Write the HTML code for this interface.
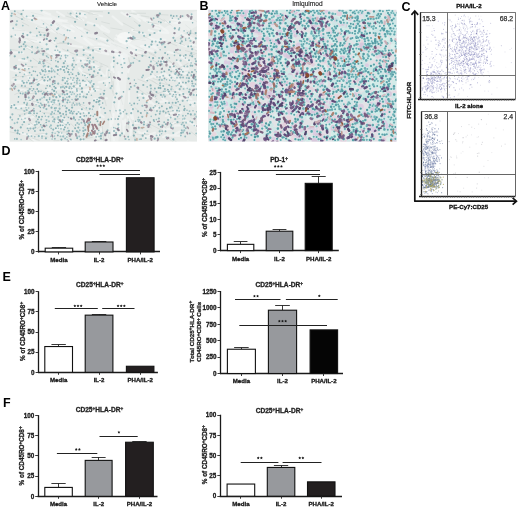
<!DOCTYPE html><html><head><meta charset="utf-8"><style>html,body{margin:0;padding:0;background:#fff;width:520px;height:510px;overflow:hidden}svg{display:block;filter:blur(0.35px)}text{font-family:"Liberation Sans",sans-serif}</style></head><body>
<svg width="520" height="510" viewBox="0 0 520 510">
<rect width="520" height="510" fill="#fff"/>
<defs><filter id="bl" x="-5%" y="-5%" width="110%" height="110%"><feGaussianBlur stdDeviation="0.55"/></filter><filter id="bl2" x="-5%" y="-5%" width="110%" height="110%"><feGaussianBlur stdDeviation="0.3"/></filter></defs>
<clipPath id="cA"><rect x="9.6" y="9.8" width="187.4" height="131.79999999999998"/></clipPath>
<rect x="9.6" y="9.8" width="187.4" height="131.79999999999998" fill="#eef0ef"/>
<g clip-path="url(#cA)"><g filter="url(#bl)">
<rect x="9.6" y="9.8" width="187.4" height="131.79999999999998" fill="#e6eae8"/>
<path d="M147.6 99.0l4.3 3.9M14.6 36.0l8.9 4.4M160.6 101.8l6.4 -0.6M168.4 89.4l9.5 6.6M165.0 91.3l7.8 6.5M24.6 40.5l7.5 0.5M59.6 133.3l9.8 3.8M195.0 94.2l10.9 2.6M68.7 45.1l13.3 2.0M181.0 70.3l7.1 -1.5M84.4 38.7l7.3 6.2M158.0 65.4l7.4 -4.1M11.8 104.8l9.0 4.0M94.6 135.5l5.6 4.8M65.5 94.0l6.1 2.0M9.7 52.5l13.4 0.2M174.1 134.6l8.4 -4.3M98.7 82.3l12.6 -2.6M47.3 50.9l8.3 7.0M73.0 87.3l6.8 -1.8M170.7 19.1l10.9 1.8M98.2 113.2l5.5 3.9M146.2 98.5l3.8 4.5M45.2 68.9l7.5 0.2M112.7 16.5l9.6 8.1M100.6 38.0l5.3 1.5M94.9 65.6l9.4 10.4M191.1 86.1l11.5 2.5M39.1 136.4l5.9 -3.1M176.4 42.3l9.7 4.3M47.9 104.2l8.3 -2.1M23.2 70.2l8.7 10.9M174.7 125.7l6.4 -0.3M132.2 10.8l6.5 4.2M29.7 82.7l10.3 -2.0M101.2 129.1l-0.5 5.8M129.0 44.3l8.7 4.9M179.0 81.7l8.1 6.2M158.8 123.2l5.0 4.7M85.8 91.6l12.5 -4.8M14.2 106.9l13.3 -1.4M157.2 24.0l10.4 7.3M158.6 39.8l6.7 0.1M129.8 62.5l-1.6 9.7M190.0 44.8l8.9 0.7M81.8 85.8l11.1 -2.5M148.6 98.2l5.6 -0.3M144.5 49.4l8.5 1.9M185.8 99.1l7.7 7.2M90.2 86.2l8.5 3.4M158.8 32.2l9.6 0.6M135.7 39.4l5.2 0.7M87.3 92.8l10.7 -3.4M150.3 111.3l8.0 -3.8M56.3 121.6l12.2 1.0M176.7 90.5l8.5 4.4M98.6 44.0l10.6 1.8M24.1 47.5l7.7 1.5M142.0 18.3l9.5 2.8M119.1 101.5l-1.1 11.8M169.5 135.5l11.7 0.3M91.3 13.6l10.8 2.6M126.2 13.4l9.7 2.7M19.0 59.8l7.9 1.2M56.9 20.6l9.9 0.1M131.7 109.2l-1.0 6.7M115.3 38.5l10.5 5.6M163.1 137.0l4.7 -2.2M143.6 19.8l9.4 4.9M32.3 139.5l6.8 4.4M168.8 118.2l12.3 -5.8M147.1 137.0l12.0 -2.4M59.9 122.1l4.6 3.5M80.6 13.6l5.5 3.7M141.0 46.2l13.5 0.1M139.0 94.9l12.0 1.6M118.6 72.2l0.9 8.8M56.7 25.7l6.0 0.8M100.3 105.3l-1.6 9.6M43.2 11.7l7.0 2.7M172.3 74.5l7.7 6.6M186.0 72.8l6.9 5.1M115.1 49.8l4.7 3.9M107.5 69.2l2.0 12.6M148.3 134.7l6.6 -2.0M10.1 69.2l7.3 2.2M138.4 131.6l8.9 5.8M131.0 129.5l-0.4 5.6M63.7 26.2l10.0 5.2M17.1 66.7l7.2 -0.8M187.8 141.5l6.8 2.9M181.3 33.7l9.8 4.3M135.2 122.8l11.2 -1.2M94.8 51.3l13.4 3.1M111.3 64.3l2.5 7.9M112.5 132.1l1.8 11.1M39.3 82.4l5.7 1.3M165.5 75.5l8.5 4.4M112.9 60.4l-1.3 9.5M87.4 132.9l12.2 2.0M101.4 29.4l7.5 3.0M45.0 101.7l6.9 1.8M161.7 60.7l11.4 4.8M120.2 124.4l-0.9 8.9M132.3 30.1l13.0 4.4M169.3 123.1l7.8 -0.2M22.4 93.0l9.9 9.8M173.1 68.3l11.9 5.6M36.9 79.8l11.8 3.0M54.7 130.1l8.5 -3.4M178.5 99.1l8.4 -3.2M56.5 121.2l8.1 -2.5M195.6 48.7l8.5 6.9M18.8 89.7l13.0 1.9M128.9 91.6l0.2 11.5M130.7 50.5l9.7 3.1M42.5 27.2l12.8 5.1M164.1 73.3l9.6 6.7M190.7 123.2l12.2 6.5M12.2 80.5l11.0 0.9M29.9 40.6l13.0 0.2M164.0 129.7l8.6 -1.3M27.8 126.7l8.4 -3.5M148.7 30.2l5.6 1.7M79.0 68.2l8.6 9.3M76.8 62.3l5.8 -1.9M121.5 12.6l6.1 3.8M48.4 38.3l6.5 4.6M36.7 26.9l6.5 1.1M54.2 52.5l5.4 0.7M155.4 77.4l8.6 -4.0M107.3 70.2l-0.9 5.5M180.1 19.5l10.5 0.6M70.5 140.9l8.9 1.8M131.6 111.1l-0.1 6.9M87.6 22.3l10.5 3.2M165.5 22.1l11.6 0.8M71.4 25.9l10.7 2.7M122.1 56.1l0.5 6.9M78.5 110.3l11.8 3.2M130.0 13.3l9.9 7.5M73.3 10.6l8.3 5.8M149.4 38.2l7.7 2.3M25.5 16.7l10.5 1.2M92.4 45.8l5.2 3.0M134.6 15.8l10.0 2.8M57.5 53.0l11.7 0.1M165.8 116.1l11.2 -6.0M117.5 85.4l-0.0 8.8M125.4 119.5l-0.8 5.7M83.8 50.7l7.8 1.9M179.4 55.8l10.8 6.0M122.5 110.0l0.2 6.6M93.7 131.6l10.4 2.6M22.4 68.1l7.4 -1.1M20.3 119.4l11.3 -6.0M113.5 114.2l-1.1 9.0M37.9 18.0l13.1 0.9M56.0 67.5l9.7 0.6M73.0 88.6l9.0 6.0M145.2 96.3l9.3 8.9M190.9 101.9l10.4 -0.1M162.0 98.1l9.3 7.0M77.4 57.6l6.9 0.9M24.1 121.1l10.8 -5.2M153.2 27.1l6.2 1.7M91.6 64.0l6.5 2.9M109.7 50.6l7.8 4.9M96.1 46.9l9.4 2.6M56.5 94.3l7.6 6.5M152.6 45.8l5.1 3.7M75.1 13.3l9.5 0.4M184.0 120.4l11.3 4.4M35.6 102.8l5.0 0.4M145.9 79.4l6.9 -3.2M95.3 24.4l8.4 6.1M90.0 90.8l8.5 -2.1M108.2 76.7l-1.7 9.8M57.1 11.9l6.9 4.2M71.9 15.6l11.4 4.6M128.0 116.8l4.5 11.1M17.5 132.8l13.7 2.4M76.5 112.7l6.1 5.1M177.3 60.8l6.2 7.2M145.9 20.2l11.3 5.1M67.0 89.2l11.2 0.4M196.7 46.0l10.5 8.6M136.9 135.4l9.7 -3.9M78.2 60.3l10.1 2.6M117.2 79.6l2.0 10.7M82.1 83.8l7.2 -1.5M101.7 26.0l7.5 5.1M168.1 51.9l5.4 1.3M183.4 93.8l8.0 5.3M14.5 82.8l12.2 -0.6M196.9 104.5l11.7 2.2M93.9 99.4l12.9 -1.1M90.7 129.8l5.3 -3.0M74.4 133.8l9.3 8.5M66.3 80.1l6.4 1.0M123.0 120.8l1.0 12.4M131.6 110.9l1.8 10.6M100.1 115.9l0.1 7.7M47.8 89.8l11.4 -1.5M79.0 83.8l9.1 -1.1M81.6 90.9l12.5 -2.9M152.6 75.5l9.3 1.6M190.8 38.2l5.3 1.3M110.2 121.5l2.1 12.8M116.5 35.5l5.2 2.1" stroke="#eff2f1" stroke-width="2.2" stroke-linecap="round" fill="none"/>
<path d="M129.4 13.1l6.9 1.3M88.7 13.7l9.4 1.5M50.9 87.5l4.1 2.9M189.0 54.2l5.9 0.4M110.1 138.1l1.9 9.8M141.6 15.8l7.5 1.2M128.7 57.9l1.4 6.8M41.7 105.9l7.9 -2.9M167.6 112.1l5.1 -1.3M173.8 51.3l7.7 3.8M114.8 44.4l12.0 5.2M26.6 16.0l10.6 0.8M196.3 79.5l8.3 9.6M59.6 94.3l8.1 -3.7M103.4 33.3l10.3 7.7M152.5 80.9l8.2 5.3M174.3 119.4l5.5 -0.8M22.6 110.0l5.3 3.2M88.9 37.7l10.8 4.3M91.7 78.0l6.4 -2.9M22.9 93.0l12.7 -3.3M49.7 27.2l8.0 6.2M27.8 66.6l9.2 0.3M85.1 54.5l6.0 4.1M56.4 131.5l12.7 0.8M191.2 131.9l5.1 4.0M80.6 139.7l11.8 -2.4M113.8 104.5l2.5 7.3M20.3 86.8l12.5 1.9M121.1 98.8l1.7 5.8M88.2 86.7l13.2 2.5M135.5 49.3l11.5 2.6M23.3 37.9l13.2 2.5M165.8 102.5l13.2 4.3M133.9 133.6l2.0 5.7M144.1 36.6l6.7 3.2M89.0 46.3l11.9 0.0M89.7 11.1l12.9 0.7M37.4 26.6l12.8 2.8M56.4 23.3l11.1 6.7M171.6 138.5l10.6 7.5M159.9 123.7l6.0 4.3M51.3 117.4l7.7 0.7M71.1 123.7l5.0 5.6M185.6 25.0l5.1 4.2M146.1 51.1l8.8 4.0M9.9 131.8l11.2 2.4M134.1 53.3l12.3 2.8M85.0 48.8l8.7 0.8M66.0 82.0l6.3 -4.3M92.5 38.0l12.4 4.3M128.2 54.0l9.9 6.4M55.5 72.4l4.4 3.5M102.2 42.0l4.5 2.2M42.6 136.1l5.4 1.0M134.7 140.0l0.9 13.5M165.2 82.0l8.6 7.9M153.1 78.5l7.0 2.5M110.8 28.0l11.1 1.8M87.5 37.1l12.6 3.8M80.9 10.6l11.4 2.9M111.9 89.3l2.0 6.7M85.4 31.6l5.8 2.0M14.7 94.5l8.4 -3.5M152.3 59.8l10.8 6.3M197.0 55.9l10.8 5.3M13.4 29.9l11.0 1.0M41.0 89.8l5.2 3.0M68.1 99.1l5.7 6.4M28.7 111.6l8.1 6.5M89.9 58.6l7.6 2.8M128.7 119.0l-0.0 8.9M110.5 73.5l1.8 11.4M174.8 41.9l9.9 3.4M49.4 115.0l12.9 -1.2M25.6 104.7l11.7 1.6M27.0 39.0l6.9 3.6M149.4 53.4l6.6 3.5M110.0 110.3l2.1 6.6M62.6 23.0l7.0 1.0M192.2 82.7l5.5 2.6M97.6 67.9l5.2 -1.7M23.5 92.8l5.5 -3.1M152.9 89.7l5.9 3.9M195.1 50.0l9.5 4.4M133.4 30.5l5.6 0.7M53.0 103.0l8.2 4.0M133.5 132.9l1.6 9.8M40.7 50.3l8.8 5.1M186.3 75.8l5.7 0.8M26.7 136.6l8.1 6.2M17.1 109.5l10.8 1.1M101.7 21.8l7.8 1.9M63.6 134.4l8.1 5.8M85.3 77.6l6.9 8.4M151.4 92.2l5.9 3.5M32.4 138.1l6.8 2.2M195.5 130.1l6.0 0.6M60.8 119.8l4.6 5.5M174.4 123.7l11.9 -2.2M62.6 49.1l12.8 5.6M113.0 81.4l1.2 7.8M154.9 15.6l9.8 5.7M193.4 75.1l8.1 -4.9M108.2 70.0l-0.1 8.7M73.0 101.1l11.8 4.6M144.3 109.9l4.0 3.5M149.5 67.0l9.6 -4.7M18.2 114.7l8.3 -1.3M41.5 20.2l8.7 6.1M57.2 43.5l12.2 0.1M74.4 87.2l8.3 3.1M100.2 41.1l9.4 4.0M61.0 84.4l10.6 4.9M63.2 115.1l7.8 2.5M133.1 120.3l0.6 13.1M146.8 21.7l11.5 2.4M109.1 130.2l-0.6 7.3M73.1 25.0l4.9 3.9M190.9 115.8l12.1 -0.6M135.6 86.8l10.8 8.0M114.8 130.4l1.6 5.3M35.8 134.5l9.3 -1.3M135.2 107.7l6.0 6.4M101.3 63.6l-0.8 5.2M28.2 100.2l13.5 3.0M168.5 69.7l9.9 4.1M33.2 84.2l10.4 -5.7M37.3 128.5l10.5 -7.1M133.5 13.2l12.1 0.1M148.6 79.1l8.1 4.6M186.8 15.5l10.9 6.7M99.4 62.7l8.6 3.9M21.9 46.0l9.0 4.3M123.1 22.9l11.2 6.0M94.2 39.9l8.8 2.1M79.7 29.9l4.5 3.4M161.7 83.1l9.7 2.8M150.2 124.2l12.2 6.4M132.7 39.4l12.6 1.0M168.0 138.2l8.5 6.2M59.7 33.6l6.9 3.7M84.7 28.5l4.8 2.3M78.9 104.9l8.5 5.4M135.9 45.7l8.4 4.2M90.2 47.1l8.3 4.3M11.0 49.5l6.2 0.9M42.5 59.9l8.4 4.5M17.5 12.3l10.2 7.7M31.2 12.5l11.9 2.8M167.9 41.9l8.9 3.9M41.1 77.1l8.7 -4.0M162.3 40.9l6.7 0.7M154.4 74.9l10.2 6.0M126.6 123.7l0.3 6.4M20.1 76.7l9.0 -1.2M169.9 90.9l9.0 1.5M161.4 95.7l9.2 -1.1M74.0 103.9l6.5 1.0M39.3 58.9l8.5 1.7M22.0 22.3l6.7 3.5M72.1 86.6l7.5 -3.1M185.4 50.6l11.7 3.2M138.0 79.2l8.2 3.2M187.2 73.9l6.0 -1.6M166.1 126.3l6.9 -4.2M165.4 111.4l5.3 3.7M92.8 47.4l7.8 4.5M166.1 58.3l10.9 8.5M190.7 117.5l5.1 3.5M28.8 121.3l5.9 4.7M91.6 134.5l8.7 -2.4M53.8 140.9l5.2 -0.2M35.4 47.6l9.4 6.2M24.4 43.5l8.3 5.5M66.0 16.1l11.6 3.5M12.7 77.7l6.1 -1.5M134.1 21.1l4.4 3.5M82.8 71.8l13.0 4.8M147.0 92.6l9.9 6.1M42.4 112.5l11.2 1.1M95.4 48.5l6.8 0.2M111.4 43.2l5.8 3.4M32.9 58.3l9.5 6.8M102.8 131.6l1.3 12.1M111.8 52.1l10.9 0.6M75.5 15.4l6.7 4.7M23.7 93.8l12.2 -0.7M156.0 14.4l12.0 0.6M136.9 134.9l11.9 -0.5M56.4 24.8l8.3 4.7M93.2 141.1l13.1 -2.3M178.0 68.5l9.9 -5.0M111.2 127.3l-1.0 11.4M32.3 36.3l12.1 1.2M113.0 90.5l2.8 7.3M163.9 19.5l8.4 6.8M155.8 94.1l13.0 -4.4M38.3 31.5l11.1 2.5M56.6 93.5l6.0 1.4M186.1 30.1l10.3 5.1M14.9 15.8l9.2 4.4M102.9 92.5l3.3 13.2M23.3 17.7l8.9 2.8M147.2 123.3l4.0 4.7M59.7 42.5l7.6 0.5M39.5 53.0l7.2 3.1M67.4 12.9l7.5 5.9M102.3 126.1l0.3 9.2M145.9 110.5l8.6 -0.4" stroke="#d4dad8" stroke-width="0.8" stroke-linecap="round" fill="none"/>
<path d="M30,14 L60,26 L90,40 L120,52 L150,44 L197,18" stroke="#f6f8f7" stroke-width="14" stroke-opacity="0.4" fill="none" stroke-linecap="round" stroke-linejoin="round"/>
<path d="M122,58 L120,90 L116,120 L112,142" stroke="#f6f8f7" stroke-width="12" stroke-opacity="0.4" fill="none" stroke-linecap="round" stroke-linejoin="round"/>
<path d="M10,30 L40,40 L70,60" stroke="#f6f8f7" stroke-width="8" stroke-opacity="0.4" fill="none" stroke-linecap="round" stroke-linejoin="round"/>
<ellipse cx="125" cy="38" rx="8" ry="6" fill="#f8f9f8" fill-opacity="0.8"/>
<g opacity="0.8">
<path d="M14.8 11.2l0.0 0.0M108.7 13.0l0.0 0.0M22.0 19.1l0.0 0.0M94.4 25.4l0.0 0.0M57.0 29.4l0.0 0.0M23.1 33.7l0.0 0.0M11.4 36.5l0.0 0.0M63.5 41.7l0.0 0.0M180.4 43.3l0.0 0.0M165.1 53.0l0.0 0.0M51.6 56.0l0.0 0.0M77.1 54.7l0.0 0.0M27.6 57.5l0.0 0.0M60.5 58.5l0.0 0.0M113.7 57.5l0.0 0.0M72.5 64.3l0.0 0.0M85.1 64.2l0.0 0.0M117.5 63.3l0.0 0.0M64.4 66.8l0.0 0.0M72.2 65.6l0.0 0.0M82.0 65.9l0.0 0.0M192.3 65.8l0.0 0.0M66.6 68.3l0.0 0.0M29.6 72.6l0.0 0.0M33.5 71.1l0.0 0.0M176.1 72.8l0.0 0.0M182.9 71.7l0.0 0.0M89.8 74.6l0.0 0.0M101.3 75.6l0.0 0.0M171.4 77.8l0.0 0.0M147.3 80.6l0.0 0.0M52.7 84.2l0.0 0.0M54.9 83.2l0.0 0.0M192.4 83.6l0.0 0.0M15.4 86.5l0.0 0.0M21.8 85.8l0.0 0.0M49.9 86.0l0.0 0.0M169.2 85.1l0.0 0.0M181.0 86.5l0.0 0.0M37.2 89.0l0.0 0.0M76.8 89.1l0.0 0.0M138.3 88.9l0.0 0.0M154.9 88.5l0.0 0.0M95.2 90.9l0.0 0.0M156.5 92.0l0.0 0.0M42.6 93.7l0.0 0.0M87.1 94.3l0.0 0.0M190.7 94.7l0.0 0.0M58.4 100.7l0.0 0.0M24.2 102.7l0.0 0.0M67.3 102.5l0.0 0.0M146.7 102.4l0.0 0.0M180.0 104.6l0.0 0.0M54.8 108.2l0.0 0.0M150.6 108.2l0.0 0.0M63.2 114.0l0.0 0.0M66.2 114.5l0.0 0.0M80.4 113.8l0.0 0.0M155.7 114.6l0.0 0.0M159.7 113.7l0.0 0.0M42.1 116.6l0.0 0.0M84.3 115.9l0.0 0.0M100.1 117.4l0.0 0.0M18.3 118.9l0.0 0.0M96.2 119.1l0.0 0.0M108.4 119.5l0.0 0.0M153.7 120.0l0.0 0.0M84.7 123.0l0.0 0.0M100.9 122.0l0.0 0.0M144.1 122.0l0.0 0.0M35.0 124.9l0.0 0.0M147.3 125.4l0.0 0.0M171.4 124.9l0.0 0.0M75.1 128.2l0.0 0.0M72.6 131.2l0.0 0.0M114.0 131.0l0.0 0.0M71.8 134.0l0.0 0.0M97.5 134.0l0.0 0.0M116.1 132.9l0.0 0.0M28.4 136.2l0.0 0.0M128.2 136.7l0.0 0.0M70.8 139.4l0.0 0.0M145.8 138.1l0.0 0.0" stroke="#78a8ae" stroke-width="1.9" stroke-linecap="round" fill="none"/>
<path d="M23.2 9.9l0.0 0.0M157.6 16.9l0.0 0.0M173.6 16.1l0.0 0.0M182.5 16.1l0.0 0.0M160.8 22.4l0.0 0.0M128.3 38.3l0.0 0.0M159.6 42.2l0.0 0.0M23.6 44.2l0.0 0.0M145.3 45.2l0.0 0.0M32.1 46.7l0.0 0.0M56.4 46.5l0.0 0.0M188.2 46.4l0.0 0.0M76.4 51.7l0.0 0.0M58.0 61.7l0.0 0.0M189.0 60.2l0.0 0.0M89.4 62.9l0.0 0.0M16.0 65.8l0.0 0.0M48.4 66.8l0.0 0.0M62.6 66.9l0.0 0.0M170.0 67.0l0.0 0.0M173.8 66.3l0.0 0.0M18.9 69.1l0.0 0.0M164.3 71.4l0.0 0.0M192.0 72.0l0.0 0.0M16.0 75.2l0.0 0.0M72.5 74.1l0.0 0.0M169.6 75.2l0.0 0.0M187.5 75.0l0.0 0.0M191.4 75.3l0.0 0.0M42.4 77.4l0.0 0.0M164.5 78.5l0.0 0.0M192.0 81.3l0.0 0.0M65.3 83.3l0.0 0.0M179.2 83.1l0.0 0.0M185.9 82.7l0.0 0.0M54.2 86.6l0.0 0.0M130.9 86.9l0.0 0.0M167.9 89.6l0.0 0.0M137.3 91.9l0.0 0.0M54.8 94.2l0.0 0.0M179.6 94.9l0.0 0.0M99.3 97.8l0.0 0.0M137.6 97.8l0.0 0.0M53.1 100.1l0.0 0.0M54.7 100.1l0.0 0.0M77.9 99.0l0.0 0.0M98.5 101.8l0.0 0.0M134.2 103.5l0.0 0.0M194.7 103.1l0.0 0.0M26.8 104.9l0.0 0.0M161.9 106.3l0.0 0.0M81.9 109.2l0.0 0.0M153.5 107.6l0.0 0.0M166.8 108.8l0.0 0.0M184.7 108.7l0.0 0.0M71.3 111.2l0.0 0.0M29.1 113.3l0.0 0.0M140.9 113.0l0.0 0.0M188.0 113.6l0.0 0.0M64.3 117.4l0.0 0.0M73.8 117.2l0.0 0.0M118.0 119.0l0.0 0.0M61.9 121.9l0.0 0.0M90.2 122.3l0.0 0.0M97.5 121.2l0.0 0.0M128.6 122.3l0.0 0.0M60.4 125.3l0.0 0.0M165.8 124.1l0.0 0.0M184.1 125.5l0.0 0.0M55.9 128.3l0.0 0.0M64.9 127.2l0.0 0.0M160.7 126.8l0.0 0.0M40.4 130.2l0.0 0.0M118.2 129.9l0.0 0.0M165.5 131.3l0.0 0.0M189.8 133.4l0.0 0.0M57.8 135.4l0.0 0.0M141.0 139.1l0.0 0.0" stroke="#70a2a8" stroke-width="1.9" stroke-linecap="round" fill="none"/>
<path d="M41.6 10.5l0.0 0.0M16.3 24.7l0.0 0.0M51.3 25.1l0.0 0.0M178.9 29.7l0.0 0.0M144.1 35.8l0.0 0.0M180.9 38.5l0.0 0.0M190.5 40.9l0.0 0.0M46.6 44.3l0.0 0.0M161.9 44.4l0.0 0.0M25.6 46.2l0.0 0.0M149.2 46.8l0.0 0.0M46.7 49.3l0.0 0.0M59.7 52.1l0.0 0.0M56.2 55.2l0.0 0.0M83.6 54.8l0.0 0.0M90.1 55.2l0.0 0.0M24.2 58.8l0.0 0.0M93.1 57.7l0.0 0.0M159.1 58.0l0.0 0.0M73.8 60.5l0.0 0.0M89.6 61.2l0.0 0.0M139.4 61.0l0.0 0.0M151.0 61.5l0.0 0.0M180.7 60.7l0.0 0.0M124.5 63.0l0.0 0.0M130.9 63.4l0.0 0.0M94.0 67.2l0.0 0.0M91.2 69.0l0.0 0.0M99.6 69.9l0.0 0.0M194.0 74.7l0.0 0.0M48.0 76.9l0.0 0.0M64.5 77.9l0.0 0.0M22.4 81.1l0.0 0.0M67.0 81.3l0.0 0.0M161.9 80.0l0.0 0.0M90.4 82.5l0.0 0.0M160.1 83.3l0.0 0.0M62.9 86.9l0.0 0.0M69.8 86.8l0.0 0.0M80.0 85.9l0.0 0.0M9.9 88.8l0.0 0.0M93.9 89.1l0.0 0.0M110.6 88.2l0.0 0.0M171.2 89.3l0.0 0.0M28.3 90.9l0.0 0.0M77.0 90.9l0.0 0.0M22.7 93.7l0.0 0.0M142.4 93.9l0.0 0.0M193.7 94.9l0.0 0.0M28.7 97.7l0.0 0.0M63.1 97.9l0.0 0.0M76.3 96.4l0.0 0.0M101.8 97.5l0.0 0.0M48.2 102.0l0.0 0.0M51.6 101.9l0.0 0.0M54.2 102.3l0.0 0.0M169.1 102.9l0.0 0.0M39.3 106.1l0.0 0.0M99.4 104.5l0.0 0.0M142.4 105.8l0.0 0.0M15.9 108.2l0.0 0.0M56.0 108.0l0.0 0.0M119.8 110.3l0.0 0.0M160.2 111.6l0.0 0.0M51.2 114.2l0.0 0.0M70.1 112.9l0.0 0.0M194.8 114.3l0.0 0.0M58.3 117.1l0.0 0.0M61.0 116.1l0.0 0.0M46.5 120.1l0.0 0.0M168.1 119.9l0.0 0.0M175.2 119.1l0.0 0.0M184.5 118.6l0.0 0.0M67.9 122.8l0.0 0.0M77.4 123.1l0.0 0.0M50.9 125.4l0.0 0.0M99.2 124.7l0.0 0.0M149.9 124.4l0.0 0.0M42.1 127.3l0.0 0.0M83.4 127.8l0.0 0.0M184.2 130.4l0.0 0.0M46.4 133.8l0.0 0.0M78.4 132.3l0.0 0.0M94.7 132.5l0.0 0.0M173.3 133.1l0.0 0.0M183.0 132.4l0.0 0.0M69.5 135.6l0.0 0.0M79.3 136.5l0.0 0.0M88.9 135.6l0.0 0.0M135.3 139.8l0.0 0.0" stroke="#8ebabe" stroke-width="2.2" stroke-linecap="round" fill="none"/>
<path d="M11.9 13.4l0.0 0.0M191.6 14.3l0.0 0.0M176.7 15.9l0.0 0.0M153.6 18.3l0.0 0.0M17.0 21.1l0.0 0.0M169.9 22.0l0.0 0.0M85.8 24.7l0.0 0.0M13.2 28.2l0.0 0.0M87.2 32.8l0.0 0.0M22.1 36.2l0.0 0.0M64.2 34.9l0.0 0.0M134.8 38.0l0.0 0.0M189.2 38.1l0.0 0.0M157.5 45.1l0.0 0.0M19.4 47.0l0.0 0.0M191.2 46.3l0.0 0.0M48.0 49.0l0.0 0.0M136.2 49.9l0.0 0.0M32.1 52.2l0.0 0.0M43.0 54.7l0.0 0.0M46.8 56.3l0.0 0.0M119.2 55.6l0.0 0.0M73.0 58.1l0.0 0.0M65.2 61.1l0.0 0.0M80.8 60.8l0.0 0.0M176.7 60.1l0.0 0.0M133.2 62.8l0.0 0.0M156.7 63.2l0.0 0.0M43.6 66.5l0.0 0.0M67.7 66.0l0.0 0.0M83.5 67.2l0.0 0.0M187.4 66.4l0.0 0.0M72.7 69.5l0.0 0.0M97.9 73.0l0.0 0.0M69.3 74.4l0.0 0.0M143.1 75.5l0.0 0.0M150.8 74.3l0.0 0.0M54.6 76.7l0.0 0.0M67.9 78.6l0.0 0.0M183.1 77.5l0.0 0.0M159.4 79.7l0.0 0.0M71.2 83.7l0.0 0.0M77.0 83.0l0.0 0.0M182.9 82.4l0.0 0.0M25.1 86.1l0.0 0.0M86.2 85.0l0.0 0.0M52.2 89.6l0.0 0.0M69.2 88.2l0.0 0.0M129.6 89.1l0.0 0.0M151.0 88.5l0.0 0.0M196.2 89.1l0.0 0.0M70.2 92.0l0.0 0.0M104.4 90.6l0.0 0.0M64.8 94.5l0.0 0.0M79.9 96.7l0.0 0.0M115.2 97.5l0.0 0.0M185.0 97.5l0.0 0.0M32.2 99.1l0.0 0.0M67.9 100.2l0.0 0.0M18.2 101.9l0.0 0.0M40.7 103.4l0.0 0.0M172.6 102.7l0.0 0.0M42.0 105.0l0.0 0.0M21.3 108.4l0.0 0.0M159.4 107.8l0.0 0.0M52.1 112.0l0.0 0.0M157.0 111.0l0.0 0.0M30.5 113.2l0.0 0.0M34.1 113.2l0.0 0.0M126.6 113.8l0.0 0.0M48.5 116.6l0.0 0.0M170.7 117.5l0.0 0.0M37.9 119.4l0.0 0.0M41.3 119.5l0.0 0.0M17.3 122.5l0.0 0.0M138.6 121.4l0.0 0.0M164.2 122.3l0.0 0.0M182.9 122.8l0.0 0.0M181.6 124.4l0.0 0.0M27.6 128.4l0.0 0.0M35.4 127.5l0.0 0.0M170.9 126.9l0.0 0.0M185.8 128.3l0.0 0.0M34.9 131.0l0.0 0.0M107.6 130.3l0.0 0.0M147.3 131.1l0.0 0.0M52.4 132.7l0.0 0.0M58.9 132.6l0.0 0.0M67.3 134.2l0.0 0.0M31.5 136.1l0.0 0.0M42.0 136.2l0.0 0.0M166.3 137.1l0.0 0.0M180.9 135.5l0.0 0.0M185.2 136.5l0.0 0.0M54.9 138.7l0.0 0.0M65.1 138.5l0.0 0.0M83.6 139.2l0.0 0.0" stroke="#84b0b6" stroke-width="1.9" stroke-linecap="round" fill="none"/>
<path d="M21.4 14.0l0.0 0.0M79.9 13.7l0.0 0.0M159.8 13.7l0.0 0.0M33.1 15.8l0.0 0.0M76.8 16.5l0.0 0.0M32.1 20.1l0.0 0.0M75.1 21.8l0.0 0.0M139.5 25.6l0.0 0.0M174.8 28.4l0.0 0.0M139.3 32.4l0.0 0.0M190.3 33.3l0.0 0.0M149.9 34.9l0.0 0.0M46.7 38.9l0.0 0.0M55.8 38.3l0.0 0.0M132.8 38.7l0.0 0.0M160.8 39.2l0.0 0.0M152.1 41.7l0.0 0.0M38.7 51.6l0.0 0.0M180.1 55.5l0.0 0.0M192.2 56.3l0.0 0.0M153.1 58.2l0.0 0.0M148.8 67.1l0.0 0.0M57.9 70.1l0.0 0.0M42.9 71.1l0.0 0.0M68.1 72.1l0.0 0.0M78.7 74.1l0.0 0.0M77.4 78.6l0.0 0.0M128.6 78.6l0.0 0.0M193.8 78.3l0.0 0.0M44.4 80.4l0.0 0.0M83.0 80.5l0.0 0.0M23.8 82.8l0.0 0.0M30.0 83.4l0.0 0.0M37.7 85.0l0.0 0.0M92.6 86.4l0.0 0.0M55.6 88.2l0.0 0.0M81.9 88.4l0.0 0.0M160.4 88.1l0.0 0.0M18.7 90.6l0.0 0.0M38.6 91.3l0.0 0.0M54.1 90.9l0.0 0.0M168.8 91.5l0.0 0.0M189.1 91.9l0.0 0.0M67.2 94.1l0.0 0.0M103.9 93.8l0.0 0.0M183.3 94.0l0.0 0.0M69.3 96.7l0.0 0.0M94.0 100.5l0.0 0.0M99.5 100.8l0.0 0.0M58.2 111.3l0.0 0.0M163.4 111.4l0.0 0.0M60.0 113.1l0.0 0.0M76.7 113.8l0.0 0.0M88.9 113.1l0.0 0.0M190.8 114.4l0.0 0.0M10.2 117.4l0.0 0.0M39.0 117.1l0.0 0.0M80.3 117.0l0.0 0.0M54.4 119.4l0.0 0.0M24.1 122.0l0.0 0.0M38.9 122.6l0.0 0.0M192.2 122.3l0.0 0.0M158.8 124.5l0.0 0.0M162.6 125.5l0.0 0.0M93.3 128.3l0.0 0.0M134.7 127.8l0.0 0.0M138.8 127.7l0.0 0.0M15.2 130.5l0.0 0.0M84.0 133.8l0.0 0.0M90.5 133.0l0.0 0.0M133.8 135.6l0.0 0.0M142.7 135.7l0.0 0.0M61.4 139.6l0.0 0.0M77.2 138.1l0.0 0.0M80.6 139.4l0.0 0.0M100.9 138.5l0.0 0.0M154.7 138.7l0.0 0.0" stroke="#70a2a8" stroke-width="2.2" stroke-linecap="round" fill="none"/>
<path d="M70.6 13.5l0.0 0.0M171.0 15.5l0.0 0.0M152.5 24.7l0.0 0.0M58.2 28.3l0.0 0.0M30.4 32.5l0.0 0.0M154.5 33.0l0.0 0.0M27.4 35.1l0.0 0.0M133.3 36.8l0.0 0.0M24.8 42.1l0.0 0.0M126.6 41.2l0.0 0.0M181.8 41.4l0.0 0.0M24.1 49.2l0.0 0.0M192.2 49.2l0.0 0.0M19.0 52.4l0.0 0.0M155.4 52.5l0.0 0.0M191.3 53.4l0.0 0.0M65.5 55.6l0.0 0.0M161.0 61.6l0.0 0.0M196.0 61.3l0.0 0.0M161.7 64.1l0.0 0.0M86.8 66.1l0.0 0.0M14.4 68.6l0.0 0.0M51.6 68.6l0.0 0.0M60.6 69.2l0.0 0.0M178.7 69.0l0.0 0.0M45.5 71.4l0.0 0.0M152.1 71.9l0.0 0.0M175.3 73.9l0.0 0.0M178.5 75.1l0.0 0.0M181.4 75.0l0.0 0.0M189.0 78.2l0.0 0.0M54.7 81.1l0.0 0.0M62.7 80.2l0.0 0.0M26.8 82.5l0.0 0.0M58.2 83.7l0.0 0.0M67.8 83.8l0.0 0.0M111.8 86.1l0.0 0.0M193.8 86.2l0.0 0.0M29.8 89.1l0.0 0.0M164.8 89.1l0.0 0.0M179.7 89.2l0.0 0.0M189.7 89.5l0.0 0.0M35.9 93.7l0.0 0.0M52.2 94.2l0.0 0.0M44.2 97.2l0.0 0.0M83.6 96.7l0.0 0.0M143.4 97.9l0.0 0.0M164.9 96.6l0.0 0.0M40.2 99.5l0.0 0.0M65.3 99.4l0.0 0.0M177.0 99.3l0.0 0.0M182.7 100.8l0.0 0.0M48.9 105.7l0.0 0.0M190.4 104.8l0.0 0.0M43.7 107.6l0.0 0.0M46.4 109.1l0.0 0.0M59.6 108.7l0.0 0.0M89.8 108.8l0.0 0.0M132.9 109.2l0.0 0.0M26.6 110.0l0.0 0.0M29.7 112.0l0.0 0.0M34.0 110.9l0.0 0.0M138.0 111.3l0.0 0.0M12.4 114.3l0.0 0.0M105.2 113.0l0.0 0.0M120.5 113.4l0.0 0.0M131.2 113.2l0.0 0.0M147.2 113.2l0.0 0.0M142.3 116.8l0.0 0.0M62.6 120.2l0.0 0.0M82.1 119.3l0.0 0.0M139.6 120.2l0.0 0.0M158.9 118.5l0.0 0.0M36.4 121.7l0.0 0.0M88.0 123.1l0.0 0.0M85.3 125.2l0.0 0.0M118.3 124.4l0.0 0.0M132.9 125.2l0.0 0.0M30.4 128.5l0.0 0.0M17.8 130.7l0.0 0.0M64.0 129.6l0.0 0.0M76.9 131.2l0.0 0.0M83.3 130.9l0.0 0.0M85.3 129.9l0.0 0.0M181.8 130.3l0.0 0.0M122.0 133.4l0.0 0.0M38.8 136.2l0.0 0.0M63.2 136.4l0.0 0.0M16.9 138.9l0.0 0.0M125.5 139.0l0.0 0.0" stroke="#84b0b6" stroke-width="2.2" stroke-linecap="round" fill="none"/>
<path d="M76.5 13.2l0.0 0.0M129.8 16.5l0.0 0.0M96.3 19.0l0.0 0.0M192.6 22.8l0.0 0.0M36.6 28.4l0.0 0.0M179.5 28.0l0.0 0.0M75.0 37.9l0.0 0.0M96.6 38.7l0.0 0.0M54.5 40.7l0.0 0.0M21.2 46.4l0.0 0.0M127.2 47.8l0.0 0.0M43.2 53.5l0.0 0.0M174.4 52.3l0.0 0.0M9.6 55.7l0.0 0.0M88.0 58.3l0.0 0.0M169.4 58.0l0.0 0.0M25.8 64.4l0.0 0.0M76.0 64.7l0.0 0.0M122.1 67.5l0.0 0.0M24.9 68.9l0.0 0.0M28.8 68.7l0.0 0.0M45.2 69.4l0.0 0.0M68.8 69.5l0.0 0.0M162.3 68.4l0.0 0.0M176.1 69.6l0.0 0.0M64.8 72.1l0.0 0.0M37.4 75.4l0.0 0.0M84.9 75.6l0.0 0.0M51.6 77.4l0.0 0.0M73.8 78.0l0.0 0.0M109.1 77.3l0.0 0.0M47.7 80.8l0.0 0.0M76.9 80.9l0.0 0.0M103.6 83.0l0.0 0.0M135.9 83.5l0.0 0.0M47.2 85.7l0.0 0.0M160.1 85.5l0.0 0.0M33.6 88.9l0.0 0.0M45.9 88.4l0.0 0.0M64.6 88.1l0.0 0.0M88.8 92.1l0.0 0.0M123.5 91.9l0.0 0.0M165.0 91.2l0.0 0.0M20.4 93.4l0.0 0.0M169.9 93.9l0.0 0.0M18.6 96.9l0.0 0.0M30.0 100.2l0.0 0.0M49.6 99.4l0.0 0.0M73.2 103.1l0.0 0.0M178.1 101.8l0.0 0.0M11.6 105.7l0.0 0.0M59.5 104.7l0.0 0.0M184.1 106.2l0.0 0.0M40.4 107.5l0.0 0.0M101.0 107.4l0.0 0.0M178.5 108.1l0.0 0.0M40.3 111.2l0.0 0.0M123.4 111.7l0.0 0.0M179.2 111.0l0.0 0.0M37.0 113.4l0.0 0.0M94.9 114.4l0.0 0.0M169.3 114.3l0.0 0.0M118.9 116.4l0.0 0.0M58.4 122.5l0.0 0.0M154.2 121.2l0.0 0.0M40.7 124.7l0.0 0.0M75.6 125.0l0.0 0.0M128.2 124.0l0.0 0.0M28.6 130.6l0.0 0.0M92.9 129.5l0.0 0.0M159.7 135.1l0.0 0.0" stroke="#70a2a8" stroke-width="1.6" stroke-linecap="round" fill="none"/>
<path d="M84.9 14.5l0.0 0.0M148.5 22.3l0.0 0.0M46.5 27.2l0.0 0.0M69.8 30.6l0.0 0.0M184.1 30.9l0.0 0.0M181.3 35.2l0.0 0.0M57.7 50.3l0.0 0.0M176.1 50.6l0.0 0.0M67.7 55.7l0.0 0.0M174.5 55.4l0.0 0.0M22.3 58.8l0.0 0.0M134.2 58.3l0.0 0.0M161.7 57.9l0.0 0.0M42.7 61.6l0.0 0.0M55.7 60.8l0.0 0.0M191.1 62.9l0.0 0.0M32.2 67.1l0.0 0.0M91.5 67.2l0.0 0.0M113.6 66.9l0.0 0.0M53.4 70.1l0.0 0.0M108.9 70.2l0.0 0.0M71.0 72.5l0.0 0.0M196.3 71.7l0.0 0.0M24.4 74.4l0.0 0.0M44.5 74.9l0.0 0.0M57.5 74.0l0.0 0.0M82.7 75.1l0.0 0.0M45.3 77.5l0.0 0.0M70.7 77.6l0.0 0.0M87.4 77.5l0.0 0.0M157.0 77.1l0.0 0.0M79.4 80.4l0.0 0.0M84.9 81.2l0.0 0.0M89.0 81.3l0.0 0.0M91.5 80.9l0.0 0.0M74.5 82.5l0.0 0.0M105.3 85.2l0.0 0.0M147.2 86.9l0.0 0.0M176.2 85.9l0.0 0.0M187.2 88.4l0.0 0.0M25.7 92.5l0.0 0.0M58.8 95.3l0.0 0.0M74.2 93.9l0.0 0.0M42.0 98.1l0.0 0.0M155.5 96.2l0.0 0.0M162.3 97.0l0.0 0.0M72.0 99.5l0.0 0.0M38.1 102.6l0.0 0.0M69.8 102.2l0.0 0.0M76.9 103.7l0.0 0.0M36.1 104.8l0.0 0.0M46.2 104.8l0.0 0.0M52.7 104.5l0.0 0.0M77.0 105.0l0.0 0.0M80.0 104.9l0.0 0.0M25.9 107.8l0.0 0.0M28.7 108.0l0.0 0.0M86.4 107.9l0.0 0.0M92.4 109.2l0.0 0.0M110.0 110.8l0.0 0.0M196.6 111.8l0.0 0.0M45.4 116.3l0.0 0.0M52.9 116.9l0.0 0.0M138.5 117.4l0.0 0.0M151.2 116.4l0.0 0.0M21.6 119.2l0.0 0.0M25.1 118.4l0.0 0.0M57.9 119.1l0.0 0.0M156.4 119.6l0.0 0.0M182.8 119.1l0.0 0.0M194.1 118.5l0.0 0.0M29.0 124.3l0.0 0.0M194.3 125.6l0.0 0.0M49.7 126.9l0.0 0.0M58.5 128.2l0.0 0.0M67.8 128.1l0.0 0.0M96.7 127.0l0.0 0.0M115.5 128.2l0.0 0.0M118.5 127.6l0.0 0.0M142.2 128.4l0.0 0.0M57.9 131.5l0.0 0.0M67.1 131.3l0.0 0.0M134.1 131.2l0.0 0.0M27.0 134.0l0.0 0.0M55.1 133.3l0.0 0.0M61.7 133.0l0.0 0.0M144.7 133.6l0.0 0.0M161.6 133.7l0.0 0.0M50.9 136.4l0.0 0.0M54.5 136.1l0.0 0.0M66.8 137.1l0.0 0.0M21.1 139.6l0.0 0.0M52.1 139.1l0.0 0.0M67.2 139.7l0.0 0.0M139.5 139.3l0.0 0.0" stroke="#8ebabe" stroke-width="1.6" stroke-linecap="round" fill="none"/>
<path d="M11.4 15.8l0.0 0.0M179.6 22.7l0.0 0.0M195.7 33.1l0.0 0.0M40.5 34.9l0.0 0.0M44.5 35.2l0.0 0.0M173.4 37.8l0.0 0.0M195.8 38.4l0.0 0.0M107.4 40.6l0.0 0.0M175.0 40.7l0.0 0.0M68.3 43.7l0.0 0.0M151.4 44.7l0.0 0.0M163.4 43.4l0.0 0.0M88.5 47.7l0.0 0.0M165.1 47.0l0.0 0.0M83.7 50.1l0.0 0.0M93.0 50.4l0.0 0.0M99.9 49.0l0.0 0.0M14.8 56.3l0.0 0.0M142.4 55.8l0.0 0.0M185.7 55.0l0.0 0.0M113.9 61.1l0.0 0.0M163.8 61.6l0.0 0.0M43.6 63.3l0.0 0.0M63.8 63.2l0.0 0.0M56.2 66.4l0.0 0.0M157.7 65.6l0.0 0.0M190.7 65.6l0.0 0.0M63.9 70.1l0.0 0.0M169.0 69.8l0.0 0.0M49.1 71.2l0.0 0.0M51.6 71.4l0.0 0.0M94.2 71.3l0.0 0.0M93.1 75.3l0.0 0.0M180.4 77.5l0.0 0.0M195.3 76.8l0.0 0.0M15.5 79.9l0.0 0.0M49.9 79.4l0.0 0.0M188.6 81.3l0.0 0.0M195.6 79.7l0.0 0.0M32.8 82.6l0.0 0.0M38.7 84.2l0.0 0.0M93.7 84.1l0.0 0.0M66.3 86.8l0.0 0.0M73.8 86.4l0.0 0.0M143.3 85.0l0.0 0.0M150.6 85.4l0.0 0.0M163.2 86.0l0.0 0.0M158.7 87.9l0.0 0.0M82.1 91.8l0.0 0.0M175.2 92.1l0.0 0.0M27.4 93.6l0.0 0.0M116.5 93.6l0.0 0.0M160.9 94.9l0.0 0.0M196.9 95.2l0.0 0.0M53.2 96.6l0.0 0.0M56.3 97.2l0.0 0.0M59.9 96.6l0.0 0.0M86.1 97.3l0.0 0.0M37.2 100.2l0.0 0.0M46.8 100.1l0.0 0.0M75.5 99.4l0.0 0.0M63.1 101.7l0.0 0.0M96.4 102.1l0.0 0.0M114.3 102.3l0.0 0.0M156.6 101.9l0.0 0.0M175.8 102.8l0.0 0.0M14.3 105.0l0.0 0.0M93.2 106.4l0.0 0.0M11.2 107.5l0.0 0.0M51.5 107.7l0.0 0.0M66.6 108.2l0.0 0.0M72.1 107.6l0.0 0.0M170.0 107.7l0.0 0.0M66.0 111.6l0.0 0.0M69.1 110.2l0.0 0.0M177.0 110.5l0.0 0.0M184.2 110.1l0.0 0.0M72.6 113.4l0.0 0.0M59.3 120.1l0.0 0.0M73.8 118.5l0.0 0.0M177.5 122.2l0.0 0.0M43.9 125.6l0.0 0.0M57.8 125.8l0.0 0.0M143.9 124.5l0.0 0.0M10.7 127.1l0.0 0.0M20.8 127.4l0.0 0.0M33.5 128.6l0.0 0.0M78.3 127.6l0.0 0.0M43.4 130.2l0.0 0.0M53.3 129.6l0.0 0.0M68.9 130.8l0.0 0.0M159.7 131.3l0.0 0.0M17.6 133.2l0.0 0.0M109.3 133.0l0.0 0.0M181.2 132.9l0.0 0.0M100.9 135.9l0.0 0.0M120.2 135.4l0.0 0.0M45.9 138.3l0.0 0.0M157.9 138.4l0.0 0.0M173.3 139.4l0.0 0.0" stroke="#78a8ae" stroke-width="2.2" stroke-linecap="round" fill="none"/>
<path d="M26.6 16.4l0.0 0.0M178.6 19.0l0.0 0.0M22.8 25.6l0.0 0.0M67.6 30.2l0.0 0.0M160.2 30.7l0.0 0.0M142.8 32.7l0.0 0.0M36.9 35.8l0.0 0.0M155.7 41.5l0.0 0.0M37.6 47.5l0.0 0.0M10.6 50.3l0.0 0.0M180.1 50.1l0.0 0.0M21.6 52.2l0.0 0.0M35.1 53.4l0.0 0.0M30.7 60.7l0.0 0.0M39.8 61.6l0.0 0.0M93.7 61.9l0.0 0.0M166.7 61.1l0.0 0.0M40.0 62.9l0.0 0.0M121.1 64.6l0.0 0.0M22.7 65.8l0.0 0.0M44.9 65.7l0.0 0.0M73.9 67.3l0.0 0.0M88.8 69.7l0.0 0.0M54.6 71.5l0.0 0.0M78.2 72.7l0.0 0.0M157.1 71.9l0.0 0.0M161.5 72.2l0.0 0.0M188.9 72.4l0.0 0.0M31.6 75.0l0.0 0.0M163.2 75.7l0.0 0.0M33.9 78.2l0.0 0.0M142.1 77.3l0.0 0.0M160.0 77.0l0.0 0.0M177.0 77.7l0.0 0.0M186.7 77.9l0.0 0.0M36.8 79.6l0.0 0.0M72.8 80.1l0.0 0.0M80.2 83.5l0.0 0.0M61.0 86.9l0.0 0.0M134.5 85.8l0.0 0.0M177.8 85.1l0.0 0.0M183.6 88.9l0.0 0.0M63.6 91.0l0.0 0.0M66.5 90.6l0.0 0.0M72.5 92.3l0.0 0.0M62.7 94.0l0.0 0.0M71.5 94.4l0.0 0.0M80.0 94.3l0.0 0.0M100.5 94.1l0.0 0.0M163.6 94.8l0.0 0.0M25.5 97.5l0.0 0.0M49.7 98.0l0.0 0.0M121.8 96.4l0.0 0.0M172.5 96.3l0.0 0.0M187.3 100.6l0.0 0.0M27.2 103.2l0.0 0.0M131.5 105.1l0.0 0.0M33.8 108.6l0.0 0.0M24.3 111.0l0.0 0.0M55.3 110.4l0.0 0.0M78.5 111.9l0.0 0.0M189.5 111.1l0.0 0.0M182.9 115.8l0.0 0.0M12.2 119.8l0.0 0.0M29.0 119.1l0.0 0.0M138.0 119.7l0.0 0.0M14.6 123.2l0.0 0.0M49.0 121.2l0.0 0.0M52.9 121.3l0.0 0.0M81.4 122.7l0.0 0.0M186.1 122.7l0.0 0.0M190.3 121.4l0.0 0.0M22.4 124.6l0.0 0.0M36.8 124.3l0.0 0.0M46.5 125.4l0.0 0.0M66.2 124.6l0.0 0.0M79.1 124.3l0.0 0.0M61.0 128.7l0.0 0.0M173.2 127.9l0.0 0.0M79.8 130.2l0.0 0.0M162.3 131.3l0.0 0.0M101.1 133.7l0.0 0.0M102.5 132.9l0.0 0.0M196.2 133.4l0.0 0.0M60.5 136.4l0.0 0.0M99.1 136.4l0.0 0.0M156.6 135.4l0.0 0.0" stroke="#8ebabe" stroke-width="1.9" stroke-linecap="round" fill="none"/>
<path d="M58.7 16.7l0.0 0.0M172.4 18.3l0.0 0.0M158.8 21.8l0.0 0.0M190.7 31.0l0.0 0.0M39.3 32.3l0.0 0.0M68.2 37.7l0.0 0.0M185.6 39.1l0.0 0.0M40.0 42.2l0.0 0.0M42.0 48.8l0.0 0.0M55.1 50.2l0.0 0.0M67.7 50.3l0.0 0.0M145.9 53.0l0.0 0.0M190.0 55.6l0.0 0.0M65.8 57.8l0.0 0.0M149.3 57.4l0.0 0.0M195.2 58.9l0.0 0.0M51.3 60.3l0.0 0.0M158.4 61.2l0.0 0.0M38.8 63.3l0.0 0.0M195.0 63.8l0.0 0.0M58.0 67.1l0.0 0.0M184.2 66.4l0.0 0.0M41.8 69.9l0.0 0.0M195.0 69.9l0.0 0.0M19.9 72.5l0.0 0.0M35.4 71.6l0.0 0.0M122.1 72.9l0.0 0.0M171.1 71.6l0.0 0.0M76.2 75.8l0.0 0.0M22.9 76.8l0.0 0.0M62.7 77.8l0.0 0.0M169.7 80.3l0.0 0.0M195.5 84.0l0.0 0.0M14.0 88.1l0.0 0.0M60.8 87.8l0.0 0.0M41.0 91.4l0.0 0.0M43.9 92.4l0.0 0.0M150.8 91.2l0.0 0.0M173.5 94.5l0.0 0.0M176.1 94.8l0.0 0.0M34.2 96.5l0.0 0.0M175.7 97.0l0.0 0.0M25.6 99.8l0.0 0.0M97.1 99.5l0.0 0.0M89.9 102.5l0.0 0.0M102.7 103.1l0.0 0.0M158.8 103.3l0.0 0.0M165.6 102.9l0.0 0.0M62.7 105.7l0.0 0.0M65.1 106.1l0.0 0.0M74.7 105.0l0.0 0.0M155.1 105.9l0.0 0.0M104.1 108.4l0.0 0.0M74.0 111.6l0.0 0.0M144.8 110.5l0.0 0.0M168.2 111.6l0.0 0.0M173.0 110.7l0.0 0.0M83.5 113.0l0.0 0.0M165.8 112.9l0.0 0.0M178.9 114.7l0.0 0.0M19.9 115.9l0.0 0.0M36.3 115.9l0.0 0.0M86.4 115.7l0.0 0.0M90.6 115.6l0.0 0.0M177.6 116.8l0.0 0.0M75.3 119.9l0.0 0.0M111.3 119.1l0.0 0.0M46.2 122.5l0.0 0.0M135.5 121.2l0.0 0.0M170.4 123.2l0.0 0.0M62.8 125.4l0.0 0.0M98.7 130.4l0.0 0.0M19.5 134.1l0.0 0.0M135.5 132.4l0.0 0.0M83.4 135.7l0.0 0.0M96.1 136.9l0.0 0.0M14.7 138.9l0.0 0.0" stroke="#78a8ae" stroke-width="1.6" stroke-linecap="round" fill="none"/>
<path d="M43.5 23.9l0.0 0.0M128.8 32.7l0.0 0.0M187.4 32.9l0.0 0.0M15.3 35.1l0.0 0.0M81.8 36.2l0.0 0.0M185.7 40.5l0.0 0.0M160.2 49.8l0.0 0.0M61.3 55.9l0.0 0.0M167.7 54.6l0.0 0.0M183.7 56.0l0.0 0.0M48.2 57.6l0.0 0.0M56.8 57.2l0.0 0.0M123.9 58.7l0.0 0.0M185.4 58.1l0.0 0.0M87.1 60.7l0.0 0.0M181.4 69.8l0.0 0.0M40.0 72.9l0.0 0.0M179.9 71.8l0.0 0.0M40.8 74.3l0.0 0.0M29.7 78.0l0.0 0.0M93.7 77.0l0.0 0.0M28.5 80.6l0.0 0.0M134.4 80.1l0.0 0.0M166.5 79.7l0.0 0.0M172.9 80.3l0.0 0.0M174.9 80.8l0.0 0.0M109.5 82.8l0.0 0.0M31.4 86.5l0.0 0.0M171.8 86.7l0.0 0.0M192.0 85.9l0.0 0.0M71.8 88.4l0.0 0.0M89.8 89.5l0.0 0.0M32.2 90.7l0.0 0.0M35.3 91.7l0.0 0.0M47.5 91.5l0.0 0.0M56.4 92.0l0.0 0.0M163.5 91.3l0.0 0.0M44.9 93.7l0.0 0.0M48.3 93.7l0.0 0.0M77.5 94.7l0.0 0.0M91.4 95.3l0.0 0.0M66.9 97.2l0.0 0.0M188.2 97.4l0.0 0.0M62.2 100.8l0.0 0.0M139.3 100.2l0.0 0.0M59.5 103.6l0.0 0.0M79.3 103.2l0.0 0.0M83.6 102.9l0.0 0.0M129.9 103.2l0.0 0.0M137.5 103.7l0.0 0.0M72.0 105.1l0.0 0.0M171.5 106.3l0.0 0.0M172.0 107.7l0.0 0.0M116.0 110.7l0.0 0.0M125.0 110.1l0.0 0.0M187.0 110.3l0.0 0.0M193.0 110.8l0.0 0.0M24.7 114.1l0.0 0.0M44.3 113.6l0.0 0.0M54.3 113.4l0.0 0.0M68.4 117.5l0.0 0.0M93.3 116.3l0.0 0.0M185.7 115.8l0.0 0.0M196.1 116.9l0.0 0.0M79.0 119.8l0.0 0.0M115.2 119.0l0.0 0.0M54.4 121.9l0.0 0.0M69.4 124.6l0.0 0.0M88.6 124.1l0.0 0.0M51.2 128.4l0.0 0.0M113.8 127.6l0.0 0.0M184.2 127.1l0.0 0.0M22.9 132.7l0.0 0.0M34.8 136.8l0.0 0.0M77.0 136.4l0.0 0.0M42.0 138.1l0.0 0.0M129.0 139.6l0.0 0.0" stroke="#84b0b6" stroke-width="1.6" stroke-linecap="round" fill="none"/>
<path d="M159.3 121.3l-1.5 0.4M183.6 96.5l2.2 1.3M180.8 15.9l-0.4 1.3M149.9 122.1l0.3 0.2M158.4 138.9l-0.9 2.0M124.5 136.2l0.1 0.4M52.0 134.9l0.6 1.8M21.5 64.3l2.1 1.5M91.8 124.6l1.0 1.0M144.6 105.2l2.3 0.3M196.8 126.0l2.1 0.1M179.1 68.7l0.7 0.4M135.5 55.1l0.9 0.3M171.0 127.9l1.8 0.8M44.4 104.5l0.4 1.7M32.8 110.2l-1.7 0.9M178.6 72.6l1.0 1.8M34.3 18.2l1.2 0.6M162.2 68.9l-0.7 0.2M187.0 132.4l0.5 1.4M178.0 49.6l-2.3 0.5" stroke="#8a7e90" stroke-width="1.6" stroke-linecap="round" fill="none"/>
<path d="M153.4 66.6l0.3 2.3M48.2 33.7l-0.7 2.1M77.1 50.7l-1.7 0.3M130.9 52.4l1.0 1.0M164.4 42.2l-0.1 0.0M53.6 81.0l-0.5 0.7M137.6 87.6l0.5 0.2M182.4 37.0l-0.0 0.0M194.6 118.7l-0.1 0.1M51.4 93.8l-1.2 0.4M150.1 109.9l1.4 0.4M92.5 76.7l-0.7 0.1M168.2 137.9l-1.1 0.4M148.8 125.0l-0.4 1.9" stroke="#8a7e90" stroke-width="2.3" stroke-linecap="round" fill="none"/>
<path d="M187.3 127.0l1.0 1.3M128.6 123.0l-1.8 0.4M56.7 56.8l-0.8 1.0M173.9 63.1l-0.9 1.1M14.8 88.6l-0.3 0.2M31.4 82.9l0.3 0.6M42.1 51.1l2.5 0.2M180.0 22.6l-1.1 0.5M11.6 85.4l1.0 0.7M151.0 18.3l0.9 1.7M70.9 44.1l0.0 0.1" stroke="#968a98" stroke-width="1.6" stroke-linecap="round" fill="none"/>
<path d="M11.2 52.3l-1.4 0.7M118.0 77.9l1.9 1.5M25.4 94.6l0.2 2.5M106.5 140.0l-0.8 0.3M177.1 71.5l-0.0 0.0M95.5 140.4l-0.4 0.3M151.0 136.2l1.4 0.5M151.4 94.6l1.8 0.8M130.3 37.9l1.6 0.6M47.6 29.6l-0.8 0.5M46.5 93.4l-1.6 1.2M54.0 21.3l-1.2 1.5M135.9 128.2l-1.7 0.1M160.2 64.7l0.2 0.3M22.3 36.2l1.0 0.8M96.9 32.9l-1.6 0.5" stroke="#74687c" stroke-width="2.3" stroke-linecap="round" fill="none"/>
<path d="M196.1 64.5l1.3 0.4M12.4 128.0l-0.3 0.0M33.6 96.3l-0.7 1.7M27.4 137.2l-0.5 1.8M44.5 60.2l-0.6 0.7M87.5 64.3l-2.0 0.6M71.0 134.2l-1.3 2.0M75.7 133.9l0.5 1.8M37.8 51.5l-1.4 1.5M147.0 106.7l-0.6 0.4M119.5 52.3l0.8 0.1M151.0 138.0l0.5 1.9" stroke="#968a98" stroke-width="2.0" stroke-linecap="round" fill="none"/>
<path d="M104.9 134.3l0.4 1.0M76.8 99.8l-0.7 0.1M193.9 42.1l-0.3 0.5M176.1 114.4l-2.4 0.5M63.4 100.0l-0.4 0.2M127.3 14.5l0.1 0.0M19.3 41.3l0.2 1.1M162.0 42.6l-0.8 0.3M194.2 89.5l-1.4 0.9M19.6 38.2l0.5 2.2" stroke="#807688" stroke-width="2.0" stroke-linecap="round" fill="none"/>
<path d="M43.6 125.7l1.1 0.6M62.5 90.9l1.3 1.3M148.8 69.7l-2.4 0.2M117.4 128.7l1.4 1.5M116.2 134.8l-2.4 0.4M34.5 79.6l-0.9 1.2M193.9 75.0l-0.7 2.5M56.6 55.2l2.3 0.1M145.9 51.9l-0.8 0.5M68.3 141.5l-0.0 0.1M70.9 118.5l0.6 0.3M50.6 40.5l-1.2 0.5M165.0 62.1l1.6 0.0M12.3 21.1l-1.4 0.6" stroke="#74687c" stroke-width="2.0" stroke-linecap="round" fill="none"/>
<path d="M126.8 129.6l1.1 1.7M12.0 52.9l-1.2 0.9M188.7 34.6l0.5 0.3M150.2 92.0l0.0 1.6M68.5 133.3l1.3 0.9M113.8 77.1l1.3 0.9M162.9 57.4l-0.6 1.4" stroke="#74687c" stroke-width="1.6" stroke-linecap="round" fill="none"/>
<path d="M149.2 96.2l1.3 2.3M167.9 122.7l-0.7 1.8M162.3 126.8l-0.0 0.2M29.2 118.7l0.8 1.6M94.9 131.0l-0.1 0.9M90.5 134.1l1.2 0.9M89.2 103.0l0.3 0.6M83.6 120.0l0.5 1.6M150.3 65.1l0.7 0.3" stroke="#8a7e90" stroke-width="2.0" stroke-linecap="round" fill="none"/>
<path d="M32.1 103.7l0.5 1.0M28.8 92.6l-0.4 0.7M106.9 131.7l-0.5 1.5M191.5 16.8l-0.5 1.9M174.5 33.2l-0.1 0.0M158.4 15.3l-1.2 0.1M112.1 51.7l1.3 0.3M191.2 93.0l-0.8 1.4M140.9 122.2l0.6 0.5M14.4 67.0l1.4 0.8" stroke="#807688" stroke-width="2.3" stroke-linecap="round" fill="none"/>
<path d="M187.5 15.2l1.1 1.2M120.4 97.5l-1.4 1.2M166.6 64.4l-0.2 1.0M89.5 67.2l0.3 0.0M100.9 97.6l2.3 0.8M130.3 65.3l-2.0 1.7M151.3 98.1l-0.9 0.9M105.4 50.6l0.7 0.5M13.8 84.0l-0.3 0.5" stroke="#968a98" stroke-width="2.3" stroke-linecap="round" fill="none"/>
<path d="M60.0 120.1l0.3 1.5M43.9 50.8l0.1 0.6M44.4 39.0l-0.8 1.0M47.2 94.7l0.7 0.4M153.7 25.6l-0.6 1.3M130.4 83.3l-0.5 0.3M170.3 42.6l-2.1 0.8" stroke="#807688" stroke-width="1.6" stroke-linecap="round" fill="none"/>
<path d="M92.9 133.8l0.9 -1.8M88.5 131.1l-0.8 -4.9M88.1 128.7l1.3 -4.5M102.8 124.2l1.6 -2.8M100.3 125.5l0.2 -3.7" stroke="#946a5e" stroke-width="1.6" stroke-linecap="round" fill="none"/>
<path d="M94.5 133.6l-2.6 -3.0M97.3 128.8l-2.4 -4.1" stroke="#8a6470" stroke-width="2.0" stroke-linecap="round" fill="none"/>
<path d="M86.7 122.1l1.8 -3.7M93.5 128.9l-0.8 -4.4M88.9 120.9l1.2 -2.2" stroke="#8a6470" stroke-width="1.6" stroke-linecap="round" fill="none"/>
<path d="M86.5 136.8l1.3 -3.4M97.3 115.3l0.0 -3.6" stroke="#946a5e" stroke-width="2.0" stroke-linecap="round" fill="none"/>
<path d="M148.2 100.0l-1.6 1.2M146.7 114.8l-0.3 1.8M143.8 127.5l-2.6 0.3M36.7 19.3l-1.5 0.2M22.2 69.5l2.7 1.1M11.6 88.6l0.8 1.5M136.9 138.6l0.0 1.7" stroke="#bca090" stroke-width="1.5" stroke-linecap="round" fill="none"/>
<path d="M50.7 56.1l0.7 2.4M51.9 94.7l2.1 1.1M66.4 37.4l-1.2 2.6M14.0 13.9l1.3 0.5M89.9 87.5l0.2 2.2" stroke="#c8a898" stroke-width="1.5" stroke-linecap="round" fill="none"/>
</g>
</g></g>
<clipPath id="cB"><rect x="208.3" y="9.8" width="188.2" height="131.79999999999998"/></clipPath>
<rect x="208.3" y="9.8" width="188.2" height="131.79999999999998" fill="#e2e2e6"/>
<g clip-path="url(#cB)"><g filter="url(#bl)">
<path d="M369.3 110.8l0.0 0.0M356.8 56.4l0.0 0.0M215.1 34.6l0.0 0.0M240.0 95.3l0.0 0.0M262.4 42.6l0.0 0.0M342.1 40.2l0.0 0.0M332.4 99.5l0.0 0.0M295.5 17.9l0.0 0.0M369.4 85.5l0.0 0.0M296.2 80.3l0.0 0.0M394.6 82.1l0.0 0.0M284.7 59.3l0.0 0.0M230.0 101.3l0.0 0.0M362.9 113.3l0.0 0.0M311.3 72.2l0.0 0.0M335.5 110.1l0.0 0.0M389.1 17.0l0.0 0.0M226.8 119.3l0.0 0.0M322.4 40.6l0.0 0.0M305.4 35.7l0.0 0.0M335.0 31.9l0.0 0.0M250.5 35.4l0.0 0.0M211.3 91.6l0.0 0.0M381.3 47.7l0.0 0.0M249.4 117.0l0.0 0.0M239.4 72.0l0.0 0.0M288.7 52.9l0.0 0.0M357.6 62.1l0.0 0.0M294.9 55.5l0.0 0.0M361.2 98.1l0.0 0.0M223.2 86.9l0.0 0.0M355.7 79.5l0.0 0.0M319.5 47.9l0.0 0.0M279.9 21.0l0.0 0.0M323.8 105.0l0.0 0.0M358.3 94.1l0.0 0.0M364.8 95.3l0.0 0.0M332.4 75.7l0.0 0.0M247.8 32.5l0.0 0.0M323.2 121.0l0.0 0.0M256.6 102.1l0.0 0.0M337.1 18.9l0.0 0.0M238.3 84.2l0.0 0.0M385.3 99.8l0.0 0.0M348.2 98.6l0.0 0.0M285.0 74.0l0.0 0.0M339.0 26.3l0.0 0.0M242.9 23.7l0.0 0.0M222.9 70.7l0.0 0.0M232.3 131.9l0.0 0.0M343.2 75.4l0.0 0.0M331.8 67.9l0.0 0.0M324.6 107.3l0.0 0.0M253.5 50.8l0.0 0.0M217.4 75.3l0.0 0.0M376.4 83.4l0.0 0.0M288.9 12.0l0.0 0.0M345.5 21.6l0.0 0.0M310.8 56.2l0.0 0.0M229.0 93.5l0.0 0.0M231.1 84.8l0.0 0.0M232.4 105.1l0.0 0.0M396.1 110.0l0.0 0.0M388.8 30.0l0.0 0.0M285.1 67.9l0.0 0.0M338.3 52.1l0.0 0.0M344.7 29.2l0.0 0.0M336.9 110.8l0.0 0.0M290.3 70.9l0.0 0.0M377.2 70.6l0.0 0.0M209.5 128.3l0.0 0.0M310.1 49.2l0.0 0.0M335.4 140.4l0.0 0.0M210.0 68.4l0.0 0.0M352.2 85.5l0.0 0.0M218.0 110.1l0.0 0.0M290.6 32.3l0.0 0.0M342.4 52.1l0.0 0.0M334.1 32.2l0.0 0.0M384.5 77.4l0.0 0.0M357.9 37.0l0.0 0.0M231.9 85.4l0.0 0.0M330.8 123.3l0.0 0.0M314.6 30.8l0.0 0.0M228.8 81.0l0.0 0.0M302.4 45.3l0.0 0.0M349.3 67.6l0.0 0.0M231.1 25.5l0.0 0.0M357.9 54.2l0.0 0.0M302.0 66.4l0.0 0.0M394.2 42.9l0.0 0.0M307.7 139.1l0.0 0.0" stroke="#d2ebe8" stroke-width="6.0" stroke-linecap="round" fill="none"/>
<path d="M303.2 17.3l0.0 0.0M388.9 42.1l0.0 0.0M295.3 122.1l0.0 0.0M272.8 90.8l0.0 0.0M357.8 94.2l0.0 0.0M231.3 97.8l0.0 0.0M302.1 107.2l0.0 0.0M287.4 95.3l0.0 0.0M300.3 45.9l0.0 0.0M301.8 79.4l0.0 0.0M297.9 46.3l0.0 0.0M244.8 104.5l0.0 0.0M362.7 141.2l0.0 0.0M281.8 126.4l0.0 0.0M254.2 135.0l0.0 0.0M376.5 118.4l0.0 0.0M282.6 21.4l0.0 0.0M281.2 110.3l0.0 0.0M339.4 85.5l0.0 0.0M376.6 49.9l0.0 0.0M309.8 17.9l0.0 0.0M217.7 15.5l0.0 0.0M305.2 44.1l0.0 0.0M317.0 126.1l0.0 0.0M322.5 60.8l0.0 0.0M292.1 68.4l0.0 0.0M218.5 102.4l0.0 0.0M226.0 83.1l0.0 0.0M317.8 135.8l0.0 0.0M385.0 65.1l0.0 0.0M319.1 25.4l0.0 0.0M354.5 126.6l0.0 0.0M389.2 99.5l0.0 0.0M292.6 69.1l0.0 0.0M360.2 107.7l0.0 0.0M322.5 135.9l0.0 0.0M306.0 92.8l0.0 0.0M307.9 93.7l0.0 0.0M380.2 109.2l0.0 0.0M305.6 87.1l0.0 0.0M373.2 136.9l0.0 0.0M311.8 22.1l0.0 0.0M353.8 71.6l0.0 0.0" stroke="#e4d2de" stroke-width="5.0" stroke-linecap="round" fill="none"/>
<path d="M237.6 27.2l0.0 0.0M335.8 61.9l0.0 0.0M392.6 121.9l0.0 0.0M313.4 127.0l0.0 0.0M266.3 73.9l0.0 0.0M233.3 52.9l0.0 0.0M336.3 122.9l0.0 0.0M290.2 135.0l0.0 0.0M289.2 136.1l0.0 0.0M392.0 107.9l0.0 0.0M261.6 33.1l0.0 0.0M284.2 40.0l0.0 0.0M369.6 48.5l0.0 0.0M218.1 66.4l0.0 0.0M344.5 16.8l0.0 0.0M322.5 52.7l0.0 0.0M213.9 115.8l0.0 0.0M355.8 60.2l0.0 0.0M318.9 111.7l0.0 0.0M212.0 115.1l0.0 0.0M394.4 133.3l0.0 0.0M393.1 28.1l0.0 0.0M320.9 100.9l0.0 0.0M220.2 92.5l0.0 0.0M386.3 39.0l0.0 0.0M374.4 15.5l0.0 0.0M312.9 50.4l0.0 0.0M257.4 43.3l0.0 0.0M218.7 42.3l0.0 0.0M242.0 95.6l0.0 0.0M394.6 132.4l0.0 0.0M211.5 57.7l0.0 0.0M380.4 94.1l0.0 0.0M334.0 132.9l0.0 0.0M378.4 29.6l0.0 0.0M263.4 15.8l0.0 0.0M359.8 42.6l0.0 0.0M324.7 67.8l0.0 0.0M216.7 24.7l0.0 0.0M340.2 16.9l0.0 0.0M251.2 55.4l0.0 0.0M353.2 90.8l0.0 0.0M304.8 43.5l0.0 0.0M304.3 16.0l0.0 0.0M208.6 68.7l0.0 0.0M287.3 36.5l0.0 0.0M344.9 84.2l0.0 0.0M312.8 128.1l0.0 0.0M289.5 102.3l0.0 0.0M367.2 70.9l0.0 0.0M349.0 18.5l0.0 0.0M335.4 75.6l0.0 0.0M382.4 133.3l0.0 0.0M312.0 70.3l0.0 0.0M350.3 48.3l0.0 0.0M333.3 40.0l0.0 0.0M339.2 136.8l0.0 0.0M325.1 83.6l0.0 0.0M250.0 103.3l0.0 0.0M253.9 102.8l0.0 0.0M346.4 70.6l0.0 0.0M341.4 61.4l0.0 0.0M382.0 90.1l0.0 0.0M341.5 28.4l0.0 0.0M380.7 43.9l0.0 0.0M227.5 32.9l0.0 0.0M265.1 125.4l0.0 0.0M216.3 59.5l0.0 0.0M315.6 76.0l0.0 0.0M255.9 38.4l0.0 0.0M225.2 123.5l0.0 0.0M281.8 58.4l0.0 0.0M390.8 75.0l0.0 0.0M210.1 118.8l0.0 0.0M348.0 132.8l0.0 0.0M260.4 133.4l0.0 0.0M247.0 71.7l0.0 0.0M217.8 11.4l0.0 0.0M243.2 13.1l0.0 0.0M279.0 12.8l0.0 0.0M285.3 95.7l0.0 0.0M293.6 10.3l0.0 0.0M368.7 68.1l0.0 0.0M218.4 105.5l0.0 0.0M266.0 54.3l0.0 0.0M370.8 25.4l0.0 0.0M374.7 30.3l0.0 0.0M324.9 25.4l0.0 0.0M277.6 19.2l0.0 0.0M276.4 116.0l0.0 0.0M217.7 84.0l0.0 0.0M255.5 11.2l0.0 0.0" stroke="#dcefec" stroke-width="6.0" stroke-linecap="round" fill="none"/>
<path d="M355.7 70.7l0.0 0.0M333.7 37.6l0.0 0.0M267.5 130.5l0.0 0.0M281.8 79.5l0.0 0.0M378.5 43.3l0.0 0.0M386.1 105.4l0.0 0.0M325.2 73.5l0.0 0.0M395.8 105.5l0.0 0.0M215.6 23.8l0.0 0.0M268.2 26.1l0.0 0.0M319.5 108.2l0.0 0.0M316.4 95.7l0.0 0.0M301.1 66.6l0.0 0.0M222.1 64.5l0.0 0.0M352.4 112.6l0.0 0.0M278.2 113.6l0.0 0.0M347.3 44.3l0.0 0.0M336.9 48.5l0.0 0.0M364.2 43.8l0.0 0.0M226.1 88.9l0.0 0.0M349.4 15.1l0.0 0.0M212.3 75.8l0.0 0.0M364.1 128.1l0.0 0.0M293.6 111.8l0.0 0.0M372.4 134.9l0.0 0.0M378.6 107.5l0.0 0.0M380.5 19.7l0.0 0.0M252.6 92.0l0.0 0.0M281.8 35.6l0.0 0.0M354.4 33.2l0.0 0.0M343.7 48.4l0.0 0.0M232.7 121.3l0.0 0.0M293.7 128.4l0.0 0.0M322.9 25.0l0.0 0.0M238.8 77.8l0.0 0.0M214.0 104.7l0.0 0.0M349.3 44.4l0.0 0.0M355.9 15.4l0.0 0.0M248.6 16.5l0.0 0.0M386.5 126.2l0.0 0.0M280.9 30.9l0.0 0.0M308.9 80.0l0.0 0.0M394.7 109.0l0.0 0.0M248.7 119.2l0.0 0.0M367.4 71.8l0.0 0.0M350.0 92.9l0.0 0.0M371.1 74.4l0.0 0.0M217.4 82.8l0.0 0.0M315.2 65.9l0.0 0.0M395.6 96.8l0.0 0.0M209.3 21.5l0.0 0.0M210.3 123.1l0.0 0.0M388.2 74.7l0.0 0.0M388.5 91.8l0.0 0.0M211.9 85.1l0.0 0.0M219.8 34.4l0.0 0.0M374.8 28.4l0.0 0.0M379.5 105.1l0.0 0.0M369.8 18.7l0.0 0.0M270.7 126.1l0.0 0.0M250.5 111.0l0.0 0.0M224.8 54.8l0.0 0.0M339.9 34.9l0.0 0.0M208.6 57.7l0.0 0.0M227.1 94.8l0.0 0.0M387.5 131.0l0.0 0.0M361.9 60.6l0.0 0.0M341.9 64.2l0.0 0.0M281.9 33.7l0.0 0.0M245.7 27.4l0.0 0.0M369.2 123.5l0.0 0.0M268.3 32.3l0.0 0.0M211.6 20.4l0.0 0.0M285.2 118.8l0.0 0.0M259.6 80.2l0.0 0.0M333.0 126.2l0.0 0.0M266.8 108.0l0.0 0.0M299.7 77.2l0.0 0.0M208.7 10.5l0.0 0.0M312.4 31.1l0.0 0.0M298.0 103.1l0.0 0.0M216.5 109.4l0.0 0.0M390.8 65.0l0.0 0.0M280.7 32.3l0.0 0.0M313.0 80.9l0.0 0.0M270.4 50.0l0.0 0.0M319.7 124.4l0.0 0.0M230.6 72.0l0.0 0.0M269.8 96.9l0.0 0.0M279.8 42.2l0.0 0.0M301.4 27.8l0.0 0.0M348.3 140.8l0.0 0.0M323.5 10.2l0.0 0.0M391.4 34.7l0.0 0.0M209.9 21.3l0.0 0.0M320.2 82.4l0.0 0.0M348.4 72.0l0.0 0.0M339.1 91.5l0.0 0.0M210.2 130.1l0.0 0.0M395.5 109.0l0.0 0.0" stroke="#cfe6e6" stroke-width="4.0" stroke-linecap="round" fill="none"/>
<path d="M342.6 31.2l0.0 0.0M311.3 43.4l0.0 0.0M239.1 14.7l0.0 0.0M306.2 46.6l0.0 0.0M348.0 65.1l0.0 0.0M365.8 19.2l0.0 0.0M215.2 17.5l0.0 0.0M393.3 124.9l0.0 0.0M360.2 112.1l0.0 0.0M353.4 60.8l0.0 0.0M361.2 71.8l0.0 0.0M361.6 86.3l0.0 0.0M238.5 38.9l0.0 0.0M348.8 12.5l0.0 0.0M357.2 80.6l0.0 0.0M219.8 69.0l0.0 0.0M267.7 89.7l0.0 0.0M379.4 86.3l0.0 0.0M379.2 76.8l0.0 0.0M239.3 46.2l0.0 0.0M333.8 50.3l0.0 0.0M275.1 108.7l0.0 0.0M304.8 136.3l0.0 0.0M367.0 112.2l0.0 0.0M365.2 110.4l0.0 0.0M326.0 72.3l0.0 0.0M373.6 127.7l0.0 0.0M236.6 19.4l0.0 0.0M345.3 53.5l0.0 0.0M347.4 121.4l0.0 0.0M241.8 26.8l0.0 0.0M361.2 66.2l0.0 0.0M329.8 32.9l0.0 0.0M329.6 107.0l0.0 0.0M317.4 83.4l0.0 0.0M236.4 116.9l0.0 0.0M252.9 80.3l0.0 0.0M332.8 131.8l0.0 0.0M385.5 126.9l0.0 0.0M238.8 40.2l0.0 0.0M299.7 71.4l0.0 0.0M374.6 121.6l0.0 0.0M368.2 128.7l0.0 0.0M303.2 140.7l0.0 0.0M288.7 75.0l0.0 0.0M363.7 63.4l0.0 0.0M275.6 109.4l0.0 0.0M223.3 45.5l0.0 0.0M257.5 51.1l0.0 0.0M227.8 33.1l0.0 0.0M329.0 107.6l0.0 0.0M371.6 83.0l0.0 0.0M361.9 11.8l0.0 0.0M355.0 26.5l0.0 0.0M223.9 128.6l0.0 0.0M394.6 23.2l0.0 0.0M270.0 38.5l0.0 0.0M366.7 39.5l0.0 0.0M373.1 41.9l0.0 0.0M222.2 49.1l0.0 0.0M367.2 33.8l0.0 0.0M314.9 38.8l0.0 0.0M385.2 118.1l0.0 0.0M243.4 70.8l0.0 0.0M302.0 136.3l0.0 0.0M298.3 52.5l0.0 0.0M211.1 91.9l0.0 0.0M376.4 40.3l0.0 0.0M369.8 45.3l0.0 0.0M349.6 51.3l0.0 0.0M252.5 38.4l0.0 0.0M243.6 85.4l0.0 0.0M344.8 30.6l0.0 0.0M305.1 95.0l0.0 0.0M246.8 23.9l0.0 0.0M309.8 35.3l0.0 0.0M323.0 60.6l0.0 0.0M308.9 43.1l0.0 0.0M347.8 61.8l0.0 0.0M313.7 10.0l0.0 0.0M382.2 18.7l0.0 0.0M331.2 17.2l0.0 0.0M213.2 70.6l0.0 0.0M349.9 14.4l0.0 0.0M388.0 80.6l0.0 0.0M348.2 74.6l0.0 0.0M275.9 53.1l0.0 0.0M374.6 17.8l0.0 0.0M368.7 49.3l0.0 0.0M264.3 133.3l0.0 0.0M361.5 51.5l0.0 0.0M216.9 98.3l0.0 0.0" stroke="#d2ebe8" stroke-width="4.0" stroke-linecap="round" fill="none"/>
<path d="M393.3 27.7l0.0 0.0M278.7 56.0l0.0 0.0M223.0 48.5l0.0 0.0M270.4 103.9l0.0 0.0M361.7 67.0l0.0 0.0M359.7 54.1l0.0 0.0M369.3 131.8l0.0 0.0M309.0 72.9l0.0 0.0M256.3 22.8l0.0 0.0M298.8 34.5l0.0 0.0M255.6 115.8l0.0 0.0M369.7 56.8l0.0 0.0M387.1 132.6l0.0 0.0M285.5 122.6l0.0 0.0M345.5 118.3l0.0 0.0M350.6 102.9l0.0 0.0M352.6 85.3l0.0 0.0M349.9 9.9l0.0 0.0M219.2 134.1l0.0 0.0M249.5 65.4l0.0 0.0M258.1 16.3l0.0 0.0M395.7 63.6l0.0 0.0M388.0 83.3l0.0 0.0M224.1 55.5l0.0 0.0M320.0 35.6l0.0 0.0M219.3 52.6l0.0 0.0M358.2 51.6l0.0 0.0M394.7 39.1l0.0 0.0M360.4 48.0l0.0 0.0M231.1 104.9l0.0 0.0M244.2 133.1l0.0 0.0M231.4 37.1l0.0 0.0M303.9 117.3l0.0 0.0M366.3 91.9l0.0 0.0M345.3 39.7l0.0 0.0M265.0 27.7l0.0 0.0M231.5 83.3l0.0 0.0M221.3 124.8l0.0 0.0M371.6 131.0l0.0 0.0M329.0 35.5l0.0 0.0M265.3 20.2l0.0 0.0M303.0 131.0l0.0 0.0M395.3 19.4l0.0 0.0M316.3 51.0l0.0 0.0M251.0 94.9l0.0 0.0M358.9 60.2l0.0 0.0M270.1 48.7l0.0 0.0M271.7 90.9l0.0 0.0M354.8 127.8l0.0 0.0M211.2 113.6l0.0 0.0M271.2 125.3l0.0 0.0M304.0 86.5l0.0 0.0M265.9 111.3l0.0 0.0M277.9 80.4l0.0 0.0M223.2 106.0l0.0 0.0M268.2 37.4l0.0 0.0M347.4 33.0l0.0 0.0M257.2 121.1l0.0 0.0M225.2 123.0l0.0 0.0M354.1 32.8l0.0 0.0M332.5 58.3l0.0 0.0M254.2 104.2l0.0 0.0M360.3 45.7l0.0 0.0M240.5 39.4l0.0 0.0M286.5 107.5l0.0 0.0M369.4 28.5l0.0 0.0M218.1 59.0l0.0 0.0M216.2 101.6l0.0 0.0M332.1 30.9l0.0 0.0M376.5 23.5l0.0 0.0M361.6 63.5l0.0 0.0M302.0 83.5l0.0 0.0M210.2 89.5l0.0 0.0M329.2 106.2l0.0 0.0M318.9 85.7l0.0 0.0M349.7 128.5l0.0 0.0M295.3 131.9l0.0 0.0M295.8 108.5l0.0 0.0M319.5 110.0l0.0 0.0M329.4 17.6l0.0 0.0M387.5 13.5l0.0 0.0M359.9 81.0l0.0 0.0M312.1 53.6l0.0 0.0M356.2 12.1l0.0 0.0M235.1 103.8l0.0 0.0M312.7 15.8l0.0 0.0M217.0 133.8l0.0 0.0M360.2 27.5l0.0 0.0" stroke="#cfe6e6" stroke-width="5.0" stroke-linecap="round" fill="none"/>
<path d="M296.1 95.1l0.0 0.0M377.8 128.9l0.0 0.0M249.5 78.5l0.0 0.0M217.9 77.9l0.0 0.0M235.4 110.2l0.0 0.0M356.3 93.9l0.0 0.0M315.1 135.5l0.0 0.0M340.1 135.0l0.0 0.0M276.3 77.8l0.0 0.0M222.0 119.1l0.0 0.0M272.8 59.2l0.0 0.0M238.9 27.8l0.0 0.0M242.6 23.0l0.0 0.0M273.8 13.0l0.0 0.0M346.0 25.0l0.0 0.0M280.2 83.2l0.0 0.0M290.1 75.4l0.0 0.0M253.9 112.9l0.0 0.0M355.7 122.4l0.0 0.0M218.4 79.5l0.0 0.0M229.3 134.3l0.0 0.0M304.4 137.8l0.0 0.0M286.1 83.0l0.0 0.0M349.6 18.5l0.0 0.0M340.1 132.4l0.0 0.0M373.0 117.9l0.0 0.0M388.0 72.3l0.0 0.0M267.5 38.9l0.0 0.0M286.2 45.1l0.0 0.0M283.2 101.7l0.0 0.0M283.3 136.5l0.0 0.0M233.1 88.3l0.0 0.0M263.4 124.4l0.0 0.0M303.5 110.4l0.0 0.0M250.2 40.6l0.0 0.0M369.4 46.2l0.0 0.0M237.0 24.4l0.0 0.0M245.6 54.5l0.0 0.0M305.4 49.4l0.0 0.0" stroke="#d8c8dc" stroke-width="5.0" stroke-linecap="round" fill="none"/>
<path d="M306.8 63.5l0.0 0.0M296.4 139.1l0.0 0.0M382.6 17.3l0.0 0.0M209.7 113.0l0.0 0.0M319.5 48.0l0.0 0.0M215.9 135.3l0.0 0.0M394.4 37.9l0.0 0.0M220.7 111.3l0.0 0.0M213.9 122.3l0.0 0.0M368.2 139.1l0.0 0.0M349.9 15.2l0.0 0.0M296.6 57.4l0.0 0.0M221.9 61.8l0.0 0.0M352.9 111.2l0.0 0.0M334.4 136.4l0.0 0.0M279.8 92.1l0.0 0.0M285.3 140.5l0.0 0.0M362.1 38.3l0.0 0.0M225.0 86.6l0.0 0.0M363.0 48.2l0.0 0.0M323.1 101.7l0.0 0.0M262.8 94.0l0.0 0.0M246.8 38.3l0.0 0.0M298.1 120.3l0.0 0.0M263.4 89.7l0.0 0.0M217.8 58.3l0.0 0.0M376.9 67.9l0.0 0.0M326.5 44.2l0.0 0.0M298.3 17.9l0.0 0.0M387.7 26.5l0.0 0.0M284.5 44.2l0.0 0.0M308.6 54.3l0.0 0.0M257.8 60.7l0.0 0.0M226.6 115.1l0.0 0.0M357.4 69.1l0.0 0.0M344.2 125.6l0.0 0.0M223.7 85.3l0.0 0.0M381.8 120.3l0.0 0.0M292.2 11.7l0.0 0.0M332.4 92.9l0.0 0.0M315.8 67.8l0.0 0.0M358.5 115.9l0.0 0.0M374.0 27.9l0.0 0.0M276.1 135.8l0.0 0.0M244.5 76.5l0.0 0.0M283.8 110.5l0.0 0.0M277.7 44.7l0.0 0.0M373.7 57.5l0.0 0.0M220.2 78.6l0.0 0.0M353.8 12.0l0.0 0.0M293.7 20.0l0.0 0.0M306.5 83.5l0.0 0.0M276.6 134.6l0.0 0.0M392.6 67.2l0.0 0.0M214.7 133.3l0.0 0.0M222.2 60.8l0.0 0.0M375.1 25.2l0.0 0.0M395.6 28.0l0.0 0.0M255.0 137.0l0.0 0.0M295.0 109.1l0.0 0.0M364.0 131.7l0.0 0.0M355.4 39.5l0.0 0.0M219.1 33.9l0.0 0.0M299.7 51.4l0.0 0.0M277.1 18.1l0.0 0.0M337.2 128.4l0.0 0.0M314.6 91.0l0.0 0.0M237.5 80.5l0.0 0.0M356.3 89.0l0.0 0.0M358.5 132.7l0.0 0.0M366.5 75.6l0.0 0.0M269.0 123.8l0.0 0.0M268.9 15.9l0.0 0.0M327.8 126.2l0.0 0.0M283.1 23.6l0.0 0.0M370.5 12.8l0.0 0.0M352.2 64.1l0.0 0.0M336.2 104.7l0.0 0.0M269.2 55.2l0.0 0.0M221.2 114.5l0.0 0.0M314.5 24.0l0.0 0.0M307.8 34.5l0.0 0.0M371.3 55.9l0.0 0.0M279.5 10.4l0.0 0.0M210.6 130.2l0.0 0.0M338.2 100.7l0.0 0.0M242.8 59.0l0.0 0.0M304.2 126.4l0.0 0.0M353.9 107.8l0.0 0.0M365.3 69.7l0.0 0.0M250.2 68.7l0.0 0.0M314.5 47.6l0.0 0.0M331.6 127.6l0.0 0.0M367.4 44.0l0.0 0.0M360.6 133.0l0.0 0.0M360.0 49.8l0.0 0.0" stroke="#dcefec" stroke-width="4.0" stroke-linecap="round" fill="none"/>
<path d="M359.8 37.1l0.0 0.0M358.6 70.5l0.0 0.0M396.2 26.4l0.0 0.0M337.7 86.1l0.0 0.0M295.5 137.2l0.0 0.0M251.8 51.3l0.0 0.0M339.3 117.3l0.0 0.0M330.2 26.0l0.0 0.0M246.1 123.7l0.0 0.0M344.0 81.9l0.0 0.0M361.3 88.9l0.0 0.0M251.2 52.2l0.0 0.0M381.1 90.4l0.0 0.0M337.9 53.8l0.0 0.0M380.8 126.1l0.0 0.0M303.5 19.5l0.0 0.0M378.1 91.7l0.0 0.0M357.7 139.6l0.0 0.0M393.0 128.7l0.0 0.0M233.2 75.1l0.0 0.0M275.5 33.4l0.0 0.0M333.2 124.2l0.0 0.0M323.1 109.4l0.0 0.0M252.5 77.6l0.0 0.0M260.9 93.1l0.0 0.0M294.1 113.5l0.0 0.0M220.5 68.2l0.0 0.0M261.9 121.0l0.0 0.0M366.7 27.8l0.0 0.0M361.3 47.7l0.0 0.0M360.3 49.0l0.0 0.0M339.5 45.9l0.0 0.0M238.8 117.9l0.0 0.0M288.9 126.0l0.0 0.0M211.1 72.4l0.0 0.0M385.2 106.5l0.0 0.0M256.1 130.6l0.0 0.0M374.8 110.5l0.0 0.0M217.0 66.8l0.0 0.0M258.9 19.5l0.0 0.0M384.2 133.8l0.0 0.0M263.0 21.7l0.0 0.0M258.4 31.2l0.0 0.0M263.6 73.9l0.0 0.0M372.3 29.8l0.0 0.0M319.0 38.7l0.0 0.0M390.2 96.1l0.0 0.0M303.0 64.9l0.0 0.0M342.9 88.2l0.0 0.0M284.7 126.4l0.0 0.0M271.4 36.1l0.0 0.0M269.1 133.7l0.0 0.0M384.0 99.0l0.0 0.0M382.0 110.2l0.0 0.0M220.8 95.2l0.0 0.0M221.9 84.4l0.0 0.0M290.7 61.1l0.0 0.0M230.0 21.9l0.0 0.0M307.9 70.8l0.0 0.0M293.2 39.6l0.0 0.0M240.9 123.2l0.0 0.0M239.0 117.2l0.0 0.0M352.5 51.1l0.0 0.0M372.0 81.4l0.0 0.0M367.7 24.6l0.0 0.0M231.4 40.2l0.0 0.0M333.5 135.6l0.0 0.0M357.6 43.9l0.0 0.0M220.1 33.7l0.0 0.0M215.3 16.2l0.0 0.0M318.0 67.5l0.0 0.0M249.3 13.7l0.0 0.0M393.9 74.6l0.0 0.0M332.5 120.3l0.0 0.0M309.1 117.6l0.0 0.0M372.5 44.5l0.0 0.0M388.9 139.6l0.0 0.0M393.3 28.9l0.0 0.0M313.2 137.7l0.0 0.0M346.2 115.5l0.0 0.0M392.7 46.5l0.0 0.0M221.2 36.6l0.0 0.0M317.8 102.6l0.0 0.0M384.9 92.6l0.0 0.0M311.3 98.6l0.0 0.0M311.1 19.9l0.0 0.0M346.5 12.3l0.0 0.0" stroke="#dcefec" stroke-width="5.0" stroke-linecap="round" fill="none"/>
<path d="M230.0 129.0l0.0 0.0M302.2 105.3l0.0 0.0M295.7 30.0l0.0 0.0M238.9 72.1l0.0 0.0M321.1 23.0l0.0 0.0M242.1 118.8l0.0 0.0M334.1 71.7l0.0 0.0M387.6 111.0l0.0 0.0M231.1 38.6l0.0 0.0M371.7 18.9l0.0 0.0M209.8 21.6l0.0 0.0M268.7 108.2l0.0 0.0M275.2 65.9l0.0 0.0M369.0 12.3l0.0 0.0M272.6 139.1l0.0 0.0M214.2 134.3l0.0 0.0M276.1 91.5l0.0 0.0M246.6 128.1l0.0 0.0M357.8 91.0l0.0 0.0M386.2 17.6l0.0 0.0M276.4 49.8l0.0 0.0M234.2 119.0l0.0 0.0M272.1 41.4l0.0 0.0M307.9 63.3l0.0 0.0M247.6 46.8l0.0 0.0M293.5 85.9l0.0 0.0M361.4 132.7l0.0 0.0M394.8 93.0l0.0 0.0M344.0 87.9l0.0 0.0M318.6 56.2l0.0 0.0M234.7 137.4l0.0 0.0M276.1 49.1l0.0 0.0M208.6 80.9l0.0 0.0M263.4 86.8l0.0 0.0M322.9 53.5l0.0 0.0M370.0 23.2l0.0 0.0M306.6 129.0l0.0 0.0M219.7 10.7l0.0 0.0M285.7 68.6l0.0 0.0M348.2 92.3l0.0 0.0M395.2 33.8l0.0 0.0M351.0 120.9l0.0 0.0" stroke="#e8d8e0" stroke-width="5.0" stroke-linecap="round" fill="none"/>
<path d="M212.8 74.0l0.0 0.0M215.9 139.1l0.0 0.0M349.3 76.5l0.0 0.0M287.0 35.3l0.0 0.0M238.9 73.2l0.0 0.0M261.8 12.2l0.0 0.0M384.1 95.3l0.0 0.0M311.1 129.3l0.0 0.0M319.5 83.8l0.0 0.0M347.2 118.2l0.0 0.0M220.6 69.7l0.0 0.0M225.9 131.5l0.0 0.0M289.6 100.5l0.0 0.0M309.7 20.8l0.0 0.0M257.4 82.1l0.0 0.0M328.0 78.1l0.0 0.0M323.1 55.4l0.0 0.0M387.5 42.5l0.0 0.0M267.3 54.2l0.0 0.0M377.5 122.4l0.0 0.0M343.7 66.3l0.0 0.0M377.7 78.1l0.0 0.0M250.4 55.8l0.0 0.0M301.9 121.2l0.0 0.0M311.1 128.6l0.0 0.0M364.1 36.5l0.0 0.0M329.2 118.6l0.0 0.0M233.8 30.2l0.0 0.0M354.4 40.0l0.0 0.0M321.0 17.9l0.0 0.0M370.2 79.8l0.0 0.0M312.5 23.0l0.0 0.0M359.5 112.2l0.0 0.0M220.6 70.9l0.0 0.0M388.1 29.4l0.0 0.0M378.6 21.5l0.0 0.0M302.9 85.4l0.0 0.0M371.3 70.7l0.0 0.0M305.1 18.6l0.0 0.0M298.9 102.5l0.0 0.0M231.2 82.0l0.0 0.0M306.7 11.8l0.0 0.0M276.8 58.7l0.0 0.0M382.4 128.2l0.0 0.0M360.7 88.0l0.0 0.0M233.0 43.7l0.0 0.0M276.0 43.5l0.0 0.0M383.5 76.1l0.0 0.0M212.2 61.5l0.0 0.0M320.4 9.9l0.0 0.0M282.8 10.2l0.0 0.0M273.0 49.6l0.0 0.0M391.6 34.4l0.0 0.0M320.2 76.1l0.0 0.0M357.5 30.5l0.0 0.0M299.4 99.7l0.0 0.0M351.9 79.5l0.0 0.0M280.0 22.8l0.0 0.0M370.0 26.4l0.0 0.0M333.0 74.0l0.0 0.0M377.9 113.0l0.0 0.0M320.9 106.7l0.0 0.0M375.1 128.3l0.0 0.0M332.5 84.2l0.0 0.0M250.7 10.6l0.0 0.0M377.2 121.3l0.0 0.0M380.7 44.4l0.0 0.0M370.4 131.7l0.0 0.0M343.3 15.4l0.0 0.0M295.2 134.9l0.0 0.0M382.7 85.6l0.0 0.0M315.5 81.9l0.0 0.0M364.0 57.1l0.0 0.0M215.3 23.7l0.0 0.0M352.1 132.8l0.0 0.0M219.8 12.2l0.0 0.0M237.0 40.8l0.0 0.0M375.3 75.3l0.0 0.0M251.1 130.1l0.0 0.0M349.3 26.4l0.0 0.0M342.9 71.5l0.0 0.0M313.6 23.8l0.0 0.0M281.5 68.1l0.0 0.0M346.8 120.3l0.0 0.0M334.0 133.1l0.0 0.0M380.0 65.2l0.0 0.0M303.4 116.3l0.0 0.0M211.3 34.3l0.0 0.0M303.0 52.5l0.0 0.0" stroke="#d2ebe8" stroke-width="5.0" stroke-linecap="round" fill="none"/>
<path d="M354.2 108.7l0.0 0.0M289.9 77.5l0.0 0.0M223.4 70.4l0.0 0.0M333.4 79.2l0.0 0.0M231.4 94.7l0.0 0.0M364.4 64.8l0.0 0.0M361.6 81.8l0.0 0.0M395.0 31.2l0.0 0.0M370.5 21.0l0.0 0.0M270.0 103.6l0.0 0.0M251.9 46.2l0.0 0.0M380.1 20.3l0.0 0.0M329.7 60.5l0.0 0.0M377.4 43.0l0.0 0.0M258.4 78.4l0.0 0.0M375.1 30.5l0.0 0.0M387.7 22.8l0.0 0.0M356.3 12.0l0.0 0.0M371.1 43.1l0.0 0.0M335.9 105.5l0.0 0.0M345.8 58.4l0.0 0.0M226.2 136.4l0.0 0.0M321.9 116.4l0.0 0.0M240.4 105.1l0.0 0.0M287.0 22.0l0.0 0.0M228.8 92.4l0.0 0.0M253.0 123.5l0.0 0.0M364.6 94.4l0.0 0.0M355.2 112.1l0.0 0.0M316.0 54.6l0.0 0.0M254.0 25.0l0.0 0.0M388.9 12.8l0.0 0.0M243.2 42.3l0.0 0.0M324.9 38.1l0.0 0.0M339.3 78.8l0.0 0.0M234.3 102.9l0.0 0.0M214.7 36.7l0.0 0.0M235.1 21.7l0.0 0.0M269.6 32.5l0.0 0.0M343.0 25.2l0.0 0.0M360.9 100.2l0.0 0.0M370.8 67.6l0.0 0.0M316.9 112.5l0.0 0.0M261.8 113.9l0.0 0.0M211.6 67.1l0.0 0.0M286.4 23.0l0.0 0.0M362.7 84.0l0.0 0.0M290.5 37.6l0.0 0.0M228.2 63.9l0.0 0.0M277.8 102.3l0.0 0.0M385.8 98.1l0.0 0.0M300.0 98.7l0.0 0.0M353.7 26.5l0.0 0.0M386.6 81.8l0.0 0.0M299.7 16.3l0.0 0.0M371.1 113.3l0.0 0.0M329.1 95.6l0.0 0.0M360.8 123.4l0.0 0.0M216.8 13.7l0.0 0.0M367.2 58.2l0.0 0.0M209.5 18.5l0.0 0.0M365.7 21.4l0.0 0.0M273.4 108.7l0.0 0.0M366.2 15.9l0.0 0.0M274.7 129.8l0.0 0.0M349.4 100.8l0.0 0.0M380.9 72.9l0.0 0.0M394.1 96.1l0.0 0.0M294.8 62.2l0.0 0.0M394.7 21.6l0.0 0.0M335.1 23.2l0.0 0.0M375.1 15.0l0.0 0.0M370.8 112.4l0.0 0.0M342.3 104.8l0.0 0.0M378.9 13.3l0.0 0.0M278.6 90.9l0.0 0.0M394.7 122.9l0.0 0.0M243.8 135.5l0.0 0.0M211.5 109.8l0.0 0.0M334.2 80.1l0.0 0.0M228.6 49.5l0.0 0.0M354.4 23.2l0.0 0.0M237.6 88.7l0.0 0.0M279.2 52.0l0.0 0.0M280.3 136.1l0.0 0.0M269.7 89.2l0.0 0.0M209.0 112.8l0.0 0.0M284.6 19.7l0.0 0.0M251.2 12.0l0.0 0.0M291.3 86.7l0.0 0.0M380.5 20.2l0.0 0.0M336.8 19.9l0.0 0.0M301.5 44.1l0.0 0.0M243.2 11.6l0.0 0.0M312.9 114.1l0.0 0.0M290.6 15.5l0.0 0.0M388.0 121.9l0.0 0.0M348.0 86.5l0.0 0.0M212.6 88.4l0.0 0.0M374.4 51.8l0.0 0.0M374.1 104.8l0.0 0.0M334.5 90.5l0.0 0.0M342.9 138.7l0.0 0.0M232.7 36.5l0.0 0.0M376.3 30.4l0.0 0.0" stroke="#cfe6e6" stroke-width="6.0" stroke-linecap="round" fill="none"/>
<path d="M234.6 114.4l0.0 0.0M282.5 15.3l0.0 0.0M228.3 29.3l0.0 0.0M310.0 74.7l0.0 0.0M299.9 140.1l0.0 0.0M366.9 65.2l0.0 0.0M305.8 80.8l0.0 0.0M342.7 92.2l0.0 0.0M370.9 127.3l0.0 0.0M237.3 69.9l0.0 0.0M317.6 18.3l0.0 0.0M296.2 132.0l0.0 0.0M352.2 59.4l0.0 0.0M251.5 95.1l0.0 0.0M291.7 104.3l0.0 0.0M331.3 106.7l0.0 0.0M229.5 62.9l0.0 0.0M288.5 87.7l0.0 0.0M264.8 115.4l0.0 0.0M297.6 72.2l0.0 0.0M247.3 51.2l0.0 0.0M331.0 54.4l0.0 0.0M366.3 99.6l0.0 0.0M389.6 103.4l0.0 0.0M251.8 120.9l0.0 0.0M243.9 102.1l0.0 0.0M326.4 11.5l0.0 0.0M260.4 104.0l0.0 0.0M308.4 39.4l0.0 0.0M218.2 97.8l0.0 0.0M247.8 137.6l0.0 0.0M337.0 74.6l0.0 0.0M271.3 40.5l0.0 0.0M383.9 107.4l0.0 0.0M260.6 58.6l0.0 0.0M256.2 38.8l0.0 0.0M220.4 94.5l0.0 0.0M383.4 116.4l0.0 0.0M208.5 19.6l0.0 0.0M356.7 130.4l0.0 0.0M239.3 133.7l0.0 0.0M267.7 65.9l0.0 0.0M347.9 120.9l0.0 0.0M316.8 126.8l0.0 0.0M225.3 93.2l0.0 0.0M326.2 101.0l0.0 0.0M310.9 62.0l0.0 0.0M225.8 62.2l0.0 0.0M228.9 14.1l0.0 0.0M236.2 122.6l0.0 0.0M245.2 108.6l0.0 0.0M218.3 17.5l0.0 0.0M256.6 124.2l0.0 0.0M262.6 122.5l0.0 0.0M311.8 61.0l0.0 0.0" stroke="#dccde2" stroke-width="4.0" stroke-linecap="round" fill="none"/>
<path d="M342.5 58.8l0.0 0.0M323.9 118.1l0.0 0.0M331.3 117.2l0.0 0.0M214.2 122.2l0.0 0.0M353.5 137.6l0.0 0.0M256.7 31.1l0.0 0.0M209.3 78.7l0.0 0.0M235.8 61.1l0.0 0.0M360.4 87.0l0.0 0.0M300.7 129.8l0.0 0.0M241.9 139.3l0.0 0.0M385.9 125.1l0.0 0.0M342.8 69.5l0.0 0.0M387.7 127.2l0.0 0.0M351.9 64.1l0.0 0.0M245.6 69.6l0.0 0.0M380.3 55.1l0.0 0.0M265.4 82.7l0.0 0.0M331.3 102.4l0.0 0.0M298.6 44.9l0.0 0.0M369.3 25.4l0.0 0.0M270.2 93.5l0.0 0.0M343.7 76.1l0.0 0.0M264.6 21.2l0.0 0.0M280.8 34.2l0.0 0.0M225.6 103.7l0.0 0.0M223.2 24.4l0.0 0.0M301.1 139.7l0.0 0.0M395.3 129.5l0.0 0.0M256.7 53.4l0.0 0.0M246.8 11.1l0.0 0.0M293.8 31.3l0.0 0.0M377.7 104.3l0.0 0.0M361.3 42.4l0.0 0.0M234.3 68.9l0.0 0.0M312.4 128.6l0.0 0.0M273.7 139.5l0.0 0.0M246.1 118.6l0.0 0.0M372.3 109.2l0.0 0.0M326.0 51.4l0.0 0.0M322.7 106.1l0.0 0.0M236.2 16.9l0.0 0.0M231.9 51.1l0.0 0.0M348.3 79.4l0.0 0.0M222.0 73.1l0.0 0.0M247.2 72.8l0.0 0.0" stroke="#dccde2" stroke-width="5.0" stroke-linecap="round" fill="none"/>
<path d="M270.7 50.7l0.0 0.0M368.9 23.1l0.0 0.0M337.3 118.8l0.0 0.0M239.4 50.6l0.0 0.0M214.7 30.4l0.0 0.0M270.2 42.2l0.0 0.0M226.7 132.6l0.0 0.0M332.1 45.3l0.0 0.0M227.7 127.9l0.0 0.0M303.7 71.4l0.0 0.0M243.1 18.3l0.0 0.0M282.6 39.0l0.0 0.0M215.7 63.4l0.0 0.0M354.8 24.6l0.0 0.0M338.9 25.2l0.0 0.0M321.3 129.4l0.0 0.0M334.1 117.1l0.0 0.0M283.1 78.9l0.0 0.0M217.3 123.7l0.0 0.0M336.7 119.5l0.0 0.0M371.0 115.6l0.0 0.0M290.9 34.4l0.0 0.0M296.1 96.8l0.0 0.0M227.8 110.5l0.0 0.0M268.4 135.4l0.0 0.0M340.3 124.0l0.0 0.0M254.7 70.7l0.0 0.0M313.0 22.2l0.0 0.0M257.6 91.0l0.0 0.0M342.1 140.5l0.0 0.0M328.5 65.8l0.0 0.0M377.3 56.4l0.0 0.0M220.7 89.2l0.0 0.0M317.1 131.6l0.0 0.0M338.8 41.0l0.0 0.0M238.6 44.3l0.0 0.0M295.4 76.7l0.0 0.0M272.4 15.8l0.0 0.0M249.5 39.0l0.0 0.0M312.9 64.4l0.0 0.0M325.0 61.5l0.0 0.0M330.5 96.6l0.0 0.0M288.4 89.4l0.0 0.0M303.8 137.9l0.0 0.0M331.2 52.5l0.0 0.0M358.8 47.2l0.0 0.0M296.0 10.8l0.0 0.0M260.6 66.8l0.0 0.0M344.5 39.3l0.0 0.0M377.2 125.1l0.0 0.0M210.1 11.9l0.0 0.0M232.2 48.8l0.0 0.0M356.7 71.6l0.0 0.0M238.6 101.8l0.0 0.0M373.1 52.9l0.0 0.0M271.0 55.6l0.0 0.0M246.5 53.7l0.0 0.0M245.0 98.5l0.0 0.0M300.0 34.3l0.0 0.0M304.8 93.7l0.0 0.0M335.0 32.5l0.0 0.0M233.8 85.1l0.0 0.0M272.1 72.5l0.0 0.0M287.6 38.0l0.0 0.0M292.8 135.1l0.0 0.0M288.3 141.6l0.0 0.0M359.1 94.5l0.0 0.0M284.5 124.0l0.0 0.0M223.4 116.2l0.0 0.0M270.2 57.9l0.0 0.0M297.2 82.5l0.0 0.0" stroke="#e4d2de" stroke-width="4.0" stroke-linecap="round" fill="none"/>
<path d="M235.8 103.5l0.0 0.0M248.7 58.7l0.0 0.0M339.3 13.3l0.0 0.0M260.1 32.5l0.0 0.0M343.7 140.1l0.0 0.0M329.8 109.0l0.0 0.0M310.8 89.7l0.0 0.0M301.0 61.9l0.0 0.0M232.8 126.1l0.0 0.0M213.2 90.9l0.0 0.0M322.7 100.3l0.0 0.0M238.4 104.4l0.0 0.0M248.6 64.1l0.0 0.0M244.5 59.9l0.0 0.0M208.8 15.6l0.0 0.0M367.9 125.9l0.0 0.0M252.6 84.7l0.0 0.0M262.8 51.9l0.0 0.0M319.0 67.5l0.0 0.0M224.5 34.3l0.0 0.0M216.3 92.7l0.0 0.0M232.0 13.9l0.0 0.0M323.4 137.9l0.0 0.0M243.7 71.5l0.0 0.0M295.4 84.5l0.0 0.0M323.0 138.5l0.0 0.0M284.7 127.8l0.0 0.0M324.8 106.9l0.0 0.0M245.0 79.6l0.0 0.0M299.1 116.0l0.0 0.0M257.6 129.2l0.0 0.0M225.1 119.1l0.0 0.0M316.3 100.8l0.0 0.0M306.4 59.6l0.0 0.0M210.9 42.9l0.0 0.0M209.7 109.7l0.0 0.0M379.8 45.4l0.0 0.0M294.8 104.2l0.0 0.0M260.5 38.7l0.0 0.0M365.5 135.4l0.0 0.0M253.9 28.7l0.0 0.0M372.9 76.1l0.0 0.0" stroke="#e4d2de" stroke-width="6.0" stroke-linecap="round" fill="none"/>
<path d="M286.3 138.7l0.0 0.0M294.6 47.9l0.0 0.0M332.9 126.5l0.0 0.0M336.0 74.7l0.0 0.0M216.4 58.1l0.0 0.0M351.9 81.6l0.0 0.0M386.2 59.3l0.0 0.0M314.7 132.7l0.0 0.0M326.0 41.1l0.0 0.0M252.7 114.4l0.0 0.0M365.4 109.7l0.0 0.0M379.7 104.5l0.0 0.0M234.8 54.2l0.0 0.0M267.1 18.3l0.0 0.0M288.3 91.9l0.0 0.0M315.8 112.9l0.0 0.0M292.3 140.8l0.0 0.0M339.7 134.9l0.0 0.0M284.7 28.0l0.0 0.0M233.8 67.5l0.0 0.0M327.6 91.2l0.0 0.0M244.8 121.6l0.0 0.0M281.3 21.0l0.0 0.0M257.9 140.7l0.0 0.0M318.9 91.4l0.0 0.0M257.6 80.6l0.0 0.0M211.6 137.4l0.0 0.0M277.6 20.9l0.0 0.0M248.7 111.6l0.0 0.0M230.1 109.3l0.0 0.0M354.3 110.7l0.0 0.0M369.6 132.5l0.0 0.0M277.8 44.0l0.0 0.0M346.6 131.7l0.0 0.0M231.8 96.1l0.0 0.0M300.7 63.8l0.0 0.0M349.2 125.5l0.0 0.0" stroke="#e8d8e0" stroke-width="4.0" stroke-linecap="round" fill="none"/>
<path d="M248.6 66.5l0.0 0.0M304.8 75.1l0.0 0.0M264.8 95.7l0.0 0.0M286.1 54.8l0.0 0.0M279.5 32.4l0.0 0.0M300.6 120.2l0.0 0.0M370.7 105.1l0.0 0.0M329.1 32.7l0.0 0.0M308.4 99.6l0.0 0.0M233.5 120.0l0.0 0.0M315.7 132.2l0.0 0.0M236.6 47.6l0.0 0.0M360.8 106.8l0.0 0.0M213.9 25.7l0.0 0.0M328.7 119.9l0.0 0.0M280.5 22.0l0.0 0.0M364.9 113.9l0.0 0.0M264.7 90.7l0.0 0.0M269.1 84.3l0.0 0.0M289.9 111.7l0.0 0.0M321.7 35.7l0.0 0.0M321.4 99.8l0.0 0.0M327.1 73.7l0.0 0.0M276.3 42.9l0.0 0.0M361.0 12.2l0.0 0.0M266.6 48.4l0.0 0.0M249.3 96.6l0.0 0.0M211.5 100.8l0.0 0.0M249.6 66.7l0.0 0.0M384.0 122.9l0.0 0.0M310.2 100.0l0.0 0.0M383.2 112.5l0.0 0.0M270.1 103.4l0.0 0.0M395.5 139.2l0.0 0.0M368.1 24.8l0.0 0.0M292.1 85.9l0.0 0.0M316.6 113.6l0.0 0.0M321.1 84.7l0.0 0.0M216.4 59.0l0.0 0.0M258.0 73.9l0.0 0.0M379.6 100.6l0.0 0.0M258.1 63.6l0.0 0.0M373.7 129.4l0.0 0.0M263.5 71.4l0.0 0.0M247.1 67.5l0.0 0.0M295.9 137.7l0.0 0.0M249.0 73.9l0.0 0.0" stroke="#dccde2" stroke-width="6.0" stroke-linecap="round" fill="none"/>
<path d="M208.7 33.2l0.0 0.0M363.4 74.4l0.0 0.0M322.4 100.6l0.0 0.0M242.3 14.9l0.0 0.0M383.5 106.1l0.0 0.0M329.1 28.9l0.0 0.0M344.9 105.2l0.0 0.0M314.3 40.9l0.0 0.0M234.0 15.9l0.0 0.0M338.9 89.6l0.0 0.0M336.0 96.7l0.0 0.0M321.0 31.5l0.0 0.0M382.5 108.2l0.0 0.0M224.0 68.4l0.0 0.0M267.1 127.4l0.0 0.0M278.4 138.0l0.0 0.0M377.9 62.3l0.0 0.0M288.8 118.6l0.0 0.0M209.0 117.5l0.0 0.0M304.7 19.6l0.0 0.0M346.0 44.9l0.0 0.0M382.5 138.6l0.0 0.0M343.3 58.7l0.0 0.0M278.2 82.3l0.0 0.0M208.5 33.2l0.0 0.0M360.5 41.5l0.0 0.0M293.6 139.1l0.0 0.0M310.8 110.3l0.0 0.0M339.3 39.2l0.0 0.0M252.5 20.1l0.0 0.0M264.5 53.3l0.0 0.0M265.0 122.0l0.0 0.0M355.4 81.0l0.0 0.0M272.9 61.8l0.0 0.0M259.3 12.5l0.0 0.0M235.0 89.5l0.0 0.0M387.0 32.6l0.0 0.0M307.0 42.0l0.0 0.0M214.2 93.0l0.0 0.0M292.7 50.3l0.0 0.0M365.1 121.1l0.0 0.0M359.9 85.1l0.0 0.0M248.2 70.6l0.0 0.0M226.9 93.4l0.0 0.0M236.4 127.2l0.0 0.0M322.1 108.8l0.0 0.0" stroke="#e8d8e0" stroke-width="6.0" stroke-linecap="round" fill="none"/>
<path d="M318.9 133.4l0.0 0.0M229.6 69.3l0.0 0.0M314.0 25.2l0.0 0.0M363.6 48.4l0.0 0.0M288.7 55.8l0.0 0.0M258.7 30.2l0.0 0.0M262.3 80.9l0.0 0.0M263.9 80.3l0.0 0.0M387.4 101.0l0.0 0.0M308.5 60.5l0.0 0.0M342.0 58.5l0.0 0.0M318.7 141.0l0.0 0.0M209.6 50.0l0.0 0.0M243.8 14.8l0.0 0.0M211.6 138.7l0.0 0.0M213.0 18.7l0.0 0.0M362.1 45.4l0.0 0.0M250.5 105.1l0.0 0.0M258.1 90.4l0.0 0.0M355.3 140.9l0.0 0.0M242.0 48.5l0.0 0.0M268.6 94.6l0.0 0.0M294.7 11.8l0.0 0.0M224.9 137.5l0.0 0.0M314.5 140.4l0.0 0.0M232.8 21.1l0.0 0.0M256.7 102.3l0.0 0.0M388.9 93.9l0.0 0.0M313.3 110.9l0.0 0.0M333.4 128.1l0.0 0.0M272.4 22.3l0.0 0.0M242.5 13.5l0.0 0.0M293.7 126.9l0.0 0.0M320.2 112.5l0.0 0.0M325.4 53.7l0.0 0.0M349.5 75.2l0.0 0.0M256.9 86.5l0.0 0.0M230.8 72.1l0.0 0.0M318.4 113.8l0.0 0.0M303.7 54.8l0.0 0.0" stroke="#d8c8dc" stroke-width="6.0" stroke-linecap="round" fill="none"/>
<path d="M241.7 96.3l0.0 0.0M386.9 87.3l0.0 0.0M311.4 17.6l0.0 0.0M302.7 113.7l0.0 0.0M373.8 109.5l0.0 0.0M227.9 136.4l0.0 0.0M297.3 62.3l0.0 0.0M275.7 132.5l0.0 0.0M335.9 20.2l0.0 0.0M289.4 47.3l0.0 0.0M389.4 108.8l0.0 0.0M282.2 82.2l0.0 0.0M316.8 140.6l0.0 0.0M367.7 140.9l0.0 0.0M333.8 88.4l0.0 0.0M295.5 35.6l0.0 0.0M342.8 24.0l0.0 0.0M322.8 40.0l0.0 0.0M362.2 130.6l0.0 0.0M211.7 106.6l0.0 0.0M240.6 118.8l0.0 0.0M362.8 27.7l0.0 0.0M256.8 15.8l0.0 0.0M347.0 111.4l0.0 0.0M244.0 121.4l0.0 0.0M325.4 56.1l0.0 0.0M248.4 40.7l0.0 0.0M278.2 16.3l0.0 0.0M311.3 57.0l0.0 0.0M282.4 131.4l0.0 0.0M335.8 71.9l0.0 0.0M374.9 48.9l0.0 0.0M346.6 83.1l0.0 0.0M281.0 94.1l0.0 0.0M276.2 47.9l0.0 0.0M216.2 87.7l0.0 0.0M365.9 98.6l0.0 0.0M383.7 139.9l0.0 0.0M357.9 79.8l0.0 0.0M309.5 127.5l0.0 0.0M323.3 105.2l0.0 0.0M236.7 61.2l0.0 0.0M244.5 60.2l0.0 0.0M259.4 107.6l0.0 0.0M316.3 79.4l0.0 0.0M266.9 135.1l0.0 0.0M219.6 37.2l0.0 0.0M223.4 29.1l0.0 0.0M213.5 100.8l0.0 0.0M274.6 69.9l0.0 0.0M227.4 70.5l0.0 0.0" stroke="#d8c8dc" stroke-width="4.0" stroke-linecap="round" fill="none"/>
<path d="M212.2 11.1l0.0 0.0M224.7 11.0l0.0 0.0M231.9 10.3l0.0 0.0M255.6 10.3l0.0 0.0M259.4 10.2l0.0 0.0M264.6 11.6l0.0 0.0M272.9 10.9l0.0 0.0M287.0 10.6l0.0 0.0M294.2 11.4l0.0 0.0M297.0 10.0l0.0 0.0M319.9 10.3l0.0 0.0M354.4 11.4l0.0 0.0M360.3 10.4l0.0 0.0M362.5 11.5l0.0 0.0M382.9 11.3l0.0 0.0M386.9 10.4l0.0 0.0M392.4 10.9l0.0 0.0M216.8 14.1l0.0 0.0M222.0 12.5l0.0 0.0M225.7 12.9l0.0 0.0M227.9 14.2l0.0 0.0M240.0 13.1l0.0 0.0M243.4 13.2l0.0 0.0M249.1 14.0l0.0 0.0M265.8 12.7l0.0 0.0M269.1 12.9l0.0 0.0M274.9 13.4l0.0 0.0M280.6 13.9l0.0 0.0M320.4 14.0l0.0 0.0M323.7 13.5l0.0 0.0M335.3 13.9l0.0 0.0M355.0 13.5l0.0 0.0M361.8 13.0l0.0 0.0M369.4 13.5l0.0 0.0M393.5 13.3l0.0 0.0M342.9 16.0l0.0 0.0M350.6 15.6l0.0 0.0M245.2 17.8l0.0 0.0M251.2 18.0l0.0 0.0M271.9 17.6l0.0 0.0M280.2 17.5l0.0 0.0M282.8 17.7l0.0 0.0M301.2 19.1l0.0 0.0M333.2 19.1l0.0 0.0M341.1 17.7l0.0 0.0M378.6 17.9l0.0 0.0M388.5 18.5l0.0 0.0M231.7 20.3l0.0 0.0M252.1 21.2l0.0 0.0M264.0 21.3l0.0 0.0M284.2 20.1l0.0 0.0M301.2 21.5l0.0 0.0M319.5 20.6l0.0 0.0M336.6 20.6l0.0 0.0M340.0 21.4l0.0 0.0M377.6 21.8l0.0 0.0M386.9 20.5l0.0 0.0M216.9 22.8l0.0 0.0M243.5 22.8l0.0 0.0M259.2 22.9l0.0 0.0M269.0 23.6l0.0 0.0M312.7 23.2l0.0 0.0M317.2 23.8l0.0 0.0M327.2 24.1l0.0 0.0M343.9 22.8l0.0 0.0M347.2 23.1l0.0 0.0M350.8 23.8l0.0 0.0M353.2 24.3l0.0 0.0M374.0 23.2l0.0 0.0M379.5 22.7l0.0 0.0M392.9 23.5l0.0 0.0M211.6 25.3l0.0 0.0M218.7 26.2l0.0 0.0M222.9 25.8l0.0 0.0M250.4 26.8l0.0 0.0M279.2 26.5l0.0 0.0M291.3 26.6l0.0 0.0M305.0 26.1l0.0 0.0M329.1 25.5l0.0 0.0M334.7 26.5l0.0 0.0M356.4 26.0l0.0 0.0M365.1 26.0l0.0 0.0M379.8 26.3l0.0 0.0M383.9 25.8l0.0 0.0M389.0 25.7l0.0 0.0M213.4 28.4l0.0 0.0M222.9 29.1l0.0 0.0M224.5 28.2l0.0 0.0M227.6 28.0l0.0 0.0M231.2 28.4l0.0 0.0M240.4 28.9l0.0 0.0M246.3 28.5l0.0 0.0M268.9 28.5l0.0 0.0M285.3 28.9l0.0 0.0M341.0 29.3l0.0 0.0M350.1 28.3l0.0 0.0M353.6 28.0l0.0 0.0M376.0 28.1l0.0 0.0M393.5 28.4l0.0 0.0M397.2 28.8l0.0 0.0M221.4 31.0l0.0 0.0M228.8 31.1l0.0 0.0M261.8 31.5l0.0 0.0M273.2 30.3l0.0 0.0M311.6 31.5l0.0 0.0M380.5 30.6l0.0 0.0M388.9 31.6l0.0 0.0M219.0 33.7l0.0 0.0M230.6 33.3l0.0 0.0M252.1 33.7l0.0 0.0M263.7 33.6l0.0 0.0M282.9 34.1l0.0 0.0M296.9 33.6l0.0 0.0M299.9 33.9l0.0 0.0M303.2 33.7l0.0 0.0M318.7 33.3l0.0 0.0M327.1 33.0l0.0 0.0M333.3 32.6l0.0 0.0M335.1 32.8l0.0 0.0M338.2 33.5l0.0 0.0M340.9 33.7l0.0 0.0M352.3 32.9l0.0 0.0M355.0 33.8l0.0 0.0M358.0 33.0l0.0 0.0M364.5 34.3l0.0 0.0M373.6 33.1l0.0 0.0M252.3 36.2l0.0 0.0M269.7 36.0l0.0 0.0M282.6 36.8l0.0 0.0M285.1 36.2l0.0 0.0M319.0 35.5l0.0 0.0M328.3 35.6l0.0 0.0M343.5 36.7l0.0 0.0M344.8 35.6l0.0 0.0M363.4 35.3l0.0 0.0M380.4 36.8l0.0 0.0M213.7 39.1l0.0 0.0M254.7 38.5l0.0 0.0M288.9 37.7l0.0 0.0M303.6 39.1l0.0 0.0M320.3 37.9l0.0 0.0M329.8 37.7l0.0 0.0M335.8 39.3l0.0 0.0M352.4 37.9l0.0 0.0M358.2 37.8l0.0 0.0M382.1 39.3l0.0 0.0M391.1 38.7l0.0 0.0M209.4 40.3l0.0 0.0M212.4 41.2l0.0 0.0M240.7 40.4l0.0 0.0M255.8 40.9l0.0 0.0M264.7 40.7l0.0 0.0M270.2 40.6l0.0 0.0M287.8 41.8l0.0 0.0M291.1 41.7l0.0 0.0M293.9 41.9l0.0 0.0M300.0 40.8l0.0 0.0M301.4 41.2l0.0 0.0M310.2 41.2l0.0 0.0M323.3 41.6l0.0 0.0M345.5 40.9l0.0 0.0M356.9 41.2l0.0 0.0M359.3 40.4l0.0 0.0M371.8 41.2l0.0 0.0M218.6 42.9l0.0 0.0M271.2 42.9l0.0 0.0M274.4 44.1l0.0 0.0M289.2 44.2l0.0 0.0M301.5 44.5l0.0 0.0M303.5 44.0l0.0 0.0M309.2 44.0l0.0 0.0M315.7 44.2l0.0 0.0M349.6 44.0l0.0 0.0M357.9 44.3l0.0 0.0M365.2 43.9l0.0 0.0M369.9 43.8l0.0 0.0M216.0 46.2l0.0 0.0M252.9 46.3l0.0 0.0M265.0 46.5l0.0 0.0M267.1 45.8l0.0 0.0M270.7 46.1l0.0 0.0M289.6 46.9l0.0 0.0M334.0 45.7l0.0 0.0M350.9 45.7l0.0 0.0M375.5 46.1l0.0 0.0M380.7 45.3l0.0 0.0M395.6 46.5l0.0 0.0M245.0 49.4l0.0 0.0M260.7 49.4l0.0 0.0M327.4 48.4l0.0 0.0M329.4 49.1l0.0 0.0M347.7 48.3l0.0 0.0M356.4 48.6l0.0 0.0M358.9 49.1l0.0 0.0M360.8 49.3l0.0 0.0M370.0 49.5l0.0 0.0M373.3 49.2l0.0 0.0M263.8 51.7l0.0 0.0M278.4 51.9l0.0 0.0M287.9 52.0l0.0 0.0M299.4 51.8l0.0 0.0M301.4 50.7l0.0 0.0M336.4 50.7l0.0 0.0M348.3 50.3l0.0 0.0M368.7 51.5l0.0 0.0M378.1 50.4l0.0 0.0M388.9 50.6l0.0 0.0M213.4 54.4l0.0 0.0M221.7 54.0l0.0 0.0M228.9 53.2l0.0 0.0M256.4 53.3l0.0 0.0M318.3 53.6l0.0 0.0M323.1 52.9l0.0 0.0M326.1 53.2l0.0 0.0M341.0 53.5l0.0 0.0M347.4 54.0l0.0 0.0M209.6 55.5l0.0 0.0M214.4 56.5l0.0 0.0M220.7 57.0l0.0 0.0M226.0 55.7l0.0 0.0M252.9 56.3l0.0 0.0M259.2 56.9l0.0 0.0M265.3 56.0l0.0 0.0M279.3 55.5l0.0 0.0M305.0 55.9l0.0 0.0M336.6 55.5l0.0 0.0M353.5 57.1l0.0 0.0M362.9 56.2l0.0 0.0M374.0 55.6l0.0 0.0M383.1 57.0l0.0 0.0M213.0 59.2l0.0 0.0M219.6 58.0l0.0 0.0M234.5 58.5l0.0 0.0M302.8 59.4l0.0 0.0M330.3 59.4l0.0 0.0M346.3 59.1l0.0 0.0M367.9 58.2l0.0 0.0M370.8 59.2l0.0 0.0M316.4 61.0l0.0 0.0M376.7 60.5l0.0 0.0M388.2 60.9l0.0 0.0M216.5 63.1l0.0 0.0M231.5 63.5l0.0 0.0M271.8 64.2l0.0 0.0M277.4 63.2l0.0 0.0M350.7 64.0l0.0 0.0M353.1 63.0l0.0 0.0M358.4 63.8l0.0 0.0M361.5 63.1l0.0 0.0M386.8 63.9l0.0 0.0M216.0 66.5l0.0 0.0M234.5 66.3l0.0 0.0M256.5 66.1l0.0 0.0M276.8 66.4l0.0 0.0M282.3 65.6l0.0 0.0M320.4 65.7l0.0 0.0M333.9 67.1l0.0 0.0M337.7 66.0l0.0 0.0M340.4 66.1l0.0 0.0M351.6 66.3l0.0 0.0M392.5 66.1l0.0 0.0M211.0 69.1l0.0 0.0M213.6 69.5l0.0 0.0M230.3 68.8l0.0 0.0M248.3 68.6l0.0 0.0M272.0 68.5l0.0 0.0M291.9 68.8l0.0 0.0M318.3 68.1l0.0 0.0M338.5 69.7l0.0 0.0M367.3 69.1l0.0 0.0M373.7 69.2l0.0 0.0M375.3 68.2l0.0 0.0M382.3 69.0l0.0 0.0M218.6 71.5l0.0 0.0M232.3 72.1l0.0 0.0M238.0 70.7l0.0 0.0M293.5 72.1l0.0 0.0M311.1 70.6l0.0 0.0M380.9 71.7l0.0 0.0M210.2 73.6l0.0 0.0M239.7 73.4l0.0 0.0M258.0 74.3l0.0 0.0M269.3 73.7l0.0 0.0M355.7 74.7l0.0 0.0M358.9 74.4l0.0 0.0M361.0 73.6l0.0 0.0M373.2 74.7l0.0 0.0M212.0 76.0l0.0 0.0M220.6 76.7l0.0 0.0M270.4 76.3l0.0 0.0M276.9 76.7l0.0 0.0M281.9 76.8l0.0 0.0M307.2 76.9l0.0 0.0M351.6 76.8l0.0 0.0M359.4 76.0l0.0 0.0M362.8 76.6l0.0 0.0M366.7 76.6l0.0 0.0M260.7 78.4l0.0 0.0M269.1 78.8l0.0 0.0M273.9 79.5l0.0 0.0M283.5 79.3l0.0 0.0M321.2 79.8l0.0 0.0M331.7 79.4l0.0 0.0M341.4 78.9l0.0 0.0M355.7 78.9l0.0 0.0M362.3 79.2l0.0 0.0M218.0 81.8l0.0 0.0M232.0 82.2l0.0 0.0M270.2 81.1l0.0 0.0M276.5 80.7l0.0 0.0M278.4 80.8l0.0 0.0M296.5 80.6l0.0 0.0M317.1 82.1l0.0 0.0M330.7 81.1l0.0 0.0M339.7 81.1l0.0 0.0M350.5 80.7l0.0 0.0M366.2 80.9l0.0 0.0M368.4 81.0l0.0 0.0M377.9 81.0l0.0 0.0M389.0 80.9l0.0 0.0M223.1 84.0l0.0 0.0M260.1 83.6l0.0 0.0M277.1 83.4l0.0 0.0M286.7 84.9l0.0 0.0M292.6 83.8l0.0 0.0M302.8 84.5l0.0 0.0M316.0 83.5l0.0 0.0M342.1 84.8l0.0 0.0M389.8 83.7l0.0 0.0M211.3 86.8l0.0 0.0M225.9 86.1l0.0 0.0M241.3 87.2l0.0 0.0M261.3 86.4l0.0 0.0M313.9 85.9l0.0 0.0M320.3 86.4l0.0 0.0M349.3 86.4l0.0 0.0M377.2 85.9l0.0 0.0M380.6 87.1l0.0 0.0M216.0 88.2l0.0 0.0M245.1 88.6l0.0 0.0M260.1 89.2l0.0 0.0M282.9 88.7l0.0 0.0M300.7 88.4l0.0 0.0M353.1 89.8l0.0 0.0M370.2 88.8l0.0 0.0M381.5 88.8l0.0 0.0M391.2 89.0l0.0 0.0M210.0 90.7l0.0 0.0M221.6 91.2l0.0 0.0M254.9 91.5l0.0 0.0M275.5 91.7l0.0 0.0M285.0 90.7l0.0 0.0M295.9 91.9l0.0 0.0M308.8 92.3l0.0 0.0M317.1 92.1l0.0 0.0M327.9 91.4l0.0 0.0M350.9 90.9l0.0 0.0M378.3 91.9l0.0 0.0M380.6 91.0l0.0 0.0M383.2 91.5l0.0 0.0M217.2 94.8l0.0 0.0M234.5 94.5l0.0 0.0M332.8 93.7l0.0 0.0M343.9 94.5l0.0 0.0M350.3 94.3l0.0 0.0M358.9 94.7l0.0 0.0M211.8 97.0l0.0 0.0M214.7 96.8l0.0 0.0M221.2 96.5l0.0 0.0M289.9 96.2l0.0 0.0M293.1 95.8l0.0 0.0M333.9 97.1l0.0 0.0M383.7 96.2l0.0 0.0M220.3 99.0l0.0 0.0M231.7 98.6l0.0 0.0M243.0 99.6l0.0 0.0M245.5 98.9l0.0 0.0M274.3 99.3l0.0 0.0M283.2 99.8l0.0 0.0M323.0 99.4l0.0 0.0M332.8 99.3l0.0 0.0M352.1 99.2l0.0 0.0M356.3 98.6l0.0 0.0M215.1 102.0l0.0 0.0M221.4 102.3l0.0 0.0M224.2 101.7l0.0 0.0M239.2 101.5l0.0 0.0M257.9 102.3l0.0 0.0M299.5 102.3l0.0 0.0M354.8 101.8l0.0 0.0M379.9 101.1l0.0 0.0M217.4 104.9l0.0 0.0M248.0 104.7l0.0 0.0M277.4 103.4l0.0 0.0M286.5 104.7l0.0 0.0M298.3 104.1l0.0 0.0M338.1 104.5l0.0 0.0M343.9 104.3l0.0 0.0M349.9 103.6l0.0 0.0M373.5 104.5l0.0 0.0M220.2 105.9l0.0 0.0M264.5 106.0l0.0 0.0M270.8 106.8l0.0 0.0M278.6 107.1l0.0 0.0M285.2 107.0l0.0 0.0M294.0 105.8l0.0 0.0M320.3 106.1l0.0 0.0M334.0 106.8l0.0 0.0M372.5 106.1l0.0 0.0M248.3 108.4l0.0 0.0M299.8 109.2l0.0 0.0M335.1 109.2l0.0 0.0M339.2 109.1l0.0 0.0M375.6 109.2l0.0 0.0M384.6 110.0l0.0 0.0M393.5 108.7l0.0 0.0M224.0 111.1l0.0 0.0M243.5 111.0l0.0 0.0M261.9 112.0l0.0 0.0M270.2 112.2l0.0 0.0M276.8 111.0l0.0 0.0M283.9 111.5l0.0 0.0M296.6 111.9l0.0 0.0M320.1 110.9l0.0 0.0M325.3 111.8l0.0 0.0M327.8 110.8l0.0 0.0M375.4 111.5l0.0 0.0M380.4 111.5l0.0 0.0M389.5 112.1l0.0 0.0M291.3 113.6l0.0 0.0M294.2 114.8l0.0 0.0M309.0 114.7l0.0 0.0M314.7 114.5l0.0 0.0M321.7 114.9l0.0 0.0M324.6 114.5l0.0 0.0M343.4 113.5l0.0 0.0M369.6 113.9l0.0 0.0M381.9 114.3l0.0 0.0M220.1 117.3l0.0 0.0M244.3 115.9l0.0 0.0M273.8 117.6l0.0 0.0M342.0 117.6l0.0 0.0M363.1 116.3l0.0 0.0M391.3 117.4l0.0 0.0M394.4 116.1l0.0 0.0M233.7 119.6l0.0 0.0M237.0 119.1l0.0 0.0M239.7 119.2l0.0 0.0M330.1 119.3l0.0 0.0M346.8 119.7l0.0 0.0M372.8 119.9l0.0 0.0M384.2 118.7l0.0 0.0M239.2 121.8l0.0 0.0M289.7 122.0l0.0 0.0M325.0 121.0l0.0 0.0M331.7 122.6l0.0 0.0M213.4 124.0l0.0 0.0M254.0 123.7l0.0 0.0M256.5 124.3l0.0 0.0M320.2 124.1l0.0 0.0M326.2 124.7l0.0 0.0M329.5 124.3l0.0 0.0M265.1 126.2l0.0 0.0M290.9 127.4l0.0 0.0M299.6 126.8l0.0 0.0M307.6 126.2l0.0 0.0M316.6 126.3l0.0 0.0M333.5 127.5l0.0 0.0M337.1 126.8l0.0 0.0M339.6 126.7l0.0 0.0M346.4 126.6l0.0 0.0M353.7 127.3l0.0 0.0M384.0 126.7l0.0 0.0M389.5 126.4l0.0 0.0M395.3 127.0l0.0 0.0M240.2 129.3l0.0 0.0M252.0 129.5l0.0 0.0M370.1 129.3l0.0 0.0M387.8 129.8l0.0 0.0M209.4 131.4l0.0 0.0M232.0 132.3l0.0 0.0M236.3 132.4l0.0 0.0M253.4 131.1l0.0 0.0M267.2 131.1l0.0 0.0M280.9 131.9l0.0 0.0M287.7 132.7l0.0 0.0M317.2 131.5l0.0 0.0M327.3 131.3l0.0 0.0M348.9 131.1l0.0 0.0M360.1 131.7l0.0 0.0M366.0 132.7l0.0 0.0M395.0 132.6l0.0 0.0M234.0 134.8l0.0 0.0M244.9 135.2l0.0 0.0M248.6 133.6l0.0 0.0M254.8 134.5l0.0 0.0M266.6 134.4l0.0 0.0M275.1 134.4l0.0 0.0M306.2 133.9l0.0 0.0M340.5 134.6l0.0 0.0M349.6 134.1l0.0 0.0M379.1 134.1l0.0 0.0M382.3 134.6l0.0 0.0M386.8 134.3l0.0 0.0M212.8 137.5l0.0 0.0M224.2 137.6l0.0 0.0M244.6 137.1l0.0 0.0M246.5 137.7l0.0 0.0M283.9 137.2l0.0 0.0M301.4 136.2l0.0 0.0M313.7 136.8l0.0 0.0M316.6 136.9l0.0 0.0M363.6 137.7l0.0 0.0M392.5 136.1l0.0 0.0M210.4 139.9l0.0 0.0M223.2 139.6l0.0 0.0M238.9 139.0l0.0 0.0M254.4 140.0l0.0 0.0M280.7 140.0l0.0 0.0M298.4 139.8l0.0 0.0M300.2 139.7l0.0 0.0M326.9 139.7l0.0 0.0M335.1 140.3l0.0 0.0M355.5 140.2l0.0 0.0M362.2 139.7l0.0 0.0M364.0 140.0l0.0 0.0" stroke="#cfeeea" stroke-width="3.0" stroke-linecap="round" fill="none"/>
<path d="M215.8 10.7l0.0 0.0M227.2 11.3l0.0 0.0M241.6 10.6l0.0 0.0M252.2 10.2l0.0 0.0M290.4 9.9l0.0 0.0M298.8 10.3l0.0 0.0M310.9 11.6l0.0 0.0M356.6 10.0l0.0 0.0M365.4 9.9l0.0 0.0M373.9 11.5l0.0 0.0M389.0 9.9l0.0 0.0M210.0 14.0l0.0 0.0M230.9 12.6l0.0 0.0M250.6 12.7l0.0 0.0M254.9 13.1l0.0 0.0M277.1 13.4l0.0 0.0M300.7 14.2l0.0 0.0M314.6 12.7l0.0 0.0M343.9 12.8l0.0 0.0M352.9 12.7l0.0 0.0M358.5 12.5l0.0 0.0M378.4 14.0l0.0 0.0M381.0 14.1l0.0 0.0M388.0 13.1l0.0 0.0M391.3 12.8l0.0 0.0M397.0 12.8l0.0 0.0M209.5 15.0l0.0 0.0M223.7 15.4l0.0 0.0M230.1 15.8l0.0 0.0M232.6 16.7l0.0 0.0M249.6 16.5l0.0 0.0M258.1 15.9l0.0 0.0M266.9 15.8l0.0 0.0M273.7 16.5l0.0 0.0M287.7 16.6l0.0 0.0M295.4 16.7l0.0 0.0M304.5 15.0l0.0 0.0M313.1 15.3l0.0 0.0M325.6 16.4l0.0 0.0M366.7 15.8l0.0 0.0M377.2 15.4l0.0 0.0M260.2 18.2l0.0 0.0M278.1 18.2l0.0 0.0M285.6 19.1l0.0 0.0M307.2 17.8l0.0 0.0M308.5 18.5l0.0 0.0M315.4 18.3l0.0 0.0M329.3 17.5l0.0 0.0M347.2 18.6l0.0 0.0M349.2 18.1l0.0 0.0M357.8 18.2l0.0 0.0M370.8 18.8l0.0 0.0M376.4 18.3l0.0 0.0M389.7 17.5l0.0 0.0M393.7 18.7l0.0 0.0M262.1 20.0l0.0 0.0M282.0 20.1l0.0 0.0M313.4 20.5l0.0 0.0M343.2 20.0l0.0 0.0M354.5 21.2l0.0 0.0M359.4 21.6l0.0 0.0M365.2 20.1l0.0 0.0M220.2 23.7l0.0 0.0M248.2 24.3l0.0 0.0M251.8 23.1l0.0 0.0M291.7 24.0l0.0 0.0M306.8 23.6l0.0 0.0M329.4 24.3l0.0 0.0M365.1 23.2l0.0 0.0M368.0 23.5l0.0 0.0M370.2 23.6l0.0 0.0M382.0 22.8l0.0 0.0M390.0 24.3l0.0 0.0M238.0 25.5l0.0 0.0M269.3 26.0l0.0 0.0M287.6 25.8l0.0 0.0M302.5 25.5l0.0 0.0M322.6 26.5l0.0 0.0M337.1 26.1l0.0 0.0M349.3 26.3l0.0 0.0M350.8 26.6l0.0 0.0M359.6 26.0l0.0 0.0M369.2 25.5l0.0 0.0M371.6 26.8l0.0 0.0M395.2 25.8l0.0 0.0M216.5 28.1l0.0 0.0M236.7 28.5l0.0 0.0M242.1 29.1l0.0 0.0M263.7 29.1l0.0 0.0M266.7 28.6l0.0 0.0M279.9 28.0l0.0 0.0M295.0 29.1l0.0 0.0M305.8 28.1l0.0 0.0M318.1 28.3l0.0 0.0M332.2 28.5l0.0 0.0M373.3 28.8l0.0 0.0M384.4 28.6l0.0 0.0M250.8 30.4l0.0 0.0M267.5 31.7l0.0 0.0M284.2 31.0l0.0 0.0M290.9 31.1l0.0 0.0M341.8 30.9l0.0 0.0M348.2 31.2l0.0 0.0M355.1 31.2l0.0 0.0M365.2 31.5l0.0 0.0M391.8 30.9l0.0 0.0M394.7 31.8l0.0 0.0M225.2 33.7l0.0 0.0M236.1 33.2l0.0 0.0M243.2 32.8l0.0 0.0M269.3 34.0l0.0 0.0M277.0 33.0l0.0 0.0M291.6 33.7l0.0 0.0M315.4 33.2l0.0 0.0M323.4 34.1l0.0 0.0M329.1 32.9l0.0 0.0M361.7 33.0l0.0 0.0M366.9 33.7l0.0 0.0M369.9 33.0l0.0 0.0M375.6 33.5l0.0 0.0M379.4 33.9l0.0 0.0M387.7 33.7l0.0 0.0M394.3 34.4l0.0 0.0M214.9 35.7l0.0 0.0M232.6 35.7l0.0 0.0M238.3 36.2l0.0 0.0M273.7 36.0l0.0 0.0M330.6 35.6l0.0 0.0M375.5 35.5l0.0 0.0M385.5 36.4l0.0 0.0M225.2 38.6l0.0 0.0M239.2 38.8l0.0 0.0M248.3 38.8l0.0 0.0M250.9 38.3l0.0 0.0M278.2 39.3l0.0 0.0M323.2 37.7l0.0 0.0M332.1 38.7l0.0 0.0M344.3 39.3l0.0 0.0M350.8 38.7l0.0 0.0M362.0 37.8l0.0 0.0M371.0 38.1l0.0 0.0M214.9 40.9l0.0 0.0M217.8 41.8l0.0 0.0M226.1 40.6l0.0 0.0M232.8 41.7l0.0 0.0M238.0 41.8l0.0 0.0M244.1 41.6l0.0 0.0M246.7 41.5l0.0 0.0M249.2 41.1l0.0 0.0M276.2 40.3l0.0 0.0M304.5 41.3l0.0 0.0M319.2 41.3l0.0 0.0M327.7 41.5l0.0 0.0M333.6 40.9l0.0 0.0M336.8 41.6l0.0 0.0M365.0 41.3l0.0 0.0M368.5 40.4l0.0 0.0M377.3 41.8l0.0 0.0M395.5 40.9l0.0 0.0M222.9 43.0l0.0 0.0M231.0 44.5l0.0 0.0M237.5 43.9l0.0 0.0M242.7 43.8l0.0 0.0M245.2 43.4l0.0 0.0M306.8 43.2l0.0 0.0M340.5 43.1l0.0 0.0M378.5 43.9l0.0 0.0M387.4 43.5l0.0 0.0M212.1 45.4l0.0 0.0M218.1 46.7l0.0 0.0M241.7 45.5l0.0 0.0M255.1 46.1l0.0 0.0M310.7 46.6l0.0 0.0M316.4 46.8l0.0 0.0M318.6 46.5l0.0 0.0M327.5 45.4l0.0 0.0M332.0 46.5l0.0 0.0M336.9 46.4l0.0 0.0M342.6 45.3l0.0 0.0M354.3 45.4l0.0 0.0M363.8 47.0l0.0 0.0M366.5 45.3l0.0 0.0M385.9 46.3l0.0 0.0M238.9 48.2l0.0 0.0M301.3 49.2l0.0 0.0M303.7 48.1l0.0 0.0M309.7 48.6l0.0 0.0M321.5 48.8l0.0 0.0M324.1 48.6l0.0 0.0M333.3 49.4l0.0 0.0M341.4 49.5l0.0 0.0M350.4 47.8l0.0 0.0M353.0 48.9l0.0 0.0M364.7 48.4l0.0 0.0M212.2 50.4l0.0 0.0M217.5 50.9l0.0 0.0M236.0 51.8l0.0 0.0M276.6 51.3l0.0 0.0M285.0 51.4l0.0 0.0M305.9 50.6l0.0 0.0M316.7 51.5l0.0 0.0M330.6 51.1l0.0 0.0M334.0 51.2l0.0 0.0M340.1 51.8l0.0 0.0M343.2 50.7l0.0 0.0M360.9 50.8l0.0 0.0M379.8 51.4l0.0 0.0M385.5 50.7l0.0 0.0M391.6 50.3l0.0 0.0M269.0 54.4l0.0 0.0M289.3 53.6l0.0 0.0M330.3 53.4l0.0 0.0M335.7 54.2l0.0 0.0M355.8 54.5l0.0 0.0M367.7 54.5l0.0 0.0M372.3 54.5l0.0 0.0M382.7 54.1l0.0 0.0M384.7 54.3l0.0 0.0M388.5 53.5l0.0 0.0M393.0 52.8l0.0 0.0M217.7 55.7l0.0 0.0M223.9 55.6l0.0 0.0M313.2 56.5l0.0 0.0M368.7 56.2l0.0 0.0M389.4 55.9l0.0 0.0M395.2 55.6l0.0 0.0M237.1 58.4l0.0 0.0M248.0 58.8l0.0 0.0M268.9 59.6l0.0 0.0M277.5 59.2l0.0 0.0M285.6 59.3l0.0 0.0M298.4 59.4l0.0 0.0M301.3 58.6l0.0 0.0M318.5 58.9l0.0 0.0M341.2 58.4l0.0 0.0M233.0 60.4l0.0 0.0M247.3 60.6l0.0 0.0M258.5 62.0l0.0 0.0M273.6 61.0l0.0 0.0M287.5 61.4l0.0 0.0M295.8 60.5l0.0 0.0M305.1 60.9l0.0 0.0M328.4 61.7l0.0 0.0M337.8 60.5l0.0 0.0M342.3 61.1l0.0 0.0M348.5 61.6l0.0 0.0M357.6 61.6l0.0 0.0M380.2 60.4l0.0 0.0M382.8 61.4l0.0 0.0M385.9 60.8l0.0 0.0M218.7 64.1l0.0 0.0M249.1 64.6l0.0 0.0M275.0 63.1l0.0 0.0M280.8 63.0l0.0 0.0M285.8 63.0l0.0 0.0M294.7 64.0l0.0 0.0M300.2 64.3l0.0 0.0M309.5 63.5l0.0 0.0M335.2 64.0l0.0 0.0M354.9 64.0l0.0 0.0M373.9 64.6l0.0 0.0M379.5 63.4l0.0 0.0M391.4 63.9l0.0 0.0M396.2 63.1l0.0 0.0M227.4 66.4l0.0 0.0M287.3 66.4l0.0 0.0M296.3 65.9l0.0 0.0M322.9 66.5l0.0 0.0M345.0 65.9l0.0 0.0M362.5 65.9l0.0 0.0M371.0 66.0l0.0 0.0M376.7 67.0l0.0 0.0M389.5 66.9l0.0 0.0M234.3 68.4l0.0 0.0M253.8 69.4l0.0 0.0M324.1 68.7l0.0 0.0M329.6 69.2l0.0 0.0M343.3 68.8l0.0 0.0M361.4 69.2l0.0 0.0M379.5 69.7l0.0 0.0M384.9 69.6l0.0 0.0M236.2 71.9l0.0 0.0M255.1 71.7l0.0 0.0M281.4 71.3l0.0 0.0M304.9 72.2l0.0 0.0M307.3 71.5l0.0 0.0M325.1 71.0l0.0 0.0M334.5 71.5l0.0 0.0M339.8 70.5l0.0 0.0M351.5 71.3l0.0 0.0M357.4 71.2l0.0 0.0M359.9 70.5l0.0 0.0M373.7 71.1l0.0 0.0M388.9 72.2l0.0 0.0M394.2 72.1l0.0 0.0M216.9 73.0l0.0 0.0M222.4 73.6l0.0 0.0M224.8 74.3l0.0 0.0M251.1 74.4l0.0 0.0M259.3 73.6l0.0 0.0M300.5 73.4l0.0 0.0M307.1 74.6l0.0 0.0M313.0 73.7l0.0 0.0M320.1 73.8l0.0 0.0M336.2 73.4l0.0 0.0M339.0 74.7l0.0 0.0M344.4 73.3l0.0 0.0M349.5 74.3l0.0 0.0M352.4 74.6l0.0 0.0M370.0 74.4l0.0 0.0M378.4 73.4l0.0 0.0M395.9 73.3l0.0 0.0M215.6 76.5l0.0 0.0M225.8 76.8l0.0 0.0M230.4 75.6l0.0 0.0M231.8 77.1l0.0 0.0M285.5 76.3l0.0 0.0M296.1 76.1l0.0 0.0M310.9 76.3l0.0 0.0M325.2 76.9l0.0 0.0M336.7 76.4l0.0 0.0M348.8 75.7l0.0 0.0M353.5 76.8l0.0 0.0M374.4 77.1l0.0 0.0M395.4 76.9l0.0 0.0M211.4 78.1l0.0 0.0M227.8 79.2l0.0 0.0M237.3 78.8l0.0 0.0M243.0 78.7l0.0 0.0M249.0 79.3l0.0 0.0M262.6 79.5l0.0 0.0M314.8 78.9l0.0 0.0M329.4 79.7l0.0 0.0M349.2 78.2l0.0 0.0M370.0 78.8l0.0 0.0M376.5 79.0l0.0 0.0M387.6 79.2l0.0 0.0M209.5 81.6l0.0 0.0M213.1 81.6l0.0 0.0M214.7 81.4l0.0 0.0M220.6 81.4l0.0 0.0M227.2 82.0l0.0 0.0M235.1 82.0l0.0 0.0M241.7 80.6l0.0 0.0M250.2 80.6l0.0 0.0M255.4 80.6l0.0 0.0M281.8 82.3l0.0 0.0M284.8 81.7l0.0 0.0M293.9 80.8l0.0 0.0M298.5 82.2l0.0 0.0M305.8 80.9l0.0 0.0M337.5 80.9l0.0 0.0M374.7 80.7l0.0 0.0M381.1 81.7l0.0 0.0M383.3 81.3l0.0 0.0M386.8 82.2l0.0 0.0M213.8 84.5l0.0 0.0M227.4 84.5l0.0 0.0M230.2 83.8l0.0 0.0M247.8 83.5l0.0 0.0M289.8 83.5l0.0 0.0M318.0 84.6l0.0 0.0M336.1 83.3l0.0 0.0M346.9 83.1l0.0 0.0M350.2 83.9l0.0 0.0M358.9 84.7l0.0 0.0M364.8 83.9l0.0 0.0M322.2 85.6l0.0 0.0M334.8 87.0l0.0 0.0M341.9 86.5l0.0 0.0M344.7 86.9l0.0 0.0M369.4 85.9l0.0 0.0M374.1 86.4l0.0 0.0M221.9 89.4l0.0 0.0M225.9 89.3l0.0 0.0M237.2 88.5l0.0 0.0M256.4 88.8l0.0 0.0M271.1 88.7l0.0 0.0M291.1 88.3l0.0 0.0M338.3 89.9l0.0 0.0M341.7 89.3l0.0 0.0M357.9 89.8l0.0 0.0M223.6 92.3l0.0 0.0M247.5 92.4l0.0 0.0M310.1 91.1l0.0 0.0M333.5 91.9l0.0 0.0M340.6 91.3l0.0 0.0M368.2 91.7l0.0 0.0M211.3 94.3l0.0 0.0M212.8 93.3l0.0 0.0M236.7 94.2l0.0 0.0M242.3 94.5l0.0 0.0M255.0 95.0l0.0 0.0M257.1 94.0l0.0 0.0M263.5 94.4l0.0 0.0M265.8 94.6l0.0 0.0M276.8 94.6l0.0 0.0M280.7 94.5l0.0 0.0M286.4 94.9l0.0 0.0M295.0 93.8l0.0 0.0M372.4 93.3l0.0 0.0M209.2 96.8l0.0 0.0M224.0 96.7l0.0 0.0M261.5 97.4l0.0 0.0M307.5 96.3l0.0 0.0M328.2 95.7l0.0 0.0M345.5 96.9l0.0 0.0M347.7 96.3l0.0 0.0M353.9 96.1l0.0 0.0M374.6 97.0l0.0 0.0M380.1 96.4l0.0 0.0M386.4 96.7l0.0 0.0M240.4 99.1l0.0 0.0M263.2 98.9l0.0 0.0M272.1 98.3l0.0 0.0M285.3 99.5l0.0 0.0M298.0 98.7l0.0 0.0M310.0 98.9l0.0 0.0M320.6 99.3l0.0 0.0M330.5 99.0l0.0 0.0M370.4 99.8l0.0 0.0M373.3 99.3l0.0 0.0M382.1 99.0l0.0 0.0M270.5 101.5l0.0 0.0M285.6 100.8l0.0 0.0M304.3 102.5l0.0 0.0M311.2 102.0l0.0 0.0M324.4 102.3l0.0 0.0M342.0 100.8l0.0 0.0M357.1 102.3l0.0 0.0M368.3 102.0l0.0 0.0M383.0 101.7l0.0 0.0M392.6 101.6l0.0 0.0M395.5 101.0l0.0 0.0M224.6 103.7l0.0 0.0M230.9 104.9l0.0 0.0M234.7 103.7l0.0 0.0M236.2 104.0l0.0 0.0M250.7 103.8l0.0 0.0M253.5 104.2l0.0 0.0M332.5 104.1l0.0 0.0M347.7 104.5l0.0 0.0M356.4 104.5l0.0 0.0M370.1 104.9l0.0 0.0M388.2 104.9l0.0 0.0M215.4 105.9l0.0 0.0M231.6 107.1l0.0 0.0M234.6 107.5l0.0 0.0M262.3 106.7l0.0 0.0M273.1 107.5l0.0 0.0M282.1 106.4l0.0 0.0M311.5 106.7l0.0 0.0M322.9 107.0l0.0 0.0M345.9 107.4l0.0 0.0M351.9 107.6l0.0 0.0M369.4 107.4l0.0 0.0M375.5 106.0l0.0 0.0M376.9 107.5l0.0 0.0M385.5 106.2l0.0 0.0M391.6 107.4l0.0 0.0M222.6 108.3l0.0 0.0M269.4 109.5l0.0 0.0M314.8 109.6l0.0 0.0M327.6 110.0l0.0 0.0M330.0 110.0l0.0 0.0M344.0 110.0l0.0 0.0M347.9 109.6l0.0 0.0M356.0 109.4l0.0 0.0M360.7 108.7l0.0 0.0M367.1 110.0l0.0 0.0M381.2 110.0l0.0 0.0M396.1 109.4l0.0 0.0M208.8 110.9l0.0 0.0M215.4 112.3l0.0 0.0M228.8 111.8l0.0 0.0M232.4 111.3l0.0 0.0M235.9 111.2l0.0 0.0M247.6 111.5l0.0 0.0M254.9 112.2l0.0 0.0M272.5 111.3l0.0 0.0M279.3 112.0l0.0 0.0M281.9 111.9l0.0 0.0M359.3 112.2l0.0 0.0M376.9 110.9l0.0 0.0M219.8 114.2l0.0 0.0M248.2 113.4l0.0 0.0M280.2 114.5l0.0 0.0M286.5 113.4l0.0 0.0M305.7 114.7l0.0 0.0M332.5 114.7l0.0 0.0M346.8 114.9l0.0 0.0M384.6 114.2l0.0 0.0M222.9 116.6l0.0 0.0M230.4 116.5l0.0 0.0M238.1 116.3l0.0 0.0M271.1 116.3l0.0 0.0M317.1 117.2l0.0 0.0M319.7 116.2l0.0 0.0M328.0 117.6l0.0 0.0M330.8 116.3l0.0 0.0M339.1 116.8l0.0 0.0M366.0 116.2l0.0 0.0M371.1 116.6l0.0 0.0M376.7 117.4l0.0 0.0M388.5 117.0l0.0 0.0M210.4 119.7l0.0 0.0M222.8 120.0l0.0 0.0M228.4 119.4l0.0 0.0M245.4 118.7l0.0 0.0M279.8 119.0l0.0 0.0M285.6 119.9l0.0 0.0M295.3 119.0l0.0 0.0M312.6 118.6l0.0 0.0M332.0 119.7l0.0 0.0M334.9 119.7l0.0 0.0M344.1 119.2l0.0 0.0M355.7 119.4l0.0 0.0M358.6 119.6l0.0 0.0M379.3 119.5l0.0 0.0M390.5 119.6l0.0 0.0M393.6 119.9l0.0 0.0M209.9 121.8l0.0 0.0M261.8 122.2l0.0 0.0M279.3 121.8l0.0 0.0M337.0 122.6l0.0 0.0M360.0 121.4l0.0 0.0M394.1 122.6l0.0 0.0M217.0 123.7l0.0 0.0M219.1 124.8l0.0 0.0M221.9 124.5l0.0 0.0M224.6 124.4l0.0 0.0M231.3 123.5l0.0 0.0M234.7 124.5l0.0 0.0M240.5 125.0l0.0 0.0M245.8 124.3l0.0 0.0M266.1 123.5l0.0 0.0M292.4 123.5l0.0 0.0M315.4 123.5l0.0 0.0M344.6 124.2l0.0 0.0M352.7 124.3l0.0 0.0M378.5 124.9l0.0 0.0M390.1 125.2l0.0 0.0M212.4 127.5l0.0 0.0M215.1 126.3l0.0 0.0M233.0 126.5l0.0 0.0M241.2 127.0l0.0 0.0M250.2 127.7l0.0 0.0M255.3 126.7l0.0 0.0M348.4 126.6l0.0 0.0M352.1 127.2l0.0 0.0M366.7 126.1l0.0 0.0M392.3 126.7l0.0 0.0M213.3 129.0l0.0 0.0M215.7 128.9l0.0 0.0M262.2 128.6l0.0 0.0M284.1 129.1l0.0 0.0M344.9 129.0l0.0 0.0M353.7 130.0l0.0 0.0M364.2 128.6l0.0 0.0M391.2 129.6l0.0 0.0M393.3 129.5l0.0 0.0M221.4 131.7l0.0 0.0M247.6 132.2l0.0 0.0M291.0 131.1l0.0 0.0M334.4 131.3l0.0 0.0M339.3 131.5l0.0 0.0M353.6 131.3l0.0 0.0M357.6 131.0l0.0 0.0M392.7 132.2l0.0 0.0M222.9 135.0l0.0 0.0M251.4 135.1l0.0 0.0M267.9 133.8l0.0 0.0M337.9 134.7l0.0 0.0M358.7 134.9l0.0 0.0M361.7 135.0l0.0 0.0M372.4 134.9l0.0 0.0M391.4 135.0l0.0 0.0M396.8 134.0l0.0 0.0M221.2 137.1l0.0 0.0M232.5 137.5l0.0 0.0M241.0 137.8l0.0 0.0M278.6 136.3l0.0 0.0M282.5 137.5l0.0 0.0M324.5 137.0l0.0 0.0M342.4 136.9l0.0 0.0M366.7 136.2l0.0 0.0M371.4 137.3l0.0 0.0M380.4 137.1l0.0 0.0M225.1 140.3l0.0 0.0M277.1 138.8l0.0 0.0M286.1 138.6l0.0 0.0M288.5 140.1l0.0 0.0M295.4 139.2l0.0 0.0M318.5 139.2l0.0 0.0M320.6 139.3l0.0 0.0M330.2 138.7l0.0 0.0M366.8 139.8l0.0 0.0M369.8 140.0l0.0 0.0M373.7 139.0l0.0 0.0M381.2 139.9l0.0 0.0M395.5 138.9l0.0 0.0" stroke="#cfeeea" stroke-width="3.3" stroke-linecap="round" fill="none"/>
<path d="M250.1 11.5l0.0 0.0M276.6 11.6l0.0 0.0M305.6 11.5l0.0 0.0M308.4 10.7l0.0 0.0M313.3 10.2l0.0 0.0M317.2 10.9l0.0 0.0M321.8 11.5l0.0 0.0M339.5 10.3l0.0 0.0M342.5 10.7l0.0 0.0M350.5 10.0l0.0 0.0M379.9 10.6l0.0 0.0M219.3 12.6l0.0 0.0M237.5 12.9l0.0 0.0M271.7 13.7l0.0 0.0M289.8 12.7l0.0 0.0M302.9 13.8l0.0 0.0M308.8 13.0l0.0 0.0M318.5 13.4l0.0 0.0M329.2 12.9l0.0 0.0M332.7 13.8l0.0 0.0M346.2 12.8l0.0 0.0M368.0 13.1l0.0 0.0M212.2 16.5l0.0 0.0M218.2 16.0l0.0 0.0M237.6 16.0l0.0 0.0M252.1 16.3l0.0 0.0M264.8 15.5l0.0 0.0M282.3 15.6l0.0 0.0M293.1 15.0l0.0 0.0M344.8 16.1l0.0 0.0M357.5 16.5l0.0 0.0M379.6 16.2l0.0 0.0M389.3 15.0l0.0 0.0M395.1 15.1l0.0 0.0M213.7 19.2l0.0 0.0M222.7 18.9l0.0 0.0M230.6 17.9l0.0 0.0M253.4 18.6l0.0 0.0M266.1 17.5l0.0 0.0M269.6 19.2l0.0 0.0M312.8 19.1l0.0 0.0M321.3 17.5l0.0 0.0M352.2 17.6l0.0 0.0M355.5 17.8l0.0 0.0M368.2 18.7l0.0 0.0M373.6 19.0l0.0 0.0M385.3 17.6l0.0 0.0M211.7 20.1l0.0 0.0M214.6 20.2l0.0 0.0M230.0 20.5l0.0 0.0M235.5 20.9l0.0 0.0M258.5 20.6l0.0 0.0M276.8 20.1l0.0 0.0M279.7 20.3l0.0 0.0M304.2 20.8l0.0 0.0M308.5 21.7l0.0 0.0M322.1 21.5l0.0 0.0M331.7 20.0l0.0 0.0M357.3 20.3l0.0 0.0M362.5 20.4l0.0 0.0M381.3 21.3l0.0 0.0M391.8 20.2l0.0 0.0M210.3 23.7l0.0 0.0M263.5 23.2l0.0 0.0M270.8 22.7l0.0 0.0M274.8 22.8l0.0 0.0M280.3 23.2l0.0 0.0M285.6 23.2l0.0 0.0M298.6 22.6l0.0 0.0M300.3 23.0l0.0 0.0M315.7 23.2l0.0 0.0M320.2 23.3l0.0 0.0M323.0 22.5l0.0 0.0M340.9 22.6l0.0 0.0M357.9 23.7l0.0 0.0M388.0 23.6l0.0 0.0M241.9 25.8l0.0 0.0M276.5 25.3l0.0 0.0M294.0 25.5l0.0 0.0M308.3 26.1l0.0 0.0M373.7 26.3l0.0 0.0M249.0 28.2l0.0 0.0M253.9 27.7l0.0 0.0M257.3 28.3l0.0 0.0M271.1 28.9l0.0 0.0M283.8 28.9l0.0 0.0M289.6 29.3l0.0 0.0M323.3 29.3l0.0 0.0M335.8 28.3l0.0 0.0M356.0 27.8l0.0 0.0M359.5 29.2l0.0 0.0M365.3 28.1l0.0 0.0M382.3 28.4l0.0 0.0M390.4 28.3l0.0 0.0M209.5 31.3l0.0 0.0M215.2 31.5l0.0 0.0M241.4 30.9l0.0 0.0M243.3 31.0l0.0 0.0M259.3 30.3l0.0 0.0M316.6 30.5l0.0 0.0M319.3 31.4l0.0 0.0M322.7 30.5l0.0 0.0M333.5 30.6l0.0 0.0M346.2 31.4l0.0 0.0M359.3 31.3l0.0 0.0M383.8 30.1l0.0 0.0M387.0 31.4l0.0 0.0M272.3 33.3l0.0 0.0M280.1 33.9l0.0 0.0M285.7 34.0l0.0 0.0M289.2 33.2l0.0 0.0M306.0 33.5l0.0 0.0M311.5 33.4l0.0 0.0M349.6 32.7l0.0 0.0M385.0 34.2l0.0 0.0M390.3 34.1l0.0 0.0M224.6 36.8l0.0 0.0M230.0 36.4l0.0 0.0M244.5 35.9l0.0 0.0M247.8 35.7l0.0 0.0M264.2 35.8l0.0 0.0M291.0 35.9l0.0 0.0M301.5 35.3l0.0 0.0M305.2 35.7l0.0 0.0M313.5 35.7l0.0 0.0M316.5 36.3l0.0 0.0M334.6 36.3l0.0 0.0M337.0 35.3l0.0 0.0M356.6 36.8l0.0 0.0M360.7 36.8l0.0 0.0M219.1 37.9l0.0 0.0M263.0 38.9l0.0 0.0M291.1 37.7l0.0 0.0M307.3 39.4l0.0 0.0M314.3 38.4l0.0 0.0M356.5 37.8l0.0 0.0M364.6 39.1l0.0 0.0M367.4 38.0l0.0 0.0M375.2 39.4l0.0 0.0M220.8 40.3l0.0 0.0M285.5 40.5l0.0 0.0M313.1 41.7l0.0 0.0M375.2 41.1l0.0 0.0M380.6 40.5l0.0 0.0M391.5 40.6l0.0 0.0M213.1 43.9l0.0 0.0M217.2 43.3l0.0 0.0M324.6 44.0l0.0 0.0M335.2 44.4l0.0 0.0M344.3 43.2l0.0 0.0M356.5 44.4l0.0 0.0M368.2 44.0l0.0 0.0M372.7 43.3l0.0 0.0M375.3 43.1l0.0 0.0M381.6 42.8l0.0 0.0M396.6 43.4l0.0 0.0M227.1 46.8l0.0 0.0M231.7 45.8l0.0 0.0M262.1 45.6l0.0 0.0M273.8 46.9l0.0 0.0M276.3 46.6l0.0 0.0M282.6 46.9l0.0 0.0M287.9 46.9l0.0 0.0M293.8 45.7l0.0 0.0M302.4 46.0l0.0 0.0M324.8 46.0l0.0 0.0M340.2 45.4l0.0 0.0M349.1 46.9l0.0 0.0M369.4 46.0l0.0 0.0M371.4 46.2l0.0 0.0M218.7 47.8l0.0 0.0M221.9 48.7l0.0 0.0M237.3 48.9l0.0 0.0M266.2 49.1l0.0 0.0M271.7 49.5l0.0 0.0M336.2 49.2l0.0 0.0M344.7 48.7l0.0 0.0M366.8 49.1l0.0 0.0M385.0 48.5l0.0 0.0M396.9 49.1l0.0 0.0M223.7 51.9l0.0 0.0M238.3 50.7l0.0 0.0M241.2 51.2l0.0 0.0M250.2 51.4l0.0 0.0M258.3 51.7l0.0 0.0M281.9 50.9l0.0 0.0M311.5 51.7l0.0 0.0M325.5 50.9l0.0 0.0M345.6 51.2l0.0 0.0M353.8 51.7l0.0 0.0M375.4 51.2l0.0 0.0M382.5 51.5l0.0 0.0M216.8 53.8l0.0 0.0M245.5 54.2l0.0 0.0M271.5 54.2l0.0 0.0M280.7 53.3l0.0 0.0M291.5 53.3l0.0 0.0M294.2 52.8l0.0 0.0M297.2 54.2l0.0 0.0M306.3 53.5l0.0 0.0M315.3 53.6l0.0 0.0M332.6 52.9l0.0 0.0M344.0 52.9l0.0 0.0M349.5 53.4l0.0 0.0M363.6 54.1l0.0 0.0M376.6 54.0l0.0 0.0M378.7 53.3l0.0 0.0M238.9 56.3l0.0 0.0M246.3 56.2l0.0 0.0M250.4 57.1l0.0 0.0M262.4 55.7l0.0 0.0M272.4 56.8l0.0 0.0M276.3 56.9l0.0 0.0M281.0 57.1l0.0 0.0M315.9 56.8l0.0 0.0M319.2 56.9l0.0 0.0M330.4 56.3l0.0 0.0M333.7 55.5l0.0 0.0M348.4 56.5l0.0 0.0M385.9 56.9l0.0 0.0M211.1 58.4l0.0 0.0M240.2 58.9l0.0 0.0M242.2 58.5l0.0 0.0M254.7 58.9l0.0 0.0M257.7 58.4l0.0 0.0M280.0 59.1l0.0 0.0M324.1 58.3l0.0 0.0M334.7 59.6l0.0 0.0M349.7 59.0l0.0 0.0M363.6 58.4l0.0 0.0M396.4 58.4l0.0 0.0M211.7 61.3l0.0 0.0M237.8 60.9l0.0 0.0M244.5 61.7l0.0 0.0M278.2 61.0l0.0 0.0M307.7 61.7l0.0 0.0M320.3 61.1l0.0 0.0M323.1 60.4l0.0 0.0M345.5 62.0l0.0 0.0M354.9 61.3l0.0 0.0M366.2 60.4l0.0 0.0M395.6 60.8l0.0 0.0M211.4 64.7l0.0 0.0M255.0 63.1l0.0 0.0M268.2 64.5l0.0 0.0M288.2 63.7l0.0 0.0M304.1 64.2l0.0 0.0M318.5 64.7l0.0 0.0M329.0 63.8l0.0 0.0M338.5 63.6l0.0 0.0M344.5 64.2l0.0 0.0M392.9 63.1l0.0 0.0M244.9 66.4l0.0 0.0M293.6 66.1l0.0 0.0M299.2 65.7l0.0 0.0M330.8 65.6l0.0 0.0M343.2 66.0l0.0 0.0M354.5 66.8l0.0 0.0M380.6 65.7l0.0 0.0M386.7 66.5l0.0 0.0M216.3 68.7l0.0 0.0M219.3 69.1l0.0 0.0M224.4 68.8l0.0 0.0M242.7 69.1l0.0 0.0M283.7 69.0l0.0 0.0M301.3 68.6l0.0 0.0M307.3 68.6l0.0 0.0M312.4 69.4l0.0 0.0M315.4 68.7l0.0 0.0M335.0 68.5l0.0 0.0M352.7 68.0l0.0 0.0M355.9 68.8l0.0 0.0M365.0 68.4l0.0 0.0M388.5 68.3l0.0 0.0M215.4 70.9l0.0 0.0M220.3 72.0l0.0 0.0M284.1 72.2l0.0 0.0M328.4 71.3l0.0 0.0M348.6 70.6l0.0 0.0M353.6 71.0l0.0 0.0M363.4 71.8l0.0 0.0M365.7 70.9l0.0 0.0M368.3 72.2l0.0 0.0M377.5 71.1l0.0 0.0M385.6 71.4l0.0 0.0M392.1 72.1l0.0 0.0M230.2 73.5l0.0 0.0M266.5 74.6l0.0 0.0M274.2 73.8l0.0 0.0M283.4 73.5l0.0 0.0M323.2 74.0l0.0 0.0M329.1 73.3l0.0 0.0M347.6 74.1l0.0 0.0M390.8 73.9l0.0 0.0M392.8 74.6l0.0 0.0M208.7 77.0l0.0 0.0M217.1 75.6l0.0 0.0M235.2 77.1l0.0 0.0M238.8 76.1l0.0 0.0M243.6 76.8l0.0 0.0M266.9 76.7l0.0 0.0M278.1 75.7l0.0 0.0M299.7 76.7l0.0 0.0M313.5 76.1l0.0 0.0M344.8 76.9l0.0 0.0M356.5 77.1l0.0 0.0M380.6 76.4l0.0 0.0M382.8 76.1l0.0 0.0M386.1 76.0l0.0 0.0M391.7 76.2l0.0 0.0M218.8 79.0l0.0 0.0M222.2 79.5l0.0 0.0M224.9 78.8l0.0 0.0M251.7 78.6l0.0 0.0M277.8 78.7l0.0 0.0M287.0 78.7l0.0 0.0M334.6 78.3l0.0 0.0M364.5 78.8l0.0 0.0M382.2 78.3l0.0 0.0M390.2 78.9l0.0 0.0M396.5 79.7l0.0 0.0M230.4 80.7l0.0 0.0M246.4 81.3l0.0 0.0M272.6 82.0l0.0 0.0M308.0 80.6l0.0 0.0M313.4 81.3l0.0 0.0M319.5 81.1l0.0 0.0M325.1 81.1l0.0 0.0M343.4 80.6l0.0 0.0M349.0 81.6l0.0 0.0M360.5 82.1l0.0 0.0M362.4 81.1l0.0 0.0M225.4 84.3l0.0 0.0M333.2 83.7l0.0 0.0M355.5 83.7l0.0 0.0M373.1 84.6l0.0 0.0M384.2 84.8l0.0 0.0M388.2 84.5l0.0 0.0M223.9 86.3l0.0 0.0M229.9 87.3l0.0 0.0M235.2 86.2l0.0 0.0M256.0 86.4l0.0 0.0M263.9 86.6l0.0 0.0M267.6 87.3l0.0 0.0M276.2 86.4l0.0 0.0M298.7 86.4l0.0 0.0M305.6 86.2l0.0 0.0M324.9 86.6l0.0 0.0M337.5 86.2l0.0 0.0M363.1 85.9l0.0 0.0M383.2 87.1l0.0 0.0M388.6 86.3l0.0 0.0M394.0 86.2l0.0 0.0M218.8 88.5l0.0 0.0M250.5 89.3l0.0 0.0M273.9 88.6l0.0 0.0M305.6 89.7l0.0 0.0M317.5 89.9l0.0 0.0M323.6 89.7l0.0 0.0M326.9 88.9l0.0 0.0M384.8 89.0l0.0 0.0M388.3 88.4l0.0 0.0M393.9 88.6l0.0 0.0M217.6 91.1l0.0 0.0M226.5 92.0l0.0 0.0M229.2 91.4l0.0 0.0M281.6 91.7l0.0 0.0M290.0 91.5l0.0 0.0M298.8 91.5l0.0 0.0M336.5 91.6l0.0 0.0M342.4 90.9l0.0 0.0M345.5 91.5l0.0 0.0M357.0 90.7l0.0 0.0M366.6 91.6l0.0 0.0M374.5 92.3l0.0 0.0M221.8 94.6l0.0 0.0M230.4 93.9l0.0 0.0M289.1 93.2l0.0 0.0M301.1 95.0l0.0 0.0M305.7 93.9l0.0 0.0M312.4 94.1l0.0 0.0M326.4 93.7l0.0 0.0M329.4 94.0l0.0 0.0M346.8 93.7l0.0 0.0M353.1 94.8l0.0 0.0M370.6 94.5l0.0 0.0M388.2 94.6l0.0 0.0M394.2 94.5l0.0 0.0M249.2 96.9l0.0 0.0M253.2 96.0l0.0 0.0M256.4 95.8l0.0 0.0M311.6 96.1l0.0 0.0M319.8 97.4l0.0 0.0M360.8 95.8l0.0 0.0M368.1 96.8l0.0 0.0M376.7 96.9l0.0 0.0M257.4 98.6l0.0 0.0M300.7 99.9l0.0 0.0M303.8 99.8l0.0 0.0M315.0 99.5l0.0 0.0M327.1 98.7l0.0 0.0M363.7 98.8l0.0 0.0M388.4 99.4l0.0 0.0M396.4 99.6l0.0 0.0M217.2 102.2l0.0 0.0M244.7 102.4l0.0 0.0M252.8 102.4l0.0 0.0M296.9 101.0l0.0 0.0M302.4 101.1l0.0 0.0M317.3 100.9l0.0 0.0M336.6 102.0l0.0 0.0M339.2 100.9l0.0 0.0M348.8 102.5l0.0 0.0M389.4 101.2l0.0 0.0M210.5 105.0l0.0 0.0M222.4 104.1l0.0 0.0M259.3 104.2l0.0 0.0M280.0 104.7l0.0 0.0M304.0 104.7l0.0 0.0M320.1 103.5l0.0 0.0M336.0 104.9l0.0 0.0M378.3 104.5l0.0 0.0M390.9 104.8l0.0 0.0M393.1 103.9l0.0 0.0M267.0 105.9l0.0 0.0M331.1 106.7l0.0 0.0M339.0 106.6l0.0 0.0M354.7 106.2l0.0 0.0M356.6 106.0l0.0 0.0M383.3 106.1l0.0 0.0M388.2 107.0l0.0 0.0M277.2 109.0l0.0 0.0M295.0 109.3l0.0 0.0M303.3 108.6l0.0 0.0M306.0 109.5l0.0 0.0M313.0 108.8l0.0 0.0M332.0 109.6l0.0 0.0M340.6 109.4l0.0 0.0M378.8 109.3l0.0 0.0M220.5 112.4l0.0 0.0M258.8 111.2l0.0 0.0M308.3 111.9l0.0 0.0M349.2 112.0l0.0 0.0M353.8 110.9l0.0 0.0M371.9 111.8l0.0 0.0M394.5 111.8l0.0 0.0M311.8 115.0l0.0 0.0M317.2 113.5l0.0 0.0M327.5 114.2l0.0 0.0M335.9 113.5l0.0 0.0M361.4 114.7l0.0 0.0M367.9 113.6l0.0 0.0M393.4 114.6l0.0 0.0M215.5 116.6l0.0 0.0M247.5 116.4l0.0 0.0M300.1 116.5l0.0 0.0M301.9 117.2l0.0 0.0M348.5 117.1l0.0 0.0M374.6 116.9l0.0 0.0M381.3 116.0l0.0 0.0M213.9 119.8l0.0 0.0M231.1 120.0l0.0 0.0M276.6 119.8l0.0 0.0M297.8 119.6l0.0 0.0M326.3 119.8l0.0 0.0M350.6 119.0l0.0 0.0M365.3 120.0l0.0 0.0M375.5 119.3l0.0 0.0M381.4 120.0l0.0 0.0M396.2 118.7l0.0 0.0M223.1 121.8l0.0 0.0M270.3 122.4l0.0 0.0M295.6 121.6l0.0 0.0M302.3 121.6l0.0 0.0M320.3 121.0l0.0 0.0M339.9 122.2l0.0 0.0M357.2 122.5l0.0 0.0M363.0 121.2l0.0 0.0M378.1 121.5l0.0 0.0M382.4 122.2l0.0 0.0M211.5 124.1l0.0 0.0M251.8 124.2l0.0 0.0M268.9 124.9l0.0 0.0M278.3 124.6l0.0 0.0M300.8 124.5l0.0 0.0M336.2 125.2l0.0 0.0M347.5 124.4l0.0 0.0M355.3 123.5l0.0 0.0M361.7 124.2l0.0 0.0M367.2 125.0l0.0 0.0M372.8 125.1l0.0 0.0M383.9 123.7l0.0 0.0M258.0 126.1l0.0 0.0M266.6 127.7l0.0 0.0M302.3 126.9l0.0 0.0M305.1 127.3l0.0 0.0M321.7 126.0l0.0 0.0M326.0 127.7l0.0 0.0M360.9 126.9l0.0 0.0M377.0 127.1l0.0 0.0M233.5 130.2l0.0 0.0M243.0 130.1l0.0 0.0M254.0 129.3l0.0 0.0M268.2 129.8l0.0 0.0M277.9 128.6l0.0 0.0M295.5 129.1l0.0 0.0M323.0 128.8l0.0 0.0M327.1 129.4l0.0 0.0M356.6 129.1l0.0 0.0M378.9 129.6l0.0 0.0M384.4 129.4l0.0 0.0M223.7 131.3l0.0 0.0M227.2 132.7l0.0 0.0M228.9 132.0l0.0 0.0M241.9 131.0l0.0 0.0M270.0 132.3l0.0 0.0M293.4 132.1l0.0 0.0M295.6 132.7l0.0 0.0M311.6 131.4l0.0 0.0M320.2 132.5l0.0 0.0M351.4 132.8l0.0 0.0M368.3 131.4l0.0 0.0M210.0 133.5l0.0 0.0M228.2 134.1l0.0 0.0M231.1 134.5l0.0 0.0M243.4 134.1l0.0 0.0M286.5 135.2l0.0 0.0M289.0 133.8l0.0 0.0M298.4 134.2l0.0 0.0M356.0 134.4l0.0 0.0M384.6 134.7l0.0 0.0M208.7 136.5l0.0 0.0M215.8 137.5l0.0 0.0M217.3 137.0l0.0 0.0M255.0 137.0l0.0 0.0M257.7 136.2l0.0 0.0M266.7 137.4l0.0 0.0M270.2 137.7l0.0 0.0M327.5 136.5l0.0 0.0M331.9 137.5l0.0 0.0M334.6 136.5l0.0 0.0M340.3 137.4l0.0 0.0M359.8 136.1l0.0 0.0M213.3 138.8l0.0 0.0M302.7 138.6l0.0 0.0M309.1 138.8l0.0 0.0M338.1 139.5l0.0 0.0M343.6 138.9l0.0 0.0M353.1 140.1l0.0 0.0M379.6 140.2l0.0 0.0M391.2 139.7l0.0 0.0" stroke="#cfeeea" stroke-width="3.6" stroke-linecap="round" fill="none"/>
<path d="M212.2 11.1l0.0 0.0M255.6 10.3l0.0 0.0M354.4 11.4l0.0 0.0M362.5 11.5l0.0 0.0M382.9 11.3l0.0 0.0M392.4 10.9l0.0 0.0M227.9 14.2l0.0 0.0M280.6 13.9l0.0 0.0M369.4 13.5l0.0 0.0M251.2 18.0l0.0 0.0M341.1 17.7l0.0 0.0M264.0 21.3l0.0 0.0M336.6 20.6l0.0 0.0M386.9 20.5l0.0 0.0M327.2 24.1l0.0 0.0M343.9 22.8l0.0 0.0M374.0 23.2l0.0 0.0M392.9 23.5l0.0 0.0M218.7 26.2l0.0 0.0M250.4 26.8l0.0 0.0M279.2 26.5l0.0 0.0M356.4 26.0l0.0 0.0M365.1 26.0l0.0 0.0M224.5 28.2l0.0 0.0M231.2 28.4l0.0 0.0M353.6 28.0l0.0 0.0M393.5 28.4l0.0 0.0M397.2 28.8l0.0 0.0M311.6 31.5l0.0 0.0M380.5 30.6l0.0 0.0M252.1 33.7l0.0 0.0M318.7 33.3l0.0 0.0M327.1 33.0l0.0 0.0M333.3 32.6l0.0 0.0M358.0 33.0l0.0 0.0M364.5 34.3l0.0 0.0M373.6 33.1l0.0 0.0M328.3 35.6l0.0 0.0M363.4 35.3l0.0 0.0M301.4 41.2l0.0 0.0M274.4 44.1l0.0 0.0M301.5 44.5l0.0 0.0M349.6 44.0l0.0 0.0M365.2 43.9l0.0 0.0M289.6 46.9l0.0 0.0M245.0 49.4l0.0 0.0M356.4 48.6l0.0 0.0M368.7 51.5l0.0 0.0M213.4 54.4l0.0 0.0M209.6 55.5l0.0 0.0M362.9 56.2l0.0 0.0M367.9 58.2l0.0 0.0M316.4 61.0l0.0 0.0M213.6 69.5l0.0 0.0M291.9 68.8l0.0 0.0M318.3 68.1l0.0 0.0M232.3 72.1l0.0 0.0M373.2 74.7l0.0 0.0M212.0 76.0l0.0 0.0M220.6 76.7l0.0 0.0M281.9 76.8l0.0 0.0M359.4 76.0l0.0 0.0M341.4 78.9l0.0 0.0M232.0 82.2l0.0 0.0M366.2 80.9l0.0 0.0M223.1 84.0l0.0 0.0M286.7 84.9l0.0 0.0M292.6 83.8l0.0 0.0M302.8 84.5l0.0 0.0M211.3 86.8l0.0 0.0M261.3 86.4l0.0 0.0M313.9 85.9l0.0 0.0M349.3 86.4l0.0 0.0M353.1 89.8l0.0 0.0M370.2 88.8l0.0 0.0M381.5 88.8l0.0 0.0M285.0 90.7l0.0 0.0M295.9 91.9l0.0 0.0M327.9 91.4l0.0 0.0M378.3 91.9l0.0 0.0M234.5 94.5l0.0 0.0M343.9 94.5l0.0 0.0M350.3 94.3l0.0 0.0M383.7 96.2l0.0 0.0M231.7 98.6l0.0 0.0M245.5 98.9l0.0 0.0M323.0 99.4l0.0 0.0M332.8 99.3l0.0 0.0M215.1 102.0l0.0 0.0M224.2 101.7l0.0 0.0M257.9 102.3l0.0 0.0M217.4 104.9l0.0 0.0M277.4 103.4l0.0 0.0M264.5 106.0l0.0 0.0M334.0 106.8l0.0 0.0M372.5 106.1l0.0 0.0M296.6 111.9l0.0 0.0M327.8 110.8l0.0 0.0M244.3 115.9l0.0 0.0M273.8 117.6l0.0 0.0M237.0 119.1l0.0 0.0M320.2 124.1l0.0 0.0M329.5 124.3l0.0 0.0M299.6 126.8l0.0 0.0M337.1 126.8l0.0 0.0M339.6 126.7l0.0 0.0M209.4 131.4l0.0 0.0M253.4 131.1l0.0 0.0M267.2 131.1l0.0 0.0M366.0 132.7l0.0 0.0M266.6 134.4l0.0 0.0M386.8 134.3l0.0 0.0M212.8 137.5l0.0 0.0M246.5 137.7l0.0 0.0M283.9 137.2l0.0 0.0M313.7 136.8l0.0 0.0M210.4 139.9l0.0 0.0M280.7 140.0l0.0 0.0M300.2 139.7l0.0 0.0" stroke="#66a8b0" stroke-width="2.0" stroke-linecap="round" fill="none"/>
<path d="M215.8 10.7l0.0 0.0M241.6 10.6l0.0 0.0M389.0 9.9l0.0 0.0M210.0 14.0l0.0 0.0M232.6 16.7l0.0 0.0M313.1 15.3l0.0 0.0M347.2 18.6l0.0 0.0M357.8 18.2l0.0 0.0M370.8 18.8l0.0 0.0M354.5 21.2l0.0 0.0M359.4 21.6l0.0 0.0M251.8 23.1l0.0 0.0M306.8 23.6l0.0 0.0M368.0 23.5l0.0 0.0M370.2 23.6l0.0 0.0M287.6 25.8l0.0 0.0M302.5 25.5l0.0 0.0M395.2 25.8l0.0 0.0M216.5 28.1l0.0 0.0M279.9 28.0l0.0 0.0M290.9 31.1l0.0 0.0M394.3 34.4l0.0 0.0M248.3 38.8l0.0 0.0M278.2 39.3l0.0 0.0M350.8 38.7l0.0 0.0M246.7 41.5l0.0 0.0M249.2 41.1l0.0 0.0M319.2 41.3l0.0 0.0M395.5 40.9l0.0 0.0M237.5 43.9l0.0 0.0M242.7 43.8l0.0 0.0M387.4 43.5l0.0 0.0M218.1 46.7l0.0 0.0M354.3 45.4l0.0 0.0M303.7 48.1l0.0 0.0M324.1 48.6l0.0 0.0M353.0 48.9l0.0 0.0M360.9 50.8l0.0 0.0M269.0 54.4l0.0 0.0M384.7 54.3l0.0 0.0M393.0 52.8l0.0 0.0M389.4 55.9l0.0 0.0M298.4 59.4l0.0 0.0M301.3 58.6l0.0 0.0M318.5 58.9l0.0 0.0M337.8 60.5l0.0 0.0M348.5 61.6l0.0 0.0M357.6 61.6l0.0 0.0M382.8 61.4l0.0 0.0M218.7 64.1l0.0 0.0M335.2 64.0l0.0 0.0M354.9 64.0l0.0 0.0M396.2 63.1l0.0 0.0M296.3 65.9l0.0 0.0M345.0 65.9l0.0 0.0M234.3 68.4l0.0 0.0M329.6 69.2l0.0 0.0M361.4 69.2l0.0 0.0M334.5 71.5l0.0 0.0M359.9 70.5l0.0 0.0M388.9 72.2l0.0 0.0M222.4 73.6l0.0 0.0M251.1 74.4l0.0 0.0M300.5 73.4l0.0 0.0M352.4 74.6l0.0 0.0M370.0 74.4l0.0 0.0M230.4 75.6l0.0 0.0M285.5 76.3l0.0 0.0M237.3 78.8l0.0 0.0M249.0 79.3l0.0 0.0M281.8 82.3l0.0 0.0M305.8 80.9l0.0 0.0M386.8 82.2l0.0 0.0M336.1 83.3l0.0 0.0M346.9 83.1l0.0 0.0M322.2 85.6l0.0 0.0M369.4 85.9l0.0 0.0M374.1 86.4l0.0 0.0M237.2 88.5l0.0 0.0M340.6 91.3l0.0 0.0M257.1 94.0l0.0 0.0M295.0 93.8l0.0 0.0M209.2 96.8l0.0 0.0M328.2 95.7l0.0 0.0M345.5 96.9l0.0 0.0M240.4 99.1l0.0 0.0M272.1 98.3l0.0 0.0M298.0 98.7l0.0 0.0M310.0 98.9l0.0 0.0M285.6 100.8l0.0 0.0M324.4 102.3l0.0 0.0M342.0 100.8l0.0 0.0M357.1 102.3l0.0 0.0M383.0 101.7l0.0 0.0M392.6 101.6l0.0 0.0M262.3 106.7l0.0 0.0M311.5 106.7l0.0 0.0M369.4 107.4l0.0 0.0M396.1 109.4l0.0 0.0M215.4 112.3l0.0 0.0M232.4 111.3l0.0 0.0M247.6 111.5l0.0 0.0M254.9 112.2l0.0 0.0M279.3 112.0l0.0 0.0M219.8 114.2l0.0 0.0M238.1 116.3l0.0 0.0M271.1 116.3l0.0 0.0M328.0 117.6l0.0 0.0M222.8 120.0l0.0 0.0M245.4 118.7l0.0 0.0M279.8 119.0l0.0 0.0M332.0 119.7l0.0 0.0M334.9 119.7l0.0 0.0M379.3 119.5l0.0 0.0M390.5 119.6l0.0 0.0M394.1 122.6l0.0 0.0M224.6 124.4l0.0 0.0M234.7 124.5l0.0 0.0M245.8 124.3l0.0 0.0M390.1 125.2l0.0 0.0M212.4 127.5l0.0 0.0M262.2 128.6l0.0 0.0M291.0 131.1l0.0 0.0M358.7 134.9l0.0 0.0M232.5 137.5l0.0 0.0M342.4 136.9l0.0 0.0M366.7 136.2l0.0 0.0M380.4 137.1l0.0 0.0" stroke="#5ca2aa" stroke-width="2.3" stroke-linecap="round" fill="none"/>
<path d="M224.7 11.0l0.0 0.0M231.9 10.3l0.0 0.0M249.1 14.0l0.0 0.0M265.8 12.7l0.0 0.0M301.2 19.1l0.0 0.0M333.2 19.1l0.0 0.0M284.2 20.1l0.0 0.0M243.5 22.8l0.0 0.0M350.8 23.8l0.0 0.0M353.2 24.3l0.0 0.0M334.7 26.5l0.0 0.0M213.4 28.4l0.0 0.0M222.9 29.1l0.0 0.0M261.8 31.5l0.0 0.0M273.2 30.3l0.0 0.0M263.7 33.6l0.0 0.0M303.2 33.7l0.0 0.0M338.2 33.5l0.0 0.0M285.1 36.2l0.0 0.0M335.8 39.3l0.0 0.0M240.7 40.4l0.0 0.0M255.8 40.9l0.0 0.0M291.1 41.7l0.0 0.0M323.3 41.6l0.0 0.0M345.5 40.9l0.0 0.0M271.2 42.9l0.0 0.0M369.9 43.8l0.0 0.0M334.0 45.7l0.0 0.0M350.9 45.7l0.0 0.0M395.6 46.5l0.0 0.0M347.7 48.3l0.0 0.0M263.8 51.7l0.0 0.0M278.4 51.9l0.0 0.0M287.9 52.0l0.0 0.0M301.4 50.7l0.0 0.0M388.9 50.6l0.0 0.0M374.0 55.6l0.0 0.0M213.0 59.2l0.0 0.0M302.8 59.4l0.0 0.0M216.5 63.1l0.0 0.0M277.4 63.2l0.0 0.0M361.5 63.1l0.0 0.0M234.5 66.3l0.0 0.0M282.3 65.6l0.0 0.0M392.5 66.1l0.0 0.0M272.0 68.5l0.0 0.0M375.3 68.2l0.0 0.0M239.7 73.4l0.0 0.0M358.9 74.4l0.0 0.0M276.9 76.7l0.0 0.0M307.2 76.9l0.0 0.0M362.8 76.6l0.0 0.0M366.7 76.6l0.0 0.0M269.1 78.8l0.0 0.0M283.5 79.3l0.0 0.0M331.7 79.4l0.0 0.0M276.5 80.7l0.0 0.0M330.7 81.1l0.0 0.0M389.0 80.9l0.0 0.0M260.1 89.2l0.0 0.0M282.9 88.7l0.0 0.0M254.9 91.5l0.0 0.0M332.8 93.7l0.0 0.0M211.8 97.0l0.0 0.0M214.7 96.8l0.0 0.0M283.2 99.8l0.0 0.0M352.1 99.2l0.0 0.0M356.3 98.6l0.0 0.0M393.5 108.7l0.0 0.0M224.0 111.1l0.0 0.0M389.5 112.1l0.0 0.0M291.3 113.6l0.0 0.0M321.7 114.9l0.0 0.0M381.9 114.3l0.0 0.0M394.4 116.1l0.0 0.0M346.8 119.7l0.0 0.0M289.7 122.0l0.0 0.0M331.7 122.6l0.0 0.0M256.5 124.3l0.0 0.0M307.6 126.2l0.0 0.0M346.4 126.6l0.0 0.0M353.7 127.3l0.0 0.0M395.3 127.0l0.0 0.0M240.2 129.3l0.0 0.0M327.3 131.3l0.0 0.0M395.0 132.6l0.0 0.0M254.8 134.5l0.0 0.0M349.6 134.1l0.0 0.0M238.9 139.0l0.0 0.0M298.4 139.8l0.0 0.0M362.2 139.7l0.0 0.0M364.0 140.0l0.0 0.0" stroke="#5298a0" stroke-width="2.0" stroke-linecap="round" fill="none"/>
<path d="M227.2 11.3l0.0 0.0M290.4 9.9l0.0 0.0M365.4 9.9l0.0 0.0M314.6 12.7l0.0 0.0M343.9 12.8l0.0 0.0M352.9 12.7l0.0 0.0M378.4 14.0l0.0 0.0M381.0 14.1l0.0 0.0M388.0 13.1l0.0 0.0M209.5 15.0l0.0 0.0M258.1 15.9l0.0 0.0M266.9 15.8l0.0 0.0M295.4 16.7l0.0 0.0M376.4 18.3l0.0 0.0M389.7 17.5l0.0 0.0M313.4 20.5l0.0 0.0M248.2 24.3l0.0 0.0M329.4 24.3l0.0 0.0M390.0 24.3l0.0 0.0M238.0 25.5l0.0 0.0M269.3 26.0l0.0 0.0M337.1 26.1l0.0 0.0M359.6 26.0l0.0 0.0M318.1 28.3l0.0 0.0M250.8 30.4l0.0 0.0M348.2 31.2l0.0 0.0M355.1 31.2l0.0 0.0M375.5 35.5l0.0 0.0M385.5 36.4l0.0 0.0M239.2 38.8l0.0 0.0M332.1 38.7l0.0 0.0M304.5 41.3l0.0 0.0M368.5 40.4l0.0 0.0M316.4 46.8l0.0 0.0M336.9 46.4l0.0 0.0M333.3 49.4l0.0 0.0M276.6 51.3l0.0 0.0M285.0 51.4l0.0 0.0M316.7 51.5l0.0 0.0M343.2 50.7l0.0 0.0M289.3 53.6l0.0 0.0M330.3 53.4l0.0 0.0M388.5 53.5l0.0 0.0M217.7 55.7l0.0 0.0M395.2 55.6l0.0 0.0M248.0 58.8l0.0 0.0M328.4 61.7l0.0 0.0M300.2 64.3l0.0 0.0M309.5 63.5l0.0 0.0M373.9 64.6l0.0 0.0M371.0 66.0l0.0 0.0M324.1 68.7l0.0 0.0M343.3 68.8l0.0 0.0M379.5 69.7l0.0 0.0M255.1 71.7l0.0 0.0M339.8 70.5l0.0 0.0M373.7 71.1l0.0 0.0M394.2 72.1l0.0 0.0M320.1 73.8l0.0 0.0M336.2 73.4l0.0 0.0M378.4 73.4l0.0 0.0M215.6 76.5l0.0 0.0M348.8 75.7l0.0 0.0M349.2 78.2l0.0 0.0M370.0 78.8l0.0 0.0M213.1 81.6l0.0 0.0M250.2 80.6l0.0 0.0M374.7 80.7l0.0 0.0M381.1 81.7l0.0 0.0M383.3 81.3l0.0 0.0M213.8 84.5l0.0 0.0M227.4 84.5l0.0 0.0M247.8 83.5l0.0 0.0M341.7 89.3l0.0 0.0M368.2 91.7l0.0 0.0M212.8 93.3l0.0 0.0M242.3 94.5l0.0 0.0M265.8 94.6l0.0 0.0M276.8 94.6l0.0 0.0M280.7 94.5l0.0 0.0M347.7 96.3l0.0 0.0M330.5 99.0l0.0 0.0M373.3 99.3l0.0 0.0M311.2 102.0l0.0 0.0M368.3 102.0l0.0 0.0M234.7 103.7l0.0 0.0M250.7 103.8l0.0 0.0M370.1 104.9l0.0 0.0M388.2 104.9l0.0 0.0M231.6 107.1l0.0 0.0M234.6 107.5l0.0 0.0M351.9 107.6l0.0 0.0M385.5 106.2l0.0 0.0M391.6 107.4l0.0 0.0M222.6 108.3l0.0 0.0M269.4 109.5l0.0 0.0M208.8 110.9l0.0 0.0M272.5 111.3l0.0 0.0M376.9 110.9l0.0 0.0M332.5 114.7l0.0 0.0M384.6 114.2l0.0 0.0M285.6 119.9l0.0 0.0M344.1 119.2l0.0 0.0M209.9 121.8l0.0 0.0M360.0 121.4l0.0 0.0M221.9 124.5l0.0 0.0M292.4 123.5l0.0 0.0M352.1 127.2l0.0 0.0M213.3 129.0l0.0 0.0M353.7 130.0l0.0 0.0M393.3 129.5l0.0 0.0M334.4 131.3l0.0 0.0M339.3 131.5l0.0 0.0M353.6 131.3l0.0 0.0M357.6 131.0l0.0 0.0M278.6 136.3l0.0 0.0M282.5 137.5l0.0 0.0M295.4 139.2l0.0 0.0M320.6 139.3l0.0 0.0M373.7 139.0l0.0 0.0" stroke="#5aa0a8" stroke-width="2.3" stroke-linecap="round" fill="none"/>
<path d="M250.1 11.5l0.0 0.0M305.6 11.5l0.0 0.0M219.3 12.6l0.0 0.0M271.7 13.7l0.0 0.0M289.8 12.7l0.0 0.0M302.9 13.8l0.0 0.0M308.8 13.0l0.0 0.0M368.0 13.1l0.0 0.0M264.8 15.5l0.0 0.0M258.5 20.6l0.0 0.0M357.3 20.3l0.0 0.0M391.8 20.2l0.0 0.0M274.8 22.8l0.0 0.0M280.3 23.2l0.0 0.0M294.0 25.5l0.0 0.0M323.3 29.3l0.0 0.0M390.4 28.3l0.0 0.0M241.4 30.9l0.0 0.0M333.5 30.6l0.0 0.0M383.8 30.1l0.0 0.0M224.6 36.8l0.0 0.0M247.8 35.7l0.0 0.0M291.0 35.9l0.0 0.0M305.2 35.7l0.0 0.0M334.6 36.3l0.0 0.0M263.0 38.9l0.0 0.0M291.1 37.7l0.0 0.0M356.5 37.8l0.0 0.0M313.1 41.7l0.0 0.0M375.2 41.1l0.0 0.0M324.6 44.0l0.0 0.0M372.7 43.3l0.0 0.0M262.1 45.6l0.0 0.0M282.6 46.9l0.0 0.0M293.8 45.7l0.0 0.0M223.7 51.9l0.0 0.0M325.5 50.9l0.0 0.0M375.4 51.2l0.0 0.0M291.5 53.3l0.0 0.0M315.3 53.6l0.0 0.0M363.6 54.1l0.0 0.0M319.2 56.9l0.0 0.0M330.4 56.3l0.0 0.0M333.7 55.5l0.0 0.0M334.7 59.6l0.0 0.0M307.7 61.7l0.0 0.0M268.2 64.5l0.0 0.0M392.9 63.1l0.0 0.0M380.6 65.7l0.0 0.0M216.3 68.7l0.0 0.0M242.7 69.1l0.0 0.0M301.3 68.6l0.0 0.0M315.4 68.7l0.0 0.0M335.0 68.5l0.0 0.0M352.7 68.0l0.0 0.0M368.3 72.2l0.0 0.0M385.6 71.4l0.0 0.0M266.5 74.6l0.0 0.0M274.2 73.8l0.0 0.0M347.6 74.1l0.0 0.0M243.6 76.8l0.0 0.0M382.8 76.1l0.0 0.0M222.2 79.5l0.0 0.0M224.9 78.8l0.0 0.0M325.1 81.1l0.0 0.0M225.4 84.3l0.0 0.0M324.9 86.6l0.0 0.0M388.6 86.3l0.0 0.0M250.5 89.3l0.0 0.0M317.5 89.9l0.0 0.0M323.6 89.7l0.0 0.0M384.8 89.0l0.0 0.0M217.6 91.1l0.0 0.0M281.6 91.7l0.0 0.0M290.0 91.5l0.0 0.0M298.8 91.5l0.0 0.0M342.4 90.9l0.0 0.0M301.1 95.0l0.0 0.0M394.2 94.5l0.0 0.0M257.4 98.6l0.0 0.0M327.1 98.7l0.0 0.0M388.4 99.4l0.0 0.0M396.4 99.6l0.0 0.0M280.0 104.7l0.0 0.0M320.1 103.5l0.0 0.0M378.3 104.5l0.0 0.0M331.1 106.7l0.0 0.0M354.7 106.2l0.0 0.0M313.0 108.8l0.0 0.0M378.8 109.3l0.0 0.0M394.5 111.8l0.0 0.0M317.2 113.5l0.0 0.0M297.8 119.6l0.0 0.0M339.9 122.2l0.0 0.0M382.4 122.2l0.0 0.0M268.9 124.9l0.0 0.0M361.7 124.2l0.0 0.0M302.3 126.9l0.0 0.0M377.0 127.1l0.0 0.0M277.9 128.6l0.0 0.0M223.7 131.3l0.0 0.0M241.9 131.0l0.0 0.0M270.0 132.3l0.0 0.0M351.4 132.8l0.0 0.0M210.0 133.5l0.0 0.0M231.1 134.5l0.0 0.0M289.0 133.8l0.0 0.0M255.0 137.0l0.0 0.0M257.7 136.2l0.0 0.0M359.8 136.1l0.0 0.0M309.1 138.8l0.0 0.0M343.6 138.9l0.0 0.0" stroke="#5298a0" stroke-width="2.6" stroke-linecap="round" fill="none"/>
<path d="M252.2 10.2l0.0 0.0M298.8 10.3l0.0 0.0M356.6 10.0l0.0 0.0M250.6 12.7l0.0 0.0M254.9 13.1l0.0 0.0M397.0 12.8l0.0 0.0M223.7 15.4l0.0 0.0M249.6 16.5l0.0 0.0M287.7 16.6l0.0 0.0M304.5 15.0l0.0 0.0M325.6 16.4l0.0 0.0M377.2 15.4l0.0 0.0M285.6 19.1l0.0 0.0M307.2 17.8l0.0 0.0M315.4 18.3l0.0 0.0M349.2 18.1l0.0 0.0M393.7 18.7l0.0 0.0M282.0 20.1l0.0 0.0M242.1 29.1l0.0 0.0M295.0 29.1l0.0 0.0M332.2 28.5l0.0 0.0M243.2 32.8l0.0 0.0M323.4 34.1l0.0 0.0M361.7 33.0l0.0 0.0M375.6 33.5l0.0 0.0M379.4 33.9l0.0 0.0M387.7 33.7l0.0 0.0M214.9 35.7l0.0 0.0M232.6 35.7l0.0 0.0M273.7 36.0l0.0 0.0M250.9 38.3l0.0 0.0M323.2 37.7l0.0 0.0M217.8 41.8l0.0 0.0M226.1 40.6l0.0 0.0M238.0 41.8l0.0 0.0M244.1 41.6l0.0 0.0M333.6 40.9l0.0 0.0M365.0 41.3l0.0 0.0M377.3 41.8l0.0 0.0M222.9 43.0l0.0 0.0M231.0 44.5l0.0 0.0M241.7 45.5l0.0 0.0M255.1 46.1l0.0 0.0M318.6 46.5l0.0 0.0M327.5 45.4l0.0 0.0M363.8 47.0l0.0 0.0M366.5 45.3l0.0 0.0M301.3 49.2l0.0 0.0M212.2 50.4l0.0 0.0M330.6 51.1l0.0 0.0M334.0 51.2l0.0 0.0M340.1 51.8l0.0 0.0M391.6 50.3l0.0 0.0M355.8 54.5l0.0 0.0M368.7 56.2l0.0 0.0M237.1 58.4l0.0 0.0M277.5 59.2l0.0 0.0M285.6 59.3l0.0 0.0M258.5 62.0l0.0 0.0M273.6 61.0l0.0 0.0M287.5 61.4l0.0 0.0M295.8 60.5l0.0 0.0M380.2 60.4l0.0 0.0M385.9 60.8l0.0 0.0M275.0 63.1l0.0 0.0M322.9 66.5l0.0 0.0M362.5 65.9l0.0 0.0M389.5 66.9l0.0 0.0M253.8 69.4l0.0 0.0M236.2 71.9l0.0 0.0M281.4 71.3l0.0 0.0M351.5 71.3l0.0 0.0M357.4 71.2l0.0 0.0M339.0 74.7l0.0 0.0M296.1 76.1l0.0 0.0M310.9 76.3l0.0 0.0M395.4 76.9l0.0 0.0M211.4 78.1l0.0 0.0M227.8 79.2l0.0 0.0M243.0 78.7l0.0 0.0M329.4 79.7l0.0 0.0M376.5 79.0l0.0 0.0M227.2 82.0l0.0 0.0M235.1 82.0l0.0 0.0M337.5 80.9l0.0 0.0M318.0 84.6l0.0 0.0M221.9 89.4l0.0 0.0M256.4 88.8l0.0 0.0M291.1 88.3l0.0 0.0M223.6 92.3l0.0 0.0M211.3 94.3l0.0 0.0M255.0 95.0l0.0 0.0M372.4 93.3l0.0 0.0M353.9 96.1l0.0 0.0M386.4 96.7l0.0 0.0M263.2 98.9l0.0 0.0M224.6 103.7l0.0 0.0M332.5 104.1l0.0 0.0M347.7 104.5l0.0 0.0M356.4 104.5l0.0 0.0M376.9 107.5l0.0 0.0M327.6 110.0l0.0 0.0M344.0 110.0l0.0 0.0M305.7 114.7l0.0 0.0M230.4 116.5l0.0 0.0M317.1 117.2l0.0 0.0M366.0 116.2l0.0 0.0M228.4 119.4l0.0 0.0M312.6 118.6l0.0 0.0M393.6 119.9l0.0 0.0M240.5 125.0l0.0 0.0M344.6 124.2l0.0 0.0M215.1 126.3l0.0 0.0M250.2 127.7l0.0 0.0M348.4 126.6l0.0 0.0M215.7 128.9l0.0 0.0M221.4 131.7l0.0 0.0M392.7 132.2l0.0 0.0M267.9 133.8l0.0 0.0M337.9 134.7l0.0 0.0M396.8 134.0l0.0 0.0M371.4 137.3l0.0 0.0M225.1 140.3l0.0 0.0M318.5 139.2l0.0 0.0M381.2 139.9l0.0 0.0M395.5 138.9l0.0 0.0" stroke="#66a8b0" stroke-width="2.3" stroke-linecap="round" fill="none"/>
<path d="M259.4 10.2l0.0 0.0M294.2 11.4l0.0 0.0M319.9 10.3l0.0 0.0M216.8 14.1l0.0 0.0M225.7 12.9l0.0 0.0M335.3 13.9l0.0 0.0M361.8 13.0l0.0 0.0M393.5 13.3l0.0 0.0M342.9 16.0l0.0 0.0M271.9 17.6l0.0 0.0M282.8 17.7l0.0 0.0M388.5 18.5l0.0 0.0M252.1 21.2l0.0 0.0M259.2 22.9l0.0 0.0M317.2 23.8l0.0 0.0M347.2 23.1l0.0 0.0M389.0 25.7l0.0 0.0M240.4 28.9l0.0 0.0M268.9 28.5l0.0 0.0M341.0 29.3l0.0 0.0M350.1 28.3l0.0 0.0M221.4 31.0l0.0 0.0M388.9 31.6l0.0 0.0M219.0 33.7l0.0 0.0M340.9 33.7l0.0 0.0M252.3 36.2l0.0 0.0M269.7 36.0l0.0 0.0M282.6 36.8l0.0 0.0M319.0 35.5l0.0 0.0M344.8 35.6l0.0 0.0M288.9 37.7l0.0 0.0M382.1 39.3l0.0 0.0M287.8 41.8l0.0 0.0M300.0 40.8l0.0 0.0M310.2 41.2l0.0 0.0M359.3 40.4l0.0 0.0M371.8 41.2l0.0 0.0M218.6 42.9l0.0 0.0M309.2 44.0l0.0 0.0M357.9 44.3l0.0 0.0M370.0 49.5l0.0 0.0M373.3 49.2l0.0 0.0M348.3 50.3l0.0 0.0M221.7 54.0l0.0 0.0M228.9 53.2l0.0 0.0M323.1 52.9l0.0 0.0M341.0 53.5l0.0 0.0M347.4 54.0l0.0 0.0M214.4 56.5l0.0 0.0M226.0 55.7l0.0 0.0M252.9 56.3l0.0 0.0M265.3 56.0l0.0 0.0M279.3 55.5l0.0 0.0M383.1 57.0l0.0 0.0M231.5 63.5l0.0 0.0M216.0 66.5l0.0 0.0M211.0 69.1l0.0 0.0M248.3 68.6l0.0 0.0M338.5 69.7l0.0 0.0M367.3 69.1l0.0 0.0M373.7 69.2l0.0 0.0M311.1 70.6l0.0 0.0M260.7 78.4l0.0 0.0M273.9 79.5l0.0 0.0M321.2 79.8l0.0 0.0M317.1 82.1l0.0 0.0M377.9 81.0l0.0 0.0M260.1 83.6l0.0 0.0M277.1 83.4l0.0 0.0M225.9 86.1l0.0 0.0M320.3 86.4l0.0 0.0M216.0 88.2l0.0 0.0M245.1 88.6l0.0 0.0M300.7 88.4l0.0 0.0M210.0 90.7l0.0 0.0M221.6 91.2l0.0 0.0M308.8 92.3l0.0 0.0M380.6 91.0l0.0 0.0M383.2 91.5l0.0 0.0M289.9 96.2l0.0 0.0M274.3 99.3l0.0 0.0M379.9 101.1l0.0 0.0M343.9 104.3l0.0 0.0M373.5 104.5l0.0 0.0M270.8 106.8l0.0 0.0M294.0 105.8l0.0 0.0M320.3 106.1l0.0 0.0M248.3 108.4l0.0 0.0M299.8 109.2l0.0 0.0M384.6 110.0l0.0 0.0M276.8 111.0l0.0 0.0M320.1 110.9l0.0 0.0M325.3 111.8l0.0 0.0M369.6 113.9l0.0 0.0M342.0 117.6l0.0 0.0M363.1 116.3l0.0 0.0M384.2 118.7l0.0 0.0M239.2 121.8l0.0 0.0M254.0 123.7l0.0 0.0M316.6 126.3l0.0 0.0M384.0 126.7l0.0 0.0M389.5 126.4l0.0 0.0M252.0 129.5l0.0 0.0M280.9 131.9l0.0 0.0M306.2 133.9l0.0 0.0M363.6 137.7l0.0 0.0M326.9 139.7l0.0 0.0M355.5 140.2l0.0 0.0" stroke="#70b0b6" stroke-width="2.0" stroke-linecap="round" fill="none"/>
<path d="M264.6 11.6l0.0 0.0M272.9 10.9l0.0 0.0M287.0 10.6l0.0 0.0M297.0 10.0l0.0 0.0M240.0 13.1l0.0 0.0M243.4 13.2l0.0 0.0M274.9 13.4l0.0 0.0M323.7 13.5l0.0 0.0M355.0 13.5l0.0 0.0M350.6 15.6l0.0 0.0M245.2 17.8l0.0 0.0M280.2 17.5l0.0 0.0M231.7 20.3l0.0 0.0M319.5 20.6l0.0 0.0M340.0 21.4l0.0 0.0M377.6 21.8l0.0 0.0M379.5 22.7l0.0 0.0M291.3 26.6l0.0 0.0M329.1 25.5l0.0 0.0M383.9 25.8l0.0 0.0M246.3 28.5l0.0 0.0M285.3 28.9l0.0 0.0M282.9 34.1l0.0 0.0M296.9 33.6l0.0 0.0M299.9 33.9l0.0 0.0M335.1 32.8l0.0 0.0M352.3 32.9l0.0 0.0M355.0 33.8l0.0 0.0M343.5 36.7l0.0 0.0M213.7 39.1l0.0 0.0M254.7 38.5l0.0 0.0M303.6 39.1l0.0 0.0M352.4 37.9l0.0 0.0M212.4 41.2l0.0 0.0M264.7 40.7l0.0 0.0M315.7 44.2l0.0 0.0M252.9 46.3l0.0 0.0M267.1 45.8l0.0 0.0M375.5 46.1l0.0 0.0M380.7 45.3l0.0 0.0M260.7 49.4l0.0 0.0M329.4 49.1l0.0 0.0M358.9 49.1l0.0 0.0M360.8 49.3l0.0 0.0M299.4 51.8l0.0 0.0M336.4 50.7l0.0 0.0M378.1 50.4l0.0 0.0M256.4 53.3l0.0 0.0M318.3 53.6l0.0 0.0M220.7 57.0l0.0 0.0M259.2 56.9l0.0 0.0M353.5 57.1l0.0 0.0M234.5 58.5l0.0 0.0M330.3 59.4l0.0 0.0M346.3 59.1l0.0 0.0M388.2 60.9l0.0 0.0M353.1 63.0l0.0 0.0M320.4 65.7l0.0 0.0M337.7 66.0l0.0 0.0M340.4 66.1l0.0 0.0M382.3 69.0l0.0 0.0M380.9 71.7l0.0 0.0M269.3 73.7l0.0 0.0M270.4 76.3l0.0 0.0M270.2 81.1l0.0 0.0M278.4 80.8l0.0 0.0M296.5 80.6l0.0 0.0M339.7 81.1l0.0 0.0M342.1 84.8l0.0 0.0M241.3 87.2l0.0 0.0M377.2 85.9l0.0 0.0M317.1 92.1l0.0 0.0M333.9 97.1l0.0 0.0M220.3 99.0l0.0 0.0M299.5 102.3l0.0 0.0M354.8 101.8l0.0 0.0M286.5 104.7l0.0 0.0M298.3 104.1l0.0 0.0M349.9 103.6l0.0 0.0M220.2 105.9l0.0 0.0M285.2 107.0l0.0 0.0M270.2 112.2l0.0 0.0M375.4 111.5l0.0 0.0M294.2 114.8l0.0 0.0M314.7 114.5l0.0 0.0M220.1 117.3l0.0 0.0M391.3 117.4l0.0 0.0M233.7 119.6l0.0 0.0M239.7 119.2l0.0 0.0M372.8 119.9l0.0 0.0M333.5 127.5l0.0 0.0M387.8 129.8l0.0 0.0M236.3 132.4l0.0 0.0M287.7 132.7l0.0 0.0M317.2 131.5l0.0 0.0M244.9 135.2l0.0 0.0M248.6 133.6l0.0 0.0M340.5 134.6l0.0 0.0M379.1 134.1l0.0 0.0M224.2 137.6l0.0 0.0M244.6 137.1l0.0 0.0M392.5 136.1l0.0 0.0M254.4 140.0l0.0 0.0" stroke="#5aa0a8" stroke-width="2.0" stroke-linecap="round" fill="none"/>
<path d="M276.6 11.6l0.0 0.0M317.2 10.9l0.0 0.0M329.2 12.9l0.0 0.0M218.2 16.0l0.0 0.0M379.6 16.2l0.0 0.0M355.5 17.8l0.0 0.0M385.3 17.6l0.0 0.0M230.0 20.5l0.0 0.0M276.8 20.1l0.0 0.0M308.5 21.7l0.0 0.0M331.7 20.0l0.0 0.0M270.8 22.7l0.0 0.0M323.0 22.5l0.0 0.0M388.0 23.6l0.0 0.0M335.8 28.3l0.0 0.0M319.3 31.4l0.0 0.0M322.7 30.5l0.0 0.0M349.6 32.7l0.0 0.0M390.3 34.1l0.0 0.0M316.5 36.3l0.0 0.0M364.6 39.1l0.0 0.0M285.5 40.5l0.0 0.0M380.6 40.5l0.0 0.0M217.2 43.3l0.0 0.0M344.3 43.2l0.0 0.0M227.1 46.8l0.0 0.0M231.7 45.8l0.0 0.0M276.3 46.6l0.0 0.0M324.8 46.0l0.0 0.0M340.2 45.4l0.0 0.0M349.1 46.9l0.0 0.0M369.4 46.0l0.0 0.0M371.4 46.2l0.0 0.0M237.3 48.9l0.0 0.0M281.9 50.9l0.0 0.0M382.5 51.5l0.0 0.0M280.7 53.3l0.0 0.0M297.2 54.2l0.0 0.0M276.3 56.9l0.0 0.0M281.0 57.1l0.0 0.0M315.9 56.8l0.0 0.0M240.2 58.9l0.0 0.0M254.7 58.9l0.0 0.0M257.7 58.4l0.0 0.0M280.0 59.1l0.0 0.0M349.7 59.0l0.0 0.0M366.2 60.4l0.0 0.0M395.6 60.8l0.0 0.0M329.0 63.8l0.0 0.0M338.5 63.6l0.0 0.0M344.5 64.2l0.0 0.0M293.6 66.1l0.0 0.0M299.2 65.7l0.0 0.0M343.2 66.0l0.0 0.0M386.7 66.5l0.0 0.0M355.9 68.8l0.0 0.0M388.5 68.3l0.0 0.0M284.1 72.2l0.0 0.0M348.6 70.6l0.0 0.0M353.6 71.0l0.0 0.0M365.7 70.9l0.0 0.0M377.5 71.1l0.0 0.0M329.1 73.3l0.0 0.0M278.1 75.7l0.0 0.0M299.7 76.7l0.0 0.0M313.5 76.1l0.0 0.0M356.5 77.1l0.0 0.0M380.6 76.4l0.0 0.0M386.1 76.0l0.0 0.0M272.6 82.0l0.0 0.0M308.0 80.6l0.0 0.0M333.2 83.7l0.0 0.0M223.9 86.3l0.0 0.0M229.9 87.3l0.0 0.0M235.2 86.2l0.0 0.0M256.0 86.4l0.0 0.0M263.9 86.6l0.0 0.0M267.6 87.3l0.0 0.0M337.5 86.2l0.0 0.0M383.2 87.1l0.0 0.0M226.5 92.0l0.0 0.0M357.0 90.7l0.0 0.0M366.6 91.6l0.0 0.0M329.4 94.0l0.0 0.0M346.8 93.7l0.0 0.0M370.6 94.5l0.0 0.0M311.6 96.1l0.0 0.0M360.8 95.8l0.0 0.0M315.0 99.5l0.0 0.0M244.7 102.4l0.0 0.0M252.8 102.4l0.0 0.0M302.4 101.1l0.0 0.0M339.2 100.9l0.0 0.0M222.4 104.1l0.0 0.0M304.0 104.7l0.0 0.0M390.9 104.8l0.0 0.0M393.1 103.9l0.0 0.0M339.0 106.6l0.0 0.0M383.3 106.1l0.0 0.0M388.2 107.0l0.0 0.0M332.0 109.6l0.0 0.0M308.3 111.9l0.0 0.0M349.2 112.0l0.0 0.0M327.5 114.2l0.0 0.0M335.9 113.5l0.0 0.0M367.9 113.6l0.0 0.0M301.9 117.2l0.0 0.0M348.5 117.1l0.0 0.0M350.6 119.0l0.0 0.0M302.3 121.6l0.0 0.0M357.2 122.5l0.0 0.0M211.5 124.1l0.0 0.0M355.3 123.5l0.0 0.0M367.2 125.0l0.0 0.0M372.8 125.1l0.0 0.0M321.7 126.0l0.0 0.0M233.5 130.2l0.0 0.0M243.0 130.1l0.0 0.0M268.2 129.8l0.0 0.0M295.5 129.1l0.0 0.0M293.4 132.1l0.0 0.0M320.2 132.5l0.0 0.0M270.2 137.7l0.0 0.0" stroke="#66a8b0" stroke-width="2.6" stroke-linecap="round" fill="none"/>
<path d="M308.4 10.7l0.0 0.0M321.8 11.5l0.0 0.0M350.5 10.0l0.0 0.0M346.2 12.8l0.0 0.0M282.3 15.6l0.0 0.0M344.8 16.1l0.0 0.0M253.4 18.6l0.0 0.0M211.7 20.1l0.0 0.0M235.5 20.9l0.0 0.0M381.3 21.3l0.0 0.0M263.5 23.2l0.0 0.0M300.3 23.0l0.0 0.0M340.9 22.6l0.0 0.0M276.5 25.3l0.0 0.0M253.9 27.7l0.0 0.0M356.0 27.8l0.0 0.0M382.3 28.4l0.0 0.0M259.3 30.3l0.0 0.0M346.2 31.4l0.0 0.0M359.3 31.3l0.0 0.0M289.2 33.2l0.0 0.0M306.0 33.5l0.0 0.0M264.2 35.8l0.0 0.0M360.7 36.8l0.0 0.0M219.1 37.9l0.0 0.0M314.3 38.4l0.0 0.0M375.2 39.4l0.0 0.0M213.1 43.9l0.0 0.0M356.5 44.4l0.0 0.0M368.2 44.0l0.0 0.0M375.3 43.1l0.0 0.0M381.6 42.8l0.0 0.0M273.8 46.9l0.0 0.0M287.9 46.9l0.0 0.0M221.9 48.7l0.0 0.0M271.7 49.5l0.0 0.0M344.7 48.7l0.0 0.0M258.3 51.7l0.0 0.0M311.5 51.7l0.0 0.0M216.8 53.8l0.0 0.0M271.5 54.2l0.0 0.0M332.6 52.9l0.0 0.0M344.0 52.9l0.0 0.0M376.6 54.0l0.0 0.0M250.4 57.1l0.0 0.0M385.9 56.9l0.0 0.0M211.1 58.4l0.0 0.0M324.1 58.3l0.0 0.0M211.7 61.3l0.0 0.0M244.5 61.7l0.0 0.0M320.3 61.1l0.0 0.0M323.1 60.4l0.0 0.0M354.9 61.3l0.0 0.0M288.2 63.7l0.0 0.0M304.1 64.2l0.0 0.0M318.5 64.7l0.0 0.0M244.9 66.4l0.0 0.0M354.5 66.8l0.0 0.0M283.7 69.0l0.0 0.0M312.4 69.4l0.0 0.0M328.4 71.3l0.0 0.0M283.4 73.5l0.0 0.0M323.2 74.0l0.0 0.0M392.8 74.6l0.0 0.0M235.2 77.1l0.0 0.0M266.9 76.7l0.0 0.0M344.8 76.9l0.0 0.0M218.8 79.0l0.0 0.0M251.7 78.6l0.0 0.0M390.2 78.9l0.0 0.0M384.2 84.8l0.0 0.0M388.2 84.5l0.0 0.0M305.6 86.2l0.0 0.0M394.0 86.2l0.0 0.0M229.2 91.4l0.0 0.0M336.5 91.6l0.0 0.0M374.5 92.3l0.0 0.0M312.4 94.1l0.0 0.0M253.2 96.0l0.0 0.0M368.1 96.8l0.0 0.0M296.9 101.0l0.0 0.0M389.4 101.2l0.0 0.0M210.5 105.0l0.0 0.0M259.3 104.2l0.0 0.0M277.2 109.0l0.0 0.0M371.9 111.8l0.0 0.0M215.5 116.6l0.0 0.0M381.3 116.0l0.0 0.0M326.3 119.8l0.0 0.0M375.5 119.3l0.0 0.0M295.6 121.6l0.0 0.0M251.8 124.2l0.0 0.0M347.5 124.4l0.0 0.0M383.9 123.7l0.0 0.0M266.6 127.7l0.0 0.0M305.1 127.3l0.0 0.0M360.9 126.9l0.0 0.0M254.0 129.3l0.0 0.0M227.2 132.7l0.0 0.0M295.6 132.7l0.0 0.0M311.6 131.4l0.0 0.0M368.3 131.4l0.0 0.0M384.6 134.7l0.0 0.0M334.6 136.5l0.0 0.0M340.3 137.4l0.0 0.0M353.1 140.1l0.0 0.0M391.2 139.7l0.0 0.0" stroke="#5aa0a8" stroke-width="2.6" stroke-linecap="round" fill="none"/>
<path d="M310.9 11.6l0.0 0.0M373.9 11.5l0.0 0.0M230.9 12.6l0.0 0.0M366.7 15.8l0.0 0.0M260.2 18.2l0.0 0.0M329.3 17.5l0.0 0.0M365.2 20.1l0.0 0.0M220.2 23.7l0.0 0.0M291.7 24.0l0.0 0.0M349.3 26.3l0.0 0.0M369.2 25.5l0.0 0.0M263.7 29.1l0.0 0.0M305.8 28.1l0.0 0.0M384.4 28.6l0.0 0.0M267.5 31.7l0.0 0.0M269.3 34.0l0.0 0.0M277.0 33.0l0.0 0.0M329.1 32.9l0.0 0.0M366.9 33.7l0.0 0.0M369.9 33.0l0.0 0.0M344.3 39.3l0.0 0.0M214.9 40.9l0.0 0.0M276.2 40.3l0.0 0.0M336.8 41.6l0.0 0.0M340.5 43.1l0.0 0.0M378.5 43.9l0.0 0.0M332.0 46.5l0.0 0.0M342.6 45.3l0.0 0.0M385.9 46.3l0.0 0.0M309.7 48.6l0.0 0.0M321.5 48.8l0.0 0.0M341.4 49.5l0.0 0.0M350.4 47.8l0.0 0.0M364.7 48.4l0.0 0.0M236.0 51.8l0.0 0.0M305.9 50.6l0.0 0.0M379.8 51.4l0.0 0.0M335.7 54.2l0.0 0.0M382.7 54.1l0.0 0.0M313.2 56.5l0.0 0.0M268.9 59.6l0.0 0.0M305.1 60.9l0.0 0.0M249.1 64.6l0.0 0.0M280.8 63.0l0.0 0.0M285.8 63.0l0.0 0.0M294.7 64.0l0.0 0.0M379.5 63.4l0.0 0.0M391.4 63.9l0.0 0.0M384.9 69.6l0.0 0.0M325.1 71.0l0.0 0.0M216.9 73.0l0.0 0.0M259.3 73.6l0.0 0.0M344.4 73.3l0.0 0.0M349.5 74.3l0.0 0.0M225.8 76.8l0.0 0.0M325.2 76.9l0.0 0.0M336.7 76.4l0.0 0.0M262.6 79.5l0.0 0.0M209.5 81.6l0.0 0.0M220.6 81.4l0.0 0.0M255.4 80.6l0.0 0.0M293.9 80.8l0.0 0.0M289.8 83.5l0.0 0.0M364.8 83.9l0.0 0.0M225.9 89.3l0.0 0.0M271.1 88.7l0.0 0.0M338.3 89.9l0.0 0.0M310.1 91.1l0.0 0.0M333.5 91.9l0.0 0.0M236.7 94.2l0.0 0.0M224.0 96.7l0.0 0.0M261.5 97.4l0.0 0.0M307.5 96.3l0.0 0.0M380.1 96.4l0.0 0.0M285.3 99.5l0.0 0.0M370.4 99.8l0.0 0.0M382.1 99.0l0.0 0.0M395.5 101.0l0.0 0.0M236.2 104.0l0.0 0.0M314.8 109.6l0.0 0.0M360.7 108.7l0.0 0.0M367.1 110.0l0.0 0.0M228.8 111.8l0.0 0.0M235.9 111.2l0.0 0.0M281.9 111.9l0.0 0.0M359.3 112.2l0.0 0.0M346.8 114.9l0.0 0.0M222.9 116.6l0.0 0.0M319.7 116.2l0.0 0.0M330.8 116.3l0.0 0.0M339.1 116.8l0.0 0.0M376.7 117.4l0.0 0.0M295.3 119.0l0.0 0.0M261.8 122.2l0.0 0.0M279.3 121.8l0.0 0.0M337.0 122.6l0.0 0.0M217.0 123.7l0.0 0.0M231.3 123.5l0.0 0.0M266.1 123.5l0.0 0.0M315.4 123.5l0.0 0.0M352.7 124.3l0.0 0.0M241.2 127.0l0.0 0.0M255.3 126.7l0.0 0.0M392.3 126.7l0.0 0.0M391.2 129.6l0.0 0.0M222.9 135.0l0.0 0.0M372.4 134.9l0.0 0.0M391.4 135.0l0.0 0.0M241.0 137.8l0.0 0.0M324.5 137.0l0.0 0.0M277.1 138.8l0.0 0.0M286.1 138.6l0.0 0.0M330.2 138.7l0.0 0.0M369.8 140.0l0.0 0.0" stroke="#5298a0" stroke-width="2.3" stroke-linecap="round" fill="none"/>
<path d="M313.3 10.2l0.0 0.0M339.5 10.3l0.0 0.0M379.9 10.6l0.0 0.0M237.5 12.9l0.0 0.0M252.1 16.3l0.0 0.0M357.5 16.5l0.0 0.0M389.3 15.0l0.0 0.0M213.7 19.2l0.0 0.0M222.7 18.9l0.0 0.0M230.6 17.9l0.0 0.0M266.1 17.5l0.0 0.0M352.2 17.6l0.0 0.0M368.2 18.7l0.0 0.0M279.7 20.3l0.0 0.0M304.2 20.8l0.0 0.0M322.1 21.5l0.0 0.0M285.6 23.2l0.0 0.0M298.6 22.6l0.0 0.0M357.9 23.7l0.0 0.0M241.9 25.8l0.0 0.0M308.3 26.1l0.0 0.0M249.0 28.2l0.0 0.0M289.6 29.3l0.0 0.0M359.5 29.2l0.0 0.0M365.3 28.1l0.0 0.0M209.5 31.3l0.0 0.0M215.2 31.5l0.0 0.0M387.0 31.4l0.0 0.0M272.3 33.3l0.0 0.0M385.0 34.2l0.0 0.0M230.0 36.4l0.0 0.0M244.5 35.9l0.0 0.0M301.5 35.3l0.0 0.0M337.0 35.3l0.0 0.0M307.3 39.4l0.0 0.0M367.4 38.0l0.0 0.0M220.8 40.3l0.0 0.0M391.5 40.6l0.0 0.0M335.2 44.4l0.0 0.0M396.6 43.4l0.0 0.0M218.7 47.8l0.0 0.0M336.2 49.2l0.0 0.0M366.8 49.1l0.0 0.0M396.9 49.1l0.0 0.0M241.2 51.2l0.0 0.0M353.8 51.7l0.0 0.0M245.5 54.2l0.0 0.0M294.2 52.8l0.0 0.0M306.3 53.5l0.0 0.0M272.4 56.8l0.0 0.0M348.4 56.5l0.0 0.0M363.6 58.4l0.0 0.0M237.8 60.9l0.0 0.0M255.0 63.1l0.0 0.0M330.8 65.6l0.0 0.0M224.4 68.8l0.0 0.0M307.3 68.6l0.0 0.0M230.2 73.5l0.0 0.0M208.7 77.0l0.0 0.0M238.8 76.1l0.0 0.0M287.0 78.7l0.0 0.0M364.5 78.8l0.0 0.0M382.2 78.3l0.0 0.0M396.5 79.7l0.0 0.0M313.4 81.3l0.0 0.0M319.5 81.1l0.0 0.0M360.5 82.1l0.0 0.0M362.4 81.1l0.0 0.0M355.5 83.7l0.0 0.0M276.2 86.4l0.0 0.0M298.7 86.4l0.0 0.0M363.1 85.9l0.0 0.0M218.8 88.5l0.0 0.0M273.9 88.6l0.0 0.0M305.6 89.7l0.0 0.0M326.9 88.9l0.0 0.0M388.3 88.4l0.0 0.0M345.5 91.5l0.0 0.0M221.8 94.6l0.0 0.0M230.4 93.9l0.0 0.0M305.7 93.9l0.0 0.0M326.4 93.7l0.0 0.0M353.1 94.8l0.0 0.0M388.2 94.6l0.0 0.0M376.7 96.9l0.0 0.0M336.0 104.9l0.0 0.0M267.0 105.9l0.0 0.0M295.0 109.3l0.0 0.0M353.8 110.9l0.0 0.0M311.8 115.0l0.0 0.0M361.4 114.7l0.0 0.0M247.5 116.4l0.0 0.0M213.9 119.8l0.0 0.0M231.1 120.0l0.0 0.0M365.3 120.0l0.0 0.0M223.1 121.8l0.0 0.0M320.3 121.0l0.0 0.0M378.1 121.5l0.0 0.0M336.2 125.2l0.0 0.0M258.0 126.1l0.0 0.0M326.0 127.7l0.0 0.0M327.1 129.4l0.0 0.0M356.6 129.1l0.0 0.0M378.9 129.6l0.0 0.0M384.4 129.4l0.0 0.0M228.9 132.0l0.0 0.0M228.2 134.1l0.0 0.0M243.4 134.1l0.0 0.0M298.4 134.2l0.0 0.0M356.0 134.4l0.0 0.0M215.8 137.5l0.0 0.0M217.3 137.0l0.0 0.0M266.7 137.4l0.0 0.0M338.1 139.5l0.0 0.0" stroke="#5ca2aa" stroke-width="2.6" stroke-linecap="round" fill="none"/>
<path d="M342.5 10.7l0.0 0.0M318.5 13.4l0.0 0.0M332.7 13.8l0.0 0.0M212.2 16.5l0.0 0.0M237.6 16.0l0.0 0.0M293.1 15.0l0.0 0.0M395.1 15.1l0.0 0.0M269.6 19.2l0.0 0.0M312.8 19.1l0.0 0.0M321.3 17.5l0.0 0.0M373.6 19.0l0.0 0.0M214.6 20.2l0.0 0.0M362.5 20.4l0.0 0.0M210.3 23.7l0.0 0.0M315.7 23.2l0.0 0.0M320.2 23.3l0.0 0.0M373.7 26.3l0.0 0.0M257.3 28.3l0.0 0.0M271.1 28.9l0.0 0.0M283.8 28.9l0.0 0.0M243.3 31.0l0.0 0.0M316.6 30.5l0.0 0.0M280.1 33.9l0.0 0.0M285.7 34.0l0.0 0.0M311.5 33.4l0.0 0.0M313.5 35.7l0.0 0.0M356.6 36.8l0.0 0.0M302.4 46.0l0.0 0.0M266.2 49.1l0.0 0.0M385.0 48.5l0.0 0.0M238.3 50.7l0.0 0.0M250.2 51.4l0.0 0.0M345.6 51.2l0.0 0.0M349.5 53.4l0.0 0.0M378.7 53.3l0.0 0.0M238.9 56.3l0.0 0.0M246.3 56.2l0.0 0.0M262.4 55.7l0.0 0.0M242.2 58.5l0.0 0.0M396.4 58.4l0.0 0.0M278.2 61.0l0.0 0.0M345.5 62.0l0.0 0.0M211.4 64.7l0.0 0.0M219.3 69.1l0.0 0.0M365.0 68.4l0.0 0.0M215.4 70.9l0.0 0.0M220.3 72.0l0.0 0.0M363.4 71.8l0.0 0.0M392.1 72.1l0.0 0.0M390.8 73.9l0.0 0.0M217.1 75.6l0.0 0.0M391.7 76.2l0.0 0.0M277.8 78.7l0.0 0.0M334.6 78.3l0.0 0.0M230.4 80.7l0.0 0.0M246.4 81.3l0.0 0.0M343.4 80.6l0.0 0.0M349.0 81.6l0.0 0.0M373.1 84.6l0.0 0.0M393.9 88.6l0.0 0.0M289.1 93.2l0.0 0.0M249.2 96.9l0.0 0.0M256.4 95.8l0.0 0.0M319.8 97.4l0.0 0.0M300.7 99.9l0.0 0.0M303.8 99.8l0.0 0.0M363.7 98.8l0.0 0.0M217.2 102.2l0.0 0.0M317.3 100.9l0.0 0.0M336.6 102.0l0.0 0.0M348.8 102.5l0.0 0.0M356.6 106.0l0.0 0.0M303.3 108.6l0.0 0.0M306.0 109.5l0.0 0.0M340.6 109.4l0.0 0.0M220.5 112.4l0.0 0.0M258.8 111.2l0.0 0.0M393.4 114.6l0.0 0.0M300.1 116.5l0.0 0.0M374.6 116.9l0.0 0.0M276.6 119.8l0.0 0.0M381.4 120.0l0.0 0.0M396.2 118.7l0.0 0.0M270.3 122.4l0.0 0.0M363.0 121.2l0.0 0.0M278.3 124.6l0.0 0.0M300.8 124.5l0.0 0.0M323.0 128.8l0.0 0.0M286.5 135.2l0.0 0.0M208.7 136.5l0.0 0.0M327.5 136.5l0.0 0.0M331.9 137.5l0.0 0.0M213.3 138.8l0.0 0.0M302.7 138.6l0.0 0.0M379.6 140.2l0.0 0.0" stroke="#70b0b6" stroke-width="2.6" stroke-linecap="round" fill="none"/>
<path d="M360.3 10.4l0.0 0.0M386.9 10.4l0.0 0.0M222.0 12.5l0.0 0.0M269.1 12.9l0.0 0.0M320.4 14.0l0.0 0.0M378.6 17.9l0.0 0.0M301.2 21.5l0.0 0.0M216.9 22.8l0.0 0.0M269.0 23.6l0.0 0.0M312.7 23.2l0.0 0.0M211.6 25.3l0.0 0.0M222.9 25.8l0.0 0.0M305.0 26.1l0.0 0.0M379.8 26.3l0.0 0.0M227.6 28.0l0.0 0.0M376.0 28.1l0.0 0.0M228.8 31.1l0.0 0.0M230.6 33.3l0.0 0.0M380.4 36.8l0.0 0.0M320.3 37.9l0.0 0.0M329.8 37.7l0.0 0.0M358.2 37.8l0.0 0.0M391.1 38.7l0.0 0.0M209.4 40.3l0.0 0.0M270.2 40.6l0.0 0.0M293.9 41.9l0.0 0.0M356.9 41.2l0.0 0.0M289.2 44.2l0.0 0.0M303.5 44.0l0.0 0.0M216.0 46.2l0.0 0.0M265.0 46.5l0.0 0.0M270.7 46.1l0.0 0.0M327.4 48.4l0.0 0.0M326.1 53.2l0.0 0.0M305.0 55.9l0.0 0.0M336.6 55.5l0.0 0.0M219.6 58.0l0.0 0.0M370.8 59.2l0.0 0.0M376.7 60.5l0.0 0.0M271.8 64.2l0.0 0.0M350.7 64.0l0.0 0.0M358.4 63.8l0.0 0.0M386.8 63.9l0.0 0.0M256.5 66.1l0.0 0.0M276.8 66.4l0.0 0.0M333.9 67.1l0.0 0.0M351.6 66.3l0.0 0.0M230.3 68.8l0.0 0.0M218.6 71.5l0.0 0.0M238.0 70.7l0.0 0.0M293.5 72.1l0.0 0.0M210.2 73.6l0.0 0.0M258.0 74.3l0.0 0.0M355.7 74.7l0.0 0.0M361.0 73.6l0.0 0.0M351.6 76.8l0.0 0.0M355.7 78.9l0.0 0.0M362.3 79.2l0.0 0.0M218.0 81.8l0.0 0.0M350.5 80.7l0.0 0.0M368.4 81.0l0.0 0.0M316.0 83.5l0.0 0.0M389.8 83.7l0.0 0.0M380.6 87.1l0.0 0.0M391.2 89.0l0.0 0.0M275.5 91.7l0.0 0.0M350.9 90.9l0.0 0.0M217.2 94.8l0.0 0.0M358.9 94.7l0.0 0.0M221.2 96.5l0.0 0.0M293.1 95.8l0.0 0.0M243.0 99.6l0.0 0.0M221.4 102.3l0.0 0.0M239.2 101.5l0.0 0.0M248.0 104.7l0.0 0.0M338.1 104.5l0.0 0.0M278.6 107.1l0.0 0.0M335.1 109.2l0.0 0.0M339.2 109.1l0.0 0.0M375.6 109.2l0.0 0.0M243.5 111.0l0.0 0.0M261.9 112.0l0.0 0.0M283.9 111.5l0.0 0.0M380.4 111.5l0.0 0.0M309.0 114.7l0.0 0.0M324.6 114.5l0.0 0.0M343.4 113.5l0.0 0.0M330.1 119.3l0.0 0.0M325.0 121.0l0.0 0.0M213.4 124.0l0.0 0.0M326.2 124.7l0.0 0.0M265.1 126.2l0.0 0.0M290.9 127.4l0.0 0.0M370.1 129.3l0.0 0.0M232.0 132.3l0.0 0.0M348.9 131.1l0.0 0.0M360.1 131.7l0.0 0.0M234.0 134.8l0.0 0.0M275.1 134.4l0.0 0.0M382.3 134.6l0.0 0.0M301.4 136.2l0.0 0.0M316.6 136.9l0.0 0.0M223.2 139.6l0.0 0.0M335.1 140.3l0.0 0.0" stroke="#5ca2aa" stroke-width="2.0" stroke-linecap="round" fill="none"/>
<path d="M277.1 13.4l0.0 0.0M300.7 14.2l0.0 0.0M358.5 12.5l0.0 0.0M391.3 12.8l0.0 0.0M230.1 15.8l0.0 0.0M273.7 16.5l0.0 0.0M278.1 18.2l0.0 0.0M308.5 18.5l0.0 0.0M262.1 20.0l0.0 0.0M343.2 20.0l0.0 0.0M365.1 23.2l0.0 0.0M382.0 22.8l0.0 0.0M322.6 26.5l0.0 0.0M350.8 26.6l0.0 0.0M371.6 26.8l0.0 0.0M236.7 28.5l0.0 0.0M266.7 28.6l0.0 0.0M373.3 28.8l0.0 0.0M284.2 31.0l0.0 0.0M341.8 30.9l0.0 0.0M365.2 31.5l0.0 0.0M391.8 30.9l0.0 0.0M394.7 31.8l0.0 0.0M225.2 33.7l0.0 0.0M236.1 33.2l0.0 0.0M291.6 33.7l0.0 0.0M315.4 33.2l0.0 0.0M238.3 36.2l0.0 0.0M330.6 35.6l0.0 0.0M225.2 38.6l0.0 0.0M362.0 37.8l0.0 0.0M371.0 38.1l0.0 0.0M232.8 41.7l0.0 0.0M327.7 41.5l0.0 0.0M245.2 43.4l0.0 0.0M306.8 43.2l0.0 0.0M212.1 45.4l0.0 0.0M310.7 46.6l0.0 0.0M238.9 48.2l0.0 0.0M217.5 50.9l0.0 0.0M385.5 50.7l0.0 0.0M367.7 54.5l0.0 0.0M372.3 54.5l0.0 0.0M223.9 55.6l0.0 0.0M341.2 58.4l0.0 0.0M233.0 60.4l0.0 0.0M247.3 60.6l0.0 0.0M342.3 61.1l0.0 0.0M227.4 66.4l0.0 0.0M287.3 66.4l0.0 0.0M376.7 67.0l0.0 0.0M304.9 72.2l0.0 0.0M307.3 71.5l0.0 0.0M224.8 74.3l0.0 0.0M307.1 74.6l0.0 0.0M313.0 73.7l0.0 0.0M395.9 73.3l0.0 0.0M231.8 77.1l0.0 0.0M353.5 76.8l0.0 0.0M374.4 77.1l0.0 0.0M314.8 78.9l0.0 0.0M387.6 79.2l0.0 0.0M214.7 81.4l0.0 0.0M241.7 80.6l0.0 0.0M284.8 81.7l0.0 0.0M298.5 82.2l0.0 0.0M230.2 83.8l0.0 0.0M350.2 83.9l0.0 0.0M358.9 84.7l0.0 0.0M334.8 87.0l0.0 0.0M341.9 86.5l0.0 0.0M344.7 86.9l0.0 0.0M357.9 89.8l0.0 0.0M247.5 92.4l0.0 0.0M263.5 94.4l0.0 0.0M286.4 94.9l0.0 0.0M374.6 97.0l0.0 0.0M320.6 99.3l0.0 0.0M270.5 101.5l0.0 0.0M304.3 102.5l0.0 0.0M230.9 104.9l0.0 0.0M253.5 104.2l0.0 0.0M215.4 105.9l0.0 0.0M273.1 107.5l0.0 0.0M282.1 106.4l0.0 0.0M322.9 107.0l0.0 0.0M345.9 107.4l0.0 0.0M375.5 106.0l0.0 0.0M330.0 110.0l0.0 0.0M347.9 109.6l0.0 0.0M356.0 109.4l0.0 0.0M381.2 110.0l0.0 0.0M248.2 113.4l0.0 0.0M280.2 114.5l0.0 0.0M286.5 113.4l0.0 0.0M371.1 116.6l0.0 0.0M388.5 117.0l0.0 0.0M210.4 119.7l0.0 0.0M355.7 119.4l0.0 0.0M358.6 119.6l0.0 0.0M219.1 124.8l0.0 0.0M378.5 124.9l0.0 0.0M233.0 126.5l0.0 0.0M366.7 126.1l0.0 0.0M284.1 129.1l0.0 0.0M344.9 129.0l0.0 0.0M364.2 128.6l0.0 0.0M247.6 132.2l0.0 0.0M251.4 135.1l0.0 0.0M361.7 135.0l0.0 0.0M221.2 137.1l0.0 0.0M288.5 140.1l0.0 0.0M366.8 139.8l0.0 0.0" stroke="#70b0b6" stroke-width="2.3" stroke-linecap="round" fill="none"/>
<path d="M235.3 135.3l-2.3 0.4M282.0 95.9l-0.2 0.6M377.6 97.5l-1.3 0.1M270.5 62.8l0.8 0.3M247.5 128.4l-0.8 2.2M363.6 130.8l-0.4 0.7M295.1 128.5l-0.4 1.0M237.5 42.9l-1.4 0.7M375.9 50.9l-1.0 0.6M297.1 73.6l-0.4 0.4M265.6 138.7l0.1 2.0M220.3 125.7l-0.1 0.7M324.1 80.3l-1.6 0.9M247.0 134.1l-1.5 0.3M268.5 11.2l-1.7 0.5M282.1 52.7l-2.3 0.7M343.8 119.3l0.5 0.6M258.8 90.3l1.3 1.0M361.7 136.8l-0.6 0.9M292.5 48.6l-1.1 0.1M285.5 41.7l0.6 0.7M241.3 112.6l0.5 0.2M298.1 101.3l-1.7 2.2M228.2 26.0l0.3 0.6M214.3 50.5l-1.6 0.5M332.9 120.8l2.4 1.0M341.2 119.5l0.4 1.5" stroke="#8a7094" stroke-width="2.2" stroke-linecap="round" fill="none"/>
<path d="M219.0 27.2l-1.9 1.2M257.7 131.9l-1.5 2.1M318.3 109.0l1.6 1.0M250.2 42.7l1.7 0.9M218.9 92.7l-1.4 0.5M237.6 49.8l0.6 1.8M238.1 129.5l1.1 1.0M250.0 49.1l-0.2 0.8M304.4 63.5l-1.5 1.4M293.4 19.2l-1.5 2.0M310.7 118.4l1.0 0.6M292.1 133.6l-2.1 1.2M351.0 114.7l1.1 1.8M339.0 128.4l-0.8 1.4M256.0 67.2l0.4 2.3M307.8 55.9l1.3 1.8M273.5 96.1l0.7 0.3M319.4 121.3l-1.4 2.4M379.0 103.4l-1.5 2.0M257.7 23.6l1.9 2.0M304.8 127.4l-0.1 1.7M325.8 25.6l0.1 0.9M257.8 52.2l-1.7 2.2M241.1 25.2l0.0 1.2M244.0 57.9l0.9 0.9M281.5 52.9l-0.1 0.6M340.0 121.6l-0.9 0.6M350.7 46.3l-0.7 1.0" stroke="#8a7094" stroke-width="2.6" stroke-linecap="round" fill="none"/>
<path d="M237.4 83.2l-0.6 0.9M249.1 75.3l0.5 1.0M278.2 101.6l-0.2 0.7M245.6 94.3l0.2 0.6M248.8 127.2l2.2 0.2M278.8 94.8l1.0 2.2M332.3 100.9l2.6 0.9M267.6 108.2l1.4 0.1M255.6 52.2l-0.1 0.5M242.2 108.9l0.4 0.3M284.5 134.4l1.1 0.9M313.5 71.5l-0.3 0.5M280.7 112.6l1.7 1.2M290.2 91.8l-0.4 2.6M345.2 106.4l1.3 0.6M216.2 25.7l1.7 1.3M382.5 114.3l-0.7 1.2M372.1 134.4l0.3 2.1M344.8 32.3l0.1 1.6M378.0 103.5l1.4 0.5M314.3 81.5l0.1 1.1M253.9 120.8l-0.6 1.2M302.4 71.1l-0.5 2.1M255.2 72.7l-0.7 0.3M361.6 35.1l2.6 1.0M293.5 59.3l-1.4 1.0M352.0 136.5l-0.7 0.7M306.0 10.5l1.2 0.1M287.0 43.4l-1.5 0.4M265.3 46.4l-2.6 0.3M294.3 109.7l-1.7 1.8M302.7 113.1l0.5 0.9M301.0 93.1l1.8 2.1" stroke="#5e4c78" stroke-width="2.2" stroke-linecap="round" fill="none"/>
<path d="M274.9 70.0l1.4 0.5M286.2 89.8l-0.3 2.3M286.8 33.9l0.5 1.4M342.2 72.2l-0.9 1.3M312.6 104.5l-0.5 1.1M213.1 76.1l0.4 1.1M278.9 42.4l0.4 0.5M238.3 36.6l2.1 0.9M221.0 38.7l-1.3 0.2M242.0 85.2l-1.6 1.4M348.4 137.3l-0.8 0.7M256.2 85.6l1.6 1.7M299.0 61.6l-0.6 1.8M269.1 96.3l-0.6 0.7M215.1 38.7l-1.0 0.6M261.3 42.3l-0.6 0.7M292.4 103.6l-1.4 1.4M327.1 89.5l2.3 1.3M264.4 87.9l0.7 0.1M251.4 120.9l-2.4 0.8M288.5 48.7l-2.4 1.2M260.6 120.8l-1.1 1.8M387.2 87.8l0.6 1.4M308.3 105.3l-0.9 1.2M216.5 97.6l-1.1 0.0" stroke="#6a5684" stroke-width="2.6" stroke-linecap="round" fill="none"/>
<path d="M238.7 88.8l-2.4 1.1M342.0 110.8l2.2 0.3M360.7 140.0l-0.9 2.3M281.9 91.8l0.8 0.4M334.1 62.6l-0.1 1.3M259.9 65.3l1.0 0.6M310.8 81.6l-0.2 0.9M223.3 73.7l1.7 0.7M208.8 44.0l-0.2 1.4M228.9 58.2l2.6 0.9M217.2 117.6l1.0 1.1M224.7 21.5l0.7 1.9M361.7 72.7l-2.5 0.5M256.8 67.9l0.9 0.8M322.0 23.6l-0.3 2.7M277.5 71.1l-0.7 0.9M383.0 121.9l-0.0 0.7M245.7 61.8l0.7 2.6M263.0 116.7l-1.4 1.4M254.2 125.6l0.4 2.1M323.4 94.5l-1.7 0.2M300.4 126.2l-0.7 1.5M320.8 103.3l-2.0 1.2M326.5 54.3l1.3 1.6M381.6 140.6l2.0 0.0M288.0 121.4l0.9 1.2M261.7 58.3l1.8 0.6M262.4 25.3l0.5 0.1M243.4 64.1l1.0 0.3M209.1 62.4l2.3 0.6M275.6 135.1l2.3 1.4" stroke="#765e86" stroke-width="2.2" stroke-linecap="round" fill="none"/>
<path d="M341.4 115.9l-0.2 0.6M375.0 47.1l0.4 0.8M300.5 49.5l1.4 2.3M283.9 117.7l0.3 1.4M242.4 47.8l1.8 1.2M241.1 48.6l2.0 1.9M376.1 92.4l-0.5 0.2M363.7 123.4l-2.0 0.0M208.7 49.1l-0.6 0.0M261.5 118.6l0.3 1.9M261.2 20.4l-0.9 0.6M211.6 23.5l-0.5 0.8M288.7 62.6l0.1 0.8M297.0 22.1l-1.6 1.2M250.5 25.1l-2.0 1.4M262.2 69.7l-0.6 1.0M308.3 86.6l-1.2 1.1M301.3 85.1l-0.9 1.4M242.8 123.8l0.8 1.3M331.7 16.5l0.7 1.2M247.7 18.7l2.0 1.7M232.8 36.7l-1.3 1.6M221.7 66.8l-1.6 0.3M266.0 82.3l1.0 0.2M226.7 125.9l0.7 0.4M284.8 119.3l0.7 2.2M295.9 125.6l-1.2 1.3M258.8 90.5l-2.3 0.5" stroke="#7a5e7c" stroke-width="2.6" stroke-linecap="round" fill="none"/>
<path d="M240.2 134.5l-0.5 0.6M280.8 125.4l0.8 2.2M364.8 113.6l0.5 2.7M388.1 69.7l2.1 0.9M252.6 53.1l-0.8 0.2M268.5 73.4l-0.9 0.2M253.6 22.9l0.9 0.2M293.4 27.4l-2.6 0.3M248.7 44.8l1.5 1.4M304.3 63.3l-0.4 0.8M353.6 117.5l1.0 0.2M366.1 47.5l2.3 0.2M284.6 41.5l0.7 0.8M247.3 114.4l-1.5 1.8M317.3 101.6l-0.6 1.1M250.3 77.1l-2.1 0.9M265.9 48.0l-0.6 1.4M294.7 18.7l-1.2 0.7M257.0 87.4l-1.6 1.0M300.0 104.6l2.3 1.0M286.1 127.4l-0.5 2.3M319.6 133.8l0.9 1.0M298.1 92.8l1.4 0.9M260.5 131.8l1.9 0.8M278.2 132.9l0.2 1.0M229.8 114.3l1.5 0.3M376.1 91.9l-0.6 1.1M261.0 14.7l-0.3 1.6M261.5 52.7l0.9 0.3M233.6 96.9l-0.6 0.8M329.5 72.6l0.6 1.9M249.0 111.5l-0.5 0.7M323.2 103.9l0.5 0.0M372.9 79.3l-0.7 0.0" stroke="#7a5e7c" stroke-width="2.2" stroke-linecap="round" fill="none"/>
<path d="M300.6 114.5l-0.5 1.1M290.6 25.9l-1.6 1.5M287.3 131.5l1.0 2.2M274.7 78.6l-0.9 1.0M220.6 45.9l1.0 0.5M266.9 138.8l1.7 0.9M385.7 91.0l-1.9 0.2M289.7 40.6l1.6 1.0M232.8 57.4l2.1 1.1M232.6 29.9l2.1 0.0M247.1 106.9l0.7 1.8M253.1 76.1l2.1 0.0M251.6 90.6l-2.2 0.3M313.7 48.9l0.6 1.3M333.6 139.2l-0.9 0.1M302.6 98.8l-0.6 1.3M298.1 111.3l1.1 1.1M302.8 91.0l1.0 0.0M266.8 135.3l-0.3 0.8M324.2 18.1l0.6 0.5M257.6 17.0l-1.9 0.3M213.5 83.0l-0.5 0.9M246.8 19.6l2.4 0.4M288.5 62.9l-1.1 2.2" stroke="#52446c" stroke-width="1.8" stroke-linecap="round" fill="none"/>
<path d="M287.0 108.1l-1.1 0.7M339.4 120.0l0.6 0.9M281.6 73.6l2.4 0.6M281.8 48.9l-0.3 1.0M250.7 52.0l1.5 0.5M353.6 108.0l1.0 1.2M242.6 120.9l-0.1 2.0M331.1 50.2l0.5 0.7M290.7 55.9l0.8 0.3M348.4 119.1l-1.9 1.5M273.7 84.1l0.7 0.7M300.8 16.3l-0.6 1.0M288.6 122.1l0.7 0.6M296.2 106.5l1.8 0.4M241.3 92.9l-1.8 0.2M261.4 50.1l-0.6 0.5M296.8 129.5l-2.1 0.6M268.6 114.7l-0.5 0.8M343.5 112.6l-0.6 0.5M220.3 89.6l-1.3 0.5M360.7 121.4l1.5 2.1M281.9 85.2l0.4 0.4M223.7 34.8l-0.5 1.4M323.6 119.2l-1.2 1.6M330.1 79.1l0.9 0.0M252.8 116.1l0.4 1.4M284.2 129.3l0.3 0.9M250.2 104.9l-2.3 0.3M318.0 21.0l2.4 0.8M346.4 125.7l-2.1 1.2M303.6 73.1l-0.3 2.6M338.8 136.6l0.7 1.1M327.8 21.4l-1.7 1.7M285.7 15.8l1.4 1.9M319.9 52.4l1.2 1.8" stroke="#5e4c78" stroke-width="1.8" stroke-linecap="round" fill="none"/>
<path d="M242.5 83.6l1.5 0.3M259.9 74.3l0.5 0.4M319.0 43.1l-1.9 1.8M235.4 66.4l2.0 1.3M263.4 84.6l1.4 1.8M327.0 130.8l0.2 1.8M332.8 83.9l-0.9 1.8M254.2 62.8l-1.7 1.1M290.5 28.2l-1.8 1.5M237.0 127.8l-0.5 0.5M348.0 121.5l0.6 0.2M318.4 100.8l0.9 0.2M309.7 20.7l1.2 2.3M299.8 108.0l-0.4 0.7M262.8 108.1l0.3 2.0M222.6 75.7l1.7 0.8M298.7 62.9l-1.3 0.3M238.1 48.0l0.6 1.0M390.1 67.7l-0.5 0.8M279.9 135.7l0.6 0.0M322.3 127.3l0.5 1.9M256.2 129.5l-2.0 0.7M288.3 135.1l-0.4 0.6M296.4 131.7l1.1 2.5M256.5 46.5l-1.8 0.0M249.8 97.5l0.5 0.0M250.1 56.9l-0.3 1.3M388.4 54.5l0.6 0.9M364.0 22.6l-0.5 0.1M235.5 17.8l0.6 1.0" stroke="#5e4c78" stroke-width="2.6" stroke-linecap="round" fill="none"/>
<path d="M368.3 129.0l1.5 0.6M311.2 45.4l1.9 0.2M344.8 71.7l0.8 1.4M307.3 113.3l2.3 0.5M268.9 104.4l0.0 0.9M320.2 94.6l-0.6 1.9M264.8 116.1l-1.7 0.3M375.4 130.6l-0.5 0.4M301.3 56.2l-1.5 0.0M246.1 125.5l0.3 0.6M294.2 87.1l0.5 0.8M336.2 75.4l-2.2 0.7M244.8 115.6l0.5 1.5M277.9 40.3l0.7 1.3M281.9 36.9l-1.0 1.7M242.8 104.1l0.4 0.5M237.5 130.2l-1.6 1.2M217.5 51.0l-1.9 0.7M298.4 22.7l0.8 1.3M290.7 107.4l0.9 0.4M381.4 78.0l0.6 0.3M296.8 106.5l-0.8 1.9M302.3 113.4l-0.6 0.2M285.6 43.0l-0.6 0.0M223.1 95.9l-0.3 2.6M254.4 119.5l-1.1 1.0" stroke="#6a5684" stroke-width="2.2" stroke-linecap="round" fill="none"/>
<path d="M208.3 17.5l2.0 0.2M346.9 115.4l1.1 0.1M245.4 83.6l-1.6 1.8M278.4 72.3l0.3 1.0M255.4 71.0l2.4 1.1M225.3 125.5l-2.4 0.1M297.6 94.6l0.5 1.0M248.0 130.1l0.4 2.3M293.0 50.2l-2.4 0.8M328.0 94.7l1.2 1.3M255.7 60.9l-0.5 1.6M304.5 28.3l0.8 0.8M288.1 61.6l-1.2 1.5M310.6 55.2l0.5 2.1M290.0 102.4l0.1 1.7M246.5 79.6l0.5 1.6M269.6 63.9l1.7 2.2M252.0 18.6l-1.1 0.0M321.5 22.5l-0.4 2.7M314.4 31.4l0.8 1.7M381.1 52.5l1.4 1.7M301.6 31.6l1.2 1.7M280.3 134.2l-2.0 1.1M377.2 95.0l0.8 0.5M243.2 121.7l-2.4 0.1M359.3 141.3l0.6 1.5M292.2 68.3l0.4 0.5M282.7 98.3l1.5 1.1M292.8 101.1l0.2 1.1M255.0 122.7l-0.5 2.4M302.4 93.0l2.0 0.6M255.9 11.6l0.2 1.2" stroke="#765e86" stroke-width="1.8" stroke-linecap="round" fill="none"/>
<path d="M269.2 64.3l0.5 0.5M299.5 54.7l-0.5 0.1M269.7 106.3l0.1 1.8M348.2 129.1l0.9 1.6M389.7 65.9l-0.4 0.9M234.4 114.7l0.4 2.1M224.7 93.8l0.6 1.7M244.3 139.7l-1.0 2.2M350.2 89.1l2.5 0.1M339.1 127.5l-2.1 0.1M300.5 52.1l-0.0 0.5M359.7 97.3l-1.2 1.5M392.1 63.8l-0.2 2.2M302.4 93.2l-1.7 1.3M222.4 65.3l1.4 1.6M249.7 88.2l-1.6 1.8M276.7 73.8l0.6 2.3M240.4 111.3l-0.3 1.1M261.9 71.4l2.4 0.4M229.2 138.4l1.8 1.5M314.9 122.8l-0.4 1.4" stroke="#52446c" stroke-width="2.6" stroke-linecap="round" fill="none"/>
<path d="M295.7 56.0l0.3 1.9M350.0 49.8l-0.9 2.4M268.0 69.7l-1.1 0.1M310.9 105.6l-1.2 1.5M243.5 69.2l2.2 1.1M247.6 122.8l-0.7 1.1M290.4 90.2l2.0 0.0M250.8 40.7l1.4 0.0M259.1 43.7l0.2 2.4M301.7 99.2l-1.9 0.4M300.4 14.3l-0.8 0.5M268.4 67.5l-0.0 2.2M379.4 66.5l1.8 1.1M277.1 107.6l1.0 1.0M325.9 46.4l0.2 2.1M217.6 26.6l-1.8 1.6M311.7 94.0l-0.6 0.0M254.8 126.2l-1.4 0.1M254.1 15.2l-0.5 0.9M263.2 62.0l1.5 1.7M321.7 125.5l-0.7 0.5M286.6 127.3l-2.0 0.7M273.9 90.6l0.1 1.7M363.5 86.2l-1.6 0.3M257.8 130.4l0.7 0.2M293.2 64.5l0.0 1.0M364.1 82.7l-0.2 0.7M298.4 64.0l-2.2 0.2" stroke="#6a5684" stroke-width="1.8" stroke-linecap="round" fill="none"/>
<path d="M245.3 117.8l-0.3 2.3M227.9 129.9l-0.3 0.5M272.4 61.0l-0.6 2.2M267.4 113.3l-0.5 0.6M286.4 136.3l0.9 0.1M256.7 17.1l-1.6 2.3M319.4 28.6l-1.0 0.9M243.5 119.7l0.2 0.5M209.6 52.0l-0.1 2.5M258.7 62.4l0.1 1.8M265.8 76.3l0.1 0.8M296.4 130.7l0.1 2.4M300.8 81.5l0.2 2.6M251.9 89.0l1.9 1.9M285.7 42.2l-0.8 1.5M337.7 130.4l1.4 2.3M244.6 77.9l-0.6 1.2M383.7 125.5l-2.1 0.8M223.2 39.1l0.2 1.3M375.2 22.4l0.4 1.1M235.9 121.2l0.3 1.2M365.1 23.2l-1.0 0.1M289.7 86.2l-0.6 2.6M304.5 58.5l1.9 1.6M272.3 98.7l-1.5 0.3" stroke="#7a5e7c" stroke-width="1.8" stroke-linecap="round" fill="none"/>
<path d="M278.5 113.4l0.4 2.1M299.6 87.5l0.1 2.2M234.6 45.4l-0.5 0.4M276.2 76.0l0.1 0.9M381.0 128.1l-2.3 0.3M248.5 109.1l-1.2 1.1M243.8 28.8l0.5 1.2M231.7 121.8l-0.8 0.0M287.8 126.1l1.1 1.2M249.3 70.6l-0.6 0.8M238.1 29.7l0.6 1.0M264.4 60.8l-0.2 2.5M230.5 26.3l0.0 0.7M328.6 77.7l-0.2 1.7M263.9 82.5l1.1 1.1M258.4 46.3l2.1 0.2M279.8 82.4l1.0 1.5M277.6 134.3l-1.8 0.5M276.9 107.6l-0.3 0.8M307.9 79.7l-0.4 2.0M251.6 92.4l-0.7 2.0M237.1 18.7l-0.9 1.0M265.1 104.0l-1.8 1.5M299.7 93.0l0.6 2.3M274.4 57.4l-1.8 0.0M260.6 88.1l-1.4 1.4M215.7 18.8l1.4 0.7M296.0 61.8l0.3 2.1M354.1 81.2l0.8 1.1M246.5 84.6l1.0 2.3M298.1 90.2l1.9 0.5M246.4 76.2l-1.6 0.1M369.3 93.7l-0.5 0.4" stroke="#604e7a" stroke-width="1.8" stroke-linecap="round" fill="none"/>
<path d="M254.6 93.7l1.5 1.0M245.9 75.9l1.0 0.3M322.8 46.8l-0.3 0.5M242.5 38.4l1.1 0.1M305.9 131.9l-0.8 2.4M344.8 92.2l-1.1 1.5M224.8 126.5l0.5 0.8M306.4 76.8l-0.5 0.5M221.8 37.1l-0.9 0.0M282.2 105.5l-2.7 0.5M306.0 108.1l1.9 0.7M210.6 82.8l-1.7 0.1M236.3 42.1l-2.0 1.0M307.2 55.2l-1.1 0.2M282.3 103.1l-1.8 1.6M267.9 108.6l0.3 2.1M326.8 137.5l-0.2 0.5M216.4 64.6l-0.1 0.6M238.9 44.5l-1.0 1.3M225.7 127.3l0.5 1.8M219.8 42.8l2.1 1.2M211.9 19.3l-2.1 1.7M297.1 31.2l0.6 1.3M253.9 68.3l-2.0 0.4M294.6 52.5l-1.0 0.0M279.1 51.6l-0.8 0.4M215.8 75.7l0.9 0.1" stroke="#52446c" stroke-width="2.2" stroke-linecap="round" fill="none"/>
<path d="M303.1 102.4l-2.4 1.0M253.3 30.5l-1.5 0.8M263.6 75.5l-0.2 0.6M318.5 115.8l-0.8 0.6M276.8 33.4l0.4 0.5M259.1 17.6l-0.7 0.3M322.6 125.9l-0.6 0.3M324.7 110.3l-1.9 1.2M352.0 134.4l-1.8 1.1M246.3 111.5l0.6 0.2M343.5 135.5l-0.9 2.5M322.5 18.7l-1.9 0.3M293.2 107.2l-1.8 1.0M250.5 55.6l2.1 0.3M260.3 71.3l0.5 0.5M390.3 104.5l1.2 2.4M355.3 119.4l1.5 1.2M347.5 114.0l0.2 0.5M340.1 118.8l-0.7 1.3M279.6 119.3l-2.6 0.3M231.5 113.8l1.2 1.2M322.8 39.2l-1.7 0.3M264.4 138.6l0.2 1.0M366.3 115.0l1.7 1.4M339.9 136.1l1.9 1.3M306.0 73.0l2.1 1.8M288.0 90.2l-0.9 2.1M263.7 68.2l-0.8 0.4M279.3 76.2l-0.1 0.7" stroke="#765e86" stroke-width="2.6" stroke-linecap="round" fill="none"/>
<path d="M240.7 93.2l-1.1 1.4M273.5 103.0l1.4 2.2M249.7 22.8l0.5 1.0M208.6 43.3l-1.5 0.4M348.0 125.1l-1.5 1.3M260.0 58.3l-0.1 0.9M311.2 59.9l0.5 2.3M263.4 109.8l2.3 0.0M312.5 42.6l0.4 1.0M294.2 69.6l-1.7 2.1M366.6 87.1l-2.0 1.0M340.3 134.4l0.1 0.7M215.7 99.0l-0.7 0.0M300.7 123.2l0.5 0.2M297.6 83.6l1.6 0.3M349.3 137.0l-0.4 0.6M274.4 75.7l0.2 1.0M316.3 106.9l0.3 1.4M237.7 23.7l1.5 0.4M263.8 71.1l2.2 0.3M227.8 26.4l0.5 0.5M211.2 52.1l0.9 1.8M267.4 138.3l-1.7 0.4" stroke="#604e7a" stroke-width="2.6" stroke-linecap="round" fill="none"/>
<path d="M262.4 91.9l-0.2 1.9M253.8 12.4l-2.3 0.6M373.3 96.4l-1.9 1.0M252.5 94.6l-1.8 0.3M248.9 45.0l-1.9 1.2M321.1 107.8l1.4 0.2M240.1 117.1l-1.2 1.2M254.0 76.1l1.5 1.1M241.6 124.9l2.1 1.3M255.9 105.8l-0.9 1.7M337.3 121.5l-0.9 0.4M365.9 81.4l-2.1 0.0M376.1 69.6l-0.2 0.6M309.6 53.3l0.7 0.0M365.6 99.1l0.4 1.7M299.8 49.9l-1.2 1.2M303.7 95.5l-1.2 0.2M232.0 122.9l2.2 1.1M384.4 87.7l-2.2 1.5M289.3 140.8l1.9 1.1M312.3 27.6l2.0 1.7M269.2 108.7l1.2 0.8M243.2 41.5l-0.7 0.3M273.0 98.6l-1.9 1.0M243.5 97.5l2.3 0.6M271.1 101.8l-0.6 2.2M253.9 38.7l0.2 1.1M356.1 130.7l-0.3 1.8M356.4 139.5l-1.1 0.2M333.2 56.8l-1.1 0.5M292.3 102.9l-0.2 0.8M302.1 35.1l0.0 2.1M301.3 73.7l1.2 0.2M243.8 30.5l1.4 0.4M233.5 93.0l-0.8 2.2M349.0 64.5l-1.8 0.5M322.6 140.8l-1.5 0.1" stroke="#604e7a" stroke-width="2.2" stroke-linecap="round" fill="none"/>
<path d="M268.6 129.0l2.1 0.1M265.0 65.1l0.4 2.0M246.8 51.3l-1.5 0.9M371.2 140.3l-0.3 0.9M273.1 140.8l-1.6 1.5M286.9 121.9l-0.2 1.4M267.1 66.1l-1.5 1.7M313.9 76.5l2.6 0.4M315.5 89.9l1.0 1.3M245.0 113.1l2.0 1.0M242.4 72.9l0.1 1.0M309.5 138.1l1.6 1.0M218.7 94.5l0.3 0.6M329.6 58.0l1.1 0.4M237.0 113.2l1.4 0.6M389.7 53.0l1.2 1.6M243.2 61.2l1.1 2.1M292.5 85.6l0.8 1.8M272.7 63.2l-0.1 1.4M368.3 125.1l2.0 0.3M277.6 141.3l-0.6 0.1M299.9 135.1l-0.6 1.4M301.9 94.3l-0.9 0.3M338.3 115.8l-0.4 0.8" stroke="#8a7094" stroke-width="1.8" stroke-linecap="round" fill="none"/>
<path d="M335.1 130.3l1.9 0.4M385.2 41.3l1.5 2.5M383.8 60.5l1.8 1.5M222.7 126.0l1.6 0.9M270.1 89.5l1.4 1.1M319.3 120.9l-3.5 1.6" stroke="#c8acb4" stroke-width="2.2" stroke-linecap="round" fill="none"/>
<path d="M302.2 74.4l-1.1 0.6M373.6 16.9l-3.7 0.0M302.9 65.6l-0.1 3.9M226.1 96.8l1.7 0.4M323.9 10.2l-3.5 1.1M341.7 131.8l0.0 3.0M352.6 68.7l-1.7 3.1M387.3 103.3l3.6 0.8M371.6 72.9l-1.0 0.5" stroke="#bc9890" stroke-width="1.6" stroke-linecap="round" fill="none"/>
<path d="M237.8 59.1l-0.5 2.0M236.6 124.2l-1.7 1.9M291.9 91.7l-3.1 0.5M299.0 47.2l-2.4 1.2M332.5 51.4l-2.1 3.3M272.7 59.7l1.2 1.7M276.6 70.2l1.2 0.8M211.8 98.0l0.1 2.5M213.3 128.8l-0.6 1.8M266.3 20.4l-2.2 0.7M256.3 95.1l0.1 3.0M273.7 83.4l0.7 3.3" stroke="#a07068" stroke-width="2.2" stroke-linecap="round" fill="none"/>
<path d="M272.9 88.8l-2.4 0.8M351.8 16.4l-2.0 0.9M383.9 81.0l-2.9 2.4M352.7 93.6l0.3 2.4M359.5 56.2l1.7 2.7M218.9 10.5l1.3 0.5M358.1 137.5l-0.7 0.9M293.4 84.0l-0.1 2.5M272.7 78.2l-2.7 0.2" stroke="#c8a498" stroke-width="1.6" stroke-linecap="round" fill="none"/>
<path d="M219.5 105.2l-1.9 3.1M294.5 46.6l-0.8 1.7M212.4 88.4l0.3 1.8M338.5 77.6l3.6 0.2M348.0 37.4l-2.0 2.9M291.3 131.7l0.0 3.0M388.5 57.4l0.8 1.4M349.3 123.1l1.1 2.7M304.8 95.7l-3.1 1.3M242.0 129.8l-1.3 2.1M233.5 96.3l0.4 2.3M323.9 114.2l-1.2 0.8M323.5 48.9l-3.0 1.3M387.2 53.9l-3.3 1.7M368.7 115.5l1.8 1.5" stroke="#c8acb4" stroke-width="1.6" stroke-linecap="round" fill="none"/>
<path d="M212.2 96.6l-1.6 3.7M257.6 93.7l0.6 1.7M359.4 115.5l-1.2 0.9M266.2 90.3l-0.7 3.6M316.7 45.3l2.8 1.1M291.7 84.6l-1.1 2.8M294.0 91.7l-3.2 0.1M333.2 112.9l-1.0 1.9M290.0 120.8l-0.3 1.0M226.4 72.7l0.2 1.4" stroke="#b08070" stroke-width="2.2" stroke-linecap="round" fill="none"/>
<path d="M319.9 50.5l-1.4 2.2M342.6 124.9l-1.5 0.6M275.1 23.7l2.1 2.5M387.3 20.0l0.6 2.1M259.5 10.0l3.8 1.0M298.6 49.5l-1.5 1.4M211.6 30.8l-0.4 3.8" stroke="#bc9890" stroke-width="2.2" stroke-linecap="round" fill="none"/>
<path d="M227.6 114.6l0.8 2.8M222.1 23.1l2.1 0.5M347.3 15.1l-0.2 4.0M360.9 49.4l0.9 1.0M392.0 68.6l-1.7 0.3M240.4 83.1l-1.5 3.4M395.8 68.7l1.8 1.8M292.9 65.2l1.4 2.3" stroke="#a07068" stroke-width="1.6" stroke-linecap="round" fill="none"/>
<path d="M317.3 42.4l0.7 1.7M390.4 124.0l2.2 1.4M251.3 99.2l1.0 1.9M335.1 127.9l1.1 0.6M256.7 117.1l-0.6 2.0M384.9 94.5l-3.0 1.7M328.5 71.6l-0.4 3.4M313.6 126.7l-3.1 0.0M340.4 33.1l-1.1 0.0" stroke="#d4b8c0" stroke-width="1.6" stroke-linecap="round" fill="none"/>
<path d="M272.7 57.7l-0.5 2.6M291.7 66.6l2.2 1.7" stroke="#c8a498" stroke-width="2.2" stroke-linecap="round" fill="none"/>
<path d="M395.4 39.2l1.4 1.1M293.6 10.2l-2.1 1.9M307.5 62.5l2.5 1.3M329.0 117.5l1.1 1.8M266.7 95.6l2.0 2.0M333.6 64.4l1.5 2.5M384.8 21.6l-0.2 2.3M266.8 73.8l2.2 0.2M317.2 18.0l-0.7 2.9M283.1 17.0l0.7 3.5M210.6 112.5l3.1 0.4M220.7 53.0l0.5 3.1M388.4 16.4l0.9 3.7M224.0 18.3l-2.8 2.2M323.2 93.3l0.2 1.8" stroke="#d4b8c0" stroke-width="2.2" stroke-linecap="round" fill="none"/>
<path d="M325.0 91.7l-1.4 0.8M393.1 130.3l0.5 3.1M241.4 44.4l1.5 1.1M268.9 112.1l-1.4 0.6M259.3 65.2l1.4 0.3M276.9 77.4l1.7 0.4M261.3 44.3l-2.3 2.0M239.0 10.1l-2.3 0.8" stroke="#b08070" stroke-width="1.6" stroke-linecap="round" fill="none"/>
<path d="M222.5 85.3l0.8 0.2M358.4 73.4l-0.4 1.5M396.3 50.0l-0.1 2.0M209.8 13.9l-2.4 1.7" stroke="#a87456" stroke-width="1.6" stroke-linecap="round" fill="none"/>
<path d="M248.2 132.7l-2.6 1.5M306.7 10.4l2.0 0.8M297.9 99.3l1.3 0.7M212.7 66.2l-1.5 1.5M352.6 119.1l-2.6 1.1" stroke="#a87456" stroke-width="2.0" stroke-linecap="round" fill="none"/>
<path d="M339.5 72.2l-0.2 1.9M341.8 122.7l0.7 1.1M344.5 60.0l-0.1 1.4M363.8 27.7l0.9 0.4" stroke="#8a5440" stroke-width="1.6" stroke-linecap="round" fill="none"/>
<path d="M287.8 32.5l-0.8 2.2M306.5 108.5l-0.6 2.6M382.4 109.6l-1.7 0.8M248.1 74.1l1.2 1.1M340.9 96.1l-2.3 1.9" stroke="#8a5440" stroke-width="2.0" stroke-linecap="round" fill="none"/>
<path d="M258.0 101.3l1.7 1.8M284.6 46.2l2.8 0.9M325.5 110.3l0.6 1.3M253.9 70.8l-2.4 0.8M303.5 80.9l-0.6 2.3" stroke="#9a6044" stroke-width="1.6" stroke-linecap="round" fill="none"/>
<path d="M378.7 36.8l0.7 1.6M236.0 40.7l-0.4 0.6M312.1 74.5l-1.3 0.5M391.2 140.8l0.2 0.5M245.6 27.7l-2.3 0.4M359.1 53.3l-0.8 1.2M357.4 61.1l-1.1 0.8" stroke="#9a6044" stroke-width="2.0" stroke-linecap="round" fill="none"/>
<path d="M222.0 31.0l0.6 0.8" stroke="#8a4a30" stroke-width="3.6" stroke-linecap="round" fill="none"/>
<path d="M238.0 47.0l0.6 0.8" stroke="#8a4a30" stroke-width="3.6" stroke-linecap="round" fill="none"/>
<path d="M307.0 75.0l0.6 0.8" stroke="#8a4a30" stroke-width="3.6" stroke-linecap="round" fill="none"/>
<path d="M320.0 73.0l0.6 0.8" stroke="#8a4a30" stroke-width="3.6" stroke-linecap="round" fill="none"/>
<path d="M335.0 58.0l0.6 0.8" stroke="#8a4a30" stroke-width="3.6" stroke-linecap="round" fill="none"/>
<path d="M215.0 118.0l0.6 0.8" stroke="#8a4a30" stroke-width="3.6" stroke-linecap="round" fill="none"/>
</g></g>
<text x="107.00" y="6.30" font-size="6.2" font-weight="normal" text-anchor="middle" fill="#222" stroke="#222" stroke-width="0.12">Vehicle</text>
<text x="307.40" y="6.30" font-size="6.6" font-weight="normal" text-anchor="middle" fill="#222" stroke="#222" stroke-width="0.12">Imiquimod</text>
<text x="1.00" y="9.70" font-size="12.5" font-weight="bold" text-anchor="start" fill="#000" >A</text>
<text x="199.60" y="9.70" font-size="12.5" font-weight="bold" text-anchor="start" fill="#000" >B</text>
<text x="401.40" y="10.60" font-size="12.5" font-weight="bold" text-anchor="start" fill="#000" >C</text>
<text x="1.40" y="154.60" font-size="12.5" font-weight="bold" text-anchor="start" fill="#000" >D</text>
<text x="2.40" y="280.60" font-size="12.5" font-weight="bold" text-anchor="start" fill="#000" >E</text>
<text x="3.00" y="407.20" font-size="12.5" font-weight="bold" text-anchor="start" fill="#000" >F</text>
<line x1="38.50" y1="170.80" x2="38.50" y2="252.50" stroke="#1a1a1a" stroke-width="1.3"/>
<line x1="38.00" y1="251.50" x2="160.00" y2="251.50" stroke="#1a1a1a" stroke-width="1.3"/>
<line x1="35.60" y1="251.50" x2="38.60" y2="251.50" stroke="#222" stroke-width="0.9"/>
<text x="34.60" y="254.10" font-size="6.3" font-weight="bold" text-anchor="end" fill="#1a1a1a"  stroke="#1a1a1a" stroke-width="0.3">0</text>
<line x1="35.60" y1="231.50" x2="38.60" y2="231.50" stroke="#222" stroke-width="0.9"/>
<text x="34.60" y="233.95" font-size="6.3" font-weight="bold" text-anchor="end" fill="#1a1a1a"  stroke="#1a1a1a" stroke-width="0.3">25</text>
<line x1="35.60" y1="211.50" x2="38.60" y2="211.50" stroke="#222" stroke-width="0.9"/>
<text x="34.60" y="213.80" font-size="6.3" font-weight="bold" text-anchor="end" fill="#1a1a1a"  stroke="#1a1a1a" stroke-width="0.3">50</text>
<line x1="35.60" y1="191.50" x2="38.60" y2="191.50" stroke="#222" stroke-width="0.9"/>
<text x="34.60" y="193.65" font-size="6.3" font-weight="bold" text-anchor="end" fill="#1a1a1a"  stroke="#1a1a1a" stroke-width="0.3">75</text>
<line x1="35.60" y1="171.50" x2="38.60" y2="171.50" stroke="#222" stroke-width="0.9"/>
<text x="34.60" y="173.50" font-size="6.3" font-weight="bold" text-anchor="end" fill="#1a1a1a"  stroke="#1a1a1a" stroke-width="0.3">100</text>
<line x1="58.50" y1="247.63" x2="58.50" y2="248.19" stroke="#222" stroke-width="0.9"/>
<line x1="51.80" y1="247.50" x2="66.10" y2="247.50" stroke="#222" stroke-width="0.9"/>
<rect x="45.20" y="248.19" width="27.50" height="3.71" fill="#fff" stroke="#111" stroke-width="1.1"/>
<line x1="58.50" y1="251.90" x2="58.50" y2="254.40" stroke="#222" stroke-width="0.9"/>
<text x="58.95" y="261.50" font-size="6.1" font-weight="bold" text-anchor="middle" fill="#1a1a1a"  stroke="#1a1a1a" stroke-width="0.3">Media</text>
<line x1="99.50" y1="241.58" x2="99.50" y2="241.99" stroke="#222" stroke-width="0.9"/>
<line x1="91.87" y1="241.50" x2="106.33" y2="241.50" stroke="#222" stroke-width="0.9"/>
<rect x="85.20" y="241.99" width="27.80" height="9.91" fill="#a2a4a8" stroke="#111" stroke-width="1.1"/>
<line x1="99.50" y1="251.90" x2="99.50" y2="254.40" stroke="#222" stroke-width="0.9"/>
<text x="99.10" y="261.50" font-size="6.1" font-weight="bold" text-anchor="middle" fill="#1a1a1a"  stroke="#1a1a1a" stroke-width="0.3">IL-2</text>
<rect x="126.40" y="177.75" width="27.70" height="74.15" fill="#231f20" stroke="#111" stroke-width="1.1"/>
<line x1="140.50" y1="251.90" x2="140.50" y2="254.40" stroke="#222" stroke-width="0.9"/>
<text x="140.25" y="261.50" font-size="6.1" font-weight="bold" text-anchor="middle" fill="#1a1a1a"  stroke="#1a1a1a" stroke-width="0.3">PHA/IL-2</text>
<text x="99.80" y="162.30" font-size="6.6" font-weight="bold" text-anchor="middle" fill="#222" stroke="#222" stroke-width="0.3">CD25<tspan font-size="4.6" dy="-1.9">+</tspan><tspan dy="1.9">HLA-DR<tspan font-size="4.6" dy="-1.9">+</tspan><tspan dy="1.9"></tspan></tspan></text>
<line x1="61.90" y1="170.50" x2="140.00" y2="170.50" stroke="#222" stroke-width="1.15"/>
<polygon points="97.55,164.35 98.02,165.15 98.93,165.35 98.31,166.05 98.40,166.97 97.55,166.60 96.70,166.97 96.79,166.05 96.17,165.35 97.08,165.15" fill="#1a1a1a"/>
<polygon points="100.70,164.35 101.17,165.15 102.08,165.35 101.46,166.05 101.55,166.97 100.70,166.60 99.85,166.97 99.94,166.05 99.32,165.35 100.23,165.15" fill="#1a1a1a"/>
<polygon points="103.85,164.35 104.32,165.15 105.23,165.35 104.61,166.05 104.70,166.97 103.85,166.60 103.00,166.97 103.09,166.05 102.47,165.35 103.38,165.15" fill="#1a1a1a"/>
<line x1="99.50" y1="174.50" x2="140.00" y2="174.50" stroke="#222" stroke-width="1.15"/>
<text x="0" y="0" transform="translate(24.40,209.90) rotate(-90)" font-size="6.35" font-weight="bold" text-anchor="middle" fill="#222" stroke="#222" stroke-width="0.3">% of CD45RO<tspan font-size="4.6" dy="-1.9">+</tspan><tspan dy="1.9">CD8<tspan font-size="4.6" dy="-1.9">+</tspan><tspan dy="1.9"></tspan></tspan></text>
<line x1="220.50" y1="171.90" x2="220.50" y2="251.20" stroke="#1a1a1a" stroke-width="1.3"/>
<line x1="219.90" y1="250.50" x2="338.80" y2="250.50" stroke="#1a1a1a" stroke-width="1.3"/>
<line x1="217.50" y1="250.50" x2="220.50" y2="250.50" stroke="#222" stroke-width="0.9"/>
<text x="216.50" y="252.80" font-size="6.3" font-weight="bold" text-anchor="end" fill="#1a1a1a"  stroke="#1a1a1a" stroke-width="0.3">0</text>
<line x1="217.50" y1="234.50" x2="220.50" y2="234.50" stroke="#222" stroke-width="0.9"/>
<text x="216.50" y="237.16" font-size="6.3" font-weight="bold" text-anchor="end" fill="#1a1a1a"  stroke="#1a1a1a" stroke-width="0.3">5</text>
<line x1="217.50" y1="219.50" x2="220.50" y2="219.50" stroke="#222" stroke-width="0.9"/>
<text x="216.50" y="221.52" font-size="6.3" font-weight="bold" text-anchor="end" fill="#1a1a1a"  stroke="#1a1a1a" stroke-width="0.3">10</text>
<line x1="217.50" y1="203.50" x2="220.50" y2="203.50" stroke="#222" stroke-width="0.9"/>
<text x="216.50" y="205.88" font-size="6.3" font-weight="bold" text-anchor="end" fill="#1a1a1a"  stroke="#1a1a1a" stroke-width="0.3">15</text>
<line x1="217.50" y1="188.50" x2="220.50" y2="188.50" stroke="#222" stroke-width="0.9"/>
<text x="216.50" y="190.24" font-size="6.3" font-weight="bold" text-anchor="end" fill="#1a1a1a"  stroke="#1a1a1a" stroke-width="0.3">20</text>
<line x1="217.50" y1="172.50" x2="220.50" y2="172.50" stroke="#222" stroke-width="0.9"/>
<text x="216.50" y="174.60" font-size="6.3" font-weight="bold" text-anchor="end" fill="#1a1a1a"  stroke="#1a1a1a" stroke-width="0.3">25</text>
<line x1="240.50" y1="241.84" x2="240.50" y2="244.34" stroke="#222" stroke-width="0.9"/>
<line x1="233.74" y1="241.50" x2="247.46" y2="241.50" stroke="#222" stroke-width="0.9"/>
<rect x="227.40" y="244.34" width="26.40" height="6.26" fill="#fff" stroke="#111" stroke-width="1.1"/>
<line x1="240.50" y1="250.60" x2="240.50" y2="253.10" stroke="#222" stroke-width="0.9"/>
<text x="240.60" y="260.90" font-size="6.1" font-weight="bold" text-anchor="middle" fill="#1a1a1a"  stroke="#1a1a1a" stroke-width="0.3">Media</text>
<line x1="279.50" y1="229.33" x2="279.50" y2="231.21" stroke="#222" stroke-width="0.9"/>
<line x1="272.58" y1="229.50" x2="286.42" y2="229.50" stroke="#222" stroke-width="0.9"/>
<rect x="266.20" y="231.21" width="26.60" height="19.39" fill="#94979c" stroke="#111" stroke-width="1.1"/>
<line x1="279.50" y1="250.60" x2="279.50" y2="253.10" stroke="#222" stroke-width="0.9"/>
<text x="279.50" y="260.90" font-size="6.1" font-weight="bold" text-anchor="middle" fill="#1a1a1a"  stroke="#1a1a1a" stroke-width="0.3">IL-2</text>
<line x1="318.50" y1="176.47" x2="318.50" y2="183.35" stroke="#222" stroke-width="0.9"/>
<line x1="311.68" y1="176.50" x2="325.72" y2="176.50" stroke="#222" stroke-width="0.9"/>
<rect x="305.20" y="183.35" width="27.00" height="67.25" fill="#000" stroke="#111" stroke-width="1.1"/>
<line x1="318.50" y1="250.60" x2="318.50" y2="253.10" stroke="#222" stroke-width="0.9"/>
<text x="318.70" y="260.90" font-size="6.1" font-weight="bold" text-anchor="middle" fill="#1a1a1a"  stroke="#1a1a1a" stroke-width="0.3">PHA/IL-2</text>
<text x="279.00" y="162.30" font-size="6.6" font-weight="bold" text-anchor="middle" fill="#222" stroke="#222" stroke-width="0.3">PD-1<tspan font-size="4.6" dy="-1.9">+</tspan><tspan dy="1.9"></tspan></text>
<line x1="238.20" y1="170.50" x2="320.00" y2="170.50" stroke="#222" stroke-width="1.15"/>
<polygon points="275.15,164.95 275.62,165.75 276.53,165.95 275.91,166.65 276.00,167.57 275.15,167.20 274.30,167.57 274.39,166.65 273.77,165.95 274.68,165.75" fill="#1a1a1a"/>
<polygon points="278.30,164.95 278.77,165.75 279.68,165.95 279.06,166.65 279.15,167.57 278.30,167.20 277.45,167.57 277.54,166.65 276.92,165.95 277.83,165.75" fill="#1a1a1a"/>
<polygon points="281.45,164.95 281.92,165.75 282.83,165.95 282.21,166.65 282.30,167.57 281.45,167.20 280.60,167.57 280.69,166.65 280.07,165.95 280.98,165.75" fill="#1a1a1a"/>
<line x1="275.90" y1="174.50" x2="320.00" y2="174.50" stroke="#222" stroke-width="1.15"/>
<text x="0" y="0" transform="translate(206.50,207.50) rotate(-90)" font-size="6.35" font-weight="bold" text-anchor="middle" fill="#222" stroke="#222" stroke-width="0.3">% of CD45RO<tspan font-size="4.6" dy="-1.9">+</tspan><tspan dy="1.9">CD8<tspan font-size="4.6" dy="-1.9">+</tspan><tspan dy="1.9"></tspan></tspan></text>
<line x1="38.50" y1="291.30" x2="38.50" y2="372.90" stroke="#1a1a1a" stroke-width="1.3"/>
<line x1="38.00" y1="372.50" x2="157.90" y2="372.50" stroke="#1a1a1a" stroke-width="1.3"/>
<line x1="35.60" y1="372.50" x2="38.60" y2="372.50" stroke="#222" stroke-width="0.9"/>
<text x="34.60" y="374.50" font-size="6.3" font-weight="bold" text-anchor="end" fill="#1a1a1a"  stroke="#1a1a1a" stroke-width="0.3">0</text>
<line x1="35.60" y1="352.50" x2="38.60" y2="352.50" stroke="#222" stroke-width="0.9"/>
<text x="34.60" y="354.38" font-size="6.3" font-weight="bold" text-anchor="end" fill="#1a1a1a"  stroke="#1a1a1a" stroke-width="0.3">25</text>
<line x1="35.60" y1="332.50" x2="38.60" y2="332.50" stroke="#222" stroke-width="0.9"/>
<text x="34.60" y="334.25" font-size="6.3" font-weight="bold" text-anchor="end" fill="#1a1a1a"  stroke="#1a1a1a" stroke-width="0.3">50</text>
<line x1="35.60" y1="311.50" x2="38.60" y2="311.50" stroke="#222" stroke-width="0.9"/>
<text x="34.60" y="314.12" font-size="6.3" font-weight="bold" text-anchor="end" fill="#1a1a1a"  stroke="#1a1a1a" stroke-width="0.3">75</text>
<line x1="35.60" y1="291.50" x2="38.60" y2="291.50" stroke="#222" stroke-width="0.9"/>
<text x="34.60" y="294.00" font-size="6.3" font-weight="bold" text-anchor="end" fill="#1a1a1a"  stroke="#1a1a1a" stroke-width="0.3">100</text>
<line x1="58.50" y1="344.53" x2="58.50" y2="346.54" stroke="#222" stroke-width="0.9"/>
<line x1="51.45" y1="344.50" x2="65.85" y2="344.50" stroke="#222" stroke-width="0.9"/>
<rect x="44.80" y="346.54" width="27.70" height="25.76" fill="#fff" stroke="#111" stroke-width="1.1"/>
<line x1="58.50" y1="372.30" x2="58.50" y2="374.80" stroke="#222" stroke-width="0.9"/>
<text x="58.65" y="381.90" font-size="6.1" font-weight="bold" text-anchor="middle" fill="#1a1a1a"  stroke="#1a1a1a" stroke-width="0.3">Media</text>
<line x1="99.50" y1="314.50" x2="99.50" y2="315.14" stroke="#222" stroke-width="0.9"/>
<line x1="91.85" y1="314.50" x2="106.25" y2="314.50" stroke="#222" stroke-width="0.9"/>
<rect x="85.20" y="315.14" width="27.70" height="57.16" fill="#97999d" stroke="#111" stroke-width="1.1"/>
<line x1="99.50" y1="372.30" x2="99.50" y2="374.80" stroke="#222" stroke-width="0.9"/>
<text x="99.05" y="381.90" font-size="6.1" font-weight="bold" text-anchor="middle" fill="#1a1a1a"  stroke="#1a1a1a" stroke-width="0.3">IL-2</text>
<rect x="126.40" y="366.26" width="27.50" height="6.04" fill="#231f20" stroke="#111" stroke-width="1.1"/>
<line x1="140.50" y1="372.30" x2="140.50" y2="374.80" stroke="#222" stroke-width="0.9"/>
<text x="140.15" y="381.90" font-size="6.1" font-weight="bold" text-anchor="middle" fill="#1a1a1a"  stroke="#1a1a1a" stroke-width="0.3">PHA/IL-2</text>
<text x="99.80" y="287.00" font-size="6.6" font-weight="bold" text-anchor="middle" fill="#222" stroke="#222" stroke-width="0.3">CD25<tspan font-size="4.6" dy="-1.9">+</tspan><tspan dy="1.9">HLA-DR<tspan font-size="4.6" dy="-1.9">+</tspan><tspan dy="1.9"></tspan></tspan></text>
<line x1="54.80" y1="308.50" x2="97.80" y2="308.50" stroke="#222" stroke-width="1.15"/>
<polygon points="74.85,304.45 75.32,305.25 76.23,305.45 75.61,306.15 75.70,307.07 74.85,306.70 74.00,307.07 74.09,306.15 73.47,305.45 74.38,305.25" fill="#1a1a1a"/>
<polygon points="78.00,304.45 78.47,305.25 79.38,305.45 78.76,306.15 78.85,307.07 78.00,306.70 77.15,307.07 77.24,306.15 76.62,305.45 77.53,305.25" fill="#1a1a1a"/>
<polygon points="81.15,304.45 81.62,305.25 82.53,305.45 81.91,306.15 82.00,307.07 81.15,306.70 80.30,307.07 80.39,306.15 79.77,305.45 80.68,305.25" fill="#1a1a1a"/>
<line x1="102.20" y1="308.50" x2="134.50" y2="308.50" stroke="#222" stroke-width="1.15"/>
<polygon points="118.05,304.45 118.52,305.25 119.43,305.45 118.81,306.15 118.90,307.07 118.05,306.70 117.20,307.07 117.29,306.15 116.67,305.45 117.58,305.25" fill="#1a1a1a"/>
<polygon points="121.20,304.45 121.67,305.25 122.58,305.45 121.96,306.15 122.05,307.07 121.20,306.70 120.35,307.07 120.44,306.15 119.82,305.45 120.73,305.25" fill="#1a1a1a"/>
<polygon points="124.35,304.45 124.82,305.25 125.73,305.45 125.11,306.15 125.20,307.07 124.35,306.70 123.50,307.07 123.59,306.15 122.97,305.45 123.88,305.25" fill="#1a1a1a"/>
<text x="0" y="0" transform="translate(24.50,331.40) rotate(-90)" font-size="6.35" font-weight="bold" text-anchor="middle" fill="#222" stroke="#222" stroke-width="0.3">% of CD45RO<tspan font-size="4.6" dy="-1.9">+</tspan><tspan dy="1.9">CD8<tspan font-size="4.6" dy="-1.9">+</tspan><tspan dy="1.9"></tspan></tspan></text>
<line x1="220.50" y1="291.00" x2="220.50" y2="374.10" stroke="#1a1a1a" stroke-width="1.3"/>
<line x1="219.90" y1="373.50" x2="343.00" y2="373.50" stroke="#1a1a1a" stroke-width="1.3"/>
<line x1="217.50" y1="373.50" x2="220.50" y2="373.50" stroke="#222" stroke-width="0.9"/>
<text x="216.50" y="375.70" font-size="6.3" font-weight="bold" text-anchor="end" fill="#1a1a1a"  stroke="#1a1a1a" stroke-width="0.3">0</text>
<line x1="217.50" y1="357.50" x2="220.50" y2="357.50" stroke="#222" stroke-width="0.9"/>
<text x="216.50" y="359.30" font-size="6.3" font-weight="bold" text-anchor="end" fill="#1a1a1a"  stroke="#1a1a1a" stroke-width="0.3">250</text>
<line x1="217.50" y1="340.50" x2="220.50" y2="340.50" stroke="#222" stroke-width="0.9"/>
<text x="216.50" y="342.90" font-size="6.3" font-weight="bold" text-anchor="end" fill="#1a1a1a"  stroke="#1a1a1a" stroke-width="0.3">500</text>
<line x1="217.50" y1="324.50" x2="220.50" y2="324.50" stroke="#222" stroke-width="0.9"/>
<text x="216.50" y="326.50" font-size="6.3" font-weight="bold" text-anchor="end" fill="#1a1a1a"  stroke="#1a1a1a" stroke-width="0.3">750</text>
<line x1="217.50" y1="307.50" x2="220.50" y2="307.50" stroke="#222" stroke-width="0.9"/>
<text x="216.50" y="310.10" font-size="6.3" font-weight="bold" text-anchor="end" fill="#1a1a1a"  stroke="#1a1a1a" stroke-width="0.3">1000</text>
<line x1="217.50" y1="291.50" x2="220.50" y2="291.50" stroke="#222" stroke-width="0.9"/>
<text x="216.50" y="293.70" font-size="6.3" font-weight="bold" text-anchor="end" fill="#1a1a1a"  stroke="#1a1a1a" stroke-width="0.3">1250</text>
<line x1="241.50" y1="347.59" x2="241.50" y2="349.23" stroke="#222" stroke-width="0.9"/>
<line x1="234.12" y1="347.50" x2="248.68" y2="347.50" stroke="#222" stroke-width="0.9"/>
<rect x="227.40" y="349.23" width="28.00" height="24.27" fill="#fff" stroke="#111" stroke-width="1.1"/>
<line x1="241.50" y1="373.50" x2="241.50" y2="376.00" stroke="#222" stroke-width="0.9"/>
<text x="241.40" y="383.10" font-size="6.1" font-weight="bold" text-anchor="middle" fill="#1a1a1a"  stroke="#1a1a1a" stroke-width="0.3">Media</text>
<line x1="282.50" y1="305.28" x2="282.50" y2="310.20" stroke="#222" stroke-width="0.9"/>
<line x1="275.17" y1="305.50" x2="289.83" y2="305.50" stroke="#222" stroke-width="0.9"/>
<rect x="268.40" y="310.20" width="28.20" height="63.30" fill="#97999d" stroke="#111" stroke-width="1.1"/>
<line x1="282.50" y1="373.50" x2="282.50" y2="376.00" stroke="#222" stroke-width="0.9"/>
<text x="282.50" y="383.10" font-size="6.1" font-weight="bold" text-anchor="middle" fill="#1a1a1a"  stroke="#1a1a1a" stroke-width="0.3">IL-2</text>
<rect x="310.10" y="329.88" width="27.50" height="43.62" fill="#050505" stroke="#111" stroke-width="1.1"/>
<line x1="323.50" y1="373.50" x2="323.50" y2="376.00" stroke="#222" stroke-width="0.9"/>
<text x="323.85" y="383.10" font-size="6.1" font-weight="bold" text-anchor="middle" fill="#1a1a1a"  stroke="#1a1a1a" stroke-width="0.3">PHA/IL-2</text>
<text x="279.30" y="287.30" font-size="6.6" font-weight="bold" text-anchor="middle" fill="#222" stroke="#222" stroke-width="0.3">CD25<tspan font-size="4.6" dy="-1.9">+</tspan><tspan dy="1.9">HLA-DR<tspan font-size="4.6" dy="-1.9">+</tspan><tspan dy="1.9"></tspan></tspan></text>
<line x1="235.00" y1="299.50" x2="280.50" y2="299.50" stroke="#222" stroke-width="1.15"/>
<polygon points="254.43,294.65 254.89,295.45 255.80,295.65 255.18,296.35 255.28,297.27 254.43,296.90 253.57,297.27 253.67,296.35 253.05,295.65 253.96,295.45" fill="#1a1a1a"/>
<polygon points="257.57,294.65 258.04,295.45 258.95,295.65 258.33,296.35 258.43,297.27 257.57,296.90 256.72,297.27 256.82,296.35 256.20,295.65 257.11,295.45" fill="#1a1a1a"/>
<line x1="285.90" y1="299.50" x2="337.70" y2="299.50" stroke="#222" stroke-width="1.15"/>
<polygon points="319.30,294.45 319.77,295.25 320.68,295.45 320.06,296.15 320.15,297.07 319.30,296.70 318.45,297.07 318.54,296.15 317.92,295.45 318.83,295.25" fill="#1a1a1a"/>
<line x1="239.30" y1="325.50" x2="327.00" y2="325.50" stroke="#222" stroke-width="1.15"/>
<polygon points="279.35,319.75 279.82,320.55 280.73,320.75 280.11,321.45 280.20,322.37 279.35,322.00 278.50,322.37 278.59,321.45 277.97,320.75 278.88,320.55" fill="#1a1a1a"/>
<polygon points="282.50,319.75 282.97,320.55 283.88,320.75 283.26,321.45 283.35,322.37 282.50,322.00 281.65,322.37 281.74,321.45 281.12,320.75 282.03,320.55" fill="#1a1a1a"/>
<polygon points="285.65,319.75 286.12,320.55 287.03,320.75 286.41,321.45 286.50,322.37 285.65,322.00 284.80,322.37 284.89,321.45 284.27,320.75 285.18,320.55" fill="#1a1a1a"/>
<text x="0" y="0" transform="translate(194.00,331.70) rotate(-90)" font-size="6.25" font-weight="bold" text-anchor="middle" fill="#222" stroke="#222" stroke-width="0.3">Total CD25<tspan font-size="4.6" dy="-1.9">+</tspan><tspan dy="1.9">HLA-DR<tspan font-size="4.6" dy="-1.9">+</tspan><tspan dy="1.9"></tspan></tspan></text>
<text x="0" y="0" transform="translate(201.40,331.70) rotate(-90)" font-size="6.25" font-weight="bold" text-anchor="middle" fill="#222" stroke="#222" stroke-width="0.3">CD45RO<tspan font-size="4.6" dy="-1.9">+</tspan><tspan dy="1.9">CD8<tspan font-size="4.6" dy="-1.9">+</tspan><tspan dy="1.9"> Cells</tspan></tspan></text>
<line x1="38.50" y1="415.10" x2="38.50" y2="496.90" stroke="#1a1a1a" stroke-width="1.3"/>
<line x1="37.60" y1="496.50" x2="157.50" y2="496.50" stroke="#1a1a1a" stroke-width="1.3"/>
<line x1="35.20" y1="496.50" x2="38.20" y2="496.50" stroke="#222" stroke-width="0.9"/>
<text x="34.20" y="498.50" font-size="6.3" font-weight="bold" text-anchor="end" fill="#1a1a1a"  stroke="#1a1a1a" stroke-width="0.3">0</text>
<line x1="35.20" y1="476.50" x2="38.20" y2="476.50" stroke="#222" stroke-width="0.9"/>
<text x="34.20" y="478.32" font-size="6.3" font-weight="bold" text-anchor="end" fill="#1a1a1a"  stroke="#1a1a1a" stroke-width="0.3">25</text>
<line x1="35.20" y1="455.50" x2="38.20" y2="455.50" stroke="#222" stroke-width="0.9"/>
<text x="34.20" y="458.15" font-size="6.3" font-weight="bold" text-anchor="end" fill="#1a1a1a"  stroke="#1a1a1a" stroke-width="0.3">50</text>
<line x1="35.20" y1="435.50" x2="38.20" y2="435.50" stroke="#222" stroke-width="0.9"/>
<text x="34.20" y="437.98" font-size="6.3" font-weight="bold" text-anchor="end" fill="#1a1a1a"  stroke="#1a1a1a" stroke-width="0.3">75</text>
<line x1="35.20" y1="415.50" x2="38.20" y2="415.50" stroke="#222" stroke-width="0.9"/>
<text x="34.20" y="417.80" font-size="6.3" font-weight="bold" text-anchor="end" fill="#1a1a1a"  stroke="#1a1a1a" stroke-width="0.3">100</text>
<line x1="58.50" y1="483.39" x2="58.50" y2="487.42" stroke="#222" stroke-width="0.9"/>
<line x1="51.40" y1="483.50" x2="65.70" y2="483.50" stroke="#222" stroke-width="0.9"/>
<rect x="44.80" y="487.42" width="27.50" height="8.88" fill="#fff" stroke="#111" stroke-width="1.1"/>
<line x1="58.50" y1="496.30" x2="58.50" y2="498.80" stroke="#222" stroke-width="0.9"/>
<text x="58.55" y="505.90" font-size="6.1" font-weight="bold" text-anchor="middle" fill="#1a1a1a"  stroke="#1a1a1a" stroke-width="0.3">Media</text>
<line x1="98.50" y1="457.16" x2="98.50" y2="460.39" stroke="#222" stroke-width="0.9"/>
<line x1="91.66" y1="457.50" x2="105.64" y2="457.50" stroke="#222" stroke-width="0.9"/>
<rect x="85.20" y="460.39" width="26.90" height="35.91" fill="#97999d" stroke="#111" stroke-width="1.1"/>
<line x1="98.50" y1="496.30" x2="98.50" y2="498.80" stroke="#222" stroke-width="0.9"/>
<text x="98.65" y="505.90" font-size="6.1" font-weight="bold" text-anchor="middle" fill="#1a1a1a"  stroke="#1a1a1a" stroke-width="0.3">IL-2</text>
<line x1="139.50" y1="441.75" x2="139.50" y2="442.23" stroke="#222" stroke-width="0.9"/>
<line x1="132.25" y1="441.50" x2="146.65" y2="441.50" stroke="#222" stroke-width="0.9"/>
<rect x="125.60" y="442.23" width="27.70" height="54.07" fill="#231f20" stroke="#111" stroke-width="1.1"/>
<line x1="139.50" y1="496.30" x2="139.50" y2="498.80" stroke="#222" stroke-width="0.9"/>
<text x="139.45" y="505.90" font-size="6.1" font-weight="bold" text-anchor="middle" fill="#1a1a1a"  stroke="#1a1a1a" stroke-width="0.3">PHA/IL-2</text>
<text x="99.40" y="411.70" font-size="6.6" font-weight="bold" text-anchor="middle" fill="#222" stroke="#222" stroke-width="0.3">CD25<tspan font-size="4.6" dy="-1.9">+</tspan><tspan dy="1.9">HLA-DR<tspan font-size="4.6" dy="-1.9">+</tspan><tspan dy="1.9"></tspan></tspan></text>
<line x1="56.90" y1="453.50" x2="97.30" y2="453.50" stroke="#222" stroke-width="1.15"/>
<polygon points="76.22,448.05 76.69,448.85 77.60,449.05 76.98,449.75 77.08,450.67 76.22,450.30 75.37,450.67 75.47,449.75 74.85,449.05 75.76,448.85" fill="#1a1a1a"/>
<polygon points="79.38,448.05 79.84,448.85 80.75,449.05 80.13,449.75 80.23,450.67 79.38,450.30 78.52,450.67 78.62,449.75 78.00,449.05 78.91,448.85" fill="#1a1a1a"/>
<line x1="99.50" y1="436.50" x2="137.70" y2="436.50" stroke="#222" stroke-width="1.15"/>
<polygon points="118.90,430.85 119.37,431.65 120.28,431.85 119.66,432.55 119.75,433.47 118.90,433.10 118.05,433.47 118.14,432.55 117.52,431.85 118.43,431.65" fill="#1a1a1a"/>
<text x="0" y="0" transform="translate(24.00,455.90) rotate(-90)" font-size="6.35" font-weight="bold" text-anchor="middle" fill="#222" stroke="#222" stroke-width="0.3">% of CD45RO<tspan font-size="4.6" dy="-1.9">+</tspan><tspan dy="1.9">CD8<tspan font-size="4.6" dy="-1.9">+</tspan><tspan dy="1.9"></tspan></tspan></text>
<line x1="220.50" y1="414.70" x2="220.50" y2="496.80" stroke="#1a1a1a" stroke-width="1.3"/>
<line x1="219.70" y1="496.50" x2="342.00" y2="496.50" stroke="#1a1a1a" stroke-width="1.3"/>
<line x1="217.30" y1="496.50" x2="220.30" y2="496.50" stroke="#222" stroke-width="0.9"/>
<text x="216.30" y="498.40" font-size="6.3" font-weight="bold" text-anchor="end" fill="#1a1a1a"  stroke="#1a1a1a" stroke-width="0.3">0</text>
<line x1="217.30" y1="475.50" x2="220.30" y2="475.50" stroke="#222" stroke-width="0.9"/>
<text x="216.30" y="478.15" font-size="6.3" font-weight="bold" text-anchor="end" fill="#1a1a1a"  stroke="#1a1a1a" stroke-width="0.3">25</text>
<line x1="217.30" y1="455.50" x2="220.30" y2="455.50" stroke="#222" stroke-width="0.9"/>
<text x="216.30" y="457.90" font-size="6.3" font-weight="bold" text-anchor="end" fill="#1a1a1a"  stroke="#1a1a1a" stroke-width="0.3">50</text>
<line x1="217.30" y1="435.50" x2="220.30" y2="435.50" stroke="#222" stroke-width="0.9"/>
<text x="216.30" y="437.65" font-size="6.3" font-weight="bold" text-anchor="end" fill="#1a1a1a"  stroke="#1a1a1a" stroke-width="0.3">75</text>
<line x1="217.30" y1="415.50" x2="220.30" y2="415.50" stroke="#222" stroke-width="0.9"/>
<text x="216.30" y="417.40" font-size="6.3" font-weight="bold" text-anchor="end" fill="#1a1a1a"  stroke="#1a1a1a" stroke-width="0.3">100</text>
<rect x="227.10" y="484.05" width="27.60" height="12.15" fill="#fff" stroke="#111" stroke-width="1.1"/>
<line x1="240.50" y1="496.20" x2="240.50" y2="498.70" stroke="#222" stroke-width="0.9"/>
<text x="240.90" y="505.80" font-size="6.1" font-weight="bold" text-anchor="middle" fill="#1a1a1a"  stroke="#1a1a1a" stroke-width="0.3">Media</text>
<line x1="281.50" y1="465.58" x2="281.50" y2="467.44" stroke="#222" stroke-width="0.9"/>
<line x1="273.90" y1="465.50" x2="288.20" y2="465.50" stroke="#222" stroke-width="0.9"/>
<rect x="267.30" y="467.44" width="27.50" height="28.75" fill="#97999d" stroke="#111" stroke-width="1.1"/>
<line x1="281.50" y1="496.20" x2="281.50" y2="498.70" stroke="#222" stroke-width="0.9"/>
<text x="281.05" y="505.80" font-size="6.1" font-weight="bold" text-anchor="middle" fill="#1a1a1a"  stroke="#1a1a1a" stroke-width="0.3">IL-2</text>
<rect x="307.50" y="481.86" width="27.50" height="14.34" fill="#231f20" stroke="#111" stroke-width="1.1"/>
<line x1="321.50" y1="496.20" x2="321.50" y2="498.70" stroke="#222" stroke-width="0.9"/>
<text x="321.25" y="505.80" font-size="6.1" font-weight="bold" text-anchor="middle" fill="#1a1a1a"  stroke="#1a1a1a" stroke-width="0.3">PHA/IL-2</text>
<text x="279.40" y="412.50" font-size="6.6" font-weight="bold" text-anchor="middle" fill="#222" stroke="#222" stroke-width="0.3">CD25<tspan font-size="4.6" dy="-1.9">+</tspan><tspan dy="1.9">HLA-DR<tspan font-size="4.6" dy="-1.9">+</tspan><tspan dy="1.9"></tspan></tspan></text>
<line x1="240.70" y1="462.50" x2="278.40" y2="462.50" stroke="#222" stroke-width="1.15"/>
<polygon points="258.23,456.55 258.69,457.35 259.60,457.55 258.98,458.25 259.08,459.17 258.23,458.80 257.37,459.17 257.47,458.25 256.85,457.55 257.76,457.35" fill="#1a1a1a"/>
<polygon points="261.38,456.55 261.84,457.35 262.75,457.55 262.13,458.25 262.23,459.17 261.38,458.80 260.52,459.17 260.62,458.25 260.00,457.55 260.91,457.35" fill="#1a1a1a"/>
<line x1="282.60" y1="462.50" x2="321.50" y2="462.50" stroke="#222" stroke-width="1.15"/>
<polygon points="299.73,456.55 300.19,457.35 301.10,457.55 300.48,458.25 300.58,459.17 299.73,458.80 298.87,459.17 298.97,458.25 298.35,457.55 299.26,457.35" fill="#1a1a1a"/>
<polygon points="302.88,456.55 303.34,457.35 304.25,457.55 303.63,458.25 303.73,459.17 302.88,458.80 302.02,459.17 302.12,458.25 301.50,457.55 302.41,457.35" fill="#1a1a1a"/>
<text x="0" y="0" transform="translate(206.50,454.70) rotate(-90)" font-size="6.35" font-weight="bold" text-anchor="middle" fill="#222" stroke="#222" stroke-width="0.3">% of CD45RO<tspan font-size="4.6" dy="-1.9">+</tspan><tspan dy="1.9">CD8<tspan font-size="4.6" dy="-1.9">+</tspan><tspan dy="1.9"></tspan></tspan></text>
<g filter="url(#bl2)">
<path d="M475.2 50.1l0.0 0.0M462.8 73.9l0.0 0.0M475.3 44.5l0.0 0.0M455.1 67.1l0.0 0.0M471.1 58.9l0.0 0.0M436.6 66.7l0.0 0.0M470.3 55.5l0.0 0.0M481.7 32.1l0.0 0.0M484.4 46.2l0.0 0.0M472.7 43.3l0.0 0.0M459.3 60.9l0.0 0.0M459.0 77.4l0.0 0.0M482.4 39.5l0.0 0.0M476.8 53.7l0.0 0.0M463.2 46.2l0.0 0.0M462.5 34.5l0.0 0.0M465.2 38.0l0.0 0.0M462.4 50.0l0.0 0.0M461.8 64.9l0.0 0.0M469.7 88.7l0.0 0.0M473.6 43.5l0.0 0.0M477.8 44.5l0.0 0.0M463.9 58.8l0.0 0.0M463.6 54.5l0.0 0.0M476.9 69.6l0.0 0.0M455.7 67.5l0.0 0.0M457.0 72.5l0.0 0.0M470.9 38.6l0.0 0.0M479.1 48.7l0.0 0.0M463.7 71.1l0.0 0.0M486.8 75.6l0.0 0.0M469.9 46.5l0.0 0.0M477.0 45.8l0.0 0.0M471.2 34.5l0.0 0.0M464.1 21.8l0.0 0.0M442.5 84.2l0.0 0.0M433.2 87.9l0.0 0.0M431.0 87.9l0.0 0.0M447.1 76.9l0.0 0.0M433.2 72.2l0.0 0.0M427.9 37.4l0.0 0.0M435.4 48.2l0.0 0.0M469.1 48.8l0.0 0.0M426.6 19.9l0.0 0.0M425.4 85.9l0.0 0.0M427.0 25.7l0.0 0.0M434.2 61.4l0.0 0.0M440.7 61.2l0.0 0.0M435.4 65.4l0.0 0.0M449.5 59.6l0.0 0.0" stroke="#8080c0" stroke-width="0.75" stroke-linecap="round" fill="none" stroke-opacity="0.5"/>
<path d="M474.8 46.9l0.0 0.0M473.1 59.1l0.0 0.0M472.4 39.0l0.0 0.0M452.6 41.2l0.0 0.0M473.9 36.9l0.0 0.0M470.9 84.7l0.0 0.0M484.8 59.1l0.0 0.0M464.6 23.9l0.0 0.0M468.2 53.1l0.0 0.0M485.2 41.1l0.0 0.0M458.9 64.0l0.0 0.0M481.4 48.5l0.0 0.0M455.2 90.2l0.0 0.0M438.2 91.0l0.0 0.0M425.9 89.1l0.0 0.0" stroke="#6060a0" stroke-width="1.0" stroke-linecap="round" fill="none" stroke-opacity="0.75"/>
<path d="M459.4 29.9l0.0 0.0M462.3 75.8l0.0 0.0M459.5 60.6l0.0 0.0M469.4 51.7l0.0 0.0M470.4 44.5l0.0 0.0M456.7 58.5l0.0 0.0M477.4 42.2l0.0 0.0M480.3 62.4l0.0 0.0M466.7 73.3l0.0 0.0M488.4 42.0l0.0 0.0M453.4 66.9l0.0 0.0M466.8 58.8l0.0 0.0M474.2 64.6l0.0 0.0M460.1 49.9l0.0 0.0M470.3 72.2l0.0 0.0M471.3 42.1l0.0 0.0M460.0 73.3l0.0 0.0M459.1 24.1l0.0 0.0M465.6 70.3l0.0 0.0M486.8 57.3l0.0 0.0M479.0 42.0l0.0 0.0M477.9 29.5l0.0 0.0M475.5 26.1l0.0 0.0M484.8 56.1l0.0 0.0M451.8 62.1l0.0 0.0M480.7 69.7l0.0 0.0M475.1 43.7l0.0 0.0M462.4 49.7l0.0 0.0M433.0 72.3l0.0 0.0M471.0 71.4l0.0 0.0M478.5 62.8l0.0 0.0M474.3 63.6l0.0 0.0M487.0 49.0l0.0 0.0M487.0 34.2l0.0 0.0M471.2 52.6l0.0 0.0M450.0 19.9l0.0 0.0M456.1 26.5l0.0 0.0M483.2 72.4l0.0 0.0M463.2 27.2l0.0 0.0M473.4 55.3l0.0 0.0M472.7 48.2l0.0 0.0M481.0 69.6l0.0 0.0M470.9 68.0l0.0 0.0M478.8 46.9l0.0 0.0M474.0 37.6l0.0 0.0M480.0 23.8l0.0 0.0M432.7 80.1l0.0 0.0M439.0 77.6l0.0 0.0M433.6 88.9l0.0 0.0M441.8 84.4l0.0 0.0M423.1 88.2l0.0 0.0M435.8 87.6l0.0 0.0M445.6 75.6l0.0 0.0M432.6 81.1l0.0 0.0M431.7 83.5l0.0 0.0M455.7 26.9l0.0 0.0M431.1 41.2l0.0 0.0M436.5 81.4l0.0 0.0M439.4 43.2l0.0 0.0M436.9 70.6l0.0 0.0M461.7 88.0l0.0 0.0M453.9 61.4l0.0 0.0M436.1 44.4l0.0 0.0M431.8 34.4l0.0 0.0M458.5 37.7l0.0 0.0M450.8 54.3l0.0 0.0" stroke="#8080c0" stroke-width="1.0" stroke-linecap="round" fill="none" stroke-opacity="0.5"/>
<path d="M462.8 60.7l0.0 0.0M486.8 45.6l0.0 0.0M478.3 66.9l0.0 0.0M463.9 52.2l0.0 0.0M477.7 67.6l0.0 0.0M485.5 63.5l0.0 0.0M468.0 61.2l0.0 0.0M473.1 63.2l0.0 0.0M486.7 40.7l0.0 0.0M472.2 47.2l0.0 0.0M470.2 43.9l0.0 0.0M491.5 49.9l0.0 0.0M476.4 33.2l0.0 0.0M458.1 50.9l0.0 0.0M470.9 54.7l0.0 0.0M461.3 54.4l0.0 0.0M460.2 70.2l0.0 0.0M459.5 57.4l0.0 0.0M470.6 67.8l0.0 0.0M443.4 29.4l0.0 0.0M475.4 73.9l0.0 0.0M481.5 54.4l0.0 0.0M462.2 23.5l0.0 0.0M462.0 46.2l0.0 0.0M469.1 70.0l0.0 0.0M457.2 42.1l0.0 0.0M481.7 50.8l0.0 0.0M473.5 51.9l0.0 0.0M468.6 40.2l0.0 0.0M481.9 43.1l0.0 0.0M465.7 51.1l0.0 0.0M460.4 40.8l0.0 0.0M476.5 24.4l0.0 0.0M464.1 20.3l0.0 0.0M487.4 44.9l0.0 0.0M466.0 37.5l0.0 0.0M459.2 29.4l0.0 0.0M459.4 36.9l0.0 0.0M480.6 31.2l0.0 0.0M449.7 77.9l0.0 0.0M444.5 89.0l0.0 0.0M439.2 73.5l0.0 0.0M444.4 77.0l0.0 0.0M422.4 89.9l0.0 0.0M452.3 73.3l0.0 0.0M428.5 69.3l0.0 0.0M427.8 82.1l0.0 0.0M426.8 90.1l0.0 0.0M433.1 88.7l0.0 0.0M422.1 88.3l0.0 0.0M429.7 86.7l0.0 0.0M425.1 92.3l0.0 0.0M432.3 92.9l0.0 0.0M429.7 91.6l0.0 0.0M432.6 78.0l0.0 0.0M427.6 85.7l0.0 0.0M433.0 79.6l0.0 0.0M427.4 84.2l0.0 0.0M468.4 76.3l0.0 0.0M441.0 60.2l0.0 0.0M449.0 45.7l0.0 0.0M446.4 60.7l0.0 0.0M454.5 76.5l0.0 0.0M431.2 67.1l0.0 0.0M453.9 38.9l0.0 0.0M428.0 44.1l0.0 0.0M444.2 40.0l0.0 0.0M425.9 49.7l0.0 0.0M440.7 77.0l0.0 0.0M437.5 71.7l0.0 0.0" stroke="#6e6eb0" stroke-width="1.0" stroke-linecap="round" fill="none" stroke-opacity="0.5"/>
<path d="M477.6 44.2l0.0 0.0M475.1 39.2l0.0 0.0M456.8 72.3l0.0 0.0M443.9 56.2l0.0 0.0M486.4 60.0l0.0 0.0M457.2 53.3l0.0 0.0M478.7 57.5l0.0 0.0M465.3 53.1l0.0 0.0M471.7 79.7l0.0 0.0M456.8 56.7l0.0 0.0M484.6 32.4l0.0 0.0M480.7 44.3l0.0 0.0M452.0 37.2l0.0 0.0M449.0 56.8l0.0 0.0M481.0 60.1l0.0 0.0M483.4 65.6l0.0 0.0M469.4 47.6l0.0 0.0M449.8 44.6l0.0 0.0M467.2 64.1l0.0 0.0M446.2 65.1l0.0 0.0M474.7 54.3l0.0 0.0M464.1 53.8l0.0 0.0M464.7 66.4l0.0 0.0M446.2 59.6l0.0 0.0M455.5 64.6l0.0 0.0M450.2 46.7l0.0 0.0M470.5 70.7l0.0 0.0M449.4 64.2l0.0 0.0M473.1 63.9l0.0 0.0M476.5 54.8l0.0 0.0M487.2 57.4l0.0 0.0M469.2 51.9l0.0 0.0M471.1 50.8l0.0 0.0M466.2 64.1l0.0 0.0M491.6 65.8l0.0 0.0M456.0 62.4l0.0 0.0M456.8 48.8l0.0 0.0M482.2 33.0l0.0 0.0M461.7 22.6l0.0 0.0M473.4 49.0l0.0 0.0M470.7 21.5l0.0 0.0M474.9 39.5l0.0 0.0M433.3 75.6l0.0 0.0M426.1 82.6l0.0 0.0M427.0 85.6l0.0 0.0M439.1 87.6l0.0 0.0M441.8 75.2l0.0 0.0M432.9 87.9l0.0 0.0M433.9 82.2l0.0 0.0M440.6 76.9l0.0 0.0M445.0 90.7l0.0 0.0M429.3 79.7l0.0 0.0M436.5 84.4l0.0 0.0M453.7 70.7l0.0 0.0M441.4 57.1l0.0 0.0M457.0 43.4l0.0 0.0M450.3 97.6l0.0 0.0M421.8 64.5l0.0 0.0M461.6 73.8l0.0 0.0M439.4 41.2l0.0 0.0M441.0 79.4l0.0 0.0M442.0 41.1l0.0 0.0M451.1 58.2l0.0 0.0M432.0 54.1l0.0 0.0" stroke="#9494c8" stroke-width="1.0" stroke-linecap="round" fill="none" stroke-opacity="0.5"/>
<path d="M459.6 37.3l0.0 0.0M461.8 62.8l0.0 0.0M471.9 41.5l0.0 0.0M475.7 63.1l0.0 0.0M468.5 45.3l0.0 0.0M481.3 62.8l0.0 0.0M456.0 53.1l0.0 0.0M460.9 61.4l0.0 0.0M482.3 51.4l0.0 0.0M477.5 35.1l0.0 0.0M472.4 30.9l0.0 0.0M464.2 27.0l0.0 0.0M466.7 38.7l0.0 0.0M463.1 41.6l0.0 0.0M460.5 47.4l0.0 0.0M464.5 23.7l0.0 0.0M462.1 34.5l0.0 0.0M474.2 54.6l0.0 0.0M427.7 83.1l0.0 0.0M433.4 81.7l0.0 0.0M434.2 82.8l0.0 0.0" stroke="#6060a0" stroke-width="0.75" stroke-linecap="round" fill="none" stroke-opacity="0.25"/>
<path d="M451.6 73.4l0.0 0.0M476.3 56.0l0.0 0.0M488.3 91.2l0.0 0.0M470.3 59.9l0.0 0.0M458.3 56.8l0.0 0.0M465.1 29.4l0.0 0.0M483.5 38.9l0.0 0.0M467.3 48.9l0.0 0.0M474.0 41.9l0.0 0.0M458.8 41.7l0.0 0.0M465.6 51.0l0.0 0.0M478.9 38.8l0.0 0.0M462.9 25.0l0.0 0.0M475.7 45.5l0.0 0.0M465.6 43.7l0.0 0.0M421.5 90.8l0.0 0.0M429.2 75.5l0.0 0.0M428.0 69.5l0.0 0.0M440.4 82.4l0.0 0.0M434.2 69.6l0.0 0.0M432.5 90.8l0.0 0.0M444.5 89.6l0.0 0.0M443.7 83.1l0.0 0.0M455.6 64.6l0.0 0.0" stroke="#8080c0" stroke-width="1.0" stroke-linecap="round" fill="none" stroke-opacity="0.25"/>
<path d="M476.4 65.4l0.0 0.0M483.8 50.0l0.0 0.0M474.0 45.8l0.0 0.0M469.2 50.1l0.0 0.0M474.7 78.1l0.0 0.0M438.8 45.1l0.0 0.0M464.3 54.7l0.0 0.0M460.6 18.5l0.0 0.0M488.5 75.5l0.0 0.0M450.0 63.5l0.0 0.0M469.9 64.7l0.0 0.0M481.5 70.6l0.0 0.0M463.9 69.3l0.0 0.0M471.6 46.9l0.0 0.0M462.8 61.5l0.0 0.0M477.7 71.4l0.0 0.0M460.9 45.9l0.0 0.0M482.3 45.6l0.0 0.0M467.2 78.0l0.0 0.0M465.1 56.1l0.0 0.0M468.7 42.9l0.0 0.0M464.6 70.3l0.0 0.0M465.4 55.3l0.0 0.0M453.5 33.6l0.0 0.0M466.0 47.4l0.0 0.0M451.1 84.8l0.0 0.0M464.5 46.1l0.0 0.0M463.7 67.2l0.0 0.0M449.1 71.8l0.0 0.0M438.2 42.7l0.0 0.0M470.9 39.3l0.0 0.0M457.3 64.3l0.0 0.0M461.8 72.1l0.0 0.0M481.0 73.3l0.0 0.0M470.7 55.5l0.0 0.0M489.2 82.6l0.0 0.0M467.2 59.6l0.0 0.0M458.2 73.2l0.0 0.0M472.3 59.1l0.0 0.0M478.6 57.3l0.0 0.0M478.3 53.7l0.0 0.0M453.6 68.5l0.0 0.0M453.0 61.5l0.0 0.0M460.8 46.9l0.0 0.0M471.6 32.5l0.0 0.0M463.1 48.0l0.0 0.0M429.9 62.6l0.0 0.0M428.1 78.4l0.0 0.0M432.8 82.5l0.0 0.0M434.1 72.5l0.0 0.0M427.1 88.9l0.0 0.0M450.1 78.8l0.0 0.0M432.3 77.1l0.0 0.0M427.1 85.1l0.0 0.0M427.8 71.7l0.0 0.0M440.6 43.9l0.0 0.0M427.0 48.6l0.0 0.0M433.4 57.6l0.0 0.0M452.4 54.6l0.0 0.0M433.8 87.3l0.0 0.0M441.6 33.3l0.0 0.0M464.3 15.1l0.0 0.0M442.1 62.3l0.0 0.0M452.3 67.8l0.0 0.0" stroke="#7078b0" stroke-width="1.0" stroke-linecap="round" fill="none" stroke-opacity="0.5"/>
<path d="M487.4 56.1l0.0 0.0M468.2 50.7l0.0 0.0M474.6 59.4l0.0 0.0M465.2 59.6l0.0 0.0M476.8 47.9l0.0 0.0M453.4 82.1l0.0 0.0M476.4 60.4l0.0 0.0M444.9 73.4l0.0 0.0M456.7 61.2l0.0 0.0M479.6 53.0l0.0 0.0M475.0 74.5l0.0 0.0M489.8 48.3l0.0 0.0M463.9 16.1l0.0 0.0M470.7 59.7l0.0 0.0M466.5 40.9l0.0 0.0M470.0 60.0l0.0 0.0M483.8 75.9l0.0 0.0M482.0 69.5l0.0 0.0M479.1 40.9l0.0 0.0M438.2 21.3l0.0 0.0M464.5 70.7l0.0 0.0M470.5 35.9l0.0 0.0M438.5 70.9l0.0 0.0M432.4 58.8l0.0 0.0M476.9 30.0l0.0 0.0M459.6 47.2l0.0 0.0M465.5 53.3l0.0 0.0M460.6 53.0l0.0 0.0M438.3 44.7l0.0 0.0M468.9 68.4l0.0 0.0M468.6 40.3l0.0 0.0M461.6 80.5l0.0 0.0M485.5 62.9l0.0 0.0M456.6 60.4l0.0 0.0M462.4 42.9l0.0 0.0M474.0 58.2l0.0 0.0M476.4 73.7l0.0 0.0M472.0 21.7l0.0 0.0M452.5 30.0l0.0 0.0M465.5 67.0l0.0 0.0M488.8 40.5l0.0 0.0M482.3 50.2l0.0 0.0M475.7 63.4l0.0 0.0M461.2 44.8l0.0 0.0M487.2 45.8l0.0 0.0M461.4 53.9l0.0 0.0M491.3 54.3l0.0 0.0M463.7 64.8l0.0 0.0M447.8 41.4l0.0 0.0M479.4 19.1l0.0 0.0M460.1 39.9l0.0 0.0M470.9 34.6l0.0 0.0M464.5 44.8l0.0 0.0M478.8 36.3l0.0 0.0M465.8 36.1l0.0 0.0M463.1 38.1l0.0 0.0M467.6 32.8l0.0 0.0M431.8 92.4l0.0 0.0M453.7 87.7l0.0 0.0M440.6 89.8l0.0 0.0M437.7 72.1l0.0 0.0M436.9 81.4l0.0 0.0M423.8 94.5l0.0 0.0M424.4 83.1l0.0 0.0M437.0 87.3l0.0 0.0M440.3 86.2l0.0 0.0M449.3 80.9l0.0 0.0M438.3 76.6l0.0 0.0M441.6 88.0l0.0 0.0M444.7 47.5l0.0 0.0M455.5 44.8l0.0 0.0M437.6 80.5l0.0 0.0M449.5 64.3l0.0 0.0" stroke="#8e8ec4" stroke-width="1.0" stroke-linecap="round" fill="none" stroke-opacity="0.5"/>
<path d="M470.6 47.2l0.0 0.0M468.5 55.7l0.0 0.0M463.2 38.2l0.0 0.0M484.3 55.8l0.0 0.0M457.3 45.6l0.0 0.0M448.6 69.2l0.0 0.0M464.2 37.4l0.0 0.0M478.0 38.3l0.0 0.0M442.5 23.1l0.0 0.0M461.5 63.3l0.0 0.0M469.0 53.6l0.0 0.0M474.8 66.4l0.0 0.0M478.0 54.5l0.0 0.0M452.4 58.7l0.0 0.0M472.8 64.4l0.0 0.0M457.5 23.8l0.0 0.0M464.8 72.8l0.0 0.0M472.6 40.3l0.0 0.0M478.0 41.3l0.0 0.0M466.4 42.6l0.0 0.0M475.4 44.0l0.0 0.0M469.4 54.5l0.0 0.0M490.6 61.8l0.0 0.0M451.2 36.3l0.0 0.0M459.2 65.8l0.0 0.0M485.2 50.8l0.0 0.0M487.3 30.7l0.0 0.0M447.0 32.6l0.0 0.0M461.6 16.5l0.0 0.0M455.7 51.9l0.0 0.0M465.0 30.9l0.0 0.0M429.3 75.4l0.0 0.0M440.0 78.0l0.0 0.0M437.7 74.3l0.0 0.0M437.8 84.0l0.0 0.0M446.5 67.7l0.0 0.0M434.2 77.2l0.0 0.0M428.6 79.6l0.0 0.0M457.4 61.1l0.0 0.0M428.7 78.5l0.0 0.0M459.4 89.1l0.0 0.0M479.7 31.9l0.0 0.0M447.5 32.2l0.0 0.0M453.2 51.9l0.0 0.0M441.3 64.4l0.0 0.0M423.0 52.4l0.0 0.0" stroke="#6e6eb0" stroke-width="0.75" stroke-linecap="round" fill="none" stroke-opacity="0.5"/>
<path d="M461.4 43.4l0.0 0.0M477.4 57.5l0.0 0.0M486.3 60.0l0.0 0.0M455.6 50.1l0.0 0.0M459.2 38.4l0.0 0.0M449.7 45.1l0.0 0.0M478.2 44.1l0.0 0.0M465.8 62.6l0.0 0.0M461.5 51.0l0.0 0.0M442.9 83.5l0.0 0.0M443.1 78.7l0.0 0.0" stroke="#7078b0" stroke-width="0.75" stroke-linecap="round" fill="none" stroke-opacity="0.75"/>
<path d="M469.9 20.9l0.0 0.0M468.0 53.2l0.0 0.0M466.9 59.0l0.0 0.0M466.7 58.7l0.0 0.0M458.2 62.2l0.0 0.0M469.0 50.1l0.0 0.0M475.2 68.3l0.0 0.0M473.2 73.0l0.0 0.0M459.2 50.1l0.0 0.0M479.6 69.7l0.0 0.0M474.1 64.7l0.0 0.0M480.9 45.8l0.0 0.0M450.9 26.4l0.0 0.0M484.0 61.9l0.0 0.0M459.6 44.3l0.0 0.0M475.7 43.7l0.0 0.0M464.5 60.1l0.0 0.0M470.1 84.9l0.0 0.0M474.2 45.0l0.0 0.0M479.6 56.1l0.0 0.0M483.0 50.8l0.0 0.0M454.7 46.8l0.0 0.0M472.5 57.0l0.0 0.0M470.4 69.0l0.0 0.0M479.0 47.2l0.0 0.0M453.2 31.6l0.0 0.0M487.1 57.5l0.0 0.0M444.4 24.9l0.0 0.0M482.9 47.6l0.0 0.0M464.1 63.6l0.0 0.0M470.5 40.6l0.0 0.0M465.8 53.8l0.0 0.0M489.6 76.1l0.0 0.0M432.1 51.5l0.0 0.0M476.6 33.5l0.0 0.0M487.5 63.5l0.0 0.0M470.7 37.9l0.0 0.0M449.3 53.3l0.0 0.0M471.4 37.4l0.0 0.0M454.4 54.4l0.0 0.0M465.0 37.6l0.0 0.0M471.0 27.1l0.0 0.0M486.7 39.6l0.0 0.0M465.8 50.9l0.0 0.0M483.5 30.7l0.0 0.0M483.3 63.2l0.0 0.0M466.4 38.5l0.0 0.0M463.6 36.9l0.0 0.0M454.6 33.9l0.0 0.0M474.8 24.5l0.0 0.0M470.4 18.1l0.0 0.0M430.7 85.9l0.0 0.0M440.3 77.5l0.0 0.0M440.4 71.6l0.0 0.0M433.3 74.7l0.0 0.0M449.7 95.0l0.0 0.0M438.5 75.6l0.0 0.0M437.0 76.6l0.0 0.0M431.5 78.7l0.0 0.0M431.2 73.9l0.0 0.0M431.1 76.6l0.0 0.0M430.7 79.6l0.0 0.0M437.4 78.1l0.0 0.0M439.8 74.8l0.0 0.0M439.2 71.8l0.0 0.0M430.8 67.7l0.0 0.0M428.2 78.4l0.0 0.0M433.1 92.4l0.0 0.0M423.0 78.0l0.0 0.0M446.6 82.7l0.0 0.0M445.0 83.7l0.0 0.0M451.5 60.4l0.0 0.0M425.6 47.2l0.0 0.0M450.5 48.5l0.0 0.0M432.9 35.3l0.0 0.0M435.1 37.2l0.0 0.0M448.0 81.5l0.0 0.0M435.8 40.2l0.0 0.0M427.7 69.7l0.0 0.0M441.9 70.3l0.0 0.0M427.4 74.7l0.0 0.0" stroke="#6060a0" stroke-width="1.0" stroke-linecap="round" fill="none" stroke-opacity="0.5"/>
<path d="M461.5 62.5l0.0 0.0M448.0 51.9l0.0 0.0M489.9 42.6l0.0 0.0M459.1 30.7l0.0 0.0M464.7 71.9l0.0 0.0M471.2 39.6l0.0 0.0M461.8 39.0l0.0 0.0M473.6 31.1l0.0 0.0M465.3 57.1l0.0 0.0M482.2 53.3l0.0 0.0M475.9 54.3l0.0 0.0M454.0 36.2l0.0 0.0M434.4 80.5l0.0 0.0M447.2 86.4l0.0 0.0M439.6 84.7l0.0 0.0M447.0 83.1l0.0 0.0M427.8 64.5l0.0 0.0M438.5 21.1l0.0 0.0M467.2 81.4l0.0 0.0" stroke="#8080c0" stroke-width="0.75" stroke-linecap="round" fill="none" stroke-opacity="0.25"/>
<path d="M452.7 50.3l0.0 0.0M466.3 49.2l0.0 0.0M475.0 52.5l0.0 0.0M474.3 38.7l0.0 0.0M475.0 66.5l0.0 0.0M449.0 46.4l0.0 0.0M474.9 76.0l0.0 0.0M455.7 54.5l0.0 0.0M467.5 61.8l0.0 0.0M474.8 49.4l0.0 0.0M454.5 34.8l0.0 0.0M474.6 54.6l0.0 0.0M469.8 74.1l0.0 0.0M460.4 59.1l0.0 0.0M458.9 49.3l0.0 0.0M457.9 71.7l0.0 0.0M469.7 23.3l0.0 0.0M473.5 58.5l0.0 0.0M468.4 39.2l0.0 0.0M463.5 53.8l0.0 0.0M477.0 43.3l0.0 0.0M422.1 80.6l0.0 0.0M431.0 57.1l0.0 0.0M436.6 90.5l0.0 0.0M426.5 69.9l0.0 0.0" stroke="#9494c8" stroke-width="1.0" stroke-linecap="round" fill="none" stroke-opacity="0.25"/>
<path d="M466.8 56.5l0.0 0.0M471.0 65.1l0.0 0.0M466.5 56.7l0.0 0.0M459.9 35.6l0.0 0.0M474.6 46.1l0.0 0.0M469.7 58.4l0.0 0.0M477.5 82.8l0.0 0.0M463.1 42.0l0.0 0.0M476.0 47.3l0.0 0.0M445.2 43.1l0.0 0.0M436.5 88.9l0.0 0.0M437.5 81.5l0.0 0.0M432.1 65.9l0.0 0.0M430.1 90.4l0.0 0.0M437.3 67.9l0.0 0.0M431.5 85.9l0.0 0.0" stroke="#6e6eb0" stroke-width="0.75" stroke-linecap="round" fill="none" stroke-opacity="0.75"/>
<path d="M459.5 57.0l0.0 0.0M472.7 51.6l0.0 0.0M471.4 34.2l0.0 0.0M460.3 63.8l0.0 0.0M465.6 34.6l0.0 0.0M473.9 34.0l0.0 0.0M451.7 62.6l0.0 0.0M451.6 63.1l0.0 0.0M432.0 78.2l0.0 0.0M428.5 82.9l0.0 0.0" stroke="#9494c8" stroke-width="0.75" stroke-linecap="round" fill="none" stroke-opacity="0.75"/>
<path d="M461.3 70.6l0.0 0.0M487.1 61.1l0.0 0.0M470.8 54.3l0.0 0.0M470.1 51.5l0.0 0.0M480.5 65.2l0.0 0.0M454.5 48.2l0.0 0.0M471.3 52.0l0.0 0.0M467.6 54.8l0.0 0.0M452.4 47.9l0.0 0.0M463.9 35.9l0.0 0.0M454.5 72.9l0.0 0.0M479.0 65.8l0.0 0.0M459.5 30.1l0.0 0.0M466.4 33.3l0.0 0.0M475.3 74.4l0.0 0.0M470.1 27.9l0.0 0.0M471.0 63.3l0.0 0.0M458.0 58.0l0.0 0.0M477.7 49.0l0.0 0.0M458.1 53.8l0.0 0.0M473.6 54.4l0.0 0.0M465.3 69.2l0.0 0.0M466.1 61.6l0.0 0.0M467.8 65.4l0.0 0.0M479.1 67.3l0.0 0.0M454.9 54.8l0.0 0.0M469.2 57.5l0.0 0.0M466.1 50.6l0.0 0.0M476.8 56.2l0.0 0.0M468.4 65.8l0.0 0.0M452.1 34.1l0.0 0.0M476.0 54.9l0.0 0.0M460.4 65.5l0.0 0.0M489.8 64.3l0.0 0.0M441.7 34.1l0.0 0.0M465.3 35.4l0.0 0.0M476.0 48.1l0.0 0.0M480.6 34.6l0.0 0.0M438.2 88.8l0.0 0.0M425.7 87.6l0.0 0.0M442.2 96.4l0.0 0.0M438.7 73.0l0.0 0.0M428.9 83.6l0.0 0.0M444.2 86.7l0.0 0.0M430.0 80.5l0.0 0.0M428.4 82.6l0.0 0.0M432.8 80.7l0.0 0.0M446.1 74.8l0.0 0.0M440.7 80.1l0.0 0.0M425.5 94.6l0.0 0.0M426.7 79.6l0.0 0.0M470.7 49.5l0.0 0.0M442.6 47.5l0.0 0.0M446.2 67.2l0.0 0.0M446.4 93.8l0.0 0.0M426.4 75.3l0.0 0.0M457.0 64.1l0.0 0.0M443.9 38.0l0.0 0.0" stroke="#7078b0" stroke-width="0.75" stroke-linecap="round" fill="none" stroke-opacity="0.5"/>
<path d="M466.0 80.7l0.0 0.0M456.5 47.8l0.0 0.0M474.2 44.3l0.0 0.0M471.5 37.9l0.0 0.0M481.0 16.2l0.0 0.0M444.6 83.3l0.0 0.0M433.3 75.6l0.0 0.0M433.7 86.7l0.0 0.0M437.0 79.7l0.0 0.0M442.0 95.5l0.0 0.0M476.9 67.6l0.0 0.0" stroke="#8e8ec4" stroke-width="0.75" stroke-linecap="round" fill="none" stroke-opacity="0.25"/>
<path d="M473.1 69.1l0.0 0.0M462.4 47.3l0.0 0.0M468.6 61.1l0.0 0.0M460.7 56.5l0.0 0.0M480.8 70.5l0.0 0.0M487.7 36.5l0.0 0.0M426.0 69.6l0.0 0.0M426.4 72.8l0.0 0.0M433.6 71.3l0.0 0.0M447.0 77.8l0.0 0.0M423.1 68.7l0.0 0.0M435.2 80.5l0.0 0.0" stroke="#9494c8" stroke-width="1.0" stroke-linecap="round" fill="none" stroke-opacity="0.75"/>
<path d="M471.8 43.6l0.0 0.0M451.8 51.3l0.0 0.0M458.5 77.1l0.0 0.0M461.3 23.5l0.0 0.0M459.7 36.8l0.0 0.0M477.5 46.7l0.0 0.0M467.3 44.1l0.0 0.0M468.9 41.6l0.0 0.0M465.4 40.9l0.0 0.0M462.7 81.6l0.0 0.0M458.4 36.8l0.0 0.0M474.9 60.5l0.0 0.0M483.2 32.0l0.0 0.0M483.4 36.0l0.0 0.0M472.1 38.4l0.0 0.0M458.9 40.5l0.0 0.0M448.8 80.9l0.0 0.0M440.8 74.1l0.0 0.0M430.7 80.2l0.0 0.0M441.9 69.8l0.0 0.0M438.9 64.0l0.0 0.0" stroke="#6060a0" stroke-width="1.0" stroke-linecap="round" fill="none" stroke-opacity="0.25"/>
<path d="M457.7 44.8l0.0 0.0M474.8 45.8l0.0 0.0M466.8 40.3l0.0 0.0M475.4 40.6l0.0 0.0M490.3 64.7l0.0 0.0M479.2 40.3l0.0 0.0M488.7 41.9l0.0 0.0M468.8 63.6l0.0 0.0M454.6 57.0l0.0 0.0M458.0 46.2l0.0 0.0M469.8 48.5l0.0 0.0M465.4 28.6l0.0 0.0M472.9 51.9l0.0 0.0M472.7 55.1l0.0 0.0M471.6 54.1l0.0 0.0M440.7 61.3l0.0 0.0M485.1 44.9l0.0 0.0M471.2 47.8l0.0 0.0M466.8 45.9l0.0 0.0M476.7 38.2l0.0 0.0M486.9 59.3l0.0 0.0M486.3 58.9l0.0 0.0M481.0 51.1l0.0 0.0M448.7 95.1l0.0 0.0M476.2 53.5l0.0 0.0M464.7 55.4l0.0 0.0M481.9 48.3l0.0 0.0M469.2 76.1l0.0 0.0M454.2 49.1l0.0 0.0M460.7 31.5l0.0 0.0M491.1 66.6l0.0 0.0M462.2 39.1l0.0 0.0M475.5 67.9l0.0 0.0M446.5 66.9l0.0 0.0M469.5 43.4l0.0 0.0M474.0 42.0l0.0 0.0M451.7 21.8l0.0 0.0M426.7 86.3l0.0 0.0M436.1 79.0l0.0 0.0M439.1 78.2l0.0 0.0M427.2 71.5l0.0 0.0M436.3 74.3l0.0 0.0M431.5 73.6l0.0 0.0M440.6 86.4l0.0 0.0M431.8 72.9l0.0 0.0M450.6 78.9l0.0 0.0M432.0 87.0l0.0 0.0M432.9 90.0l0.0 0.0M440.3 80.8l0.0 0.0M446.3 74.5l0.0 0.0M433.1 85.7l0.0 0.0M428.9 67.1l0.0 0.0M432.3 71.4l0.0 0.0M453.7 82.7l0.0 0.0M449.5 84.6l0.0 0.0M433.9 28.5l0.0 0.0M447.8 60.5l0.0 0.0M458.9 93.9l0.0 0.0M435.0 37.3l0.0 0.0M460.5 44.7l0.0 0.0M433.2 58.2l0.0 0.0" stroke="#8e8ec4" stroke-width="0.75" stroke-linecap="round" fill="none" stroke-opacity="0.5"/>
<path d="M453.2 58.7l0.0 0.0M452.8 39.0l0.0 0.0M462.6 65.7l0.0 0.0M473.7 41.2l0.0 0.0" stroke="#9494c8" stroke-width="1.25" stroke-linecap="round" fill="none" stroke-opacity="0.75"/>
<path d="M475.2 67.4l0.0 0.0M463.0 76.7l0.0 0.0M476.7 49.8l0.0 0.0M464.3 35.3l0.0 0.0M452.4 57.6l0.0 0.0M441.3 81.0l0.0 0.0M443.1 49.6l0.0 0.0" stroke="#6e6eb0" stroke-width="1.25" stroke-linecap="round" fill="none" stroke-opacity="0.25"/>
<path d="M455.6 78.9l0.0 0.0M478.2 38.7l0.0 0.0M461.3 73.9l0.0 0.0M464.0 78.8l0.0 0.0M458.7 64.3l0.0 0.0M472.0 39.5l0.0 0.0M431.8 74.2l0.0 0.0M441.6 73.8l0.0 0.0" stroke="#8080c0" stroke-width="1.25" stroke-linecap="round" fill="none" stroke-opacity="0.25"/>
<path d="M473.3 49.5l0.0 0.0M483.6 60.3l0.0 0.0M471.5 48.8l0.0 0.0M456.7 68.8l0.0 0.0M458.7 56.8l0.0 0.0M486.5 33.4l0.0 0.0M449.9 32.8l0.0 0.0M473.7 63.9l0.0 0.0M479.7 62.4l0.0 0.0M461.7 74.5l0.0 0.0M480.7 60.2l0.0 0.0M456.5 63.5l0.0 0.0M477.8 74.0l0.0 0.0M478.7 19.3l0.0 0.0M460.1 22.1l0.0 0.0M468.9 48.3l0.0 0.0M473.3 30.3l0.0 0.0M459.8 47.8l0.0 0.0M468.0 28.6l0.0 0.0M485.3 34.5l0.0 0.0M459.9 33.2l0.0 0.0M458.3 17.6l0.0 0.0M445.3 75.4l0.0 0.0M437.2 88.6l0.0 0.0M429.3 83.4l0.0 0.0M448.5 59.0l0.0 0.0" stroke="#7078b0" stroke-width="0.75" stroke-linecap="round" fill="none" stroke-opacity="0.25"/>
<path d="M480.1 59.9l0.0 0.0M477.5 56.0l0.0 0.0M475.8 48.5l0.0 0.0M482.7 69.4l0.0 0.0M463.3 89.8l0.0 0.0M462.7 55.2l0.0 0.0M462.8 63.1l0.0 0.0M468.0 38.6l0.0 0.0M447.7 39.4l0.0 0.0M457.3 36.8l0.0 0.0M447.2 59.0l0.0 0.0M478.2 62.8l0.0 0.0M463.9 50.6l0.0 0.0M483.6 55.6l0.0 0.0M490.3 66.3l0.0 0.0M474.0 48.8l0.0 0.0M453.1 51.2l0.0 0.0M447.9 42.5l0.0 0.0M463.5 58.2l0.0 0.0M465.7 77.3l0.0 0.0M476.5 64.7l0.0 0.0M482.7 21.6l0.0 0.0M450.1 56.6l0.0 0.0M459.6 60.3l0.0 0.0M453.9 42.5l0.0 0.0M484.1 68.5l0.0 0.0M458.6 33.8l0.0 0.0M479.7 29.1l0.0 0.0M474.1 31.9l0.0 0.0M461.0 53.3l0.0 0.0M456.1 38.9l0.0 0.0M481.5 34.2l0.0 0.0M468.2 16.9l0.0 0.0M483.6 34.5l0.0 0.0M467.8 37.3l0.0 0.0M458.4 50.8l0.0 0.0M434.7 79.6l0.0 0.0M432.8 75.4l0.0 0.0M427.0 78.4l0.0 0.0M434.4 76.6l0.0 0.0M444.1 78.9l0.0 0.0M426.9 76.5l0.0 0.0M432.2 84.0l0.0 0.0M441.1 89.2l0.0 0.0M436.0 40.1l0.0 0.0M438.2 46.8l0.0 0.0M440.8 65.7l0.0 0.0M423.9 45.1l0.0 0.0M432.4 64.9l0.0 0.0M433.0 18.5l0.0 0.0M446.5 57.3l0.0 0.0" stroke="#9494c8" stroke-width="0.75" stroke-linecap="round" fill="none" stroke-opacity="0.5"/>
<path d="M484.2 57.6l0.0 0.0M469.6 55.0l0.0 0.0M455.1 38.2l0.0 0.0M464.2 67.2l0.0 0.0M461.4 52.1l0.0 0.0M465.5 47.6l0.0 0.0M475.7 42.4l0.0 0.0M434.5 92.0l0.0 0.0M442.3 60.7l0.0 0.0M452.1 65.5l0.0 0.0" stroke="#7078b0" stroke-width="1.25" stroke-linecap="round" fill="none" stroke-opacity="0.25"/>
<path d="M483.6 40.1l0.0 0.0M486.2 34.2l0.0 0.0M467.2 76.7l0.0 0.0M466.5 53.0l0.0 0.0M456.7 47.3l0.0 0.0M459.3 80.4l0.0 0.0M439.9 54.2l0.0 0.0M434.7 80.3l0.0 0.0M427.0 91.0l0.0 0.0M446.0 72.7l0.0 0.0" stroke="#6060a0" stroke-width="0.75" stroke-linecap="round" fill="none" stroke-opacity="0.75"/>
<path d="M464.6 59.3l0.0 0.0M466.3 46.4l0.0 0.0M463.6 40.6l0.0 0.0M469.6 70.3l0.0 0.0M470.1 69.0l0.0 0.0M490.3 63.3l0.0 0.0M459.7 65.2l0.0 0.0M472.6 31.3l0.0 0.0M465.1 46.8l0.0 0.0M486.6 51.2l0.0 0.0M474.1 66.0l0.0 0.0M463.3 43.0l0.0 0.0M489.5 49.5l0.0 0.0M441.2 91.9l0.0 0.0M427.4 95.8l0.0 0.0" stroke="#8080c0" stroke-width="0.75" stroke-linecap="round" fill="none" stroke-opacity="0.75"/>
<path d="M457.9 30.4l0.0 0.0M442.9 39.8l0.0 0.0M460.6 67.7l0.0 0.0M459.7 52.1l0.0 0.0M471.2 43.5l0.0 0.0M481.7 19.9l0.0 0.0M458.2 63.3l0.0 0.0M452.4 50.9l0.0 0.0M456.9 44.4l0.0 0.0M466.0 54.3l0.0 0.0M473.8 54.5l0.0 0.0M466.3 25.8l0.0 0.0M475.2 27.1l0.0 0.0M473.5 66.5l0.0 0.0M481.9 49.1l0.0 0.0M436.8 62.6l0.0 0.0M456.0 43.8l0.0 0.0M466.9 60.6l0.0 0.0M461.4 33.1l0.0 0.0M462.0 55.5l0.0 0.0M476.1 57.0l0.0 0.0M455.7 24.4l0.0 0.0M478.1 54.7l0.0 0.0M478.4 72.7l0.0 0.0M467.0 27.2l0.0 0.0M454.6 62.6l0.0 0.0M467.9 44.6l0.0 0.0M455.9 51.7l0.0 0.0M482.8 42.1l0.0 0.0M464.7 38.0l0.0 0.0M472.8 59.2l0.0 0.0M467.3 45.9l0.0 0.0M472.9 64.4l0.0 0.0M477.0 30.2l0.0 0.0M468.8 76.5l0.0 0.0M466.0 82.8l0.0 0.0M450.4 72.9l0.0 0.0M475.8 16.0l0.0 0.0M477.2 31.1l0.0 0.0M476.0 37.2l0.0 0.0M472.7 39.6l0.0 0.0M463.5 28.5l0.0 0.0M434.0 77.1l0.0 0.0M448.7 84.7l0.0 0.0M439.4 88.3l0.0 0.0M439.3 79.6l0.0 0.0M441.9 78.9l0.0 0.0M432.4 86.6l0.0 0.0M430.6 74.4l0.0 0.0M439.5 86.8l0.0 0.0M441.2 80.6l0.0 0.0M426.2 56.4l0.0 0.0M427.2 89.5l0.0 0.0M426.5 74.7l0.0 0.0M436.1 78.0l0.0 0.0M422.2 87.9l0.0 0.0M427.4 74.5l0.0 0.0M434.7 83.1l0.0 0.0M445.2 38.6l0.0 0.0M429.7 58.9l0.0 0.0M422.6 60.4l0.0 0.0M436.9 49.5l0.0 0.0" stroke="#6060a0" stroke-width="0.75" stroke-linecap="round" fill="none" stroke-opacity="0.5"/>
<path d="M480.3 68.2l0.0 0.0M454.7 50.1l0.0 0.0M468.8 60.4l0.0 0.0M438.6 76.0l0.0 0.0" stroke="#8e8ec4" stroke-width="0.75" stroke-linecap="round" fill="none" stroke-opacity="0.75"/>
<path d="M455.8 68.7l0.0 0.0M451.3 49.0l0.0 0.0M465.1 72.1l0.0 0.0M459.9 42.6l0.0 0.0M486.6 37.2l0.0 0.0M446.2 50.2l0.0 0.0M479.2 56.5l0.0 0.0M466.8 48.7l0.0 0.0M474.4 53.8l0.0 0.0M467.6 63.2l0.0 0.0M469.6 21.9l0.0 0.0M449.5 55.2l0.0 0.0M455.3 35.3l0.0 0.0M432.1 78.0l0.0 0.0M434.5 71.7l0.0 0.0M425.9 86.5l0.0 0.0M443.2 71.6l0.0 0.0M424.4 92.1l0.0 0.0M444.2 77.6l0.0 0.0M455.1 57.1l0.0 0.0M452.5 25.6l0.0 0.0" stroke="#7078b0" stroke-width="1.25" stroke-linecap="round" fill="none" stroke-opacity="0.5"/>
<path d="M467.5 64.4l0.0 0.0M442.9 39.3l0.0 0.0M459.8 50.3l0.0 0.0M483.4 41.8l0.0 0.0M474.2 37.4l0.0 0.0M460.9 73.0l0.0 0.0M463.2 52.1l0.0 0.0M461.7 78.1l0.0 0.0M477.3 23.8l0.0 0.0M483.2 26.5l0.0 0.0M474.2 56.8l0.0 0.0M453.8 64.3l0.0 0.0M464.7 54.2l0.0 0.0M441.9 85.0l0.0 0.0" stroke="#6e6eb0" stroke-width="1.0" stroke-linecap="round" fill="none" stroke-opacity="0.75"/>
<path d="M471.1 20.8l0.0 0.0M475.0 77.6l0.0 0.0M478.8 59.9l0.0 0.0M457.8 61.0l0.0 0.0M478.7 77.5l0.0 0.0M474.5 50.3l0.0 0.0M449.3 74.8l0.0 0.0M461.5 29.9l0.0 0.0M462.9 84.5l0.0 0.0M468.2 64.7l0.0 0.0M476.8 56.2l0.0 0.0M468.6 34.4l0.0 0.0M469.3 44.4l0.0 0.0M473.6 37.4l0.0 0.0M465.4 41.0l0.0 0.0M479.0 29.3l0.0 0.0M431.3 79.1l0.0 0.0M422.1 83.8l0.0 0.0M431.2 80.0l0.0 0.0M449.4 49.7l0.0 0.0M431.0 74.1l0.0 0.0M438.2 67.5l0.0 0.0M442.8 88.6l0.0 0.0M434.6 67.0l0.0 0.0" stroke="#6e6eb0" stroke-width="0.75" stroke-linecap="round" fill="none" stroke-opacity="0.25"/>
<path d="M472.2 47.9l0.0 0.0M450.1 45.0l0.0 0.0M460.2 32.9l0.0 0.0M474.5 67.6l0.0 0.0M465.6 62.5l0.0 0.0M460.2 34.2l0.0 0.0M457.7 53.3l0.0 0.0M464.5 44.1l0.0 0.0M474.5 54.4l0.0 0.0M477.3 39.6l0.0 0.0M451.5 34.8l0.0 0.0M460.0 55.1l0.0 0.0M468.7 39.4l0.0 0.0M471.1 24.4l0.0 0.0M469.7 44.9l0.0 0.0M456.6 30.8l0.0 0.0M448.7 19.3l0.0 0.0M465.0 40.0l0.0 0.0M464.2 29.9l0.0 0.0M444.2 83.9l0.0 0.0M440.0 78.8l0.0 0.0M435.7 91.1l0.0 0.0M424.8 63.5l0.0 0.0" stroke="#8e8ec4" stroke-width="1.0" stroke-linecap="round" fill="none" stroke-opacity="0.25"/>
<path d="M448.7 72.2l0.0 0.0M483.0 69.8l0.0 0.0M479.9 39.6l0.0 0.0M479.8 60.6l0.0 0.0M477.3 27.7l0.0 0.0M469.9 40.7l0.0 0.0M472.1 78.4l0.0 0.0M441.6 63.2l0.0 0.0M481.7 53.7l0.0 0.0M467.8 44.8l0.0 0.0M468.3 44.6l0.0 0.0M467.8 45.4l0.0 0.0M458.9 36.8l0.0 0.0M460.7 31.1l0.0 0.0M432.0 81.7l0.0 0.0M433.3 85.3l0.0 0.0M429.9 78.4l0.0 0.0M429.8 89.3l0.0 0.0" stroke="#9494c8" stroke-width="0.75" stroke-linecap="round" fill="none" stroke-opacity="0.25"/>
<path d="M459.6 40.3l0.0 0.0M473.8 40.5l0.0 0.0M461.8 55.4l0.0 0.0M449.9 72.7l0.0 0.0M489.4 80.7l0.0 0.0M490.1 47.9l0.0 0.0M466.4 63.8l0.0 0.0M481.0 56.0l0.0 0.0M461.8 81.1l0.0 0.0M469.1 71.3l0.0 0.0M476.8 33.0l0.0 0.0M483.8 53.4l0.0 0.0M476.8 31.1l0.0 0.0M465.8 69.4l0.0 0.0M456.9 53.3l0.0 0.0M476.7 33.9l0.0 0.0M472.4 26.7l0.0 0.0M462.2 20.3l0.0 0.0M476.3 49.4l0.0 0.0M426.9 78.8l0.0 0.0M432.0 96.5l0.0 0.0M435.3 77.5l0.0 0.0M440.0 84.7l0.0 0.0M428.9 87.9l0.0 0.0M435.8 72.9l0.0 0.0M441.3 50.0l0.0 0.0M460.2 63.2l0.0 0.0M457.4 69.2l0.0 0.0M455.7 25.8l0.0 0.0M439.1 73.5l0.0 0.0M456.2 83.5l0.0 0.0" stroke="#6060a0" stroke-width="1.25" stroke-linecap="round" fill="none" stroke-opacity="0.5"/>
<path d="M463.9 41.7l0.0 0.0M451.1 58.4l0.0 0.0M447.9 47.0l0.0 0.0M469.4 59.9l0.0 0.0M427.6 88.4l0.0 0.0M441.5 88.1l0.0 0.0" stroke="#7078b0" stroke-width="1.25" stroke-linecap="round" fill="none" stroke-opacity="0.75"/>
<path d="M473.9 74.2l0.0 0.0M481.7 56.5l0.0 0.0M483.8 49.2l0.0 0.0M475.3 45.9l0.0 0.0M472.8 73.0l0.0 0.0M470.8 62.5l0.0 0.0M458.7 39.3l0.0 0.0M456.0 60.2l0.0 0.0M446.0 32.2l0.0 0.0M487.4 60.3l0.0 0.0M475.0 52.3l0.0 0.0M475.8 62.9l0.0 0.0M458.5 19.2l0.0 0.0M447.2 41.1l0.0 0.0M438.6 77.0l0.0 0.0M431.9 82.1l0.0 0.0M452.3 81.5l0.0 0.0M428.5 67.1l0.0 0.0M442.8 33.7l0.0 0.0" stroke="#6e6eb0" stroke-width="1.25" stroke-linecap="round" fill="none" stroke-opacity="0.5"/>
<path d="M479.5 62.7l0.0 0.0M469.6 49.6l0.0 0.0M477.2 49.3l0.0 0.0M475.2 42.8l0.0 0.0M469.6 36.7l0.0 0.0M474.6 70.8l0.0 0.0M459.3 39.3l0.0 0.0M441.3 62.7l0.0 0.0M456.5 39.6l0.0 0.0M471.6 59.3l0.0 0.0M480.1 41.1l0.0 0.0M437.2 85.9l0.0 0.0M428.7 85.9l0.0 0.0M434.2 72.6l0.0 0.0M430.9 72.9l0.0 0.0" stroke="#8080c0" stroke-width="1.0" stroke-linecap="round" fill="none" stroke-opacity="0.75"/>
<path d="M450.1 20.7l0.0 0.0M476.7 66.5l0.0 0.0M468.6 67.2l0.0 0.0M480.1 42.4l0.0 0.0M450.4 85.8l0.0 0.0M435.5 77.5l0.0 0.0M447.9 85.9l0.0 0.0M432.3 78.3l0.0 0.0M434.9 59.7l0.0 0.0M427.0 39.7l0.0 0.0M460.5 33.1l0.0 0.0M441.8 89.7l0.0 0.0M426.6 40.2l0.0 0.0" stroke="#8e8ec4" stroke-width="1.25" stroke-linecap="round" fill="none" stroke-opacity="0.25"/>
<path d="M476.7 45.6l0.0 0.0M466.9 54.5l0.0 0.0M473.5 44.1l0.0 0.0M452.6 60.9l0.0 0.0M459.5 26.4l0.0 0.0M464.3 58.0l0.0 0.0M463.1 53.2l0.0 0.0M488.8 49.4l0.0 0.0M458.4 60.6l0.0 0.0M462.8 79.4l0.0 0.0M471.2 54.4l0.0 0.0M460.7 45.4l0.0 0.0M482.6 33.9l0.0 0.0M471.5 36.9l0.0 0.0M465.8 43.0l0.0 0.0M469.0 53.7l0.0 0.0M477.3 31.9l0.0 0.0M427.4 82.5l0.0 0.0M434.2 92.3l0.0 0.0M442.5 96.9l0.0 0.0M433.0 71.3l0.0 0.0M436.4 92.3l0.0 0.0M422.6 89.9l0.0 0.0M461.4 68.7l0.0 0.0M435.2 56.2l0.0 0.0M470.6 31.6l0.0 0.0" stroke="#7078b0" stroke-width="1.0" stroke-linecap="round" fill="none" stroke-opacity="0.25"/>
<path d="M482.9 55.4l0.0 0.0M465.2 42.4l0.0 0.0M475.1 74.4l0.0 0.0M481.1 67.3l0.0 0.0M454.4 60.3l0.0 0.0M468.3 42.9l0.0 0.0M472.0 56.0l0.0 0.0M472.9 58.1l0.0 0.0M454.3 78.6l0.0 0.0M459.4 42.0l0.0 0.0M470.7 42.7l0.0 0.0M465.5 16.7l0.0 0.0M463.7 37.5l0.0 0.0M478.4 16.1l0.0 0.0M471.2 46.9l0.0 0.0M477.5 24.0l0.0 0.0M440.2 81.6l0.0 0.0M432.5 86.6l0.0 0.0M433.8 77.2l0.0 0.0M442.0 50.6l0.0 0.0" stroke="#6e6eb0" stroke-width="1.0" stroke-linecap="round" fill="none" stroke-opacity="0.25"/>
<path d="M474.6 53.8l0.0 0.0M469.7 51.6l0.0 0.0M481.3 72.0l0.0 0.0M448.6 72.4l0.0 0.0M465.2 24.7l0.0 0.0M467.5 29.0l0.0 0.0M451.6 29.1l0.0 0.0M435.2 74.9l0.0 0.0" stroke="#6060a0" stroke-width="1.25" stroke-linecap="round" fill="none" stroke-opacity="0.25"/>
<path d="M450.8 69.1l0.0 0.0M482.1 54.7l0.0 0.0M482.0 36.5l0.0 0.0M469.8 47.5l0.0 0.0M432.1 83.7l0.0 0.0M443.8 85.8l0.0 0.0" stroke="#8080c0" stroke-width="1.25" stroke-linecap="round" fill="none" stroke-opacity="0.75"/>
<path d="M461.4 47.7l0.0 0.0M464.0 46.5l0.0 0.0M454.7 27.7l0.0 0.0M482.1 74.0l0.0 0.0M463.4 63.5l0.0 0.0M477.4 22.7l0.0 0.0M443.8 45.9l0.0 0.0M454.3 96.7l0.0 0.0M443.6 96.9l0.0 0.0M446.7 77.9l0.0 0.0M426.5 75.9l0.0 0.0M440.0 66.8l0.0 0.0M457.5 79.2l0.0 0.0M446.7 67.6l0.0 0.0M440.8 54.9l0.0 0.0M436.3 54.3l0.0 0.0M434.3 30.5l0.0 0.0" stroke="#8080c0" stroke-width="1.25" stroke-linecap="round" fill="none" stroke-opacity="0.5"/>
<path d="M455.3 56.0l0.0 0.0M444.8 22.7l0.0 0.0M489.8 33.6l0.0 0.0M467.6 39.0l0.0 0.0M471.7 48.0l0.0 0.0M454.3 49.5l0.0 0.0M459.3 81.6l0.0 0.0M473.6 79.4l0.0 0.0M462.5 43.5l0.0 0.0M456.0 49.3l0.0 0.0M486.0 62.1l0.0 0.0M478.9 61.7l0.0 0.0M424.2 86.7l0.0 0.0M434.1 78.7l0.0 0.0M428.3 80.7l0.0 0.0M438.9 81.4l0.0 0.0M429.4 78.8l0.0 0.0M463.0 24.0l0.0 0.0M438.9 45.4l0.0 0.0" stroke="#8e8ec4" stroke-width="1.25" stroke-linecap="round" fill="none" stroke-opacity="0.5"/>
<path d="M479.0 37.5l0.0 0.0M455.6 66.0l0.0 0.0M479.9 51.4l0.0 0.0M476.0 36.7l0.0 0.0M461.8 62.3l0.0 0.0M457.2 71.7l0.0 0.0M475.8 61.9l0.0 0.0M443.4 97.7l0.0 0.0M434.0 79.2l0.0 0.0M431.1 91.2l0.0 0.0" stroke="#7078b0" stroke-width="1.0" stroke-linecap="round" fill="none" stroke-opacity="0.75"/>
<path d="M471.9 54.2l0.0 0.0M486.5 51.8l0.0 0.0M440.8 89.3l0.0 0.0M428.0 87.6l0.0 0.0" stroke="#8e8ec4" stroke-width="1.25" stroke-linecap="round" fill="none" stroke-opacity="0.75"/>
<path d="M441.9 76.1l0.0 0.0M474.1 38.1l0.0 0.0M467.7 79.2l0.0 0.0M477.9 55.8l0.0 0.0M459.3 55.3l0.0 0.0M457.3 42.4l0.0 0.0M456.9 47.9l0.0 0.0M475.2 62.9l0.0 0.0M484.2 69.5l0.0 0.0M480.3 58.0l0.0 0.0M473.9 48.5l0.0 0.0M471.3 58.9l0.0 0.0M449.6 39.8l0.0 0.0M466.6 47.3l0.0 0.0M452.3 40.7l0.0 0.0M452.0 28.1l0.0 0.0M465.5 57.6l0.0 0.0M483.8 30.1l0.0 0.0M426.6 71.5l0.0 0.0M446.3 80.8l0.0 0.0M432.0 64.5l0.0 0.0" stroke="#9494c8" stroke-width="1.25" stroke-linecap="round" fill="none" stroke-opacity="0.5"/>
<path d="M469.0 53.0l0.0 0.0M438.5 40.7l0.0 0.0M491.5 61.3l0.0 0.0M463.7 34.5l0.0 0.0M460.7 47.3l0.0 0.0M455.6 26.2l0.0 0.0M446.6 97.6l0.0 0.0M443.3 88.1l0.0 0.0" stroke="#9494c8" stroke-width="1.25" stroke-linecap="round" fill="none" stroke-opacity="0.25"/>
<path d="M453.3 82.3l0.0 0.0M460.4 40.3l0.0 0.0M476.5 63.8l0.0 0.0M464.6 55.7l0.0 0.0M472.6 41.9l0.0 0.0M464.9 42.9l0.0 0.0M489.2 43.8l0.0 0.0M469.2 19.3l0.0 0.0M455.5 51.2l0.0 0.0M467.1 31.5l0.0 0.0M480.6 71.8l0.0 0.0M468.6 65.6l0.0 0.0M472.9 64.5l0.0 0.0M431.0 89.6l0.0 0.0M430.4 81.9l0.0 0.0M446.7 86.1l0.0 0.0M429.3 84.0l0.0 0.0M431.1 78.0l0.0 0.0" stroke="#8e8ec4" stroke-width="1.0" stroke-linecap="round" fill="none" stroke-opacity="0.75"/>
<path d="M472.2 24.4l0.0 0.0M449.5 86.9l0.0 0.0M463.6 61.5l0.0 0.0M423.4 78.2l0.0 0.0" stroke="#6060a0" stroke-width="1.25" stroke-linecap="round" fill="none" stroke-opacity="0.75"/>
<path d="M477.3 38.8l0.0 0.0M467.4 96.5l0.0 0.0M484.8 91.1l0.0 0.0M505.0 52.0l0.0 0.0M433.7 85.5l0.0 0.0M511.4 48.3l0.0 0.0M493.8 65.6l0.0 0.0M484.1 32.1l0.0 0.0M480.6 85.3l0.0 0.0M510.0 49.5l0.0 0.0M457.2 69.9l0.0 0.0" stroke="#bbbbd5" stroke-width="1.0" stroke-linecap="round" fill="none" stroke-opacity="0.5"/>
<path d="M467.3 67.4l0.0 0.0M469.6 39.3l0.0 0.0M471.7 43.3l0.0 0.0M455.2 58.4l0.0 0.0M471.5 62.5l0.0 0.0M489.9 46.8l0.0 0.0M436.2 73.6l0.0 0.0M491.8 94.2l0.0 0.0M466.7 79.6l0.0 0.0M432.0 31.3l0.0 0.0M426.5 37.0l0.0 0.0M511.3 62.6l0.0 0.0M490.1 81.8l0.0 0.0M431.3 81.7l0.0 0.0M433.5 97.7l0.0 0.0" stroke="#aaaacc" stroke-width="1.0" stroke-linecap="round" fill="none" stroke-opacity="0.5"/>
<path d="M490.6 23.3l0.0 0.0M490.4 51.3l0.0 0.0M513.9 28.5l0.0 0.0M445.8 55.2l0.0 0.0M452.2 39.9l0.0 0.0M471.9 87.2l0.0 0.0M501.4 45.7l0.0 0.0M463.6 60.5l0.0 0.0M459.1 74.9l0.0 0.0M483.0 46.1l0.0 0.0M446.2 88.3l0.0 0.0" stroke="#aaaacc" stroke-width="1.25" stroke-linecap="round" fill="none" stroke-opacity="0.5"/>
<path d="M462.0 46.7l0.0 0.0M463.6 41.8l0.0 0.0M454.5 87.7l0.0 0.0M461.9 49.2l0.0 0.0M475.5 33.8l0.0 0.0M432.6 25.8l0.0 0.0M468.4 81.1l0.0 0.0M426.9 18.7l0.0 0.0M461.3 48.6l0.0 0.0M460.2 27.7l0.0 0.0M488.0 71.7l0.0 0.0" stroke="#aaaacc" stroke-width="0.75" stroke-linecap="round" fill="none" stroke-opacity="0.5"/>
<path d="M455.8 42.1l0.0 0.0M473.0 70.1l0.0 0.0M486.8 60.1l0.0 0.0M429.0 18.5l0.0 0.0M471.6 45.8l0.0 0.0M460.4 29.1l0.0 0.0M484.5 48.7l0.0 0.0M493.9 47.3l0.0 0.0" stroke="#bbbbd5" stroke-width="1.0" stroke-linecap="round" fill="none" stroke-opacity="0.25"/>
<path d="M457.3 21.4l0.0 0.0M440.1 47.3l0.0 0.0M474.2 36.3l0.0 0.0" stroke="#aaaacc" stroke-width="0.75" stroke-linecap="round" fill="none" stroke-opacity="0.25"/>
<path d="M443.0 55.1l0.0 0.0M426.4 89.9l0.0 0.0M450.3 71.8l0.0 0.0M463.5 90.7l0.0 0.0M470.8 44.8l0.0 0.0M472.7 63.9l0.0 0.0M476.3 52.2l0.0 0.0M457.4 79.3l0.0 0.0M445.0 42.5l0.0 0.0M497.0 87.8l0.0 0.0M458.0 95.3l0.0 0.0" stroke="#bbbbd5" stroke-width="0.75" stroke-linecap="round" fill="none" stroke-opacity="0.5"/>
<path d="M488.5 81.7l0.0 0.0M429.0 25.7l0.0 0.0M455.3 15.0l0.0 0.0M457.4 66.0l0.0 0.0" stroke="#bbbbd5" stroke-width="1.25" stroke-linecap="round" fill="none" stroke-opacity="0.5"/>
<path d="M475.8 61.3l0.0 0.0M449.2 92.7l0.0 0.0M479.5 31.0l0.0 0.0M466.3 71.3l0.0 0.0" stroke="#aaaacc" stroke-width="1.0" stroke-linecap="round" fill="none" stroke-opacity="0.25"/>
<path d="M505.8 67.2l0.0 0.0M489.0 73.2l0.0 0.0" stroke="#bbbbd5" stroke-width="0.75" stroke-linecap="round" fill="none" stroke-opacity="0.25"/>
<path d="M431.9 152.5l0.0 0.0M436.4 175.3l0.0 0.0M428.7 141.6l0.0 0.0M430.5 160.6l0.0 0.0M428.0 151.2l0.0 0.0M432.8 152.1l0.0 0.0M437.7 173.0l0.0 0.0M425.9 166.5l0.0 0.0M430.3 167.3l0.0 0.0M429.1 146.0l0.0 0.0M423.5 162.2l0.0 0.0M429.1 159.9l0.0 0.0M434.1 153.2l0.0 0.0M433.5 185.1l0.0 0.0M436.6 158.1l0.0 0.0M424.2 155.4l0.0 0.0M429.9 147.6l0.0 0.0M423.7 165.7l0.0 0.0M434.6 185.9l0.0 0.0M426.5 165.4l0.0 0.0M432.1 163.5l0.0 0.0M422.0 150.7l0.0 0.0M437.2 156.2l0.0 0.0M436.2 132.0l0.0 0.0M427.8 141.6l0.0 0.0M432.0 164.9l0.0 0.0M431.2 183.3l0.0 0.0M430.5 165.1l0.0 0.0M432.4 183.0l0.0 0.0M432.4 134.8l0.0 0.0M435.9 150.3l0.0 0.0M427.6 178.0l0.0 0.0M437.6 161.6l0.0 0.0M434.8 132.2l0.0 0.0M429.2 175.7l0.0 0.0" stroke="#6a78a8" stroke-width="1.0" stroke-linecap="round" fill="none" stroke-opacity="0.75"/>
<path d="M430.4 185.0l0.0 0.0M432.3 123.2l0.0 0.0M428.8 164.1l0.0 0.0M431.1 167.5l0.0 0.0M433.5 177.4l0.0 0.0M424.3 169.1l0.0 0.0M430.6 182.4l0.0 0.0M427.4 155.6l0.0 0.0M428.6 173.2l0.0 0.0M428.2 174.9l0.0 0.0M426.3 142.5l0.0 0.0M433.2 178.3l0.0 0.0M430.8 151.8l0.0 0.0M424.5 137.5l0.0 0.0M428.6 173.5l0.0 0.0M425.3 151.5l0.0 0.0M422.3 173.9l0.0 0.0M434.3 161.7l0.0 0.0M427.9 148.9l0.0 0.0M430.7 164.6l0.0 0.0M432.2 173.9l0.0 0.0M437.0 135.3l0.0 0.0M429.8 159.4l0.0 0.0M426.2 174.9l0.0 0.0M425.8 164.0l0.0 0.0M433.3 153.7l0.0 0.0M434.1 146.9l0.0 0.0M431.1 150.7l0.0 0.0" stroke="#6a7a9a" stroke-width="0.75" stroke-linecap="round" fill="none" stroke-opacity="0.75"/>
<path d="M422.5 158.1l0.0 0.0M429.6 139.8l0.0 0.0M424.6 176.8l0.0 0.0M431.7 173.0l0.0 0.0M430.7 161.0l0.0 0.0M426.2 146.9l0.0 0.0M437.3 143.0l0.0 0.0M428.6 158.8l0.0 0.0M428.1 158.7l0.0 0.0M437.7 173.2l0.0 0.0M434.2 163.7l0.0 0.0M429.8 148.7l0.0 0.0M433.5 167.4l0.0 0.0M438.2 175.4l0.0 0.0M437.6 160.0l0.0 0.0M436.3 161.1l0.0 0.0M432.7 147.0l0.0 0.0M430.4 174.3l0.0 0.0M432.4 152.4l0.0 0.0M433.6 164.7l0.0 0.0M425.2 144.5l0.0 0.0M434.9 180.9l0.0 0.0M430.4 139.9l0.0 0.0" stroke="#8090b0" stroke-width="0.75" stroke-linecap="round" fill="none" stroke-opacity="0.75"/>
<path d="M435.5 163.7l0.0 0.0M428.0 193.9l0.0 0.0M428.1 158.9l0.0 0.0M428.4 170.0l0.0 0.0M427.2 135.5l0.0 0.0M423.9 154.3l0.0 0.0M432.6 163.8l0.0 0.0M422.0 146.9l0.0 0.0M434.7 158.4l0.0 0.0M438.5 174.1l0.0 0.0M426.1 183.2l0.0 0.0M428.4 166.7l0.0 0.0M425.8 164.7l0.0 0.0M425.9 147.7l0.0 0.0M435.5 160.2l0.0 0.0M430.3 162.8l0.0 0.0M433.0 170.0l0.0 0.0M430.5 142.8l0.0 0.0M427.5 177.2l0.0 0.0M428.7 186.8l0.0 0.0M424.5 144.2l0.0 0.0M431.1 156.7l0.0 0.0M423.0 163.8l0.0 0.0M439.2 159.1l0.0 0.0M433.8 157.9l0.0 0.0M434.7 146.6l0.0 0.0M428.3 160.7l0.0 0.0M434.6 168.8l0.0 0.0M436.0 182.4l0.0 0.0" stroke="#8090b0" stroke-width="1.0" stroke-linecap="round" fill="none" stroke-opacity="0.75"/>
<path d="M437.5 140.1l0.0 0.0M427.1 148.4l0.0 0.0M434.9 170.7l0.0 0.0M435.9 177.3l0.0 0.0M432.9 158.6l0.0 0.0M427.3 181.3l0.0 0.0M426.0 141.0l0.0 0.0M435.1 146.1l0.0 0.0M427.9 147.8l0.0 0.0M428.4 133.4l0.0 0.0M427.4 136.7l0.0 0.0" stroke="#8090b0" stroke-width="1.25" stroke-linecap="round" fill="none" stroke-opacity="0.75"/>
<path d="M433.1 167.7l0.0 0.0M423.9 175.2l0.0 0.0M428.6 186.3l0.0 0.0M423.7 146.4l0.0 0.0M431.7 152.4l0.0 0.0M433.0 132.7l0.0 0.0M436.3 158.5l0.0 0.0M427.7 147.8l0.0 0.0" stroke="#7886b0" stroke-width="1.25" stroke-linecap="round" fill="none" stroke-opacity="0.5"/>
<path d="M429.5 140.0l0.0 0.0M431.0 162.8l0.0 0.0M427.5 182.4l0.0 0.0M431.5 139.5l0.0 0.0M434.6 158.7l0.0 0.0M436.0 180.3l0.0 0.0M434.4 139.2l0.0 0.0M438.8 157.7l0.0 0.0M430.0 165.0l0.0 0.0M429.0 184.3l0.0 0.0M436.1 159.9l0.0 0.0M422.1 151.5l0.0 0.0M425.8 171.6l0.0 0.0M424.7 160.4l0.0 0.0M429.4 156.8l0.0 0.0M429.4 151.0l0.0 0.0M433.6 134.5l0.0 0.0M428.8 169.8l0.0 0.0M435.0 153.0l0.0 0.0M435.9 182.7l0.0 0.0M425.1 167.7l0.0 0.0M438.5 158.0l0.0 0.0M429.8 149.1l0.0 0.0M429.6 170.6l0.0 0.0M426.4 128.7l0.0 0.0M433.0 138.3l0.0 0.0M431.7 179.9l0.0 0.0M431.4 166.3l0.0 0.0M433.9 160.6l0.0 0.0M426.5 174.0l0.0 0.0M432.8 173.4l0.0 0.0M433.4 141.4l0.0 0.0M429.8 131.2l0.0 0.0M425.5 174.3l0.0 0.0M428.1 183.4l0.0 0.0M424.1 136.3l0.0 0.0M425.6 185.4l0.0 0.0M426.4 154.2l0.0 0.0M433.8 138.9l0.0 0.0M433.7 150.5l0.0 0.0M424.8 193.4l0.0 0.0M430.1 170.0l0.0 0.0M426.3 129.0l0.0 0.0M426.1 175.9l0.0 0.0" stroke="#8a94b8" stroke-width="1.0" stroke-linecap="round" fill="none" stroke-opacity="0.75"/>
<path d="M427.1 177.0l0.0 0.0M434.7 162.8l0.0 0.0M431.8 185.8l0.0 0.0M434.0 185.5l0.0 0.0M429.0 139.8l0.0 0.0M423.4 148.7l0.0 0.0M436.8 157.5l0.0 0.0M426.2 170.7l0.0 0.0M432.2 129.9l0.0 0.0M430.6 186.4l0.0 0.0M441.8 140.8l0.0 0.0M425.4 187.2l0.0 0.0M437.5 149.2l0.0 0.0M426.1 146.0l0.0 0.0M433.6 180.9l0.0 0.0M426.9 138.6l0.0 0.0M425.6 173.0l0.0 0.0M424.1 144.0l0.0 0.0M428.5 122.1l0.0 0.0M431.7 170.7l0.0 0.0" stroke="#6a7a9a" stroke-width="1.0" stroke-linecap="round" fill="none" stroke-opacity="0.5"/>
<path d="M423.1 185.6l0.0 0.0M433.0 127.6l0.0 0.0M437.1 131.8l0.0 0.0M435.4 176.8l0.0 0.0M426.1 160.4l0.0 0.0M427.3 170.1l0.0 0.0M442.5 143.5l0.0 0.0M425.3 172.9l0.0 0.0M428.4 158.0l0.0 0.0M434.9 179.0l0.0 0.0M427.5 153.6l0.0 0.0M436.8 150.4l0.0 0.0M431.1 170.3l0.0 0.0M434.3 143.0l0.0 0.0M436.9 161.1l0.0 0.0M428.3 172.5l0.0 0.0M433.3 152.6l0.0 0.0M427.5 174.5l0.0 0.0M427.1 152.7l0.0 0.0M425.7 164.7l0.0 0.0M430.8 146.5l0.0 0.0M422.2 180.9l0.0 0.0M430.0 132.4l0.0 0.0M431.6 176.3l0.0 0.0M432.9 178.9l0.0 0.0M433.5 159.9l0.0 0.0M427.9 168.1l0.0 0.0M425.6 176.5l0.0 0.0M426.8 152.6l0.0 0.0M435.6 143.5l0.0 0.0M431.1 162.0l0.0 0.0M428.5 153.9l0.0 0.0M430.7 157.3l0.0 0.0M427.5 165.7l0.0 0.0M434.7 134.3l0.0 0.0M433.0 184.6l0.0 0.0M423.2 157.0l0.0 0.0M424.0 164.6l0.0 0.0M431.7 174.1l0.0 0.0" stroke="#7886b0" stroke-width="0.75" stroke-linecap="round" fill="none" stroke-opacity="0.75"/>
<path d="M429.9 174.3l0.0 0.0M436.0 161.0l0.0 0.0M427.4 172.3l0.0 0.0M427.5 146.2l0.0 0.0M432.5 157.1l0.0 0.0M432.1 171.5l0.0 0.0M433.1 161.4l0.0 0.0M429.2 168.0l0.0 0.0M432.8 153.4l0.0 0.0M426.6 154.1l0.0 0.0M423.9 134.0l0.0 0.0M435.0 162.7l0.0 0.0M433.0 165.9l0.0 0.0M433.3 182.4l0.0 0.0M437.5 149.4l0.0 0.0M427.7 165.7l0.0 0.0M440.2 143.5l0.0 0.0M432.5 168.8l0.0 0.0M432.6 153.2l0.0 0.0" stroke="#6a78a8" stroke-width="1.0" stroke-linecap="round" fill="none" stroke-opacity="0.5"/>
<path d="M431.9 154.0l0.0 0.0M427.0 179.5l0.0 0.0M425.1 152.7l0.0 0.0M425.7 186.0l0.0 0.0M435.0 149.9l0.0 0.0M426.2 173.8l0.0 0.0M435.8 125.0l0.0 0.0M428.9 160.0l0.0 0.0M425.6 173.2l0.0 0.0M425.4 170.1l0.0 0.0M437.1 147.8l0.0 0.0M434.3 161.3l0.0 0.0M432.3 177.7l0.0 0.0M423.1 150.9l0.0 0.0M426.9 146.6l0.0 0.0M434.4 187.2l0.0 0.0M432.3 193.6l0.0 0.0M428.4 176.2l0.0 0.0M426.0 147.3l0.0 0.0M422.4 137.8l0.0 0.0M424.4 151.4l0.0 0.0M436.3 155.7l0.0 0.0M426.9 157.4l0.0 0.0M425.7 181.7l0.0 0.0M425.8 174.5l0.0 0.0M436.7 152.0l0.0 0.0M432.8 149.2l0.0 0.0M436.0 154.7l0.0 0.0M423.5 155.1l0.0 0.0M435.5 150.8l0.0 0.0M435.1 148.4l0.0 0.0M429.1 190.0l0.0 0.0M429.0 136.1l0.0 0.0M425.2 166.2l0.0 0.0M435.0 138.0l0.0 0.0M439.2 161.2l0.0 0.0M432.3 140.5l0.0 0.0M429.4 155.1l0.0 0.0" stroke="#7886b0" stroke-width="1.0" stroke-linecap="round" fill="none" stroke-opacity="0.75"/>
<path d="M426.4 144.1l0.0 0.0M436.9 130.9l0.0 0.0M432.9 144.4l0.0 0.0M432.1 146.6l0.0 0.0M429.0 185.1l0.0 0.0M428.2 158.6l0.0 0.0M427.3 167.7l0.0 0.0M425.1 154.0l0.0 0.0M431.1 147.5l0.0 0.0M434.1 140.1l0.0 0.0M427.3 176.7l0.0 0.0M431.2 167.0l0.0 0.0M423.5 188.4l0.0 0.0M432.5 167.2l0.0 0.0M427.6 166.5l0.0 0.0M439.1 141.7l0.0 0.0M432.4 129.5l0.0 0.0M427.0 157.1l0.0 0.0M429.4 177.3l0.0 0.0M433.5 167.2l0.0 0.0M423.9 146.5l0.0 0.0M427.1 193.4l0.0 0.0M438.0 155.9l0.0 0.0" stroke="#8a94b8" stroke-width="0.75" stroke-linecap="round" fill="none" stroke-opacity="0.75"/>
<path d="M432.2 138.4l0.0 0.0M425.7 168.0l0.0 0.0M433.9 156.2l0.0 0.0M425.6 152.4l0.0 0.0M434.9 128.7l0.0 0.0M433.3 163.4l0.0 0.0M427.8 165.9l0.0 0.0M435.8 153.1l0.0 0.0M429.2 154.0l0.0 0.0M434.6 171.2l0.0 0.0M437.7 171.5l0.0 0.0M428.0 132.9l0.0 0.0M423.7 158.8l0.0 0.0" stroke="#6a78a8" stroke-width="1.25" stroke-linecap="round" fill="none" stroke-opacity="0.75"/>
<path d="M431.9 153.3l0.0 0.0M430.0 139.2l0.0 0.0M425.0 176.2l0.0 0.0M430.0 139.9l0.0 0.0M426.6 153.3l0.0 0.0M424.4 181.5l0.0 0.0M433.8 139.0l0.0 0.0M425.5 162.9l0.0 0.0M434.7 149.4l0.0 0.0M431.8 129.8l0.0 0.0M422.5 184.5l0.0 0.0M426.5 130.4l0.0 0.0M433.8 160.6l0.0 0.0M432.3 131.1l0.0 0.0M433.9 148.5l0.0 0.0M433.0 163.2l0.0 0.0M426.9 181.7l0.0 0.0" stroke="#6a7a9a" stroke-width="0.75" stroke-linecap="round" fill="none" stroke-opacity="0.5"/>
<path d="M434.6 134.9l0.0 0.0M431.2 148.2l0.0 0.0M427.8 136.9l0.0 0.0M435.0 131.7l0.0 0.0M427.2 154.8l0.0 0.0M428.4 179.2l0.0 0.0M429.0 131.5l0.0 0.0" stroke="#7886b0" stroke-width="1.0" stroke-linecap="round" fill="none" stroke-opacity="0.5"/>
<path d="M430.9 144.1l0.0 0.0M432.2 135.6l0.0 0.0M428.7 150.2l0.0 0.0M430.9 147.6l0.0 0.0M433.4 147.3l0.0 0.0M425.4 134.3l0.0 0.0M437.6 156.8l0.0 0.0M426.0 187.5l0.0 0.0M430.7 124.3l0.0 0.0M431.8 176.6l0.0 0.0M434.4 152.1l0.0 0.0M425.9 172.3l0.0 0.0M426.1 154.7l0.0 0.0M433.1 166.4l0.0 0.0M434.5 161.8l0.0 0.0M424.9 170.5l0.0 0.0M429.0 122.1l0.0 0.0M427.7 141.8l0.0 0.0M426.3 145.2l0.0 0.0M429.5 136.8l0.0 0.0" stroke="#8a94b8" stroke-width="1.0" stroke-linecap="round" fill="none" stroke-opacity="0.5"/>
<path d="M437.0 180.0l0.0 0.0M434.8 134.6l0.0 0.0M432.1 137.8l0.0 0.0M424.9 148.6l0.0 0.0M427.4 147.6l0.0 0.0M425.9 162.4l0.0 0.0M426.8 161.9l0.0 0.0M428.2 164.4l0.0 0.0" stroke="#6a7a9a" stroke-width="1.25" stroke-linecap="round" fill="none" stroke-opacity="0.75"/>
<path d="M433.3 170.6l0.0 0.0M426.4 187.2l0.0 0.0M426.1 146.5l0.0 0.0M438.2 150.3l0.0 0.0M422.5 134.8l0.0 0.0M427.5 179.9l0.0 0.0M435.2 183.5l0.0 0.0M434.7 134.9l0.0 0.0M426.9 185.2l0.0 0.0M432.6 177.0l0.0 0.0M429.5 150.2l0.0 0.0M431.1 171.2l0.0 0.0M432.0 187.8l0.0 0.0M434.5 183.6l0.0 0.0M424.9 166.0l0.0 0.0M427.9 140.2l0.0 0.0M431.8 181.8l0.0 0.0M435.8 163.8l0.0 0.0M429.5 124.6l0.0 0.0M434.3 139.3l0.0 0.0M428.0 167.8l0.0 0.0M423.4 165.0l0.0 0.0M431.8 172.8l0.0 0.0M428.3 146.6l0.0 0.0M434.9 177.6l0.0 0.0M436.9 169.8l0.0 0.0M437.0 148.0l0.0 0.0M425.8 149.6l0.0 0.0M430.1 159.2l0.0 0.0M427.7 164.3l0.0 0.0M430.1 136.8l0.0 0.0M430.3 167.4l0.0 0.0M430.8 181.0l0.0 0.0M422.8 170.4l0.0 0.0M434.4 150.0l0.0 0.0M429.2 170.8l0.0 0.0M439.9 141.4l0.0 0.0M428.9 174.1l0.0 0.0M429.0 182.8l0.0 0.0M439.3 159.9l0.0 0.0M428.5 163.0l0.0 0.0M428.3 161.9l0.0 0.0M437.0 180.9l0.0 0.0" stroke="#6a7a9a" stroke-width="1.0" stroke-linecap="round" fill="none" stroke-opacity="0.75"/>
<path d="M433.7 189.5l0.0 0.0M431.1 161.9l0.0 0.0M428.5 163.8l0.0 0.0M433.2 133.3l0.0 0.0M431.0 167.0l0.0 0.0M422.3 175.2l0.0 0.0M438.5 128.9l0.0 0.0M427.5 130.4l0.0 0.0M436.1 173.8l0.0 0.0M433.9 158.7l0.0 0.0M439.9 149.7l0.0 0.0M437.4 140.1l0.0 0.0" stroke="#8090b0" stroke-width="1.0" stroke-linecap="round" fill="none"/>
<path d="M440.0 121.0l0.0 0.0M433.8 167.3l0.0 0.0M432.4 132.5l0.0 0.0M423.5 161.4l0.0 0.0M425.7 148.0l0.0 0.0M426.7 175.2l0.0 0.0M432.9 165.9l0.0 0.0M430.2 174.9l0.0 0.0M433.0 142.5l0.0 0.0M431.5 128.9l0.0 0.0M430.3 169.5l0.0 0.0M422.5 185.2l0.0 0.0M431.7 155.1l0.0 0.0M432.8 162.3l0.0 0.0M435.1 146.9l0.0 0.0M432.5 180.0l0.0 0.0M425.2 145.3l0.0 0.0" stroke="#7886b0" stroke-width="0.75" stroke-linecap="round" fill="none" stroke-opacity="0.5"/>
<path d="M427.4 148.0l0.0 0.0M433.5 143.6l0.0 0.0M438.0 132.3l0.0 0.0M429.6 163.0l0.0 0.0M427.9 166.1l0.0 0.0M434.9 148.2l0.0 0.0" stroke="#8090b0" stroke-width="0.75" stroke-linecap="round" fill="none" stroke-opacity="0.5"/>
<path d="M433.8 176.9l0.0 0.0M426.8 142.5l0.0 0.0M432.3 153.6l0.0 0.0" stroke="#6a7a9a" stroke-width="0.75" stroke-linecap="round" fill="none"/>
<path d="M428.7 152.8l0.0 0.0M423.0 153.7l0.0 0.0M423.8 157.6l0.0 0.0M429.7 164.7l0.0 0.0M429.8 174.0l0.0 0.0M428.9 160.8l0.0 0.0" stroke="#7886b0" stroke-width="1.25" stroke-linecap="round" fill="none" stroke-opacity="0.75"/>
<path d="M430.4 166.5l0.0 0.0M439.2 174.7l0.0 0.0M432.6 186.3l0.0 0.0M424.7 184.6l0.0 0.0M432.8 162.2l0.0 0.0M434.3 158.6l0.0 0.0M428.3 139.6l0.0 0.0M426.8 179.8l0.0 0.0M440.0 155.4l0.0 0.0M434.2 172.4l0.0 0.0M428.1 148.1l0.0 0.0M422.4 174.3l0.0 0.0M432.3 164.4l0.0 0.0M429.1 135.2l0.0 0.0M428.4 171.9l0.0 0.0M428.9 190.3l0.0 0.0M435.2 172.5l0.0 0.0M424.6 159.3l0.0 0.0M424.5 147.4l0.0 0.0M437.5 192.7l0.0 0.0M427.8 155.9l0.0 0.0M437.6 135.8l0.0 0.0M441.6 182.2l0.0 0.0M431.8 171.2l0.0 0.0" stroke="#6a78a8" stroke-width="0.75" stroke-linecap="round" fill="none" stroke-opacity="0.75"/>
<path d="M436.8 142.7l0.0 0.0M438.3 181.3l0.0 0.0M423.2 181.7l0.0 0.0M441.6 157.9l0.0 0.0" stroke="#6a78a8" stroke-width="1.0" stroke-linecap="round" fill="none"/>
<path d="M425.7 166.7l0.0 0.0M426.9 191.6l0.0 0.0M425.7 192.5l0.0 0.0M440.1 163.6l0.0 0.0M428.0 155.9l0.0 0.0M433.8 164.0l0.0 0.0M425.2 144.7l0.0 0.0" stroke="#8a94b8" stroke-width="1.25" stroke-linecap="round" fill="none" stroke-opacity="0.75"/>
<path d="M422.3 182.2l0.0 0.0" stroke="#8a94b8" stroke-width="1.25" stroke-linecap="round" fill="none"/>
<path d="M426.2 153.4l0.0 0.0M426.8 141.5l0.0 0.0M427.2 152.8l0.0 0.0M433.5 149.7l0.0 0.0M422.9 152.5l0.0 0.0M426.4 139.5l0.0 0.0M432.8 166.3l0.0 0.0M429.2 126.9l0.0 0.0M431.2 151.8l0.0 0.0M428.8 166.3l0.0 0.0M430.9 163.9l0.0 0.0" stroke="#6a78a8" stroke-width="0.75" stroke-linecap="round" fill="none" stroke-opacity="0.5"/>
<path d="M428.7 157.5l0.0 0.0M424.2 136.3l0.0 0.0M427.0 125.7l0.0 0.0M438.4 182.4l0.0 0.0M429.9 137.4l0.0 0.0M427.2 143.9l0.0 0.0" stroke="#6a78a8" stroke-width="1.25" stroke-linecap="round" fill="none" stroke-opacity="0.5"/>
<path d="M428.9 170.7l0.0 0.0M432.0 128.1l0.0 0.0M425.2 145.1l0.0 0.0M424.7 136.2l0.0 0.0" stroke="#8a94b8" stroke-width="1.25" stroke-linecap="round" fill="none" stroke-opacity="0.5"/>
<path d="M426.3 184.8l0.0 0.0M431.9 166.9l0.0 0.0M429.4 160.0l0.0 0.0M436.6 158.8l0.0 0.0M433.3 166.2l0.0 0.0M431.6 176.0l0.0 0.0" stroke="#6a7a9a" stroke-width="1.25" stroke-linecap="round" fill="none" stroke-opacity="0.5"/>
<path d="M426.5 159.6l0.0 0.0M435.8 179.0l0.0 0.0M426.8 185.1l0.0 0.0M431.7 190.6l0.0 0.0" stroke="#7886b0" stroke-width="0.75" stroke-linecap="round" fill="none"/>
<path d="M430.1 132.4l0.0 0.0M441.7 174.1l0.0 0.0M431.8 131.7l0.0 0.0M429.1 187.1l0.0 0.0M433.4 146.4l0.0 0.0M432.1 177.5l0.0 0.0M426.9 141.1l0.0 0.0M435.8 159.9l0.0 0.0M433.8 170.1l0.0 0.0M431.7 179.5l0.0 0.0M436.7 174.1l0.0 0.0M426.2 148.0l0.0 0.0M430.3 163.3l0.0 0.0M428.6 155.1l0.0 0.0M430.8 190.4l0.0 0.0M425.4 139.6l0.0 0.0M430.8 154.7l0.0 0.0M439.7 168.8l0.0 0.0M427.6 173.9l0.0 0.0M424.8 164.7l0.0 0.0M426.6 154.3l0.0 0.0M430.5 124.3l0.0 0.0M425.1 157.6l0.0 0.0M424.6 166.8l0.0 0.0M430.3 177.9l0.0 0.0M422.9 152.6l0.0 0.0" stroke="#8090b0" stroke-width="1.0" stroke-linecap="round" fill="none" stroke-opacity="0.5"/>
<path d="M434.4 182.2l0.0 0.0M434.4 177.6l0.0 0.0M430.1 157.9l0.0 0.0M437.6 186.7l0.0 0.0" stroke="#8a94b8" stroke-width="0.75" stroke-linecap="round" fill="none"/>
<path d="M426.2 149.1l0.0 0.0M423.8 149.6l0.0 0.0M435.1 163.4l0.0 0.0M432.5 142.2l0.0 0.0M427.2 134.9l0.0 0.0" stroke="#7886b0" stroke-width="1.0" stroke-linecap="round" fill="none"/>
<path d="M424.6 178.6l0.0 0.0M423.1 187.9l0.0 0.0M423.5 144.4l0.0 0.0M427.7 160.9l0.0 0.0M427.5 163.6l0.0 0.0M426.1 149.3l0.0 0.0M423.6 153.4l0.0 0.0M437.7 170.6l0.0 0.0M428.0 143.2l0.0 0.0M433.8 160.9l0.0 0.0" stroke="#8090b0" stroke-width="1.25" stroke-linecap="round" fill="none" stroke-opacity="0.5"/>
<path d="M434.8 166.2l0.0 0.0M431.7 122.9l0.0 0.0" stroke="#8a94b8" stroke-width="1.0" stroke-linecap="round" fill="none"/>
<path d="M432.7 152.1l0.0 0.0M431.2 147.6l0.0 0.0M432.5 138.3l0.0 0.0" stroke="#6a7a9a" stroke-width="1.0" stroke-linecap="round" fill="none"/>
<path d="M433.6 156.6l0.0 0.0M426.9 136.8l0.0 0.0M431.7 175.0l0.0 0.0M424.3 150.5l0.0 0.0M430.4 154.9l0.0 0.0M425.6 149.9l0.0 0.0M432.8 157.7l0.0 0.0M432.8 137.8l0.0 0.0M424.2 183.1l0.0 0.0M426.7 155.2l0.0 0.0" stroke="#8a94b8" stroke-width="0.75" stroke-linecap="round" fill="none" stroke-opacity="0.5"/>
<path d="M432.1 144.0l0.0 0.0M434.9 180.1l0.0 0.0" stroke="#6a78a8" stroke-width="0.75" stroke-linecap="round" fill="none"/>
<path d="M423.6 162.6l0.0 0.0" stroke="#6a7a9a" stroke-width="1.25" stroke-linecap="round" fill="none"/>
<path d="M426.5 141.4l0.0 0.0" stroke="#8090b0" stroke-width="0.75" stroke-linecap="round" fill="none"/>
<path d="M432.8 187.5l0.0 0.0M431.4 181.3l0.0 0.0M431.3 185.6l0.0 0.0M434.1 185.9l0.0 0.0M437.3 179.4l0.0 0.0M436.0 178.1l0.0 0.0M439.6 180.2l0.0 0.0M427.1 182.2l0.0 0.0M435.6 179.6l0.0 0.0M433.9 190.4l0.0 0.0M431.6 183.4l0.0 0.0M432.7 184.0l0.0 0.0M424.4 180.3l0.0 0.0M437.6 180.9l0.0 0.0M436.1 172.5l0.0 0.0M438.0 177.6l0.0 0.0M428.1 174.4l0.0 0.0M430.8 186.8l0.0 0.0" stroke="#8a9a80" stroke-width="1.25" stroke-linecap="round" fill="none" stroke-opacity="0.75"/>
<path d="M429.1 186.9l0.0 0.0M428.7 173.1l0.0 0.0M436.1 188.5l0.0 0.0M433.4 184.2l0.0 0.0M438.5 185.9l0.0 0.0M427.0 174.9l0.0 0.0M427.1 174.3l0.0 0.0M426.7 178.9l0.0 0.0M424.1 189.0l0.0 0.0M435.5 181.1l0.0 0.0M426.8 187.5l0.0 0.0M430.5 182.8l0.0 0.0M436.5 186.9l0.0 0.0M426.4 177.9l0.0 0.0M430.3 175.8l0.0 0.0M425.3 179.9l0.0 0.0M430.6 182.9l0.0 0.0" stroke="#98a070" stroke-width="1.25" stroke-linecap="round" fill="none" stroke-opacity="0.75"/>
<path d="M443.3 177.1l0.0 0.0M432.6 180.9l0.0 0.0M423.9 180.0l0.0 0.0M437.6 172.7l0.0 0.0M431.9 180.0l0.0 0.0M430.0 176.3l0.0 0.0M432.2 186.3l0.0 0.0M426.7 180.3l0.0 0.0M431.3 181.6l0.0 0.0M430.5 185.0l0.0 0.0M438.7 180.9l0.0 0.0M430.5 181.0l0.0 0.0M438.8 181.2l0.0 0.0M433.8 187.0l0.0 0.0M443.4 184.3l0.0 0.0M428.4 186.4l0.0 0.0M429.6 179.1l0.0 0.0" stroke="#b0a050" stroke-width="1.25" stroke-linecap="round" fill="none" stroke-opacity="0.75"/>
<path d="M426.7 186.6l0.0 0.0M435.8 172.4l0.0 0.0M435.7 182.6l0.0 0.0M437.6 182.2l0.0 0.0M427.7 179.9l0.0 0.0M430.4 190.0l0.0 0.0M425.5 191.4l0.0 0.0M439.2 187.3l0.0 0.0M432.0 181.6l0.0 0.0" stroke="#b0a050" stroke-width="1.5" stroke-linecap="round" fill="none" stroke-opacity="0.75"/>
<path d="M432.2 183.7l0.0 0.0M425.9 179.9l0.0 0.0M431.5 186.4l0.0 0.0M433.9 180.3l0.0 0.0" stroke="#98a070" stroke-width="1.25" stroke-linecap="round" fill="none" stroke-opacity="0.5"/>
<path d="M433.7 186.9l0.0 0.0M435.7 183.8l0.0 0.0M431.6 173.7l0.0 0.0M426.4 174.0l0.0 0.0M434.7 179.6l0.0 0.0M433.4 190.8l0.0 0.0" stroke="#b0a050" stroke-width="1.0" stroke-linecap="round" fill="none" stroke-opacity="0.75"/>
<path d="M426.3 182.9l0.0 0.0M437.9 186.6l0.0 0.0M436.8 188.0l0.0 0.0M436.1 183.8l0.0 0.0M435.0 182.0l0.0 0.0M431.7 189.5l0.0 0.0M428.8 180.1l0.0 0.0M430.1 182.6l0.0 0.0M429.5 181.1l0.0 0.0M435.1 184.5l0.0 0.0M425.8 182.5l0.0 0.0M426.0 181.2l0.0 0.0M440.0 176.9l0.0 0.0M424.0 191.7l0.0 0.0M431.2 191.4l0.0 0.0M429.0 184.0l0.0 0.0M430.5 171.9l0.0 0.0M436.4 185.3l0.0 0.0" stroke="#8090a8" stroke-width="1.5" stroke-linecap="round" fill="none" stroke-opacity="0.75"/>
<path d="M426.4 191.9l0.0 0.0M433.2 179.0l0.0 0.0M428.7 187.3l0.0 0.0M429.6 181.1l0.0 0.0M428.6 186.4l0.0 0.0M426.9 174.0l0.0 0.0M428.2 178.5l0.0 0.0M435.4 180.6l0.0 0.0M430.8 184.7l0.0 0.0M428.2 182.2l0.0 0.0M426.4 185.3l0.0 0.0M427.8 186.5l0.0 0.0M429.9 186.3l0.0 0.0M422.4 181.5l0.0 0.0" stroke="#7a8aa0" stroke-width="1.25" stroke-linecap="round" fill="none" stroke-opacity="0.75"/>
<path d="M428.0 187.5l0.0 0.0M433.7 179.3l0.0 0.0M435.0 179.4l0.0 0.0M433.7 186.4l0.0 0.0M432.5 182.4l0.0 0.0M431.3 180.0l0.0 0.0M424.5 187.4l0.0 0.0M428.0 187.0l0.0 0.0M438.9 179.3l0.0 0.0M425.3 187.7l0.0 0.0M435.6 179.7l0.0 0.0M428.2 176.0l0.0 0.0M438.2 175.7l0.0 0.0M423.6 177.9l0.0 0.0M440.8 183.7l0.0 0.0M437.3 183.2l0.0 0.0" stroke="#7a8aa0" stroke-width="1.5" stroke-linecap="round" fill="none" stroke-opacity="0.75"/>
<path d="M435.9 189.3l0.0 0.0M431.2 177.7l0.0 0.0" stroke="#98a070" stroke-width="1.0" stroke-linecap="round" fill="none"/>
<path d="M430.5 181.0l0.0 0.0M423.8 186.9l0.0 0.0" stroke="#7a8aa0" stroke-width="1.5" stroke-linecap="round" fill="none" stroke-opacity="0.5"/>
<path d="M425.9 182.1l0.0 0.0" stroke="#7a8aa0" stroke-width="1.0" stroke-linecap="round" fill="none"/>
<path d="M432.7 185.5l0.0 0.0M438.7 187.7l0.0 0.0M428.1 178.9l0.0 0.0M427.4 181.1l0.0 0.0M442.0 179.8l0.0 0.0M438.7 185.6l0.0 0.0M430.0 173.2l0.0 0.0M431.0 185.7l0.0 0.0M429.8 185.3l0.0 0.0M431.0 184.8l0.0 0.0M428.7 185.2l0.0 0.0M440.4 184.4l0.0 0.0" stroke="#8a9a80" stroke-width="1.5" stroke-linecap="round" fill="none" stroke-opacity="0.75"/>
<path d="M434.3 180.4l0.0 0.0M438.1 183.6l0.0 0.0M441.6 192.7l0.0 0.0M434.8 183.0l0.0 0.0M428.6 184.4l0.0 0.0M433.2 179.1l0.0 0.0M433.2 180.9l0.0 0.0M434.7 180.7l0.0 0.0M428.3 176.3l0.0 0.0M429.9 179.4l0.0 0.0M428.9 181.1l0.0 0.0M442.6 187.6l0.0 0.0M433.3 173.7l0.0 0.0M428.6 175.8l0.0 0.0M430.2 176.6l0.0 0.0" stroke="#8090a8" stroke-width="1.25" stroke-linecap="round" fill="none" stroke-opacity="0.75"/>
<path d="M430.7 182.9l0.0 0.0M434.0 183.4l0.0 0.0M439.2 172.3l0.0 0.0M428.9 185.1l0.0 0.0M429.2 180.5l0.0 0.0M422.1 175.2l0.0 0.0M427.6 187.6l0.0 0.0M426.0 175.9l0.0 0.0M434.1 184.2l0.0 0.0M432.4 185.3l0.0 0.0M428.9 184.5l0.0 0.0M428.4 183.1l0.0 0.0M424.7 187.5l0.0 0.0" stroke="#6a7a90" stroke-width="1.25" stroke-linecap="round" fill="none" stroke-opacity="0.75"/>
<path d="M431.9 173.6l0.0 0.0M438.0 179.8l0.0 0.0M426.2 174.2l0.0 0.0M436.4 172.6l0.0 0.0M436.6 183.7l0.0 0.0M432.6 181.4l0.0 0.0M435.3 187.0l0.0 0.0M437.5 182.8l0.0 0.0M428.4 180.8l0.0 0.0" stroke="#6a7a90" stroke-width="1.5" stroke-linecap="round" fill="none" stroke-opacity="0.75"/>
<path d="M426.2 183.6l0.0 0.0M429.8 176.5l0.0 0.0M431.9 185.7l0.0 0.0M431.6 181.9l0.0 0.0M431.0 181.7l0.0 0.0M426.6 181.0l0.0 0.0M440.8 177.7l0.0 0.0M436.5 185.9l0.0 0.0M426.2 182.9l0.0 0.0M424.0 181.6l0.0 0.0M425.5 182.7l0.0 0.0M428.2 182.2l0.0 0.0M430.3 175.2l0.0 0.0M422.1 180.5l0.0 0.0M440.6 182.0l0.0 0.0" stroke="#98a070" stroke-width="1.5" stroke-linecap="round" fill="none" stroke-opacity="0.75"/>
<path d="M430.1 177.3l0.0 0.0M436.4 180.2l0.0 0.0M434.4 184.9l0.0 0.0M425.7 186.7l0.0 0.0M427.6 176.9l0.0 0.0M428.6 175.5l0.0 0.0M429.4 180.6l0.0 0.0" stroke="#7a8aa0" stroke-width="1.0" stroke-linecap="round" fill="none" stroke-opacity="0.75"/>
<path d="M438.7 181.6l0.0 0.0M431.1 178.8l0.0 0.0M430.6 184.2l0.0 0.0" stroke="#8a9a80" stroke-width="1.5" stroke-linecap="round" fill="none"/>
<path d="M430.6 185.9l0.0 0.0M430.2 180.0l0.0 0.0M438.8 183.5l0.0 0.0M431.3 180.4l0.0 0.0M432.4 185.4l0.0 0.0M424.2 182.8l0.0 0.0M430.7 182.8l0.0 0.0M433.0 184.1l0.0 0.0M428.8 178.6l0.0 0.0M431.0 188.2l0.0 0.0" stroke="#a09a60" stroke-width="1.25" stroke-linecap="round" fill="none" stroke-opacity="0.75"/>
<path d="M434.8 176.5l0.0 0.0M438.7 181.0l0.0 0.0M430.6 188.3l0.0 0.0M430.4 176.6l0.0 0.0M430.9 179.6l0.0 0.0" stroke="#a09a60" stroke-width="1.0" stroke-linecap="round" fill="none" stroke-opacity="0.75"/>
<path d="M438.8 178.8l0.0 0.0M438.4 172.9l0.0 0.0M434.3 180.2l0.0 0.0" stroke="#a09a60" stroke-width="1.25" stroke-linecap="round" fill="none" stroke-opacity="0.5"/>
<path d="M427.8 182.3l0.0 0.0M434.5 177.7l0.0 0.0" stroke="#b0a050" stroke-width="1.5" stroke-linecap="round" fill="none" stroke-opacity="0.5"/>
<path d="M431.5 174.4l0.0 0.0M429.3 184.8l0.0 0.0M433.6 179.6l0.0 0.0M426.6 174.6l0.0 0.0M439.9 180.9l0.0 0.0M432.7 184.2l0.0 0.0M429.6 185.0l0.0 0.0" stroke="#a09a60" stroke-width="1.5" stroke-linecap="round" fill="none" stroke-opacity="0.75"/>
<path d="M434.6 175.6l0.0 0.0M431.8 185.1l0.0 0.0" stroke="#8a9a80" stroke-width="1.0" stroke-linecap="round" fill="none"/>
<path d="M429.7 179.8l0.0 0.0M428.6 180.4l0.0 0.0M437.0 178.2l0.0 0.0" stroke="#a09a60" stroke-width="1.5" stroke-linecap="round" fill="none" stroke-opacity="0.5"/>
<path d="M430.0 186.6l0.0 0.0M426.4 174.1l0.0 0.0" stroke="#7a8aa0" stroke-width="1.25" stroke-linecap="round" fill="none" stroke-opacity="0.5"/>
<path d="M435.8 176.9l0.0 0.0M430.6 184.4l0.0 0.0M422.3 176.5l0.0 0.0" stroke="#6a7a90" stroke-width="1.5" stroke-linecap="round" fill="none"/>
<path d="M422.8 180.3l0.0 0.0M423.5 187.0l0.0 0.0M428.2 182.6l0.0 0.0M431.3 172.1l0.0 0.0M439.2 180.6l0.0 0.0M437.7 177.5l0.0 0.0" stroke="#8090a8" stroke-width="1.0" stroke-linecap="round" fill="none" stroke-opacity="0.75"/>
<path d="M422.5 184.9l0.0 0.0M429.6 178.6l0.0 0.0" stroke="#6a7a90" stroke-width="1.25" stroke-linecap="round" fill="none"/>
<path d="M431.4 186.0l0.0 0.0" stroke="#a09a60" stroke-width="1.5" stroke-linecap="round" fill="none"/>
<path d="M438.5 191.0l0.0 0.0M427.6 183.5l0.0 0.0M424.3 179.8l0.0 0.0M427.2 175.6l0.0 0.0M429.6 180.5l0.0 0.0M433.7 174.8l0.0 0.0M436.0 192.1l0.0 0.0" stroke="#8a9a80" stroke-width="1.0" stroke-linecap="round" fill="none" stroke-opacity="0.75"/>
<path d="M434.5 186.5l0.0 0.0" stroke="#b0a050" stroke-width="1.5" stroke-linecap="round" fill="none"/>
<path d="M422.7 185.0l0.0 0.0" stroke="#8090a8" stroke-width="1.5" stroke-linecap="round" fill="none"/>
<path d="M424.2 187.3l0.0 0.0M436.8 179.0l0.0 0.0M426.2 178.8l0.0 0.0" stroke="#6a7a90" stroke-width="1.25" stroke-linecap="round" fill="none" stroke-opacity="0.5"/>
<path d="M432.3 179.7l0.0 0.0M427.6 184.4l0.0 0.0M431.9 183.2l0.0 0.0M428.3 180.3l0.0 0.0M433.7 185.2l0.0 0.0M426.2 182.6l0.0 0.0" stroke="#6a7a90" stroke-width="1.0" stroke-linecap="round" fill="none" stroke-opacity="0.75"/>
<path d="M430.7 179.7l0.0 0.0M433.3 182.4l0.0 0.0M424.2 175.7l0.0 0.0M428.9 181.4l0.0 0.0" stroke="#98a070" stroke-width="1.0" stroke-linecap="round" fill="none" stroke-opacity="0.75"/>
<path d="M433.8 180.6l0.0 0.0M428.7 175.4l0.0 0.0" stroke="#7a8aa0" stroke-width="1.25" stroke-linecap="round" fill="none"/>
<path d="M426.6 178.8l0.0 0.0" stroke="#a09a60" stroke-width="1.0" stroke-linecap="round" fill="none"/>
<path d="M428.1 184.0l0.0 0.0M433.5 178.1l0.0 0.0M430.5 186.0l0.0 0.0" stroke="#98a070" stroke-width="1.5" stroke-linecap="round" fill="none"/>
<path d="M423.1 180.4l0.0 0.0" stroke="#b0a050" stroke-width="1.25" stroke-linecap="round" fill="none" stroke-opacity="0.5"/>
<path d="M429.3 179.7l0.0 0.0" stroke="#98a070" stroke-width="1.0" stroke-linecap="round" fill="none" stroke-opacity="0.5"/>
<path d="M425.7 171.4l0.0 0.0" stroke="#8090a8" stroke-width="1.25" stroke-linecap="round" fill="none"/>
<path d="M431.7 180.8l0.0 0.0M432.1 189.6l0.0 0.0" stroke="#a09a60" stroke-width="1.0" stroke-linecap="round" fill="none" stroke-opacity="0.5"/>
<path d="M426.3 178.6l0.0 0.0" stroke="#98a070" stroke-width="1.5" stroke-linecap="round" fill="none" stroke-opacity="0.5"/>
<path d="M426.2 188.1l0.0 0.0" stroke="#b0a050" stroke-width="1.0" stroke-linecap="round" fill="none"/>
<path d="M432.5 177.2l0.0 0.0" stroke="#8a9a80" stroke-width="1.5" stroke-linecap="round" fill="none" stroke-opacity="0.5"/>
<path d="M457.7 191.1l0.0 0.0M458.6 133.5l0.0 0.0M455.0 132.6l0.0 0.0M477.1 137.3l0.0 0.0M491.8 152.6l0.0 0.0M462.9 151.6l0.0 0.0M488.3 114.3l0.0 0.0M495.9 128.1l0.0 0.0M461.1 153.1l0.0 0.0M481.8 190.2l0.0 0.0M449.5 159.6l0.0 0.0M484.7 177.8l0.0 0.0M474.4 128.5l0.0 0.0M471.4 134.9l0.0 0.0" stroke="#b8b8c0" stroke-width="0.75" stroke-linecap="round" fill="none" stroke-opacity="0.5"/>
<path d="M456.8 157.9l0.0 0.0M482.3 142.3l0.0 0.0M455.8 139.7l0.0 0.0M477.2 183.9l0.0 0.0" stroke="#b8b8c0" stroke-width="1.0" stroke-linecap="round" fill="none" stroke-opacity="0.75"/>
<path d="M505.1 144.2l0.0 0.0M469.0 124.6l0.0 0.0M501.4 146.1l0.0 0.0M460.1 191.8l0.0 0.0M493.9 137.9l0.0 0.0M462.9 141.7l0.0 0.0M453.8 173.7l0.0 0.0M477.3 153.5l0.0 0.0M478.7 124.1l0.0 0.0" stroke="#aaaab0" stroke-width="1.0" stroke-linecap="round" fill="none" stroke-opacity="0.5"/>
<path d="M472.2 191.9l0.0 0.0M478.6 136.8l0.0 0.0M462.5 142.9l0.0 0.0M454.2 164.9l0.0 0.0M469.8 147.2l0.0 0.0M463.7 188.2l0.0 0.0M466.1 136.9l0.0 0.0M456.8 141.2l0.0 0.0M483.9 166.3l0.0 0.0" stroke="#b8b8c0" stroke-width="1.0" stroke-linecap="round" fill="none" stroke-opacity="0.5"/>
<path d="M455.4 173.0l0.0 0.0M478.9 153.1l0.0 0.0M477.6 156.1l0.0 0.0M454.3 133.2l0.0 0.0" stroke="#aaaab0" stroke-width="1.25" stroke-linecap="round" fill="none" stroke-opacity="0.5"/>
<path d="M456.5 156.1l0.0 0.0M476.1 143.9l0.0 0.0M486.6 124.2l0.0 0.0M488.0 160.5l0.0 0.0M467.3 135.3l0.0 0.0M451.6 157.4l0.0 0.0M503.3 129.9l0.0 0.0M455.8 177.7l0.0 0.0" stroke="#aaaab0" stroke-width="0.75" stroke-linecap="round" fill="none" stroke-opacity="0.5"/>
<path d="M471.8 127.2l0.0 0.0M481.7 144.4l0.0 0.0M476.7 188.1l0.0 0.0" stroke="#aaaab0" stroke-width="0.75" stroke-linecap="round" fill="none" stroke-opacity="0.75"/>
<path d="M449.1 141.6l0.0 0.0M453.7 134.4l0.0 0.0M479.2 172.2l0.0 0.0M467.2 177.4l0.0 0.0" stroke="#aaaab0" stroke-width="1.0" stroke-linecap="round" fill="none" stroke-opacity="0.75"/>
<path d="M488.3 177.8l0.0 0.0M461.6 126.6l0.0 0.0M450.7 156.9l0.0 0.0" stroke="#b8b8c0" stroke-width="0.75" stroke-linecap="round" fill="none" stroke-opacity="0.75"/>
<path d="M481.4 119.6l0.0 0.0" stroke="#aaaab0" stroke-width="1.25" stroke-linecap="round" fill="none" stroke-opacity="0.75"/>
<path d="M463.1 137.7l0.0 0.0" stroke="#b8b8c0" stroke-width="1.25" stroke-linecap="round" fill="none" stroke-opacity="0.75"/>
</g>
<line x1="420.40" y1="12.50" x2="515.80" y2="12.50" stroke="#777" stroke-width="1.0"/>
<line x1="515.50" y1="12.60" x2="515.50" y2="99.00" stroke="#777" stroke-width="1.0"/>
<line x1="421.20" y1="111.50" x2="515.80" y2="111.50" stroke="#666" stroke-width="1.0"/>
<line x1="515.50" y1="111.60" x2="515.50" y2="196.00" stroke="#666" stroke-width="1.0"/>
<line x1="418.00" y1="99.50" x2="515.50" y2="99.50" stroke="#222" stroke-width="1.4"/>
<line x1="420.50" y1="12.30" x2="420.50" y2="99.00" stroke="#222" stroke-width="1.3"/>
<line x1="421.50" y1="111.60" x2="421.50" y2="196.00" stroke="#222" stroke-width="1.3"/>
<line x1="419.00" y1="196.50" x2="515.50" y2="196.50" stroke="#222" stroke-width="1.4"/>
<line x1="447.50" y1="12.80" x2="447.50" y2="98.50" stroke="#666" stroke-width="0.9"/>
<line x1="420.80" y1="75.50" x2="515.50" y2="75.50" stroke="#666" stroke-width="0.9"/>
<line x1="447.50" y1="112.00" x2="447.50" y2="195.50" stroke="#555" stroke-width="0.9"/>
<line x1="421.50" y1="174.50" x2="515.50" y2="174.50" stroke="#555" stroke-width="0.9"/>
<line x1="422.50" y1="99.00" x2="422.50" y2="100.60" stroke="#444" stroke-width="0.6"/>
<line x1="424.50" y1="99.00" x2="424.50" y2="100.60" stroke="#444" stroke-width="0.6"/>
<line x1="426.50" y1="99.00" x2="426.50" y2="100.60" stroke="#444" stroke-width="0.6"/>
<line x1="429.50" y1="99.00" x2="429.50" y2="100.60" stroke="#444" stroke-width="0.6"/>
<line x1="431.50" y1="99.00" x2="431.50" y2="100.60" stroke="#444" stroke-width="0.6"/>
<line x1="433.50" y1="99.00" x2="433.50" y2="100.60" stroke="#444" stroke-width="0.6"/>
<line x1="436.50" y1="99.00" x2="436.50" y2="100.60" stroke="#444" stroke-width="0.6"/>
<line x1="438.50" y1="99.00" x2="438.50" y2="100.60" stroke="#444" stroke-width="0.6"/>
<line x1="440.50" y1="99.00" x2="440.50" y2="100.60" stroke="#444" stroke-width="0.6"/>
<line x1="443.50" y1="99.00" x2="443.50" y2="100.60" stroke="#444" stroke-width="0.6"/>
<line x1="445.50" y1="99.00" x2="445.50" y2="100.60" stroke="#444" stroke-width="0.6"/>
<line x1="447.50" y1="99.00" x2="447.50" y2="100.60" stroke="#444" stroke-width="0.6"/>
<line x1="450.50" y1="99.00" x2="450.50" y2="100.60" stroke="#444" stroke-width="0.6"/>
<line x1="452.50" y1="99.00" x2="452.50" y2="100.60" stroke="#444" stroke-width="0.6"/>
<line x1="454.50" y1="99.00" x2="454.50" y2="100.60" stroke="#444" stroke-width="0.6"/>
<line x1="457.50" y1="99.00" x2="457.50" y2="100.60" stroke="#444" stroke-width="0.6"/>
<line x1="459.50" y1="99.00" x2="459.50" y2="100.60" stroke="#444" stroke-width="0.6"/>
<line x1="461.50" y1="99.00" x2="461.50" y2="100.60" stroke="#444" stroke-width="0.6"/>
<line x1="464.50" y1="99.00" x2="464.50" y2="100.60" stroke="#444" stroke-width="0.6"/>
<line x1="466.50" y1="99.00" x2="466.50" y2="100.60" stroke="#444" stroke-width="0.6"/>
<line x1="469.50" y1="99.00" x2="469.50" y2="100.60" stroke="#444" stroke-width="0.6"/>
<line x1="471.50" y1="99.00" x2="471.50" y2="100.60" stroke="#444" stroke-width="0.6"/>
<line x1="473.50" y1="99.00" x2="473.50" y2="100.60" stroke="#444" stroke-width="0.6"/>
<line x1="476.50" y1="99.00" x2="476.50" y2="100.60" stroke="#444" stroke-width="0.6"/>
<line x1="478.50" y1="99.00" x2="478.50" y2="100.60" stroke="#444" stroke-width="0.6"/>
<line x1="480.50" y1="99.00" x2="480.50" y2="100.60" stroke="#444" stroke-width="0.6"/>
<line x1="483.50" y1="99.00" x2="483.50" y2="100.60" stroke="#444" stroke-width="0.6"/>
<line x1="485.50" y1="99.00" x2="485.50" y2="100.60" stroke="#444" stroke-width="0.6"/>
<line x1="487.50" y1="99.00" x2="487.50" y2="100.60" stroke="#444" stroke-width="0.6"/>
<line x1="490.50" y1="99.00" x2="490.50" y2="100.60" stroke="#444" stroke-width="0.6"/>
<line x1="492.50" y1="99.00" x2="492.50" y2="100.60" stroke="#444" stroke-width="0.6"/>
<line x1="494.50" y1="99.00" x2="494.50" y2="100.60" stroke="#444" stroke-width="0.6"/>
<line x1="497.50" y1="99.00" x2="497.50" y2="100.60" stroke="#444" stroke-width="0.6"/>
<line x1="499.50" y1="99.00" x2="499.50" y2="100.60" stroke="#444" stroke-width="0.6"/>
<line x1="501.50" y1="99.00" x2="501.50" y2="100.60" stroke="#444" stroke-width="0.6"/>
<line x1="504.50" y1="99.00" x2="504.50" y2="100.60" stroke="#444" stroke-width="0.6"/>
<line x1="506.50" y1="99.00" x2="506.50" y2="100.60" stroke="#444" stroke-width="0.6"/>
<line x1="508.50" y1="99.00" x2="508.50" y2="100.60" stroke="#444" stroke-width="0.6"/>
<line x1="511.50" y1="99.00" x2="511.50" y2="100.60" stroke="#444" stroke-width="0.6"/>
<line x1="513.50" y1="99.00" x2="513.50" y2="100.60" stroke="#444" stroke-width="0.6"/>
<line x1="422.50" y1="196.00" x2="422.50" y2="197.60" stroke="#444" stroke-width="0.6"/>
<line x1="424.50" y1="196.00" x2="424.50" y2="197.60" stroke="#444" stroke-width="0.6"/>
<line x1="426.50" y1="196.00" x2="426.50" y2="197.60" stroke="#444" stroke-width="0.6"/>
<line x1="429.50" y1="196.00" x2="429.50" y2="197.60" stroke="#444" stroke-width="0.6"/>
<line x1="431.50" y1="196.00" x2="431.50" y2="197.60" stroke="#444" stroke-width="0.6"/>
<line x1="433.50" y1="196.00" x2="433.50" y2="197.60" stroke="#444" stroke-width="0.6"/>
<line x1="436.50" y1="196.00" x2="436.50" y2="197.60" stroke="#444" stroke-width="0.6"/>
<line x1="438.50" y1="196.00" x2="438.50" y2="197.60" stroke="#444" stroke-width="0.6"/>
<line x1="440.50" y1="196.00" x2="440.50" y2="197.60" stroke="#444" stroke-width="0.6"/>
<line x1="443.50" y1="196.00" x2="443.50" y2="197.60" stroke="#444" stroke-width="0.6"/>
<line x1="445.50" y1="196.00" x2="445.50" y2="197.60" stroke="#444" stroke-width="0.6"/>
<line x1="447.50" y1="196.00" x2="447.50" y2="197.60" stroke="#444" stroke-width="0.6"/>
<line x1="450.50" y1="196.00" x2="450.50" y2="197.60" stroke="#444" stroke-width="0.6"/>
<line x1="452.50" y1="196.00" x2="452.50" y2="197.60" stroke="#444" stroke-width="0.6"/>
<line x1="454.50" y1="196.00" x2="454.50" y2="197.60" stroke="#444" stroke-width="0.6"/>
<line x1="457.50" y1="196.00" x2="457.50" y2="197.60" stroke="#444" stroke-width="0.6"/>
<line x1="459.50" y1="196.00" x2="459.50" y2="197.60" stroke="#444" stroke-width="0.6"/>
<line x1="461.50" y1="196.00" x2="461.50" y2="197.60" stroke="#444" stroke-width="0.6"/>
<line x1="464.50" y1="196.00" x2="464.50" y2="197.60" stroke="#444" stroke-width="0.6"/>
<line x1="466.50" y1="196.00" x2="466.50" y2="197.60" stroke="#444" stroke-width="0.6"/>
<line x1="469.50" y1="196.00" x2="469.50" y2="197.60" stroke="#444" stroke-width="0.6"/>
<line x1="471.50" y1="196.00" x2="471.50" y2="197.60" stroke="#444" stroke-width="0.6"/>
<line x1="473.50" y1="196.00" x2="473.50" y2="197.60" stroke="#444" stroke-width="0.6"/>
<line x1="476.50" y1="196.00" x2="476.50" y2="197.60" stroke="#444" stroke-width="0.6"/>
<line x1="478.50" y1="196.00" x2="478.50" y2="197.60" stroke="#444" stroke-width="0.6"/>
<line x1="480.50" y1="196.00" x2="480.50" y2="197.60" stroke="#444" stroke-width="0.6"/>
<line x1="483.50" y1="196.00" x2="483.50" y2="197.60" stroke="#444" stroke-width="0.6"/>
<line x1="485.50" y1="196.00" x2="485.50" y2="197.60" stroke="#444" stroke-width="0.6"/>
<line x1="487.50" y1="196.00" x2="487.50" y2="197.60" stroke="#444" stroke-width="0.6"/>
<line x1="490.50" y1="196.00" x2="490.50" y2="197.60" stroke="#444" stroke-width="0.6"/>
<line x1="492.50" y1="196.00" x2="492.50" y2="197.60" stroke="#444" stroke-width="0.6"/>
<line x1="494.50" y1="196.00" x2="494.50" y2="197.60" stroke="#444" stroke-width="0.6"/>
<line x1="497.50" y1="196.00" x2="497.50" y2="197.60" stroke="#444" stroke-width="0.6"/>
<line x1="499.50" y1="196.00" x2="499.50" y2="197.60" stroke="#444" stroke-width="0.6"/>
<line x1="501.50" y1="196.00" x2="501.50" y2="197.60" stroke="#444" stroke-width="0.6"/>
<line x1="504.50" y1="196.00" x2="504.50" y2="197.60" stroke="#444" stroke-width="0.6"/>
<line x1="506.50" y1="196.00" x2="506.50" y2="197.60" stroke="#444" stroke-width="0.6"/>
<line x1="508.50" y1="196.00" x2="508.50" y2="197.60" stroke="#444" stroke-width="0.6"/>
<line x1="511.50" y1="196.00" x2="511.50" y2="197.60" stroke="#444" stroke-width="0.6"/>
<line x1="513.50" y1="196.00" x2="513.50" y2="197.60" stroke="#444" stroke-width="0.6"/>
<line x1="419.20" y1="97.50" x2="421.50" y2="97.50" stroke="#555" stroke-width="0.6"/>
<line x1="419.20" y1="75.50" x2="421.50" y2="75.50" stroke="#555" stroke-width="0.6"/>
<line x1="419.20" y1="54.50" x2="421.50" y2="54.50" stroke="#555" stroke-width="0.6"/>
<line x1="419.20" y1="32.50" x2="421.50" y2="32.50" stroke="#555" stroke-width="0.6"/>
<line x1="420.00" y1="194.50" x2="422.30" y2="194.50" stroke="#555" stroke-width="0.6"/>
<line x1="420.00" y1="172.50" x2="422.30" y2="172.50" stroke="#555" stroke-width="0.6"/>
<line x1="420.00" y1="151.50" x2="422.30" y2="151.50" stroke="#555" stroke-width="0.6"/>
<line x1="420.00" y1="129.50" x2="422.30" y2="129.50" stroke="#555" stroke-width="0.6"/>
<line x1="414.80" y1="201.20" x2="414.80" y2="11.50" stroke="#111" stroke-width="1.7"/>
<polyline points="411.4,14.9 414.8,11 418.2,14.9" fill="none" stroke="#111" stroke-width="1.6"/>
<line x1="414.10" y1="201.20" x2="516.20" y2="201.20" stroke="#111" stroke-width="1.7"/>
<polyline points="512.6,197.8 516.5,201.2 512.6,204.6" fill="none" stroke="#111" stroke-width="1.6"/>
<text x="469.00" y="8.20" font-size="6.1" font-weight="bold" text-anchor="middle" fill="#111" stroke="#111" stroke-width="0.3">PHA/IL-2</text>
<text x="469.00" y="108.00" font-size="6.0" font-weight="bold" text-anchor="middle" fill="#111" stroke="#111" stroke-width="0.3">IL-2 alone</text>
<text x="468.60" y="209.30" font-size="6.1" font-weight="bold" text-anchor="middle" fill="#111" stroke="#111" stroke-width="0.3">PE-Cy7:CD25</text>
<text x="0" y="0" transform="translate(410.6,100.3) rotate(-90)" font-size="6.1" font-weight="bold" text-anchor="middle" fill="#111" stroke="#111" stroke-width="0.3">FITC:HLADR</text>
<text x="422.20" y="21.00" font-size="6.9" font-weight="normal" text-anchor="start" fill="#333" stroke="#333" stroke-width="0.25">15.3</text>
<text x="513.20" y="20.80" font-size="6.9" font-weight="normal" text-anchor="end" fill="#333" stroke="#333" stroke-width="0.25">68.2</text>
<text x="424.40" y="119.30" font-size="6.9" font-weight="normal" text-anchor="start" fill="#333" stroke="#333" stroke-width="0.25">36.8</text>
<text x="513.20" y="119.30" font-size="6.9" font-weight="normal" text-anchor="end" fill="#333" stroke="#333" stroke-width="0.25">2.4</text>
</svg></body></html>
